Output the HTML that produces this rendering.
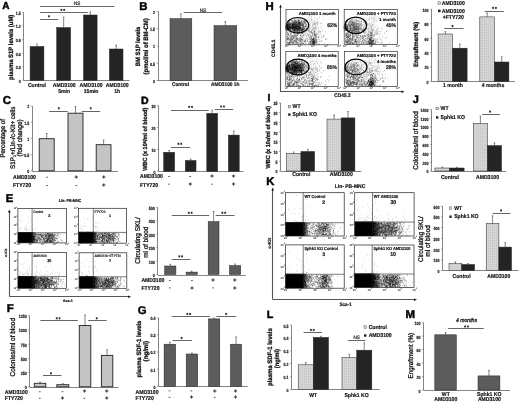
<!DOCTYPE html><html><head><meta charset="utf-8"><style>html,body{margin:0;padding:0;background:#fff}svg{display:block;will-change:transform}</style></head><body><svg width="520" height="402" viewBox="0 0 520 402" text-rendering="geometricPrecision" font-family='"Liberation Sans", sans-serif'>
<defs><filter id="bl" x="-50%" y="-50%" width="200%" height="200%"><feGaussianBlur stdDeviation="1.2"/></filter><filter id="bl2" x="-50%" y="-50%" width="200%" height="200%"><feGaussianBlur stdDeviation="0.6"/></filter><pattern id="dots" width="2" height="2" patternUnits="userSpaceOnUse"><rect width="2" height="2" fill="#d2d2d2"/><rect width="1" height="1" fill="#c6c6c6"/><rect x="1" y="1" width="1" height="1" fill="#d8d8d8"/></pattern></defs>
<rect width="520" height="402" fill="#fff"/>
<text x="2.37" y="8.95" font-size="10.07" font-weight="bold" fill="#000" stroke="#000" stroke-width="0.45">A</text>
<line x1="23.5" y1="12.5" x2="23.5" y2="80.3" stroke="#666" stroke-width="0.8"/>
<line x1="23.7" y1="80.5" x2="129.6" y2="80.5" stroke="#666" stroke-width="0.8"/>
<line x1="22.2" y1="12.5" x2="23.7" y2="12.5" stroke="#666" stroke-width="0.6"/>
<text x="20.7" y="13.45" font-size="4.61" text-anchor="end" font-weight="bold" fill="#111" dominant-baseline="central" stroke="#111" stroke-width="0.18" textLength="5" lengthAdjust="spacingAndGlyphs">1.5</text>
<line x1="22.2" y1="26" x2="23.7" y2="26" stroke="#666" stroke-width="0.6"/>
<text x="20.7" y="26.95" font-size="4.61" text-anchor="end" font-weight="bold" fill="#111" dominant-baseline="central" stroke="#111" stroke-width="0.18" textLength="5" lengthAdjust="spacingAndGlyphs">1.2</text>
<line x1="22.2" y1="39.6" x2="23.7" y2="39.6" stroke="#666" stroke-width="0.6"/>
<text x="20.7" y="40.55" font-size="4.61" text-anchor="end" font-weight="bold" fill="#111" dominant-baseline="central" stroke="#111" stroke-width="0.18" textLength="5" lengthAdjust="spacingAndGlyphs">0.9</text>
<line x1="22.2" y1="53.2" x2="23.7" y2="53.2" stroke="#666" stroke-width="0.6"/>
<text x="20.7" y="54.15" font-size="4.61" text-anchor="end" font-weight="bold" fill="#111" dominant-baseline="central" stroke="#111" stroke-width="0.18" textLength="5" lengthAdjust="spacingAndGlyphs">0.6</text>
<line x1="22.2" y1="66.8" x2="23.7" y2="66.8" stroke="#666" stroke-width="0.6"/>
<text x="20.7" y="67.75" font-size="4.61" text-anchor="end" font-weight="bold" fill="#111" dominant-baseline="central" stroke="#111" stroke-width="0.18" textLength="5" lengthAdjust="spacingAndGlyphs">0.3</text>
<line x1="22.2" y1="80.3" x2="23.7" y2="80.3" stroke="#666" stroke-width="0.6"/>
<text x="20.7" y="81.25" font-size="4.61" text-anchor="end" font-weight="bold" fill="#111" dominant-baseline="central" stroke="#111" stroke-width="0.18" textLength="2" lengthAdjust="spacingAndGlyphs">0</text>
<rect x="30.1" y="46.5" width="13.8" height="33.8" fill="#242424" stroke="#222" stroke-width="0.5"/>
<line x1="37" y1="44.1" x2="37" y2="46.5" stroke="#333" stroke-width="0.6"/>
<line x1="36.2" y1="44.1" x2="37.8" y2="44.1" stroke="#333" stroke-width="0.6"/>
<rect x="56.7" y="27.6" width="13.9" height="52.7" fill="#242424" stroke="#222" stroke-width="0.5"/>
<line x1="63.65" y1="17.1" x2="63.65" y2="27.6" stroke="#333" stroke-width="0.6"/>
<line x1="62.85" y1="17.1" x2="64.45" y2="17.1" stroke="#333" stroke-width="0.6"/>
<rect x="83.5" y="15" width="13.6" height="65.3" fill="#242424" stroke="#222" stroke-width="0.5"/>
<line x1="90.3" y1="11.9" x2="90.3" y2="15" stroke="#333" stroke-width="0.6"/>
<line x1="89.5" y1="11.9" x2="91.1" y2="11.9" stroke="#333" stroke-width="0.6"/>
<rect x="109.4" y="49" width="13.6" height="31.3" fill="#242424" stroke="#222" stroke-width="0.5"/>
<line x1="116.2" y1="45.2" x2="116.2" y2="49" stroke="#333" stroke-width="0.6"/>
<line x1="115.4" y1="45.2" x2="117" y2="45.2" stroke="#333" stroke-width="0.6"/>
<line x1="40" y1="6.5" x2="114.4" y2="6.5" stroke="#666" stroke-width="1"/>
<text x="77.2" y="3.95" font-size="5.06" text-anchor="middle" font-weight="normal" fill="#111" dominant-baseline="central" stroke="#111" stroke-width="0.18" textLength="6.39" lengthAdjust="spacingAndGlyphs">NS</text>
<line x1="40" y1="12.5" x2="87.7" y2="12.5" stroke="#666" stroke-width="1"/>
<path d="M61.4 8.8L61.4 11M62.35 9.35L60.45 10.45M62.35 10.45L60.45 9.35" stroke="#111" stroke-width="0.7"/>
<path d="M64.2 8.8L64.2 11M65.15 9.35L63.25 10.45M65.15 10.45L63.25 9.35" stroke="#111" stroke-width="0.7"/>
<line x1="40" y1="19.5" x2="58.3" y2="19.5" stroke="#666" stroke-width="1"/>
<path d="M49 15.2L49 17.4M49.95 15.75L48.05 16.85M49.95 16.85L48.05 15.75" stroke="#111" stroke-width="0.7"/>
<text x="37" y="85.65" font-size="5.61" text-anchor="middle" font-weight="bold" fill="#111" dominant-baseline="central" stroke="#111" stroke-width="0.18" textLength="18.13" lengthAdjust="spacingAndGlyphs">Control</text>
<text x="64.2" y="85.65" font-size="5.61" text-anchor="middle" font-weight="bold" fill="#111" dominant-baseline="central" stroke="#111" stroke-width="0.18" textLength="22.96" lengthAdjust="spacingAndGlyphs">AMD3100</text>
<text x="64.2" y="91.95" font-size="5.61" text-anchor="middle" font-weight="bold" fill="#111" dominant-baseline="central" stroke="#111" stroke-width="0.18" textLength="11.9" lengthAdjust="spacingAndGlyphs">5min</text>
<text x="91.1" y="85.65" font-size="5.61" text-anchor="middle" font-weight="bold" fill="#111" dominant-baseline="central" stroke="#111" stroke-width="0.18" textLength="22.96" lengthAdjust="spacingAndGlyphs">AMD3100</text>
<text x="91.1" y="91.95" font-size="5.61" text-anchor="middle" font-weight="bold" fill="#111" dominant-baseline="central" stroke="#111" stroke-width="0.18" textLength="14.74" lengthAdjust="spacingAndGlyphs">15min</text>
<text x="117.2" y="85.65" font-size="5.61" text-anchor="middle" font-weight="bold" fill="#111" dominant-baseline="central" stroke="#111" stroke-width="0.18" textLength="22.96" lengthAdjust="spacingAndGlyphs">AMD3100</text>
<text x="117.2" y="91.95" font-size="5.61" text-anchor="middle" font-weight="bold" fill="#111" dominant-baseline="central" stroke="#111" stroke-width="0.18" textLength="5.95" lengthAdjust="spacingAndGlyphs">1h</text>
<text x="11.5" y="47.3" font-size="6.38" text-anchor="middle" font-weight="bold" fill="#111" dominant-baseline="central" stroke="#111" stroke-width="0.3" transform="rotate(-90 11.5 47.3)" textLength="65.2" lengthAdjust="spacingAndGlyphs">plasma S1P levels (uM)</text>
<text x="139.34" y="9.85" font-size="11.38" font-weight="bold" fill="#000" stroke="#000" stroke-width="0.45">B</text>
<line x1="158.5" y1="11.4" x2="158.5" y2="80.3" stroke="#666" stroke-width="0.8"/>
<line x1="158" y1="80.5" x2="247.9" y2="80.5" stroke="#666" stroke-width="0.8"/>
<line x1="156.5" y1="11.4" x2="158" y2="11.4" stroke="#666" stroke-width="0.6"/>
<text x="155" y="12.35" font-size="4.61" text-anchor="end" font-weight="bold" fill="#111" dominant-baseline="central" stroke="#111" stroke-width="0.18" textLength="2" lengthAdjust="spacingAndGlyphs">2</text>
<line x1="156.5" y1="28.7" x2="158" y2="28.7" stroke="#666" stroke-width="0.6"/>
<text x="155" y="29.65" font-size="4.61" text-anchor="end" font-weight="bold" fill="#111" dominant-baseline="central" stroke="#111" stroke-width="0.18" textLength="5" lengthAdjust="spacingAndGlyphs">1.5</text>
<line x1="156.5" y1="46" x2="158" y2="46" stroke="#666" stroke-width="0.6"/>
<text x="155" y="46.95" font-size="4.61" text-anchor="end" font-weight="bold" fill="#111" dominant-baseline="central" stroke="#111" stroke-width="0.18" textLength="2" lengthAdjust="spacingAndGlyphs">1</text>
<line x1="156.5" y1="63.2" x2="158" y2="63.2" stroke="#666" stroke-width="0.6"/>
<text x="155" y="64.15" font-size="4.61" text-anchor="end" font-weight="bold" fill="#111" dominant-baseline="central" stroke="#111" stroke-width="0.18" textLength="5" lengthAdjust="spacingAndGlyphs">0.5</text>
<line x1="156.5" y1="80.5" x2="158" y2="80.5" stroke="#666" stroke-width="0.6"/>
<text x="155" y="81.45" font-size="4.61" text-anchor="end" font-weight="bold" fill="#111" dominant-baseline="central" stroke="#111" stroke-width="0.18" textLength="2" lengthAdjust="spacingAndGlyphs">0</text>
<rect x="170" y="18.7" width="21.8" height="61.8" fill="#5c5c5c" stroke="#222" stroke-width="0.5"/>
<line x1="180.9" y1="13.8" x2="180.9" y2="18.7" stroke="#333" stroke-width="0.6"/>
<line x1="180.1" y1="13.8" x2="181.7" y2="13.8" stroke="#333" stroke-width="0.6"/>
<rect x="214" y="25.6" width="22.7" height="54.9" fill="#5c5c5c" stroke="#222" stroke-width="0.5"/>
<line x1="225.35" y1="21.6" x2="225.35" y2="25.6" stroke="#333" stroke-width="0.6"/>
<line x1="224.55" y1="21.6" x2="226.15" y2="21.6" stroke="#333" stroke-width="0.6"/>
<line x1="183.8" y1="12.5" x2="222" y2="12.5" stroke="#666" stroke-width="1"/>
<text x="202.9" y="10.95" font-size="5.06" text-anchor="middle" font-weight="normal" fill="#111" dominant-baseline="central" stroke="#111" stroke-width="0.18" textLength="6.39" lengthAdjust="spacingAndGlyphs">NS</text>
<text x="180.5" y="85.45" font-size="5.28" text-anchor="middle" font-weight="bold" fill="#111" dominant-baseline="central" stroke="#111" stroke-width="0.18" textLength="17.06" lengthAdjust="spacingAndGlyphs">Control</text>
<text x="225.2" y="85.45" font-size="5.28" text-anchor="middle" font-weight="bold" fill="#111" dominant-baseline="central" stroke="#111" stroke-width="0.18" textLength="28.54" lengthAdjust="spacingAndGlyphs">AMD3100 1h</text>
<text x="138.7" y="46.45" font-size="6.31" text-anchor="middle" font-weight="bold" fill="#111" dominant-baseline="central" stroke="#111" stroke-width="0.3" transform="rotate(-90 138.7 46.45)" textLength="39.5" lengthAdjust="spacingAndGlyphs">BM S1P levels</text>
<text x="146.1" y="46.3" font-size="6.43" text-anchor="middle" font-weight="bold" fill="#111" dominant-baseline="central" stroke="#111" stroke-width="0.3" transform="rotate(-90 146.1 46.3)" textLength="56.2" lengthAdjust="spacingAndGlyphs">(pmol/ml of BM-CM)</text>
<text x="2.77" y="104.35" font-size="11.43" font-weight="bold" fill="#000" stroke="#000" stroke-width="0.45">C</text>
<line x1="32.5" y1="106" x2="32.5" y2="171" stroke="#666" stroke-width="0.8"/>
<line x1="32.2" y1="171.5" x2="118.1" y2="171.5" stroke="#666" stroke-width="0.8"/>
<line x1="30.7" y1="106" x2="32.2" y2="106" stroke="#666" stroke-width="0.6"/>
<text x="29.2" y="106.95" font-size="4.61" text-anchor="end" font-weight="bold" fill="#111" dominant-baseline="central" stroke="#111" stroke-width="0.18" textLength="2" lengthAdjust="spacingAndGlyphs">2</text>
<line x1="30.7" y1="122.2" x2="32.2" y2="122.2" stroke="#666" stroke-width="0.6"/>
<text x="29.2" y="123.15" font-size="4.61" text-anchor="end" font-weight="bold" fill="#111" dominant-baseline="central" stroke="#111" stroke-width="0.18" textLength="5" lengthAdjust="spacingAndGlyphs">1.5</text>
<line x1="30.7" y1="138.4" x2="32.2" y2="138.4" stroke="#666" stroke-width="0.6"/>
<text x="29.2" y="139.35" font-size="4.61" text-anchor="end" font-weight="bold" fill="#111" dominant-baseline="central" stroke="#111" stroke-width="0.18" textLength="2" lengthAdjust="spacingAndGlyphs">1</text>
<line x1="30.7" y1="154.6" x2="32.2" y2="154.6" stroke="#666" stroke-width="0.6"/>
<text x="29.2" y="155.55" font-size="4.61" text-anchor="end" font-weight="bold" fill="#111" dominant-baseline="central" stroke="#111" stroke-width="0.18" textLength="5" lengthAdjust="spacingAndGlyphs">0.5</text>
<line x1="30.7" y1="170.8" x2="32.2" y2="170.8" stroke="#666" stroke-width="0.6"/>
<text x="29.2" y="171.75" font-size="4.61" text-anchor="end" font-weight="bold" fill="#111" dominant-baseline="central" stroke="#111" stroke-width="0.18" textLength="2" lengthAdjust="spacingAndGlyphs">0</text>
<rect x="39.2" y="138.7" width="15" height="32.1" fill="#c4c4c4" stroke="#222" stroke-width="0.9"/>
<line x1="46.7" y1="133.5" x2="46.7" y2="138.7" stroke="#333" stroke-width="0.6"/>
<line x1="45.9" y1="133.5" x2="47.5" y2="133.5" stroke="#333" stroke-width="0.6"/>
<rect x="68" y="113.2" width="15" height="57.6" fill="#c4c4c4" stroke="#222" stroke-width="0.9"/>
<line x1="75.5" y1="106.5" x2="75.5" y2="113.2" stroke="#333" stroke-width="0.6"/>
<line x1="74.7" y1="106.5" x2="76.3" y2="106.5" stroke="#333" stroke-width="0.6"/>
<rect x="96.2" y="144.7" width="14.8" height="26.1" fill="#c4c4c4" stroke="#222" stroke-width="0.9"/>
<line x1="103.6" y1="140.2" x2="103.6" y2="144.7" stroke="#333" stroke-width="0.6"/>
<line x1="102.8" y1="140.2" x2="104.4" y2="140.2" stroke="#333" stroke-width="0.6"/>
<line x1="49.2" y1="111.5" x2="67.8" y2="111.5" stroke="#666" stroke-width="1"/>
<path d="M58.8 107.2L58.8 109.4M59.75 107.75L57.85 108.85M59.75 108.85L57.85 107.75" stroke="#111" stroke-width="0.7"/>
<line x1="81.7" y1="111.5" x2="100.2" y2="111.5" stroke="#666" stroke-width="1"/>
<path d="M90.7 107.2L90.7 109.4M91.65 107.75L89.75 108.85M91.65 108.85L89.75 107.75" stroke="#111" stroke-width="0.7"/>
<text x="4" y="138.3" font-size="6.7" text-anchor="middle" font-weight="normal" fill="#111" dominant-baseline="central" stroke="#111" stroke-width="0.3" transform="rotate(-90 4 138.3)" textLength="38.6" lengthAdjust="spacingAndGlyphs">Percentage of</text>
<text x="13.1" y="137.75" font-size="6.67" text-anchor="middle" font-weight="normal" fill="#111" dominant-baseline="central" stroke="#111" stroke-width="0.3" transform="rotate(-90 13.1 137.75)" textLength="62.5" lengthAdjust="spacingAndGlyphs">S1P<tspan font-size="3.8" dy="1.7">1</tspan><tspan dy="-1.7">+/Lin-/c-Kit+ cells</tspan></text>
<text x="20.3" y="137.85" font-size="6.87" text-anchor="middle" font-weight="normal" fill="#111" dominant-baseline="central" stroke="#111" stroke-width="0.3" transform="rotate(-90 20.3 137.85)" textLength="37.1" lengthAdjust="spacingAndGlyphs">(fold change)</text>
<text x="13" y="177.85" font-size="5.61" text-anchor="start" font-weight="bold" fill="#111" dominant-baseline="central" stroke="#111" stroke-width="0.18" textLength="22.96" lengthAdjust="spacingAndGlyphs">AMD3100</text>
<text x="13" y="186.05" font-size="5.61" text-anchor="start" font-weight="bold" fill="#111" dominant-baseline="central" stroke="#111" stroke-width="0.18" textLength="18.14" lengthAdjust="spacingAndGlyphs">FTY720</text>
<line x1="46.2" y1="177.2" x2="48" y2="177.2" stroke="#222" stroke-width="0.7"/>
<line x1="46.2" y1="185.5" x2="48" y2="185.5" stroke="#222" stroke-width="0.7"/>
<text x="76.3" y="177.85" font-size="6" text-anchor="middle" font-weight="bold" fill="#111" dominant-baseline="central" stroke="#111" stroke-width="0.18">+</text>
<line x1="75.4" y1="185.5" x2="77.2" y2="185.5" stroke="#222" stroke-width="0.7"/>
<text x="103.7" y="177.85" font-size="6" text-anchor="middle" font-weight="bold" fill="#111" dominant-baseline="central" stroke="#111" stroke-width="0.18">+</text>
<text x="103.7" y="186.15" font-size="6" text-anchor="middle" font-weight="bold" fill="#111" dominant-baseline="central" stroke="#111" stroke-width="0.18">+</text>
<text x="140.89" y="103.95" font-size="10.58" font-weight="bold" fill="#000" stroke="#000" stroke-width="0.45">D</text>
<line x1="158.5" y1="105.6" x2="158.5" y2="171.2" stroke="#666" stroke-width="0.8"/>
<line x1="158.5" y1="171.5" x2="243.5" y2="171.5" stroke="#666" stroke-width="0.8"/>
<line x1="157" y1="105.6" x2="158.5" y2="105.6" stroke="#666" stroke-width="0.6"/>
<text x="155.5" y="106.55" font-size="4.61" text-anchor="end" font-weight="bold" fill="#111" dominant-baseline="central" stroke="#111" stroke-width="0.18" textLength="4" lengthAdjust="spacingAndGlyphs">30</text>
<line x1="157" y1="127.5" x2="158.5" y2="127.5" stroke="#666" stroke-width="0.6"/>
<text x="155.5" y="128.45" font-size="4.61" text-anchor="end" font-weight="bold" fill="#111" dominant-baseline="central" stroke="#111" stroke-width="0.18" textLength="4" lengthAdjust="spacingAndGlyphs">20</text>
<line x1="157" y1="149.4" x2="158.5" y2="149.4" stroke="#666" stroke-width="0.6"/>
<text x="155.5" y="150.35" font-size="4.61" text-anchor="end" font-weight="bold" fill="#111" dominant-baseline="central" stroke="#111" stroke-width="0.18" textLength="4" lengthAdjust="spacingAndGlyphs">10</text>
<line x1="157" y1="171.3" x2="158.5" y2="171.3" stroke="#666" stroke-width="0.6"/>
<text x="155.5" y="172.25" font-size="4.61" text-anchor="end" font-weight="bold" fill="#111" dominant-baseline="central" stroke="#111" stroke-width="0.18" textLength="2" lengthAdjust="spacingAndGlyphs">0</text>
<rect x="163.7" y="152.3" width="10.9" height="19" fill="#242424" stroke="#222" stroke-width="0.5"/>
<line x1="169.15" y1="150.6" x2="169.15" y2="152.3" stroke="#333" stroke-width="0.6"/>
<line x1="168.35" y1="150.6" x2="169.95" y2="150.6" stroke="#333" stroke-width="0.6"/>
<rect x="185.3" y="160.5" width="10.7" height="10.8" fill="#242424" stroke="#222" stroke-width="0.5"/>
<line x1="190.65" y1="159.2" x2="190.65" y2="160.5" stroke="#333" stroke-width="0.6"/>
<line x1="189.85" y1="159.2" x2="191.45" y2="159.2" stroke="#333" stroke-width="0.6"/>
<rect x="206.8" y="113.4" width="10.8" height="57.9" fill="#242424" stroke="#222" stroke-width="0.5"/>
<line x1="212.2" y1="110.1" x2="212.2" y2="113.4" stroke="#333" stroke-width="0.6"/>
<line x1="211.4" y1="110.1" x2="213" y2="110.1" stroke="#333" stroke-width="0.6"/>
<rect x="228.4" y="135.1" width="10.8" height="36.2" fill="#242424" stroke="#222" stroke-width="0.5"/>
<line x1="233.8" y1="131" x2="233.8" y2="135.1" stroke="#333" stroke-width="0.6"/>
<line x1="233" y1="131" x2="234.6" y2="131" stroke="#333" stroke-width="0.6"/>
<line x1="171.1" y1="110.5" x2="208.7" y2="110.5" stroke="#666" stroke-width="1"/>
<path d="M189.2 105.8L189.2 108M190.15 106.35L188.25 107.45M190.15 107.45L188.25 106.35" stroke="#111" stroke-width="0.7"/>
<path d="M192 105.8L192 108M192.95 106.35L191.05 107.45M192.95 107.45L191.05 106.35" stroke="#111" stroke-width="0.7"/>
<line x1="214.7" y1="109.5" x2="233.2" y2="109.5" stroke="#666" stroke-width="1"/>
<path d="M221.1 105.4L221.1 107.6M222.05 105.95L220.15 107.05M222.05 107.05L220.15 105.95" stroke="#111" stroke-width="0.7"/>
<path d="M223.9 105.4L223.9 107.6M224.85 105.95L222.95 107.05M224.85 107.05L222.95 105.95" stroke="#111" stroke-width="0.7"/>
<line x1="171.1" y1="147.5" x2="190.2" y2="147.5" stroke="#666" stroke-width="1"/>
<path d="M178.4 142.7L178.4 144.9M179.35 143.25L177.45 144.35M179.35 144.35L177.45 143.25" stroke="#111" stroke-width="0.7"/>
<path d="M181.2 142.7L181.2 144.9M182.15 143.25L180.25 144.35M182.15 144.35L180.25 143.25" stroke="#111" stroke-width="0.7"/>
<text x="146.1" y="139.2" font-size="5.92" text-anchor="middle" font-weight="bold" fill="#111" dominant-baseline="central" stroke="#111" stroke-width="0.3" transform="rotate(-90 146.1 139.2)" textLength="63" lengthAdjust="spacingAndGlyphs">WBC (x 10<tspan font-size="4" dy="-1.8">6</tspan><tspan dy="1.8">/ml of blood)</tspan></text>
<text x="140" y="177.35" font-size="5.61" text-anchor="start" font-weight="bold" fill="#111" dominant-baseline="central" stroke="#111" stroke-width="0.18" textLength="22.96" lengthAdjust="spacingAndGlyphs">AMD3100</text>
<text x="140" y="185.55" font-size="5.61" text-anchor="start" font-weight="bold" fill="#111" dominant-baseline="central" stroke="#111" stroke-width="0.18" textLength="18.14" lengthAdjust="spacingAndGlyphs">FTY720</text>
<line x1="168.1" y1="176.5" x2="169.9" y2="176.5" stroke="#222" stroke-width="0.7"/>
<line x1="168.1" y1="184.2" x2="169.9" y2="184.2" stroke="#222" stroke-width="0.7"/>
<line x1="189.3" y1="176.5" x2="191.1" y2="176.5" stroke="#222" stroke-width="0.7"/>
<text x="190.2" y="184.85" font-size="6" text-anchor="middle" font-weight="bold" fill="#111" dominant-baseline="central" stroke="#111" stroke-width="0.18">+</text>
<text x="212" y="177.15" font-size="6" text-anchor="middle" font-weight="bold" fill="#111" dominant-baseline="central" stroke="#111" stroke-width="0.18">+</text>
<line x1="211.1" y1="184.2" x2="212.9" y2="184.2" stroke="#222" stroke-width="0.7"/>
<text x="233.5" y="177.15" font-size="6" text-anchor="middle" font-weight="bold" fill="#111" dominant-baseline="central" stroke="#111" stroke-width="0.18">+</text>
<text x="233.5" y="184.85" font-size="6" text-anchor="middle" font-weight="bold" fill="#111" dominant-baseline="central" stroke="#111" stroke-width="0.18">+</text>
<text x="6.74" y="311.95" font-size="11.45" font-weight="bold" fill="#000" stroke="#000" stroke-width="0.45">F</text>
<line x1="29.5" y1="315.7" x2="29.5" y2="387.2" stroke="#666" stroke-width="0.8"/>
<line x1="29.7" y1="387.5" x2="118.5" y2="387.5" stroke="#666" stroke-width="0.8"/>
<line x1="28.2" y1="315.7" x2="29.7" y2="315.7" stroke="#666" stroke-width="0.6"/>
<text x="26.7" y="316.65" font-size="4.61" text-anchor="end" font-weight="bold" fill="#111" dominant-baseline="central" stroke="#111" stroke-width="0.18" textLength="8.01" lengthAdjust="spacingAndGlyphs">1250</text>
<line x1="28.2" y1="330" x2="29.7" y2="330" stroke="#666" stroke-width="0.6"/>
<text x="26.7" y="330.95" font-size="4.61" text-anchor="end" font-weight="bold" fill="#111" dominant-baseline="central" stroke="#111" stroke-width="0.18" textLength="8.01" lengthAdjust="spacingAndGlyphs">1000</text>
<line x1="28.2" y1="344.2" x2="29.7" y2="344.2" stroke="#666" stroke-width="0.6"/>
<text x="26.7" y="345.15" font-size="4.61" text-anchor="end" font-weight="bold" fill="#111" dominant-baseline="central" stroke="#111" stroke-width="0.18" textLength="6.01" lengthAdjust="spacingAndGlyphs">750</text>
<line x1="28.2" y1="358.4" x2="29.7" y2="358.4" stroke="#666" stroke-width="0.6"/>
<text x="26.7" y="359.35" font-size="4.61" text-anchor="end" font-weight="bold" fill="#111" dominant-baseline="central" stroke="#111" stroke-width="0.18" textLength="6.01" lengthAdjust="spacingAndGlyphs">500</text>
<line x1="28.2" y1="372.6" x2="29.7" y2="372.6" stroke="#666" stroke-width="0.6"/>
<text x="26.7" y="373.55" font-size="4.61" text-anchor="end" font-weight="bold" fill="#111" dominant-baseline="central" stroke="#111" stroke-width="0.18" textLength="6.01" lengthAdjust="spacingAndGlyphs">250</text>
<line x1="28.2" y1="386.8" x2="29.7" y2="386.8" stroke="#666" stroke-width="0.6"/>
<text x="26.7" y="387.75" font-size="4.61" text-anchor="end" font-weight="bold" fill="#111" dominant-baseline="central" stroke="#111" stroke-width="0.18" textLength="2" lengthAdjust="spacingAndGlyphs">0</text>
<rect x="34.3" y="383.3" width="11.5" height="3.5" fill="#c4c4c4" stroke="#222" stroke-width="0.9"/>
<line x1="40.05" y1="382" x2="40.05" y2="383.3" stroke="#333" stroke-width="0.6"/>
<line x1="39.25" y1="382" x2="40.85" y2="382" stroke="#333" stroke-width="0.6"/>
<rect x="56.8" y="384.7" width="12" height="2.1" fill="#c4c4c4" stroke="#222" stroke-width="0.9"/>
<line x1="62.8" y1="383.6" x2="62.8" y2="384.7" stroke="#333" stroke-width="0.6"/>
<line x1="62" y1="383.6" x2="63.6" y2="383.6" stroke="#333" stroke-width="0.6"/>
<rect x="79.3" y="325.5" width="11.5" height="61.3" fill="#c4c4c4" stroke="#222" stroke-width="0.9"/>
<line x1="85.05" y1="315" x2="85.05" y2="325.5" stroke="#333" stroke-width="0.6"/>
<line x1="84.25" y1="315" x2="85.85" y2="315" stroke="#333" stroke-width="0.6"/>
<rect x="101.4" y="355.4" width="11.4" height="31.4" fill="#c4c4c4" stroke="#222" stroke-width="0.9"/>
<line x1="107.1" y1="349.8" x2="107.1" y2="355.4" stroke="#333" stroke-width="0.6"/>
<line x1="106.3" y1="349.8" x2="107.9" y2="349.8" stroke="#333" stroke-width="0.6"/>
<line x1="40.4" y1="320.5" x2="77.8" y2="320.5" stroke="#666" stroke-width="1"/>
<path d="M56.7 317.2L56.7 319.4M57.65 317.75L55.75 318.85M57.65 318.85L55.75 317.75" stroke="#111" stroke-width="0.7"/>
<path d="M59.5 317.2L59.5 319.4M60.45 317.75L58.55 318.85M60.45 318.85L58.55 317.75" stroke="#111" stroke-width="0.7"/>
<line x1="88.2" y1="320.5" x2="106.7" y2="320.5" stroke="#666" stroke-width="1"/>
<path d="M96.7 317.2L96.7 319.4M97.65 317.75L95.75 318.85M97.65 318.85L95.75 317.75" stroke="#111" stroke-width="0.7"/>
<line x1="43" y1="375.5" x2="61.5" y2="375.5" stroke="#666" stroke-width="1"/>
<path d="M50.9 372.2L50.9 374.4M51.85 372.75L49.95 373.85M51.85 373.85L49.95 372.75" stroke="#111" stroke-width="0.7"/>
<text x="13.2" y="347.2" font-size="6.96" text-anchor="middle" font-weight="normal" fill="#111" dominant-baseline="central" stroke="#111" stroke-width="0.3" transform="rotate(-90 13.2 347.2)" textLength="58.4" lengthAdjust="spacingAndGlyphs">Colonies/ml of blood</text>
<text x="4.8" y="393.35" font-size="5.61" text-anchor="start" font-weight="bold" fill="#111" dominant-baseline="central" stroke="#111" stroke-width="0.18" textLength="22.96" lengthAdjust="spacingAndGlyphs">AMD3100</text>
<text x="4.8" y="399.25" font-size="5.61" text-anchor="start" font-weight="bold" fill="#111" dominant-baseline="central" stroke="#111" stroke-width="0.18" textLength="18.14" lengthAdjust="spacingAndGlyphs">FTY720</text>
<line x1="38.9" y1="391.7" x2="40.7" y2="391.7" stroke="#222" stroke-width="0.7"/>
<line x1="38.9" y1="398.4" x2="40.7" y2="398.4" stroke="#222" stroke-width="0.7"/>
<line x1="61.5" y1="391.7" x2="63.3" y2="391.7" stroke="#222" stroke-width="0.7"/>
<text x="62.4" y="399.05" font-size="6" text-anchor="middle" font-weight="bold" fill="#111" dominant-baseline="central" stroke="#111" stroke-width="0.18">+</text>
<text x="84.4" y="392.35" font-size="6" text-anchor="middle" font-weight="bold" fill="#111" dominant-baseline="central" stroke="#111" stroke-width="0.18">+</text>
<line x1="83.5" y1="398.4" x2="85.3" y2="398.4" stroke="#222" stroke-width="0.7"/>
<text x="106.8" y="392.35" font-size="6" text-anchor="middle" font-weight="bold" fill="#111" dominant-baseline="central" stroke="#111" stroke-width="0.18">+</text>
<text x="106.8" y="399.05" font-size="6" text-anchor="middle" font-weight="bold" fill="#111" dominant-baseline="central" stroke="#111" stroke-width="0.18">+</text>
<text x="137.76" y="313.95" font-size="11.29" font-weight="bold" fill="#000" stroke="#000" stroke-width="0.45">G</text>
<line x1="158.5" y1="317.8" x2="158.5" y2="386.3" stroke="#666" stroke-width="0.8"/>
<line x1="158.5" y1="386.5" x2="247.7" y2="386.5" stroke="#666" stroke-width="0.8"/>
<line x1="157" y1="317.8" x2="158.5" y2="317.8" stroke="#666" stroke-width="0.6"/>
<text x="155.5" y="318.75" font-size="4.61" text-anchor="end" font-weight="bold" fill="#111" dominant-baseline="central" stroke="#111" stroke-width="0.18" textLength="5" lengthAdjust="spacingAndGlyphs">0.4</text>
<line x1="157" y1="334.9" x2="158.5" y2="334.9" stroke="#666" stroke-width="0.6"/>
<text x="155.5" y="335.85" font-size="4.61" text-anchor="end" font-weight="bold" fill="#111" dominant-baseline="central" stroke="#111" stroke-width="0.18" textLength="5" lengthAdjust="spacingAndGlyphs">0.3</text>
<line x1="157" y1="352" x2="158.5" y2="352" stroke="#666" stroke-width="0.6"/>
<text x="155.5" y="352.95" font-size="4.61" text-anchor="end" font-weight="bold" fill="#111" dominant-baseline="central" stroke="#111" stroke-width="0.18" textLength="5" lengthAdjust="spacingAndGlyphs">0.2</text>
<line x1="157" y1="369.2" x2="158.5" y2="369.2" stroke="#666" stroke-width="0.6"/>
<text x="155.5" y="370.15" font-size="4.61" text-anchor="end" font-weight="bold" fill="#111" dominant-baseline="central" stroke="#111" stroke-width="0.18" textLength="5" lengthAdjust="spacingAndGlyphs">0.1</text>
<line x1="157" y1="386.3" x2="158.5" y2="386.3" stroke="#666" stroke-width="0.6"/>
<text x="155.5" y="387.25" font-size="4.61" text-anchor="end" font-weight="bold" fill="#111" dominant-baseline="central" stroke="#111" stroke-width="0.18" textLength="2" lengthAdjust="spacingAndGlyphs">0</text>
<rect x="164.1" y="344.2" width="11.5" height="42.1" fill="#5c5c5c" stroke="#222" stroke-width="0.5"/>
<line x1="169.85" y1="342.3" x2="169.85" y2="344.2" stroke="#333" stroke-width="0.6"/>
<line x1="169.05" y1="342.3" x2="170.65" y2="342.3" stroke="#333" stroke-width="0.6"/>
<rect x="186.2" y="354" width="11.5" height="32.3" fill="#5c5c5c" stroke="#222" stroke-width="0.5"/>
<line x1="191.95" y1="353" x2="191.95" y2="354" stroke="#333" stroke-width="0.6"/>
<line x1="191.15" y1="353" x2="192.75" y2="353" stroke="#333" stroke-width="0.6"/>
<rect x="208.5" y="318.9" width="11.3" height="67.4" fill="#5c5c5c" stroke="#222" stroke-width="0.5"/>
<line x1="214.15" y1="318" x2="214.15" y2="318.9" stroke="#333" stroke-width="0.6"/>
<line x1="213.35" y1="318" x2="214.95" y2="318" stroke="#333" stroke-width="0.6"/>
<rect x="230.5" y="344.2" width="11.1" height="42.1" fill="#5c5c5c" stroke="#222" stroke-width="0.5"/>
<line x1="236.05" y1="336.9" x2="236.05" y2="344.2" stroke="#333" stroke-width="0.6"/>
<line x1="235.25" y1="336.9" x2="236.85" y2="336.9" stroke="#333" stroke-width="0.6"/>
<line x1="171.8" y1="316.5" x2="209.8" y2="316.5" stroke="#666" stroke-width="1"/>
<path d="M187.4 312.9L187.4 315.1M188.35 313.45L186.45 314.55M188.35 314.55L186.45 313.45" stroke="#111" stroke-width="0.7"/>
<path d="M190.2 312.9L190.2 315.1M191.15 313.45L189.25 314.55M191.15 314.55L189.25 313.45" stroke="#111" stroke-width="0.7"/>
<line x1="216.4" y1="316.5" x2="236" y2="316.5" stroke="#666" stroke-width="1"/>
<path d="M226.2 312.9L226.2 315.1M227.15 313.45L225.25 314.55M227.15 314.55L225.25 313.45" stroke="#111" stroke-width="0.7"/>
<line x1="172.7" y1="340.5" x2="191.9" y2="340.5" stroke="#666" stroke-width="1"/>
<path d="M181.6 336.9L181.6 339.1M182.55 337.45L180.65 338.55M182.55 338.55L180.65 337.45" stroke="#111" stroke-width="0.7"/>
<text x="139.9" y="349.05" font-size="6.33" text-anchor="middle" font-weight="bold" fill="#111" dominant-baseline="central" stroke="#111" stroke-width="0.3" transform="rotate(-90 139.9 349.05)" textLength="56.7" lengthAdjust="spacingAndGlyphs">plasma SDF-1 levels</text>
<text x="146.5" y="351.15" font-size="6.64" text-anchor="middle" font-weight="bold" fill="#111" dominant-baseline="central" stroke="#111" stroke-width="0.3" transform="rotate(-90 146.5 351.15)" textLength="20.5" lengthAdjust="spacingAndGlyphs">(ng/ml)</text>
<text x="135.6" y="392.85" font-size="5.61" text-anchor="start" font-weight="bold" fill="#111" dominant-baseline="central" stroke="#111" stroke-width="0.18" textLength="22.96" lengthAdjust="spacingAndGlyphs">AMD3100</text>
<text x="135.6" y="399.25" font-size="5.61" text-anchor="start" font-weight="bold" fill="#111" dominant-baseline="central" stroke="#111" stroke-width="0.18" textLength="18.14" lengthAdjust="spacingAndGlyphs">FTY720</text>
<line x1="168.6" y1="390.9" x2="170.4" y2="390.9" stroke="#222" stroke-width="0.7"/>
<line x1="168.6" y1="397.4" x2="170.4" y2="397.4" stroke="#222" stroke-width="0.7"/>
<line x1="190.5" y1="390.9" x2="192.3" y2="390.9" stroke="#222" stroke-width="0.7"/>
<text x="191.4" y="398.05" font-size="6" text-anchor="middle" font-weight="bold" fill="#111" dominant-baseline="central" stroke="#111" stroke-width="0.18">+</text>
<text x="214.7" y="391.55" font-size="6" text-anchor="middle" font-weight="bold" fill="#111" dominant-baseline="central" stroke="#111" stroke-width="0.18">+</text>
<line x1="213.8" y1="397.4" x2="215.6" y2="397.4" stroke="#222" stroke-width="0.7"/>
<text x="235.5" y="391.55" font-size="6" text-anchor="middle" font-weight="bold" fill="#111" dominant-baseline="central" stroke="#111" stroke-width="0.18">+</text>
<text x="235.5" y="398.05" font-size="6" text-anchor="middle" font-weight="bold" fill="#111" dominant-baseline="central" stroke="#111" stroke-width="0.18">+</text>
<line x1="157.5" y1="207.5" x2="157.5" y2="275" stroke="#666" stroke-width="0.8"/>
<line x1="157.8" y1="275.5" x2="245.8" y2="275.5" stroke="#666" stroke-width="0.8"/>
<line x1="156.3" y1="207.5" x2="157.8" y2="207.5" stroke="#666" stroke-width="0.6"/>
<text x="154.8" y="208.45" font-size="4.61" text-anchor="end" font-weight="bold" fill="#111" dominant-baseline="central" stroke="#111" stroke-width="0.18" textLength="6.01" lengthAdjust="spacingAndGlyphs">500</text>
<line x1="156.3" y1="220.9" x2="157.8" y2="220.9" stroke="#666" stroke-width="0.6"/>
<text x="154.8" y="221.85" font-size="4.61" text-anchor="end" font-weight="bold" fill="#111" dominant-baseline="central" stroke="#111" stroke-width="0.18" textLength="6.01" lengthAdjust="spacingAndGlyphs">400</text>
<line x1="156.3" y1="234.3" x2="157.8" y2="234.3" stroke="#666" stroke-width="0.6"/>
<text x="154.8" y="235.25" font-size="4.61" text-anchor="end" font-weight="bold" fill="#111" dominant-baseline="central" stroke="#111" stroke-width="0.18" textLength="6.01" lengthAdjust="spacingAndGlyphs">300</text>
<line x1="156.3" y1="247.7" x2="157.8" y2="247.7" stroke="#666" stroke-width="0.6"/>
<text x="154.8" y="248.65" font-size="4.61" text-anchor="end" font-weight="bold" fill="#111" dominant-baseline="central" stroke="#111" stroke-width="0.18" textLength="6.01" lengthAdjust="spacingAndGlyphs">200</text>
<line x1="156.3" y1="261.1" x2="157.8" y2="261.1" stroke="#666" stroke-width="0.6"/>
<text x="154.8" y="262.05" font-size="4.61" text-anchor="end" font-weight="bold" fill="#111" dominant-baseline="central" stroke="#111" stroke-width="0.18" textLength="6.01" lengthAdjust="spacingAndGlyphs">100</text>
<line x1="156.3" y1="274.5" x2="157.8" y2="274.5" stroke="#666" stroke-width="0.6"/>
<text x="154.8" y="275.45" font-size="4.61" text-anchor="end" font-weight="bold" fill="#111" dominant-baseline="central" stroke="#111" stroke-width="0.18" textLength="2" lengthAdjust="spacingAndGlyphs">0</text>
<rect x="164.7" y="266" width="11.2" height="8.5" fill="#5c5c5c" stroke="#222" stroke-width="0.5"/>
<line x1="170.3" y1="264.3" x2="170.3" y2="266" stroke="#333" stroke-width="0.6"/>
<line x1="169.5" y1="264.3" x2="171.1" y2="264.3" stroke="#333" stroke-width="0.6"/>
<rect x="186.1" y="272.1" width="11.2" height="2.4" fill="#5c5c5c" stroke="#222" stroke-width="0.5"/>
<line x1="191.7" y1="271.2" x2="191.7" y2="272.1" stroke="#333" stroke-width="0.6"/>
<line x1="190.9" y1="271.2" x2="192.5" y2="271.2" stroke="#333" stroke-width="0.6"/>
<rect x="208.2" y="221.6" width="10.8" height="52.9" fill="#5c5c5c" stroke="#222" stroke-width="0.5"/>
<line x1="213.6" y1="211.5" x2="213.6" y2="221.6" stroke="#333" stroke-width="0.6"/>
<line x1="212.8" y1="211.5" x2="214.4" y2="211.5" stroke="#333" stroke-width="0.6"/>
<rect x="229.5" y="265.6" width="11.2" height="8.9" fill="#5c5c5c" stroke="#222" stroke-width="0.5"/>
<line x1="235.1" y1="264" x2="235.1" y2="265.6" stroke="#333" stroke-width="0.6"/>
<line x1="234.3" y1="264" x2="235.9" y2="264" stroke="#333" stroke-width="0.6"/>
<line x1="171.8" y1="215.5" x2="209.1" y2="215.5" stroke="#666" stroke-width="1"/>
<path d="M188.8 211.7L188.8 213.9M189.75 212.25L187.85 213.35M189.75 213.35L187.85 212.25" stroke="#111" stroke-width="0.7"/>
<path d="M191.6 211.7L191.6 213.9M192.55 212.25L190.65 213.35M192.55 213.35L190.65 212.25" stroke="#111" stroke-width="0.7"/>
<line x1="215.7" y1="215.5" x2="234.6" y2="215.5" stroke="#666" stroke-width="1"/>
<path d="M222.4 211.7L222.4 213.9M223.35 212.25L221.45 213.35M223.35 213.35L221.45 212.25" stroke="#111" stroke-width="0.7"/>
<path d="M225.2 211.7L225.2 213.9M226.15 212.25L224.25 213.35M226.15 213.35L224.25 212.25" stroke="#111" stroke-width="0.7"/>
<line x1="171.8" y1="259.5" x2="190.5" y2="259.5" stroke="#666" stroke-width="1"/>
<path d="M179.3 255.3L179.3 257.5M180.25 255.85L178.35 256.95M180.25 256.95L178.35 255.85" stroke="#111" stroke-width="0.7"/>
<path d="M182.1 255.3L182.1 257.5M183.05 255.85L181.15 256.95M183.05 256.95L181.15 255.85" stroke="#111" stroke-width="0.7"/>
<text x="138.7" y="240.45" font-size="7" text-anchor="middle" font-weight="normal" fill="#111" dominant-baseline="central" stroke="#111" stroke-width="0.3" transform="rotate(-90 138.7 240.45)" textLength="46.5" lengthAdjust="spacingAndGlyphs">Circulating SKL/</text>
<text x="146.1" y="242.2" font-size="6.84" text-anchor="middle" font-weight="normal" fill="#111" dominant-baseline="central" stroke="#111" stroke-width="0.3" transform="rotate(-90 146.1 242.2)" textLength="31" lengthAdjust="spacingAndGlyphs">ml of blood</text>
<text x="141.4" y="281.35" font-size="5.61" text-anchor="start" font-weight="bold" fill="#111" dominant-baseline="central" stroke="#111" stroke-width="0.18" textLength="22.96" lengthAdjust="spacingAndGlyphs">AMD3100</text>
<text x="141.4" y="288.65" font-size="5.61" text-anchor="start" font-weight="bold" fill="#111" dominant-baseline="central" stroke="#111" stroke-width="0.18" textLength="18.14" lengthAdjust="spacingAndGlyphs">FTY720</text>
<line x1="168.9" y1="280.5" x2="170.7" y2="280.5" stroke="#222" stroke-width="0.7"/>
<line x1="168.9" y1="287.9" x2="170.7" y2="287.9" stroke="#222" stroke-width="0.7"/>
<line x1="191" y1="280.5" x2="192.8" y2="280.5" stroke="#222" stroke-width="0.7"/>
<text x="191.9" y="288.55" font-size="6" text-anchor="middle" font-weight="bold" fill="#111" dominant-baseline="central" stroke="#111" stroke-width="0.18">+</text>
<text x="213.1" y="281.15" font-size="6" text-anchor="middle" font-weight="bold" fill="#111" dominant-baseline="central" stroke="#111" stroke-width="0.18">+</text>
<line x1="212.2" y1="287.9" x2="214" y2="287.9" stroke="#222" stroke-width="0.7"/>
<text x="234.8" y="281.15" font-size="6" text-anchor="middle" font-weight="bold" fill="#111" dominant-baseline="central" stroke="#111" stroke-width="0.18">+</text>
<text x="234.8" y="288.55" font-size="6" text-anchor="middle" font-weight="bold" fill="#111" dominant-baseline="central" stroke="#111" stroke-width="0.18">+</text>
<line x1="431.5" y1="9.2" x2="431.5" y2="81.4" stroke="#666" stroke-width="0.8"/>
<line x1="431.6" y1="81.5" x2="515" y2="81.5" stroke="#666" stroke-width="0.8"/>
<line x1="430.1" y1="9.2" x2="431.6" y2="9.2" stroke="#666" stroke-width="0.6"/>
<text x="428.6" y="10.15" font-size="4.61" text-anchor="end" font-weight="bold" fill="#111" dominant-baseline="central" stroke="#111" stroke-width="0.18" textLength="6.01" lengthAdjust="spacingAndGlyphs">100</text>
<line x1="430.1" y1="23.7" x2="431.6" y2="23.7" stroke="#666" stroke-width="0.6"/>
<text x="428.6" y="24.65" font-size="4.61" text-anchor="end" font-weight="bold" fill="#111" dominant-baseline="central" stroke="#111" stroke-width="0.18" textLength="4" lengthAdjust="spacingAndGlyphs">80</text>
<line x1="430.1" y1="38.1" x2="431.6" y2="38.1" stroke="#666" stroke-width="0.6"/>
<text x="428.6" y="39.05" font-size="4.61" text-anchor="end" font-weight="bold" fill="#111" dominant-baseline="central" stroke="#111" stroke-width="0.18" textLength="4" lengthAdjust="spacingAndGlyphs">60</text>
<line x1="430.1" y1="52.6" x2="431.6" y2="52.6" stroke="#666" stroke-width="0.6"/>
<text x="428.6" y="53.55" font-size="4.61" text-anchor="end" font-weight="bold" fill="#111" dominant-baseline="central" stroke="#111" stroke-width="0.18" textLength="4" lengthAdjust="spacingAndGlyphs">40</text>
<line x1="430.1" y1="67" x2="431.6" y2="67" stroke="#666" stroke-width="0.6"/>
<text x="428.6" y="67.95" font-size="4.61" text-anchor="end" font-weight="bold" fill="#111" dominant-baseline="central" stroke="#111" stroke-width="0.18" textLength="4" lengthAdjust="spacingAndGlyphs">20</text>
<line x1="430.1" y1="81.5" x2="431.6" y2="81.5" stroke="#666" stroke-width="0.6"/>
<text x="428.6" y="82.45" font-size="4.61" text-anchor="end" font-weight="bold" fill="#111" dominant-baseline="central" stroke="#111" stroke-width="0.18" textLength="2" lengthAdjust="spacingAndGlyphs">0</text>
<rect x="438.1" y="34" width="14.5" height="47.5" fill="url(#dots)" stroke="#222" stroke-width="0.5"/>
<line x1="445.35" y1="31.6" x2="445.35" y2="34" stroke="#333" stroke-width="0.6"/>
<line x1="444.55" y1="31.6" x2="446.15" y2="31.6" stroke="#333" stroke-width="0.6"/>
<rect x="452.6" y="48.2" width="14.5" height="33.3" fill="#242424" stroke="#222" stroke-width="0.5"/>
<line x1="459.85" y1="44.2" x2="459.85" y2="48.2" stroke="#333" stroke-width="0.6"/>
<line x1="459.05" y1="44.2" x2="460.65" y2="44.2" stroke="#333" stroke-width="0.6"/>
<rect x="479.8" y="16.9" width="14.7" height="64.6" fill="url(#dots)" stroke="#222" stroke-width="0.5"/>
<line x1="487.15" y1="13.1" x2="487.15" y2="16.9" stroke="#333" stroke-width="0.6"/>
<line x1="486.35" y1="13.1" x2="487.95" y2="13.1" stroke="#333" stroke-width="0.6"/>
<rect x="494.5" y="62" width="14.4" height="19.5" fill="#242424" stroke="#222" stroke-width="0.5"/>
<line x1="501.7" y1="56.8" x2="501.7" y2="62" stroke="#333" stroke-width="0.6"/>
<line x1="500.9" y1="56.8" x2="502.5" y2="56.8" stroke="#333" stroke-width="0.6"/>
<line x1="444.3" y1="28.5" x2="463.5" y2="28.5" stroke="#666" stroke-width="1"/>
<path d="M452.5 25L452.5 27.2M453.45 25.55L451.55 26.65M453.45 26.65L451.55 25.55" stroke="#111" stroke-width="0.7"/>
<line x1="484.8" y1="11.5" x2="503.8" y2="11.5" stroke="#666" stroke-width="1"/>
<path d="M493.1 6.8L493.1 9M494.05 7.35L492.15 8.45M494.05 8.45L492.15 7.35" stroke="#111" stroke-width="0.7"/>
<path d="M495.9 6.8L495.9 9M496.85 7.35L494.95 8.45M496.85 8.45L494.95 7.35" stroke="#111" stroke-width="0.7"/>
<text x="453" y="86.15" font-size="5.61" text-anchor="middle" font-weight="bold" fill="#111" dominant-baseline="central" stroke="#111" stroke-width="0.18" textLength="19.83" lengthAdjust="spacingAndGlyphs">1 month</text>
<text x="493" y="86.15" font-size="5.61" text-anchor="middle" font-weight="bold" fill="#111" dominant-baseline="central" stroke="#111" stroke-width="0.18" textLength="22.67" lengthAdjust="spacingAndGlyphs">4 months</text>
<text x="416.3" y="44.3" font-size="6.32" text-anchor="middle" font-weight="bold" fill="#111" dominant-baseline="central" stroke="#111" stroke-width="0.3" transform="rotate(-90 416.3 44.3)" textLength="45.2" lengthAdjust="spacingAndGlyphs">Engraftment (%)</text>
<rect x="438" y="1.8" width="2.4" height="2.4" fill="#ddd" stroke="#555" stroke-width="0.5"/>
<text x="441.8" y="3.85" font-size="5.61" text-anchor="start" font-weight="bold" fill="#111" dominant-baseline="central" stroke="#111" stroke-width="0.18" textLength="22.96" lengthAdjust="spacingAndGlyphs">AMD3100</text>
<rect x="438" y="9.6" width="2.6" height="2.6" fill="#242424"/>
<text x="441.8" y="11.85" font-size="5.61" text-anchor="start" font-weight="bold" fill="#111" dominant-baseline="central" stroke="#111" stroke-width="0.18" textLength="22.96" lengthAdjust="spacingAndGlyphs">AMD3100</text>
<text x="442.7" y="17.65" font-size="5.61" text-anchor="start" font-weight="bold" fill="#111" dominant-baseline="central" stroke="#111" stroke-width="0.18" textLength="21.12" lengthAdjust="spacingAndGlyphs">+FTY720</text>
<text x="267.56" y="101.15" font-size="10.29" font-weight="bold" fill="#000" stroke="#000" stroke-width="0.45">I</text>
<line x1="280.5" y1="103" x2="280.5" y2="171" stroke="#666" stroke-width="0.8"/>
<line x1="280.5" y1="171.5" x2="361.3" y2="171.5" stroke="#666" stroke-width="0.8"/>
<line x1="279" y1="103" x2="280.5" y2="103" stroke="#666" stroke-width="0.6"/>
<text x="277.5" y="103.95" font-size="4.61" text-anchor="end" font-weight="bold" fill="#111" dominant-baseline="central" stroke="#111" stroke-width="0.18" textLength="4" lengthAdjust="spacingAndGlyphs">35</text>
<line x1="279" y1="112.7" x2="280.5" y2="112.7" stroke="#666" stroke-width="0.6"/>
<text x="277.5" y="113.65" font-size="4.61" text-anchor="end" font-weight="bold" fill="#111" dominant-baseline="central" stroke="#111" stroke-width="0.18" textLength="4" lengthAdjust="spacingAndGlyphs">30</text>
<line x1="279" y1="122.4" x2="280.5" y2="122.4" stroke="#666" stroke-width="0.6"/>
<text x="277.5" y="123.35" font-size="4.61" text-anchor="end" font-weight="bold" fill="#111" dominant-baseline="central" stroke="#111" stroke-width="0.18" textLength="4" lengthAdjust="spacingAndGlyphs">25</text>
<line x1="279" y1="132.1" x2="280.5" y2="132.1" stroke="#666" stroke-width="0.6"/>
<text x="277.5" y="133.05" font-size="4.61" text-anchor="end" font-weight="bold" fill="#111" dominant-baseline="central" stroke="#111" stroke-width="0.18" textLength="4" lengthAdjust="spacingAndGlyphs">20</text>
<line x1="279" y1="141.8" x2="280.5" y2="141.8" stroke="#666" stroke-width="0.6"/>
<text x="277.5" y="142.75" font-size="4.61" text-anchor="end" font-weight="bold" fill="#111" dominant-baseline="central" stroke="#111" stroke-width="0.18" textLength="4" lengthAdjust="spacingAndGlyphs">15</text>
<line x1="279" y1="151.5" x2="280.5" y2="151.5" stroke="#666" stroke-width="0.6"/>
<text x="277.5" y="152.45" font-size="4.61" text-anchor="end" font-weight="bold" fill="#111" dominant-baseline="central" stroke="#111" stroke-width="0.18" textLength="4" lengthAdjust="spacingAndGlyphs">10</text>
<line x1="279" y1="161.3" x2="280.5" y2="161.3" stroke="#666" stroke-width="0.6"/>
<text x="277.5" y="162.25" font-size="4.61" text-anchor="end" font-weight="bold" fill="#111" dominant-baseline="central" stroke="#111" stroke-width="0.18" textLength="2" lengthAdjust="spacingAndGlyphs">5</text>
<line x1="279" y1="171" x2="280.5" y2="171" stroke="#666" stroke-width="0.6"/>
<text x="277.5" y="171.95" font-size="4.61" text-anchor="end" font-weight="bold" fill="#111" dominant-baseline="central" stroke="#111" stroke-width="0.18" textLength="2" lengthAdjust="spacingAndGlyphs">0</text>
<rect x="286.3" y="153.3" width="14.7" height="17.7" fill="url(#dots)" stroke="#222" stroke-width="0.5"/>
<line x1="293.65" y1="152" x2="293.65" y2="153.3" stroke="#333" stroke-width="0.6"/>
<line x1="292.85" y1="152" x2="294.45" y2="152" stroke="#333" stroke-width="0.6"/>
<rect x="301" y="151.5" width="13.6" height="19.5" fill="#242424" stroke="#222" stroke-width="0.5"/>
<line x1="307.8" y1="149.3" x2="307.8" y2="151.5" stroke="#333" stroke-width="0.6"/>
<line x1="307" y1="149.3" x2="308.6" y2="149.3" stroke="#333" stroke-width="0.6"/>
<rect x="327" y="119.1" width="14.2" height="51.9" fill="url(#dots)" stroke="#222" stroke-width="0.5"/>
<line x1="334.1" y1="114.9" x2="334.1" y2="119.1" stroke="#333" stroke-width="0.6"/>
<line x1="333.3" y1="114.9" x2="334.9" y2="114.9" stroke="#333" stroke-width="0.6"/>
<rect x="341.2" y="117.9" width="13.7" height="53.1" fill="#242424" stroke="#222" stroke-width="0.5"/>
<line x1="348.05" y1="111.6" x2="348.05" y2="117.9" stroke="#333" stroke-width="0.6"/>
<line x1="347.25" y1="111.6" x2="348.85" y2="111.6" stroke="#333" stroke-width="0.6"/>
<text x="301.3" y="175.45" font-size="5.61" text-anchor="middle" font-weight="bold" fill="#111" dominant-baseline="central" stroke="#111" stroke-width="0.18" textLength="18.13" lengthAdjust="spacingAndGlyphs">Control</text>
<text x="341.3" y="175.45" font-size="5.61" text-anchor="middle" font-weight="bold" fill="#111" dominant-baseline="central" stroke="#111" stroke-width="0.18" textLength="22.96" lengthAdjust="spacingAndGlyphs">AMD3100</text>
<text x="269.5" y="137.2" font-size="5.86" text-anchor="middle" font-weight="bold" fill="#111" dominant-baseline="central" stroke="#111" stroke-width="0.3" transform="rotate(-90 269.5 137.2)" textLength="62.4" lengthAdjust="spacingAndGlyphs">WBC (x 10<tspan font-size="4" dy="-1.8">5</tspan><tspan dy="1.8">/ml of blood)</tspan></text>
<rect x="288.2" y="105.5" width="2.4" height="2.4" fill="#ddd" stroke="#555" stroke-width="0.5"/>
<text x="292.6" y="107.35" font-size="5.61" text-anchor="start" font-weight="bold" fill="#111" dominant-baseline="central" stroke="#111" stroke-width="0.18" textLength="7.93" lengthAdjust="spacingAndGlyphs">WT</text>
<rect x="288.2" y="113.4" width="2.4" height="2.4" fill="#242424"/>
<text x="292.6" y="115.25" font-size="5.61" text-anchor="start" font-weight="bold" fill="#111" dominant-baseline="central" stroke="#111" stroke-width="0.18" textLength="24.37" lengthAdjust="spacingAndGlyphs">Sphk1 KO</text>
<text x="412.8" y="102.95" font-size="11.01" font-weight="bold" fill="#000" stroke="#000" stroke-width="0.45">J</text>
<line x1="431.5" y1="109.4" x2="431.5" y2="171" stroke="#666" stroke-width="0.8"/>
<line x1="431.4" y1="171.5" x2="506.2" y2="171.5" stroke="#666" stroke-width="0.8"/>
<line x1="429.9" y1="109.4" x2="431.4" y2="109.4" stroke="#666" stroke-width="0.6"/>
<text x="428.4" y="110.35" font-size="4.61" text-anchor="end" font-weight="bold" fill="#111" dominant-baseline="central" stroke="#111" stroke-width="0.18" textLength="8.01" lengthAdjust="spacingAndGlyphs">1400</text>
<line x1="429.9" y1="118.2" x2="431.4" y2="118.2" stroke="#666" stroke-width="0.6"/>
<text x="428.4" y="119.15" font-size="4.61" text-anchor="end" font-weight="bold" fill="#111" dominant-baseline="central" stroke="#111" stroke-width="0.18" textLength="8.01" lengthAdjust="spacingAndGlyphs">1200</text>
<line x1="429.9" y1="127" x2="431.4" y2="127" stroke="#666" stroke-width="0.6"/>
<text x="428.4" y="127.95" font-size="4.61" text-anchor="end" font-weight="bold" fill="#111" dominant-baseline="central" stroke="#111" stroke-width="0.18" textLength="8.01" lengthAdjust="spacingAndGlyphs">1000</text>
<line x1="429.9" y1="135.8" x2="431.4" y2="135.8" stroke="#666" stroke-width="0.6"/>
<text x="428.4" y="136.75" font-size="4.61" text-anchor="end" font-weight="bold" fill="#111" dominant-baseline="central" stroke="#111" stroke-width="0.18" textLength="6.01" lengthAdjust="spacingAndGlyphs">800</text>
<line x1="429.9" y1="144.6" x2="431.4" y2="144.6" stroke="#666" stroke-width="0.6"/>
<text x="428.4" y="145.55" font-size="4.61" text-anchor="end" font-weight="bold" fill="#111" dominant-baseline="central" stroke="#111" stroke-width="0.18" textLength="6.01" lengthAdjust="spacingAndGlyphs">600</text>
<line x1="429.9" y1="153.4" x2="431.4" y2="153.4" stroke="#666" stroke-width="0.6"/>
<text x="428.4" y="154.35" font-size="4.61" text-anchor="end" font-weight="bold" fill="#111" dominant-baseline="central" stroke="#111" stroke-width="0.18" textLength="6.01" lengthAdjust="spacingAndGlyphs">400</text>
<line x1="429.9" y1="162.2" x2="431.4" y2="162.2" stroke="#666" stroke-width="0.6"/>
<text x="428.4" y="163.15" font-size="4.61" text-anchor="end" font-weight="bold" fill="#111" dominant-baseline="central" stroke="#111" stroke-width="0.18" textLength="6.01" lengthAdjust="spacingAndGlyphs">200</text>
<line x1="429.9" y1="171" x2="431.4" y2="171" stroke="#666" stroke-width="0.6"/>
<text x="428.4" y="171.95" font-size="4.61" text-anchor="end" font-weight="bold" fill="#111" dominant-baseline="central" stroke="#111" stroke-width="0.18" textLength="2" lengthAdjust="spacingAndGlyphs">0</text>
<rect x="434.9" y="168" width="14.8" height="3" fill="url(#dots)" stroke="#222" stroke-width="0.5"/>
<line x1="442.3" y1="167" x2="442.3" y2="168" stroke="#333" stroke-width="0.6"/>
<line x1="441.5" y1="167" x2="443.1" y2="167" stroke="#333" stroke-width="0.6"/>
<rect x="449.7" y="168" width="14.4" height="3" fill="#242424" stroke="#222" stroke-width="0.5"/>
<line x1="456.9" y1="167.4" x2="456.9" y2="168" stroke="#333" stroke-width="0.6"/>
<line x1="456.1" y1="167.4" x2="457.7" y2="167.4" stroke="#333" stroke-width="0.6"/>
<rect x="473.3" y="123.3" width="14.2" height="47.7" fill="url(#dots)" stroke="#222" stroke-width="0.5"/>
<line x1="480.4" y1="116.1" x2="480.4" y2="123.3" stroke="#333" stroke-width="0.6"/>
<line x1="479.6" y1="116.1" x2="481.2" y2="116.1" stroke="#333" stroke-width="0.6"/>
<rect x="487.5" y="145.6" width="14" height="25.4" fill="#242424" stroke="#222" stroke-width="0.5"/>
<line x1="494.5" y1="142.9" x2="494.5" y2="145.6" stroke="#333" stroke-width="0.6"/>
<line x1="493.7" y1="142.9" x2="495.3" y2="142.9" stroke="#333" stroke-width="0.6"/>
<line x1="482.1" y1="114.5" x2="500" y2="114.5" stroke="#666" stroke-width="1"/>
<path d="M490.1 110.5L490.1 112.7M491.05 111.05L489.15 112.15M491.05 112.15L489.15 111.05" stroke="#111" stroke-width="0.7"/>
<text x="450" y="178.15" font-size="5.61" text-anchor="middle" font-weight="bold" fill="#111" dominant-baseline="central" stroke="#111" stroke-width="0.18" textLength="18.13" lengthAdjust="spacingAndGlyphs">Control</text>
<text x="487.5" y="178.15" font-size="5.61" text-anchor="middle" font-weight="bold" fill="#111" dominant-baseline="central" stroke="#111" stroke-width="0.18" textLength="22.96" lengthAdjust="spacingAndGlyphs">AMD3100</text>
<text x="416.7" y="140.45" font-size="6.97" text-anchor="middle" font-weight="normal" fill="#111" dominant-baseline="central" stroke="#111" stroke-width="0.3" transform="rotate(-90 416.7 140.45)" textLength="58.5" lengthAdjust="spacingAndGlyphs">Colonies/ml of blood</text>
<rect x="436" y="107.4" width="2.4" height="2.4" fill="#ddd" stroke="#555" stroke-width="0.5"/>
<text x="440.6" y="109.25" font-size="5.61" text-anchor="start" font-weight="bold" fill="#111" dominant-baseline="central" stroke="#111" stroke-width="0.18" textLength="7.93" lengthAdjust="spacingAndGlyphs">WT</text>
<rect x="436" y="116.2" width="2.4" height="2.4" fill="#242424"/>
<text x="440.6" y="118.05" font-size="5.61" text-anchor="start" font-weight="bold" fill="#111" dominant-baseline="central" stroke="#111" stroke-width="0.18" textLength="24.37" lengthAdjust="spacingAndGlyphs">Sphk1 KO</text>
<line x1="442.5" y1="206.2" x2="442.5" y2="270.4" stroke="#666" stroke-width="0.8"/>
<line x1="442.5" y1="270.5" x2="518.5" y2="270.5" stroke="#666" stroke-width="0.8"/>
<line x1="441" y1="206.2" x2="442.5" y2="206.2" stroke="#666" stroke-width="0.6"/>
<text x="439.5" y="207.15" font-size="4.61" text-anchor="end" font-weight="bold" fill="#111" dominant-baseline="central" stroke="#111" stroke-width="0.18" textLength="6.01" lengthAdjust="spacingAndGlyphs">600</text>
<line x1="441" y1="216.9" x2="442.5" y2="216.9" stroke="#666" stroke-width="0.6"/>
<text x="439.5" y="217.85" font-size="4.61" text-anchor="end" font-weight="bold" fill="#111" dominant-baseline="central" stroke="#111" stroke-width="0.18" textLength="6.01" lengthAdjust="spacingAndGlyphs">500</text>
<line x1="441" y1="227.6" x2="442.5" y2="227.6" stroke="#666" stroke-width="0.6"/>
<text x="439.5" y="228.55" font-size="4.61" text-anchor="end" font-weight="bold" fill="#111" dominant-baseline="central" stroke="#111" stroke-width="0.18" textLength="6.01" lengthAdjust="spacingAndGlyphs">400</text>
<line x1="441" y1="238.3" x2="442.5" y2="238.3" stroke="#666" stroke-width="0.6"/>
<text x="439.5" y="239.25" font-size="4.61" text-anchor="end" font-weight="bold" fill="#111" dominant-baseline="central" stroke="#111" stroke-width="0.18" textLength="6.01" lengthAdjust="spacingAndGlyphs">300</text>
<line x1="441" y1="249.1" x2="442.5" y2="249.1" stroke="#666" stroke-width="0.6"/>
<text x="439.5" y="250.05" font-size="4.61" text-anchor="end" font-weight="bold" fill="#111" dominant-baseline="central" stroke="#111" stroke-width="0.18" textLength="6.01" lengthAdjust="spacingAndGlyphs">200</text>
<line x1="441" y1="259.8" x2="442.5" y2="259.8" stroke="#666" stroke-width="0.6"/>
<text x="439.5" y="260.75" font-size="4.61" text-anchor="end" font-weight="bold" fill="#111" dominant-baseline="central" stroke="#111" stroke-width="0.18" textLength="6.01" lengthAdjust="spacingAndGlyphs">100</text>
<line x1="441" y1="270.5" x2="442.5" y2="270.5" stroke="#666" stroke-width="0.6"/>
<text x="439.5" y="271.45" font-size="4.61" text-anchor="end" font-weight="bold" fill="#111" dominant-baseline="central" stroke="#111" stroke-width="0.18" textLength="2" lengthAdjust="spacingAndGlyphs">0</text>
<rect x="449" y="263.6" width="12.8" height="6.9" fill="url(#dots)" stroke="#222" stroke-width="0.5"/>
<line x1="455.4" y1="261.8" x2="455.4" y2="263.6" stroke="#333" stroke-width="0.6"/>
<line x1="454.6" y1="261.8" x2="456.2" y2="261.8" stroke="#333" stroke-width="0.6"/>
<rect x="461.8" y="264.5" width="12.8" height="6" fill="#242424" stroke="#222" stroke-width="0.5"/>
<line x1="468.2" y1="263.6" x2="468.2" y2="264.5" stroke="#333" stroke-width="0.6"/>
<line x1="467.4" y1="263.6" x2="469" y2="263.6" stroke="#333" stroke-width="0.6"/>
<rect x="486.2" y="223.3" width="12.7" height="47.2" fill="url(#dots)" stroke="#222" stroke-width="0.5"/>
<line x1="492.55" y1="215.8" x2="492.55" y2="223.3" stroke="#333" stroke-width="0.6"/>
<line x1="491.75" y1="215.8" x2="493.35" y2="215.8" stroke="#333" stroke-width="0.6"/>
<rect x="498.9" y="247.1" width="12.6" height="23.4" fill="#242424" stroke="#222" stroke-width="0.5"/>
<line x1="505.2" y1="242.7" x2="505.2" y2="247.1" stroke="#333" stroke-width="0.6"/>
<line x1="504.4" y1="242.7" x2="506" y2="242.7" stroke="#333" stroke-width="0.6"/>
<line x1="492.7" y1="213.5" x2="510.5" y2="213.5" stroke="#666" stroke-width="1"/>
<path d="M501.1 209.3L501.1 211.5M502.05 209.85L500.15 210.95M502.05 210.95L500.15 209.85" stroke="#111" stroke-width="0.7"/>
<text x="461.6" y="276.65" font-size="5.61" text-anchor="middle" font-weight="bold" fill="#111" dominant-baseline="central" stroke="#111" stroke-width="0.18" textLength="18.13" lengthAdjust="spacingAndGlyphs">Control</text>
<text x="498.8" y="276.85" font-size="5.61" text-anchor="middle" font-weight="bold" fill="#111" dominant-baseline="central" stroke="#111" stroke-width="0.18" textLength="22.96" lengthAdjust="spacingAndGlyphs">AMD3100</text>
<text x="421.8" y="239.05" font-size="6.88" text-anchor="middle" font-weight="normal" fill="#111" dominant-baseline="central" stroke="#111" stroke-width="0.3" transform="rotate(-90 421.8 239.05)" textLength="45.7" lengthAdjust="spacingAndGlyphs">Circulating SKL/</text>
<text x="429" y="240.95" font-size="6.96" text-anchor="middle" font-weight="normal" fill="#111" dominant-baseline="central" stroke="#111" stroke-width="0.3" transform="rotate(-90 429 240.95)" textLength="31.5" lengthAdjust="spacingAndGlyphs">ml of blood</text>
<rect x="449.3" y="206.9" width="2.4" height="2.4" fill="#ddd" stroke="#555" stroke-width="0.5"/>
<text x="454.2" y="208.75" font-size="5.61" text-anchor="start" font-weight="bold" fill="#111" dominant-baseline="central" stroke="#111" stroke-width="0.18" textLength="7.93" lengthAdjust="spacingAndGlyphs">WT</text>
<rect x="449.3" y="215.5" width="2.4" height="2.4" fill="#242424"/>
<text x="454.2" y="217.35" font-size="5.61" text-anchor="start" font-weight="bold" fill="#111" dominant-baseline="central" stroke="#111" stroke-width="0.18" textLength="24.37" lengthAdjust="spacingAndGlyphs">Sphk1 KO</text>
<text x="266.66" y="317.95" font-size="10.72" font-weight="bold" fill="#000" stroke="#000" stroke-width="0.45">L</text>
<line x1="291.5" y1="325.1" x2="291.5" y2="389.4" stroke="#666" stroke-width="0.8"/>
<line x1="291.6" y1="389.5" x2="379.6" y2="389.5" stroke="#666" stroke-width="0.8"/>
<line x1="290.1" y1="325.1" x2="291.6" y2="325.1" stroke="#666" stroke-width="0.6"/>
<text x="288.6" y="326.05" font-size="4.61" text-anchor="end" font-weight="bold" fill="#111" dominant-baseline="central" stroke="#111" stroke-width="0.18" textLength="5" lengthAdjust="spacingAndGlyphs">0.5</text>
<line x1="290.1" y1="338" x2="291.6" y2="338" stroke="#666" stroke-width="0.6"/>
<text x="288.6" y="338.95" font-size="4.61" text-anchor="end" font-weight="bold" fill="#111" dominant-baseline="central" stroke="#111" stroke-width="0.18" textLength="5" lengthAdjust="spacingAndGlyphs">0.4</text>
<line x1="290.1" y1="350.9" x2="291.6" y2="350.9" stroke="#666" stroke-width="0.6"/>
<text x="288.6" y="351.85" font-size="4.61" text-anchor="end" font-weight="bold" fill="#111" dominant-baseline="central" stroke="#111" stroke-width="0.18" textLength="5" lengthAdjust="spacingAndGlyphs">0.3</text>
<line x1="290.1" y1="363.7" x2="291.6" y2="363.7" stroke="#666" stroke-width="0.6"/>
<text x="288.6" y="364.65" font-size="4.61" text-anchor="end" font-weight="bold" fill="#111" dominant-baseline="central" stroke="#111" stroke-width="0.18" textLength="5" lengthAdjust="spacingAndGlyphs">0.2</text>
<line x1="290.1" y1="376.6" x2="291.6" y2="376.6" stroke="#666" stroke-width="0.6"/>
<text x="288.6" y="377.55" font-size="4.61" text-anchor="end" font-weight="bold" fill="#111" dominant-baseline="central" stroke="#111" stroke-width="0.18" textLength="5" lengthAdjust="spacingAndGlyphs">0.1</text>
<line x1="290.1" y1="389.5" x2="291.6" y2="389.5" stroke="#666" stroke-width="0.6"/>
<text x="288.6" y="390.45" font-size="4.61" text-anchor="end" font-weight="bold" fill="#111" dominant-baseline="central" stroke="#111" stroke-width="0.18" textLength="2" lengthAdjust="spacingAndGlyphs">0</text>
<rect x="298.2" y="364.8" width="15.1" height="24.7" fill="url(#dots)" stroke="#222" stroke-width="0.5"/>
<line x1="305.75" y1="362.4" x2="305.75" y2="364.8" stroke="#333" stroke-width="0.6"/>
<line x1="304.95" y1="362.4" x2="306.55" y2="362.4" stroke="#333" stroke-width="0.6"/>
<rect x="313.3" y="337.4" width="15.2" height="52.1" fill="#242424" stroke="#222" stroke-width="0.5"/>
<line x1="320.9" y1="336.3" x2="320.9" y2="337.4" stroke="#333" stroke-width="0.6"/>
<line x1="320.1" y1="336.3" x2="321.7" y2="336.3" stroke="#333" stroke-width="0.6"/>
<rect x="342" y="357.5" width="14.7" height="32" fill="url(#dots)" stroke="#222" stroke-width="0.5"/>
<line x1="349.35" y1="354.4" x2="349.35" y2="357.5" stroke="#333" stroke-width="0.6"/>
<line x1="348.55" y1="354.4" x2="350.15" y2="354.4" stroke="#333" stroke-width="0.6"/>
<rect x="356.7" y="350.2" width="15.1" height="39.3" fill="#242424" stroke="#222" stroke-width="0.5"/>
<line x1="364.25" y1="342.9" x2="364.25" y2="350.2" stroke="#333" stroke-width="0.6"/>
<line x1="363.45" y1="342.9" x2="365.05" y2="342.9" stroke="#333" stroke-width="0.6"/>
<line x1="303.6" y1="332.5" x2="321.9" y2="332.5" stroke="#666" stroke-width="1"/>
<path d="M310.9 328.9L310.9 331.1M311.85 329.45L309.95 330.55M311.85 330.55L309.95 329.45" stroke="#111" stroke-width="0.7"/>
<path d="M313.7 328.9L313.7 331.1M314.65 329.45L312.75 330.55M314.65 330.55L312.75 329.45" stroke="#111" stroke-width="0.7"/>
<line x1="348.1" y1="340.5" x2="365.4" y2="340.5" stroke="#666" stroke-width="1"/>
<text x="356.7" y="338.05" font-size="5.06" text-anchor="middle" font-weight="normal" fill="#111" dominant-baseline="central" stroke="#111" stroke-width="0.18" textLength="6.39" lengthAdjust="spacingAndGlyphs">NS</text>
<text x="313.2" y="395.65" font-size="5.61" text-anchor="middle" font-weight="bold" fill="#111" dominant-baseline="central" stroke="#111" stroke-width="0.18" textLength="7.93" lengthAdjust="spacingAndGlyphs">WT</text>
<text x="356.6" y="395.65" font-size="5.61" text-anchor="middle" font-weight="bold" fill="#111" dominant-baseline="central" stroke="#111" stroke-width="0.18" textLength="24.37" lengthAdjust="spacingAndGlyphs">Sphk1 KO</text>
<text x="270.5" y="357.1" font-size="6.45" text-anchor="middle" font-weight="bold" fill="#111" dominant-baseline="central" stroke="#111" stroke-width="0.3" transform="rotate(-90 270.5 357.1)" textLength="57.8" lengthAdjust="spacingAndGlyphs">plasma SDF-1 levels</text>
<text x="277.5" y="358.6" font-size="6.22" text-anchor="middle" font-weight="bold" fill="#111" dominant-baseline="central" stroke="#111" stroke-width="0.3" transform="rotate(-90 277.5 358.6)" textLength="19.2" lengthAdjust="spacingAndGlyphs">(ng/ml)</text>
<rect x="364" y="325.8" width="2.4" height="2.4" fill="#ddd" stroke="#555" stroke-width="0.5"/>
<text x="368.7" y="327.65" font-size="5.61" text-anchor="start" font-weight="bold" fill="#111" dominant-baseline="central" stroke="#111" stroke-width="0.18" textLength="18.13" lengthAdjust="spacingAndGlyphs">Control</text>
<rect x="364" y="334.3" width="2.4" height="2.4" fill="#242424"/>
<text x="368.7" y="336.15" font-size="5.61" text-anchor="start" font-weight="bold" fill="#111" dominant-baseline="central" stroke="#111" stroke-width="0.18" textLength="22.96" lengthAdjust="spacingAndGlyphs">AMD3100</text>
<text x="405.55" y="317.55" font-size="11.45" font-weight="bold" fill="#000" stroke="#000" stroke-width="0.45">M</text>
<line x1="423.5" y1="322.6" x2="423.5" y2="390" stroke="#666" stroke-width="0.8"/>
<line x1="423.4" y1="390.5" x2="510" y2="390.5" stroke="#666" stroke-width="0.8"/>
<line x1="421.9" y1="322.6" x2="423.4" y2="322.6" stroke="#666" stroke-width="0.6"/>
<text x="420.4" y="323.55" font-size="4.61" text-anchor="end" font-weight="bold" fill="#111" dominant-baseline="central" stroke="#111" stroke-width="0.18" textLength="6.01" lengthAdjust="spacingAndGlyphs">100</text>
<line x1="421.9" y1="336.1" x2="423.4" y2="336.1" stroke="#666" stroke-width="0.6"/>
<text x="420.4" y="337.05" font-size="4.61" text-anchor="end" font-weight="bold" fill="#111" dominant-baseline="central" stroke="#111" stroke-width="0.18" textLength="4" lengthAdjust="spacingAndGlyphs">80</text>
<line x1="421.9" y1="349.6" x2="423.4" y2="349.6" stroke="#666" stroke-width="0.6"/>
<text x="420.4" y="350.55" font-size="4.61" text-anchor="end" font-weight="bold" fill="#111" dominant-baseline="central" stroke="#111" stroke-width="0.18" textLength="4" lengthAdjust="spacingAndGlyphs">60</text>
<line x1="421.9" y1="363.1" x2="423.4" y2="363.1" stroke="#666" stroke-width="0.6"/>
<text x="420.4" y="364.05" font-size="4.61" text-anchor="end" font-weight="bold" fill="#111" dominant-baseline="central" stroke="#111" stroke-width="0.18" textLength="4" lengthAdjust="spacingAndGlyphs">40</text>
<line x1="421.9" y1="376.6" x2="423.4" y2="376.6" stroke="#666" stroke-width="0.6"/>
<text x="420.4" y="377.55" font-size="4.61" text-anchor="end" font-weight="bold" fill="#111" dominant-baseline="central" stroke="#111" stroke-width="0.18" textLength="4" lengthAdjust="spacingAndGlyphs">20</text>
<line x1="421.9" y1="390.1" x2="423.4" y2="390.1" stroke="#666" stroke-width="0.6"/>
<text x="420.4" y="391.05" font-size="4.61" text-anchor="end" font-weight="bold" fill="#111" dominant-baseline="central" stroke="#111" stroke-width="0.18" textLength="2" lengthAdjust="spacingAndGlyphs">0</text>
<rect x="434.8" y="334.8" width="21.5" height="55.3" fill="#5c5c5c" stroke="#222" stroke-width="0.5"/>
<line x1="445.55" y1="332.5" x2="445.55" y2="334.8" stroke="#333" stroke-width="0.6"/>
<line x1="444.75" y1="332.5" x2="446.35" y2="332.5" stroke="#333" stroke-width="0.6"/>
<rect x="478" y="375.9" width="21.9" height="14.2" fill="#5c5c5c" stroke="#222" stroke-width="0.5"/>
<line x1="488.95" y1="370.4" x2="488.95" y2="375.9" stroke="#333" stroke-width="0.6"/>
<line x1="488.15" y1="370.4" x2="489.75" y2="370.4" stroke="#333" stroke-width="0.6"/>
<line x1="448.2" y1="328.5" x2="483.8" y2="328.5" stroke="#666" stroke-width="1"/>
<path d="M465.1 325.4L465.1 327.6M466.05 325.95L464.15 327.05M466.05 327.05L464.15 325.95" stroke="#111" stroke-width="0.7"/>
<path d="M467.9 325.4L467.9 327.6M468.85 325.95L466.95 327.05M468.85 327.05L466.95 325.95" stroke="#111" stroke-width="0.7"/>
<text x="466.5" y="321.05" font-size="5.61" text-anchor="middle" font-weight="normal" fill="#111" dominant-baseline="central" stroke="#111" stroke-width="0.3" textLength="20.98" lengthAdjust="spacingAndGlyphs" font-style="italic">4 months</text>
<text x="445.8" y="394.55" font-size="5.61" text-anchor="middle" font-weight="bold" fill="#111" dominant-baseline="central" stroke="#111" stroke-width="0.18" textLength="7.93" lengthAdjust="spacingAndGlyphs">WT</text>
<text x="445.8" y="399.65" font-size="5.61" text-anchor="middle" font-weight="bold" fill="#111" dominant-baseline="central" stroke="#111" stroke-width="0.18" textLength="22.96" lengthAdjust="spacingAndGlyphs">AMD3100</text>
<text x="489.2" y="394.55" font-size="5.61" text-anchor="middle" font-weight="bold" fill="#111" dominant-baseline="central" stroke="#111" stroke-width="0.18" textLength="24.37" lengthAdjust="spacingAndGlyphs">Sphk1 KO</text>
<text x="489.4" y="399.65" font-size="5.61" text-anchor="middle" font-weight="bold" fill="#111" dominant-baseline="central" stroke="#111" stroke-width="0.18" textLength="22.96" lengthAdjust="spacingAndGlyphs">AMD3100</text>
<text x="411.2" y="355.7" font-size="6.74" text-anchor="middle" font-weight="normal" fill="#111" dominant-baseline="central" stroke="#111" stroke-width="0.3" transform="rotate(-90 411.2 355.7)" textLength="45.4" lengthAdjust="spacingAndGlyphs">Engraftment (%)</text>
<defs><filter id="sb" x="-5%" y="-5%" width="110%" height="110%"><feGaussianBlur stdDeviation="0.28"/></filter><filter id="sb2" x="-20%" y="-20%" width="140%" height="140%"><feGaussianBlur stdDeviation="0.7"/></filter></defs>
<text x="5.8" y="202.05" font-size="11.3" font-weight="bold" fill="#000" stroke="#000" stroke-width="0.45">E</text>
<text x="70" y="200.05" font-size="4.07" text-anchor="middle" font-weight="bold" fill="#111" dominant-baseline="central" stroke="#111" stroke-width="0.18" textLength="22.61" lengthAdjust="spacingAndGlyphs">Lin- PB-MNC</text>
<line x1="9.5" y1="211.5" x2="9.5" y2="296.5" stroke="#555" stroke-width="1.1"/>
<path d="M8 212.5L9.3 209.5L10.6 212.5z" fill="#111"/>
<line x1="9.3" y1="296.5" x2="129" y2="296.5" stroke="#555" stroke-width="1.1"/>
<path d="M128 295.5L131 296.8L128 298.1z" fill="#111"/>
<text x="6.3" y="252.9" font-size="3.3" text-anchor="middle" font-weight="bold" fill="#111" dominant-baseline="central" stroke="#111" stroke-width="0.18" transform="rotate(-90 6.3 252.9)" textLength="8.2" lengthAdjust="spacingAndGlyphs">c-Kit</text>
<text x="67.9" y="300.55" font-size="3.5" text-anchor="middle" font-weight="bold" fill="#111" dominant-baseline="central" stroke="#111" stroke-width="0.18" textLength="9.7" lengthAdjust="spacingAndGlyphs">Sca-1</text>
<text x="17.3" y="243.2" font-size="2.6" font-weight="bold" text-anchor="end" dominant-baseline="central" fill="#222">10<tspan font-size="1.82" dy="-0.8">0</tspan></text>
<text x="18.5" y="244.9" font-size="2.6" font-weight="bold" text-anchor="middle" dominant-baseline="central" fill="#222">10<tspan font-size="1.82" dy="-0.8">0</tspan></text>
<text x="17.3" y="234.58" font-size="2.6" font-weight="bold" text-anchor="end" dominant-baseline="central" fill="#222">10<tspan font-size="1.82" dy="-0.8">1</tspan></text>
<text x="30.62" y="244.9" font-size="2.6" font-weight="bold" text-anchor="middle" dominant-baseline="central" fill="#222">10<tspan font-size="1.82" dy="-0.8">1</tspan></text>
<text x="17.3" y="225.95" font-size="2.6" font-weight="bold" text-anchor="end" dominant-baseline="central" fill="#222">10<tspan font-size="1.82" dy="-0.8">2</tspan></text>
<text x="42.75" y="244.9" font-size="2.6" font-weight="bold" text-anchor="middle" dominant-baseline="central" fill="#222">10<tspan font-size="1.82" dy="-0.8">2</tspan></text>
<text x="17.3" y="217.33" font-size="2.6" font-weight="bold" text-anchor="end" dominant-baseline="central" fill="#222">10<tspan font-size="1.82" dy="-0.8">3</tspan></text>
<text x="54.88" y="244.9" font-size="2.6" font-weight="bold" text-anchor="middle" dominant-baseline="central" fill="#222">10<tspan font-size="1.82" dy="-0.8">3</tspan></text>
<text x="17.3" y="208.7" font-size="2.6" font-weight="bold" text-anchor="end" dominant-baseline="central" fill="#222">10<tspan font-size="1.82" dy="-0.8">4</tspan></text>
<text x="67" y="244.9" font-size="2.6" font-weight="bold" text-anchor="middle" dominant-baseline="central" fill="#222">10<tspan font-size="1.82" dy="-0.8">4</tspan></text>
<defs><linearGradient id="g530" x1="0" x2="1" y1="0" y2="0"><stop offset="0" stop-color="#000"/><stop offset="0.780" stop-color="#000"/><stop offset="0.857" stop-color="#000" stop-opacity="0.55"/><stop offset="1" stop-color="#000" stop-opacity="0"/></linearGradient></defs>
<rect x="17.9" y="232.1" width="18.2" height="10.8" fill="url(#g530)"/>
<ellipse cx="48" cy="237.8" rx="7.13" ry="2.86" fill="#999" opacity="0.3" filter="url(#sb2)"/>
<path d="M39.6 237.6h.60M45.3 238.7h.60M36.5 239.1h.60M52.1 234.2h.60M51.1 239.6h.60M57.0 242.1h.60M47.0 233.5h.60M47.3 233.9h.60M33.8 233.7h.60M41.0 238.1h.60M52.1 237.9h.60M45.5 242.4h.60M50.0 241.0h.60M47.7 236.0h.60M41.1 237.0h.60M52.0 236.9h.60M49.1 235.3h.60M48.9 237.6h.60M47.6 239.1h.60M50.0 235.8h.60M34.6 242.1h.60M51.5 234.3h.60M41.9 235.0h.60M51.3 237.4h.60M40.2 234.6h.60M52.5 235.3h.60M53.9 240.6h.60M45.4 235.3h.60M44.0 239.2h.60M60.1 235.3h.60M41.2 236.4h.60M32.6 234.2h.60M52.1 235.6h.60M45.6 242.0h.60M52.5 238.6h.60M50.1 241.6h.60M51.4 235.6h.60M40.4 241.9h.60M50.6 241.3h.60M47.2 233.7h.60M50.0 235.5h.60M48.6 238.8h.60M33.3 239.9h.60M33.7 238.4h.60M57.3 238.9h.60M47.5 235.2h.60M34.0 237.4h.60M33.3 236.7h.60M51.9 241.4h.60M52.1 239.3h.60M46.9 233.7h.60M47.0 239.7h.60M47.8 233.6h.60M41.8 236.3h.60M49.8 234.1h.60M48.2 240.0h.60M39.5 240.5h.60M45.0 241.5h.60M54.4 237.2h.60M52.8 239.0h.60M37.5 238.9h.60M38.4 242.3h.60M44.6 240.0h.60M40.3 238.6h.60M43.4 234.2h.60M54.9 237.7h.60M39.5 237.9h.60M50.1 241.7h.60M32.2 236.1h.60M49.8 241.6h.60M51.6 237.4h.60M45.9 235.2h.60M42.2 241.6h.60M54.8 236.9h.60M48.0 237.9h.60M51.2 241.0h.60M52.4 234.9h.60M47.9 235.9h.60M35.4 239.0h.60M45.6 242.2h.60M56.8 234.1h.60M44.8 233.8h.60M45.5 240.5h.60M33.0 237.5h.60M43.0 235.5h.60M32.4 239.1h.60M38.2 239.3h.60M47.4 242.0h.60M50.6 235.0h.60M36.0 239.8h.60M34.1 236.5h.60M53.8 238.1h.60M49.2 240.5h.60M44.5 234.2h.60M48.6 237.5h.60M46.7 241.6h.60M37.3 241.3h.60M53.7 239.3h.60M40.0 240.8h.60M47.3 239.9h.60M46.3 242.2h.60M41.3 236.3h.60M47.2 241.1h.60M32.6 237.4h.60M49.6 233.7h.60M43.9 234.0h.60M50.9 240.5h.60M33.1 238.0h.60M52.6 241.0h.60M53.9 241.9h.60M33.6 238.1h.60M40.2 239.1h.60M47.3 241.0h.60M47.3 241.0h.60M53.0 235.3h.60M54.3 238.6h.60M36.8 237.9h.60M47.9 233.6h.60M44.5 240.6h.60M48.5 237.8h.60M54.1 237.1h.60M51.2 241.7h.60M36.1 234.5h.60M42.5 241.5h.60M47.8 239.0h.60M51.7 234.6h.60M51.9 235.4h.60M49.4 236.3h.60M38.1 234.3h.60M52.8 235.7h.60M36.8 237.3h.60M35.4 238.2h.60M33.5 239.1h.60M52.7 238.2h.60M42.3 235.5h.60M43.3 240.7h.60M47.4 241.7h.60M52.6 234.6h.60M40.1 235.7h.60M43.1 237.2h.60M52.2 239.6h.60M33.5 239.5h.60M52.2 242.1h.60M36.5 240.2h.60M47.9 234.0h.60M32.3 238.4h.60M46.3 238.5h.60M33.4 235.2h.60M59.2 234.3h.60M50.8 237.6h.60M48.4 236.3h.60M44.3 238.8h.60M39.6 241.0h.60M35.8 240.1h.60M33.4 234.9h.60M48.5 233.5h.60M51.2 241.1h.60M42.4 237.0h.60M36.3 240.6h.60M47.1 240.1h.60M48.7 240.7h.60M46.1 241.3h.60M49.8 237.1h.60M41.5 234.0h.60M36.0 233.5h.60M38.4 239.0h.60M50.0 239.4h.60M38.8 238.5h.60M34.4 239.2h.60M61.2 240.3h.60M55.1 240.0h.60M35.3 233.9h.60M35.0 234.3h.60M46.7 238.4h.60M49.9 242.1h.60M55.4 240.7h.60M37.7 240.2h.60M48.5 234.8h.60M48.8 234.9h.60M47.8 241.9h.60M36.7 238.8h.60M34.2 239.3h.60M48.0 236.0h.60M48.8 235.6h.60M33.2 240.2h.60M46.2 240.1h.60M59.8 241.9h.60M46.7 237.3h.60M49.7 242.2h.60M36.7 241.8h.60M36.9 240.8h.60M51.4 234.4h.60M46.1 233.9h.60M49.8 234.5h.60M38.9 237.5h.60M37.5 237.2h.60M33.8 242.0h.60M46.0 235.5h.60M45.9 240.5h.60M46.8 239.6h.60M51.7 238.7h.60M49.1 235.6h.60M46.1 241.6h.60M50.5 235.8h.60M38.1 234.3h.60M49.4 234.1h.60M39.1 238.4h.60M45.4 235.3h.60M40.5 240.9h.60M32.9 240.7h.60M52.6 240.3h.60M35.5 235.7h.60M44.6 242.3h.60M37.0 240.1h.60M53.8 237.2h.60M32.7 241.3h.60M32.6 238.5h.60M47.5 240.4h.60M33.6 239.4h.60M34.3 239.9h.60M45.5 235.9h.60M34.8 239.9h.60M32.9 239.8h.60M58.2 241.6h.60M42.1 236.1h.60M35.2 241.8h.60M43.8 235.6h.60M34.9 236.7h.60M35.1 235.2h.60M50.6 240.9h.60M43.7 235.0h.60M51.7 233.6h.60M46.5 238.3h.60M55.3 240.6h.60M37.0 240.5h.60M32.6 240.0h.60M47.6 234.2h.60M53.6 239.2h.60M33.6 240.3h.60M54.8 240.3h.60M34.6 242.1h.60M43.5 239.9h.60M49.2 241.6h.60M42.9 239.4h.60M51.9 241.4h.60M41.1 239.2h.60M47.0 237.2h.60M33.1 240.1h.60M41.2 236.8h.60M33.5 237.2h.60M53.7 233.9h.60M32.9 239.2h.60M49.7 237.5h.60M50.4 241.6h.60M32.8 235.1h.60M33.8 239.9h.60M49.5 235.9h.60M40.8 236.2h.60M51.8 240.8h.60M48.4 241.6h.60M37.0 242.0h.60M58.3 235.4h.60M50.3 240.6h.60M36.7 238.0h.60M60.7 239.3h.60M32.2 237.7h.60M41.9 239.8h.60M50.4 236.3h.60M44.7 238.0h.60M51.2 242.3h.60M36.8 234.8h.60M57.3 241.0h.60M49.1 234.1h.60M39.9 234.3h.60M38.1 238.7h.60M51.2 236.1h.60M40.4 234.2h.60M54.0 235.3h.60M46.4 240.9h.60M34.4 234.1h.60M36.0 239.8h.60M39.3 234.4h.60M35.9 242.1h.60M48.6 239.3h.60M35.0 239.8h.60M37.2 237.5h.60M61.6 240.6h.60M38.0 236.0h.60M36.9 236.1h.60M35.2 239.4h.60M33.5 240.0h.60M50.0 238.5h.60M44.9 234.2h.60M32.7 239.5h.60M56.3 235.0h.60M43.3 238.7h.60M33.7 234.8h.60M35.3 234.1h.60M44.2 239.2h.60M51.4 240.8h.60M34.6 237.1h.60M35.3 239.7h.60M50.6 238.9h.60M34.6 236.5h.60M42.7 234.4h.60M36.5 240.5h.60M47.0 240.3h.60M47.3 238.3h.60M36.4 234.7h.60M54.4 239.8h.60M48.6 235.2h.60M46.9 234.1h.60M37.4 239.7h.60M48.4 236.7h.60M46.9 234.5h.60M55.4 238.3h.60M56.3 238.4h.60M46.9 242.3h.60M47.2 240.8h.60M46.1 235.6h.60M47.6 240.9h.60M37.0 234.1h.60M33.3 242.3h.60M46.9 239.4h.60M45.8 236.8h.60M49.3 235.2h.60M48.2 234.7h.60M37.3 235.0h.60M48.5 236.4h.60M54.8 233.7h.60M55.9 238.8h.60M57.9 237.1h.60M46.2 240.2h.60M42.0 242.4h.60M51.8 237.3h.60M45.4 241.5h.60M44.3 241.5h.60M32.4 239.9h.60M48.3 240.0h.60M49.0 238.7h.60M32.9 237.4h.60M45.2 237.0h.60M39.4 238.1h.60M34.4 237.0h.60M32.5 241.6h.60M44.5 237.2h.60M41.3 235.4h.60M40.2 234.3h.60M45.1 234.5h.60M49.1 235.6h.60M34.5 234.0h.60M49.0 240.7h.60M34.8 238.7h.60M32.3 241.5h.60M36.4 241.8h.60M46.0 236.1h.60M49.5 241.5h.60M43.3 236.6h.60M53.3 242.4h.60M38.3 235.1h.60M57.1 233.9h.60M40.1 236.2h.60M53.8 234.6h.60M43.9 241.8h.60M32.6 235.4h.60M39.8 235.2h.60M33.8 239.4h.60M44.4 241.4h.60M53.7 235.5h.60M48.2 239.4h.60M38.4 234.2h.60M43.9 238.2h.60M37.8 236.0h.60M42.1 234.2h.60M40.8 235.6h.60M37.0 235.1h.60M51.0 242.3h.60M35.9 240.2h.60M48.5 237.9h.60M37.1 239.2h.60M38.7 240.4h.60M40.4 239.6h.60M48.7 242.0h.60M41.4 234.9h.60M49.4 240.4h.60M53.8 240.5h.60M36.2 235.4h.60M47.8 238.8h.60M49.0 238.6h.60M50.1 233.6h.60M51.3 237.3h.60M34.0 240.6h.60M46.8 238.5h.60M49.8 234.7h.60M32.4 236.2h.60M45.8 238.1h.60M37.6 234.2h.60M50.6 234.8h.60M52.0 240.9h.60M53.3 236.7h.60M53.9 233.8h.60M50.7 240.3h.60M52.0 240.1h.60M33.8 241.4h.60M35.2 236.1h.60M32.6 233.7h.60M52.9 240.3h.60M49.4 238.4h.60M35.9 241.8h.60M34.6 242.2h.60M52.4 233.8h.60M38.6 233.9h.60M39.4 241.2h.60M52.8 236.9h.60M45.7 236.8h.60M49.9 235.1h.60M53.0 234.9h.60M33.6 237.6h.60M35.8 242.3h.60M51.0 236.8h.60M39.4 236.7h.60M32.2 235.0h.60M35.2 241.7h.60M46.7 235.8h.60M33.1 241.8h.60M41.1 239.9h.60M52.9 236.9h.60M45.3 236.3h.60M49.5 238.1h.60M35.2 235.5h.60M33.1 238.8h.60M34.4 237.2h.60M53.6 235.7h.60M54.3 239.4h.60M33.5 235.9h.60M45.3 241.2h.60M34.2 236.5h.60M32.4 233.6h.60M51.5 238.5h.60M52.7 239.4h.60M48.4 235.3h.60M43.4 241.2h.60M38.3 234.2h.60M35.2 233.9h.60M34.6 237.9h.60M33.2 237.0h.60M39.4 234.9h.60M49.1 236.5h.60M33.1 238.6h.60M51.0 238.4h.60M53.4 236.7h.60M35.3 233.9h.60M49.6 238.7h.60M47.4 233.6h.60M45.8 238.5h.60M38.9 235.1h.60M52.0 238.9h.60M45.2 241.9h.60M53.4 239.0h.60M45.1 235.9h.60M51.5 241.3h.60M46.9 233.7h.60M36.5 236.2h.60M55.4 234.7h.60M33.7 239.5h.60M32.1 238.3h.60M33.8 237.8h.60M43.0 238.4h.60M47.1 242.1h.60M34.7 241.4h.60M39.9 239.7h.60M57.1 234.8h.60M47.1 237.8h.60M46.5 240.1h.60M51.7 235.5h.60M34.5 235.0h.60M50.1 234.0h.60M39.6 234.4h.60M50.1 240.3h.60M53.7 241.2h.60M33.9 238.0h.60M56.6 236.9h.60M48.9 236.3h.60M40.9 241.0h.60M56.1 238.5h.60M39.7 239.0h.60M49.7 236.8h.60M46.8 235.5h.60M32.2 238.7h.60M51.3 239.6h.60M38.3 237.0h.60M48.6 242.3h.60M39.8 234.5h.60M34.2 240.0h.60M51.9 233.6h.60M51.7 237.7h.60M34.4 240.6h.60M48.1 239.0h.60M53.3 242.2h.60M39.4 238.3h.60M50.7 234.4h.60M51.2 235.7h.60M51.9 233.6h.60M51.7 234.7h.60M48.5 237.7h.60M34.0 233.9h.60M45.9 236.2h.60M33.3 237.8h.60M52.2 235.2h.60M44.4 240.7h.60M32.5 238.4h.60M49.5 239.0h.60M49.4 241.2h.60M41.1 239.9h.60M32.3 234.9h.60M32.6 236.6h.60M52.0 236.2h.60M52.1 242.0h.60M36.7 240.7h.60M49.2 240.0h.60M42.1 240.8h.60M51.0 242.0h.60M39.6 235.7h.60M48.8 233.6h.60M49.6 236.7h.60M53.4 240.7h.60M38.4 236.6h.60M46.6 236.3h.60M34.6 240.1h.60M40.5 238.3h.60M49.9 234.7h.60M35.6 233.5h.60M50.9 237.0h.60M36.9 242.0h.60M45.2 236.3h.60M59.3 237.3h.60M57.3 235.4h.60M39.7 235.0h.60M39.1 241.9h.60M33.4 236.6h.60M52.8 236.8h.60M54.1 235.3h.60M55.7 239.1h.60M43.3 238.5h.60M43.3 239.6h.60M46.6 236.9h.60M37.8 238.6h.60M45.0 233.7h.60M43.3 238.8h.60M51.0 234.8h.60M56.3 236.2h.60M48.7 242.3h.60M44.6 234.5h.60M45.7 241.0h.60M49.2 241.8h.60M50.6 242.3h.60M44.7 239.8h.60M42.3 237.5h.60M43.9 241.2h.60M34.1 239.2h.60M37.1 240.5h.60M49.4 241.1h.60M57.0 238.3h.60M49.7 236.7h.60M32.3 236.5h.60M46.6 240.9h.60M33.3 236.9h.60M41.9 234.0h.60M42.6 235.3h.60M54.1 235.2h.60M44.0 237.3h.60M34.7 236.2h.60M47.9 239.7h.60M32.9 239.6h.60M55.0 234.6h.60M49.6 238.9h.60M33.4 242.4h.60M48.6 236.2h.60M33.1 239.1h.60M42.7 237.1h.60M44.8 238.0h.60M45.0 235.5h.60M54.7 236.0h.60M47.0 239.5h.60M57.5 241.8h.60M40.5 238.8h.60M32.5 237.2h.60M35.7 242.0h.60M39.4 239.4h.60M35.4 234.6h.60M49.0 236.5h.60M53.7 241.1h.60M47.0 241.5h.60M34.9 236.8h.60M48.4 239.4h.60M46.2 241.9h.60M38.3 237.6h.60M36.0 236.2h.60M39.7 242.2h.60M41.7 237.0h.60M44.9 242.4h.60M35.9 237.0h.60M43.4 235.4h.60M50.1 234.7h.60M40.5 234.2h.60M38.6 239.0h.60M53.1 235.7h.60M48.1 234.5h.60M41.3 233.5h.60M57.9 233.6h.60M36.8 238.2h.60M41.7 236.1h.60M45.8 234.5h.60M50.3 238.0h.60M41.4 235.6h.60M32.4 235.4h.60M50.4 238.4h.60M50.2 241.1h.60M53.8 238.1h.60" stroke="#000" stroke-width="0.6" stroke-opacity="0.75" fill="none" filter="url(#sb)"/>
<path d="M26.3 226.5h.60M34.6 210.1h.60M26.4 232.9h.60M21.7 221.2h.60M32.3 224.4h.60M21.7 227.8h.60M19.4 232.2h.60M30.6 220.0h.60M19.7 229.3h.60M20.3 230.9h.60M20.9 215.7h.60M24.9 228.4h.60M30.8 218.0h.60M36.1 227.2h.60M28.0 216.8h.60M26.1 230.5h.60M32.4 230.9h.60M25.6 229.1h.60M27.6 229.9h.60M26.7 228.9h.60M19.8 220.5h.60M20.0 227.8h.60M28.9 229.5h.60M23.0 232.3h.60M25.7 230.4h.60M27.7 231.2h.60M32.5 228.4h.60M19.1 229.4h.60M36.5 233.0h.60M29.7 210.7h.60M25.6 226.7h.60M25.6 230.5h.60M30.0 226.9h.60M24.6 228.2h.60M28.3 223.3h.60M19.9 232.3h.60M23.5 230.8h.60M33.4 229.2h.60M34.6 229.4h.60" stroke="#444" stroke-width="0.6" stroke-opacity="0.5" fill="none" filter="url(#sb)"/>
<rect x="17.9" y="208.4" width="48.5" height="34.5" fill="none" stroke="#222" stroke-width="0.7"/>
<line x1="32.1" y1="208.4" x2="32.1" y2="242.9" stroke="#222" stroke-width="0.6"/>
<line x1="17.9" y1="232.7" x2="66.4" y2="232.7" stroke="#222" stroke-width="0.6"/>
<text x="33.3" y="212.05" font-size="3.41" text-anchor="start" font-weight="normal" fill="#111" dominant-baseline="central" stroke="#111" stroke-width="0.18" textLength="9.99" lengthAdjust="spacingAndGlyphs">Control</text>
<text x="49.25" y="216.25" font-size="3.7" text-anchor="middle" font-weight="bold" fill="#111" dominant-baseline="central" stroke="#111" stroke-width="0.18">2</text>
<text x="77.9" y="243.5" font-size="2.6" font-weight="bold" text-anchor="end" dominant-baseline="central" fill="#222">10<tspan font-size="1.82" dy="-0.8">0</tspan></text>
<text x="79.1" y="245.2" font-size="2.6" font-weight="bold" text-anchor="middle" dominant-baseline="central" fill="#222">10<tspan font-size="1.82" dy="-0.8">0</tspan></text>
<text x="77.9" y="234.78" font-size="2.6" font-weight="bold" text-anchor="end" dominant-baseline="central" fill="#222">10<tspan font-size="1.82" dy="-0.8">1</tspan></text>
<text x="91.12" y="245.2" font-size="2.6" font-weight="bold" text-anchor="middle" dominant-baseline="central" fill="#222">10<tspan font-size="1.82" dy="-0.8">1</tspan></text>
<text x="77.9" y="226.05" font-size="2.6" font-weight="bold" text-anchor="end" dominant-baseline="central" fill="#222">10<tspan font-size="1.82" dy="-0.8">2</tspan></text>
<text x="103.15" y="245.2" font-size="2.6" font-weight="bold" text-anchor="middle" dominant-baseline="central" fill="#222">10<tspan font-size="1.82" dy="-0.8">2</tspan></text>
<text x="77.9" y="217.33" font-size="2.6" font-weight="bold" text-anchor="end" dominant-baseline="central" fill="#222">10<tspan font-size="1.82" dy="-0.8">3</tspan></text>
<text x="115.17" y="245.2" font-size="2.6" font-weight="bold" text-anchor="middle" dominant-baseline="central" fill="#222">10<tspan font-size="1.82" dy="-0.8">3</tspan></text>
<text x="77.9" y="208.6" font-size="2.6" font-weight="bold" text-anchor="end" dominant-baseline="central" fill="#222">10<tspan font-size="1.82" dy="-0.8">4</tspan></text>
<text x="127.2" y="245.2" font-size="2.6" font-weight="bold" text-anchor="middle" dominant-baseline="central" fill="#222">10<tspan font-size="1.82" dy="-0.8">4</tspan></text>
<defs><linearGradient id="g550" x1="0" x2="1" y1="0" y2="0"><stop offset="0" stop-color="#000"/><stop offset="0.787" stop-color="#000"/><stop offset="0.862" stop-color="#000" stop-opacity="0.55"/><stop offset="1" stop-color="#000" stop-opacity="0"/></linearGradient></defs>
<rect x="78.5" y="231.8" width="18.8" height="11.4" fill="url(#g550)"/>
<ellipse cx="107" cy="237.8" rx="7.99" ry="3.02" fill="#999" opacity="0.3" filter="url(#sb2)"/>
<path d="M100.1 233.9h.60M106.1 241.1h.60M95.6 241.0h.60M106.9 240.4h.60M99.2 238.4h.60M106.7 239.2h.60M109.6 240.3h.60M116.2 237.1h.60M108.3 242.5h.60M115.8 237.3h.60M112.0 236.7h.60M96.7 234.2h.60M101.3 233.8h.60M104.1 239.5h.60M109.9 236.1h.60M109.6 238.5h.60M109.2 238.2h.60M113.0 234.3h.60M106.8 237.2h.60M100.0 242.0h.60M108.2 239.7h.60M102.3 234.1h.60M111.3 235.0h.60M94.4 236.5h.60M113.7 238.1h.60M98.4 241.2h.60M98.6 237.7h.60M104.4 235.3h.60M101.2 238.6h.60M93.7 241.0h.60M100.9 237.3h.60M114.8 238.5h.60M112.6 237.8h.60M101.7 234.1h.60M104.6 233.4h.60M105.0 238.6h.60M106.6 242.2h.60M110.5 240.8h.60M102.5 235.2h.60M97.9 239.0h.60M102.0 238.7h.60M114.8 236.6h.60M104.5 240.0h.60M105.0 240.1h.60M95.0 233.3h.60M107.9 235.5h.60M97.3 235.7h.60M95.2 238.0h.60M112.2 234.6h.60M112.2 238.3h.60M102.6 238.2h.60M115.5 235.6h.60M109.8 236.6h.60M103.8 235.3h.60M102.5 242.2h.60M113.9 238.5h.60M94.9 242.2h.60M110.2 239.4h.60M107.2 234.1h.60M118.9 236.1h.60M118.2 233.7h.60M109.1 238.6h.60M108.5 239.7h.60M109.3 233.8h.60M102.1 234.9h.60M104.4 235.0h.60M112.7 237.1h.60M113.1 238.5h.60M110.7 238.5h.60M95.4 236.3h.60M120.7 242.2h.60M102.9 241.3h.60M113.7 238.8h.60M108.7 239.0h.60M109.9 238.1h.60M107.1 233.4h.60M105.5 242.3h.60M93.5 241.1h.60M101.5 240.4h.60M107.2 233.1h.60M102.8 242.5h.60M104.2 236.4h.60M102.1 235.6h.60M110.5 238.2h.60M100.0 237.5h.60M106.1 234.8h.60M95.1 237.7h.60M106.2 239.4h.60M97.7 235.5h.60M111.2 234.9h.60M95.5 236.3h.60M103.9 238.3h.60M101.9 235.4h.60M96.5 242.6h.60M95.9 241.8h.60M100.2 236.8h.60M102.6 240.6h.60M102.7 236.7h.60M98.7 240.2h.60M108.3 237.9h.60M93.7 241.9h.60M94.7 241.5h.60M107.2 242.0h.60M109.3 234.5h.60M111.1 234.4h.60M106.9 241.6h.60M113.2 236.7h.60M95.2 242.1h.60M94.5 236.4h.60M95.5 234.9h.60M97.8 238.3h.60M106.3 240.4h.60M109.9 235.2h.60M95.5 240.4h.60M107.3 237.9h.60M95.7 238.6h.60M102.7 242.4h.60M100.3 237.6h.60M110.6 242.5h.60M101.9 236.9h.60M94.4 234.8h.60M102.2 235.1h.60M94.8 240.8h.60M104.8 234.9h.60M95.5 233.5h.60M99.1 236.6h.60M103.4 239.1h.60M95.9 241.6h.60M102.6 237.5h.60M108.0 235.3h.60M111.1 241.3h.60M111.1 242.6h.60M94.4 240.0h.60M98.6 234.6h.60M113.1 235.8h.60M100.3 236.4h.60M96.7 238.0h.60M93.3 237.9h.60M98.4 239.2h.60M108.2 234.0h.60M100.9 242.4h.60M96.8 233.9h.60M108.8 235.4h.60M109.1 241.8h.60M104.3 237.2h.60M113.5 237.7h.60M104.3 237.9h.60M94.6 235.2h.60M106.1 240.8h.60M114.6 240.8h.60M104.2 240.9h.60M112.1 236.0h.60M108.4 233.3h.60M116.2 236.4h.60M99.6 242.1h.60M101.0 233.7h.60M119.0 241.5h.60M94.5 239.8h.60M117.0 242.6h.60M113.7 233.7h.60M113.7 240.5h.60M112.5 242.2h.60M103.4 237.8h.60M95.9 233.3h.60M102.8 235.3h.60M109.2 238.1h.60M95.2 234.9h.60M100.4 239.7h.60M102.5 241.9h.60M111.5 239.0h.60M118.0 240.5h.60M95.3 238.1h.60M117.7 238.2h.60M110.2 240.2h.60M94.6 238.7h.60M95.7 233.8h.60M95.9 238.2h.60M104.7 237.0h.60M97.1 242.3h.60M96.7 239.7h.60M104.0 238.4h.60M118.0 235.5h.60M103.9 242.7h.60M111.2 233.6h.60M98.1 235.7h.60M115.9 240.1h.60M102.0 239.3h.60M102.9 234.1h.60M109.4 242.3h.60M109.8 235.7h.60M108.7 237.3h.60M96.6 238.6h.60M102.1 239.6h.60M112.1 233.5h.60M109.2 237.6h.60M93.8 236.9h.60M109.2 234.1h.60M111.5 238.7h.60M118.0 234.3h.60M94.8 241.4h.60M103.4 237.0h.60M106.4 235.6h.60M106.6 236.6h.60M96.9 236.1h.60M102.7 237.0h.60M102.2 237.5h.60M112.0 236.7h.60M104.2 242.5h.60M101.9 240.2h.60M101.0 242.2h.60M112.3 239.5h.60M99.7 235.3h.60M94.5 236.4h.60M104.6 233.3h.60M102.0 235.6h.60M108.9 242.6h.60M107.9 233.7h.60M113.0 241.0h.60M102.8 239.9h.60M112.2 240.3h.60M107.9 238.5h.60M115.8 242.6h.60M102.4 236.2h.60M111.8 238.5h.60M106.8 237.9h.60M99.2 241.7h.60M105.8 237.1h.60M98.9 237.5h.60M116.8 242.6h.60M112.5 240.4h.60M95.4 239.7h.60M106.7 241.1h.60M95.2 236.5h.60M112.8 239.4h.60M95.5 241.5h.60M108.7 235.5h.60M94.1 233.9h.60M107.7 237.8h.60M104.1 233.4h.60M110.2 239.9h.60M105.3 236.3h.60M109.1 236.1h.60M103.3 238.6h.60M113.6 242.6h.60M94.8 239.0h.60M113.3 236.4h.60M96.7 241.0h.60M106.6 236.5h.60M105.3 235.2h.60M110.5 236.6h.60M100.9 233.6h.60M105.4 233.7h.60M101.6 234.0h.60M95.9 242.6h.60M106.2 241.4h.60M93.9 233.3h.60M109.8 239.5h.60M111.6 236.2h.60M106.4 236.5h.60M95.0 235.9h.60M93.4 236.1h.60M114.2 235.7h.60M104.5 237.6h.60M104.0 240.3h.60M117.7 239.4h.60M102.8 236.8h.60M108.0 237.6h.60M99.4 241.7h.60M93.4 236.0h.60M102.8 239.1h.60M94.6 241.4h.60M106.2 239.7h.60M107.8 236.9h.60M102.5 241.6h.60M116.2 233.8h.60M114.5 238.3h.60M103.3 236.1h.60M123.3 233.2h.60M96.3 239.2h.60M98.3 242.1h.60M101.9 238.8h.60M106.4 234.8h.60M114.1 235.2h.60M98.0 236.3h.60M103.6 239.2h.60M94.8 239.4h.60M93.8 240.4h.60M112.3 238.5h.60M99.4 235.6h.60M106.6 233.6h.60M102.9 234.4h.60M93.5 234.7h.60M99.7 242.3h.60M95.1 241.0h.60M99.3 239.0h.60M114.2 236.8h.60M109.7 235.5h.60M110.3 242.4h.60M95.3 241.9h.60M113.4 233.7h.60M94.9 235.9h.60M103.7 239.5h.60M94.7 236.8h.60M106.3 237.8h.60M97.8 233.6h.60M117.7 236.7h.60M94.3 238.8h.60M108.1 234.8h.60M99.5 238.5h.60M94.6 240.1h.60M105.3 233.4h.60M97.1 241.2h.60M108.0 240.3h.60M107.7 241.0h.60M94.4 233.5h.60M105.9 236.8h.60M93.6 241.2h.60M106.4 241.9h.60M94.0 235.9h.60M94.0 235.0h.60M109.5 238.2h.60M94.3 238.6h.60M110.6 236.8h.60M114.7 235.0h.60M93.4 241.6h.60M109.7 236.9h.60M110.5 236.8h.60M107.0 236.7h.60M109.2 235.8h.60M101.6 240.6h.60M107.2 242.0h.60M96.3 241.3h.60M118.6 240.2h.60M117.1 236.6h.60M118.3 238.6h.60M105.3 242.7h.60M100.9 234.5h.60M98.3 234.4h.60M97.5 233.7h.60M107.2 238.9h.60M96.9 241.3h.60M112.3 235.6h.60M100.4 234.9h.60M110.0 236.4h.60M93.3 233.1h.60M95.2 242.6h.60M114.0 233.7h.60M108.6 240.0h.60M113.7 242.1h.60M95.6 236.9h.60M101.4 237.5h.60M113.0 242.4h.60M99.0 234.7h.60M96.5 234.9h.60M115.1 238.6h.60M109.7 234.0h.60M97.0 241.0h.60M107.7 238.4h.60M106.3 239.3h.60M94.9 233.4h.60M93.7 238.2h.60M98.8 241.0h.60M94.1 239.5h.60M109.8 241.6h.60M99.3 239.6h.60M103.1 235.9h.60M104.2 233.2h.60M103.8 235.6h.60M102.0 233.7h.60M98.9 239.6h.60M107.6 240.7h.60M96.9 238.0h.60M99.1 237.7h.60M97.2 236.5h.60M114.9 233.5h.60M93.8 239.6h.60M94.3 237.2h.60M108.5 235.9h.60M106.4 235.1h.60M106.3 237.7h.60M94.2 241.6h.60M102.6 233.7h.60M109.2 238.9h.60M109.7 236.3h.60M102.4 234.1h.60M99.6 237.6h.60M113.3 240.7h.60M93.6 238.9h.60M104.5 235.1h.60M118.6 233.8h.60M114.6 236.2h.60M105.8 241.8h.60M113.7 234.4h.60M109.5 242.2h.60M108.0 236.1h.60M101.5 240.4h.60M96.6 239.8h.60M114.3 237.6h.60M93.9 234.7h.60M100.8 236.6h.60M94.5 242.5h.60M108.2 234.3h.60M102.4 240.5h.60M104.0 241.5h.60M102.0 236.7h.60M96.0 239.3h.60M95.9 241.2h.60M112.0 239.6h.60M102.6 235.5h.60M93.9 240.8h.60M112.7 236.0h.60M94.0 234.5h.60M109.6 235.5h.60M106.7 235.3h.60M104.6 235.0h.60M96.6 235.8h.60M112.5 233.4h.60M109.4 234.9h.60M93.8 240.7h.60M103.8 233.2h.60M104.4 233.4h.60M95.9 242.4h.60M108.6 241.4h.60M105.5 234.3h.60M113.4 234.0h.60M96.5 234.6h.60M111.4 238.6h.60M116.1 239.3h.60M105.7 240.6h.60M111.4 237.1h.60M113.1 239.9h.60M100.0 241.0h.60M94.2 233.6h.60M112.4 236.1h.60M97.1 238.5h.60M102.3 236.3h.60M104.3 240.8h.60M98.1 234.0h.60M111.6 240.5h.60M109.7 239.5h.60M97.7 235.1h.60M107.7 234.1h.60M94.6 238.2h.60M115.5 233.1h.60M110.5 234.6h.60M103.8 242.5h.60M101.8 241.0h.60M108.7 234.7h.60M107.1 241.8h.60M110.4 234.3h.60M95.0 239.3h.60M108.9 237.5h.60M102.7 236.7h.60M104.9 236.2h.60M100.8 234.5h.60M96.2 236.5h.60M93.8 237.2h.60M108.6 236.1h.60M95.5 234.4h.60M106.9 241.2h.60M94.5 234.1h.60M102.0 235.3h.60M108.5 234.9h.60M102.1 240.2h.60M96.9 236.5h.60M106.0 240.7h.60M103.3 241.9h.60M119.4 234.7h.60M105.0 235.0h.60M111.1 237.3h.60M110.9 239.6h.60M107.0 241.4h.60M111.9 235.9h.60M110.4 238.8h.60M109.3 233.8h.60M101.2 236.4h.60M93.7 233.6h.60M98.0 236.9h.60M107.8 239.6h.60M97.4 236.7h.60M93.6 235.9h.60M94.0 233.4h.60M108.9 233.3h.60M104.5 238.1h.60M93.9 240.6h.60M112.2 237.8h.60M101.6 237.9h.60M113.4 240.1h.60M98.9 237.5h.60M102.6 241.0h.60M105.1 233.6h.60M103.0 241.8h.60M97.2 236.7h.60M103.5 234.7h.60M113.2 237.8h.60M114.6 236.0h.60M111.6 240.1h.60M108.2 240.6h.60M93.8 239.9h.60M118.8 238.2h.60M97.2 236.3h.60M106.3 242.1h.60M96.8 235.7h.60M112.3 234.2h.60M96.5 237.6h.60M98.7 242.1h.60M115.8 235.3h.60M97.0 239.3h.60M102.8 236.5h.60M107.6 234.0h.60M101.2 241.2h.60M94.9 235.4h.60M108.9 241.7h.60M93.9 242.4h.60M106.8 240.3h.60M102.5 238.0h.60M97.8 239.5h.60M99.4 234.5h.60M108.9 242.3h.60M111.5 242.0h.60M113.4 238.5h.60M101.2 241.1h.60M100.5 233.5h.60M101.2 237.8h.60M113.4 239.6h.60M107.7 239.8h.60M99.4 233.8h.60M106.5 237.5h.60M96.9 239.6h.60M99.1 234.1h.60M96.3 235.5h.60M94.8 237.1h.60M114.4 233.3h.60M104.1 238.9h.60M104.5 236.4h.60M99.8 233.6h.60M104.9 241.8h.60M100.9 242.3h.60M102.4 242.6h.60M114.9 239.2h.60M108.6 239.0h.60M93.3 241.1h.60M114.7 241.3h.60M107.4 242.6h.60M112.0 233.2h.60M95.9 242.6h.60M95.2 239.7h.60M95.5 236.9h.60M98.8 237.2h.60M105.0 236.4h.60M110.1 235.3h.60M95.5 241.7h.60M97.3 238.1h.60M97.9 233.7h.60M95.3 240.9h.60M113.8 239.8h.60M113.5 233.6h.60M101.6 241.2h.60M101.9 240.5h.60M98.3 239.1h.60M116.7 238.0h.60M117.0 236.8h.60M99.9 235.6h.60M95.5 238.9h.60M99.8 241.8h.60M117.8 241.6h.60M107.8 234.0h.60M117.3 233.8h.60M111.1 234.3h.60M107.8 240.7h.60M106.4 241.0h.60M108.0 237.4h.60M100.5 233.5h.60M114.7 234.2h.60M104.6 239.8h.60M102.1 238.7h.60M97.8 235.7h.60M106.5 236.5h.60M105.8 233.1h.60M110.4 240.3h.60M106.5 234.7h.60M99.0 239.1h.60M107.0 235.9h.60M94.8 234.5h.60M97.4 237.1h.60M111.4 236.1h.60M105.7 233.4h.60M107.5 241.5h.60M100.6 235.3h.60M112.0 235.4h.60M113.8 241.9h.60M101.0 238.3h.60M96.1 241.8h.60M95.4 233.5h.60M106.7 236.5h.60M96.7 239.0h.60M109.6 234.0h.60M113.1 240.9h.60M103.7 235.4h.60M102.7 233.1h.60M109.9 238.3h.60M115.3 235.2h.60M97.2 235.8h.60M105.5 234.0h.60M106.6 234.3h.60M108.8 241.3h.60M96.9 234.7h.60M117.2 242.1h.60M93.3 234.3h.60M103.1 238.9h.60M113.4 234.4h.60M98.7 239.3h.60M112.7 241.0h.60M95.5 234.5h.60M117.9 239.6h.60M109.8 237.8h.60M112.8 240.8h.60M95.8 233.6h.60M99.9 237.6h.60" stroke="#000" stroke-width="0.6" stroke-opacity="0.75" fill="none" filter="url(#sb)"/>
<path d="M98.0 230.3h.60M87.6 218.6h.60M97.7 222.8h.60M96.1 214.7h.60M84.6 226.0h.60M80.7 224.8h.60M97.4 227.8h.60M82.2 226.8h.60M80.7 228.4h.60M81.0 228.9h.60M94.9 223.3h.60M95.5 228.4h.60M87.8 232.3h.60M94.3 226.8h.60M87.2 231.6h.60M88.1 232.2h.60M81.8 232.1h.60M87.5 231.7h.60M95.1 226.1h.60M95.8 227.1h.60M82.5 230.4h.60M95.3 226.6h.60M91.6 225.7h.60M80.4 231.1h.60M87.6 219.7h.60M97.2 226.5h.60M84.4 232.4h.60M90.0 229.0h.60M97.0 231.1h.60M83.4 232.6h.60M80.0 221.2h.60M95.9 231.5h.60M79.8 226.7h.60M84.1 226.0h.60M96.6 223.1h.60M84.8 226.2h.60M84.9 222.8h.60M84.4 218.5h.60M92.3 217.2h.60M86.0 211.2h.60" stroke="#444" stroke-width="0.6" stroke-opacity="0.5" fill="none" filter="url(#sb)"/>
<rect x="78.5" y="208.3" width="48.1" height="34.9" fill="none" stroke="#222" stroke-width="0.7"/>
<line x1="93.3" y1="208.3" x2="93.3" y2="243.2" stroke="#222" stroke-width="0.6"/>
<line x1="78.5" y1="232.4" x2="126.6" y2="232.4" stroke="#222" stroke-width="0.6"/>
<text x="94.5" y="211.95" font-size="3.41" text-anchor="start" font-weight="normal" fill="#111" dominant-baseline="central" stroke="#111" stroke-width="0.18" textLength="11.03" lengthAdjust="spacingAndGlyphs">FTY720</text>
<text x="109.95" y="216.15" font-size="3.7" text-anchor="middle" font-weight="bold" fill="#111" dominant-baseline="central" stroke="#111" stroke-width="0.18">1</text>
<text x="17.3" y="288.6" font-size="2.6" font-weight="bold" text-anchor="end" dominant-baseline="central" fill="#222">10<tspan font-size="1.82" dy="-0.8">0</tspan></text>
<text x="18.5" y="290.3" font-size="2.6" font-weight="bold" text-anchor="middle" dominant-baseline="central" fill="#222">10<tspan font-size="1.82" dy="-0.8">0</tspan></text>
<text x="17.3" y="279.68" font-size="2.6" font-weight="bold" text-anchor="end" dominant-baseline="central" fill="#222">10<tspan font-size="1.82" dy="-0.8">1</tspan></text>
<text x="30.62" y="290.3" font-size="2.6" font-weight="bold" text-anchor="middle" dominant-baseline="central" fill="#222">10<tspan font-size="1.82" dy="-0.8">1</tspan></text>
<text x="17.3" y="270.75" font-size="2.6" font-weight="bold" text-anchor="end" dominant-baseline="central" fill="#222">10<tspan font-size="1.82" dy="-0.8">2</tspan></text>
<text x="42.75" y="290.3" font-size="2.6" font-weight="bold" text-anchor="middle" dominant-baseline="central" fill="#222">10<tspan font-size="1.82" dy="-0.8">2</tspan></text>
<text x="17.3" y="261.82" font-size="2.6" font-weight="bold" text-anchor="end" dominant-baseline="central" fill="#222">10<tspan font-size="1.82" dy="-0.8">3</tspan></text>
<text x="54.88" y="290.3" font-size="2.6" font-weight="bold" text-anchor="middle" dominant-baseline="central" fill="#222">10<tspan font-size="1.82" dy="-0.8">3</tspan></text>
<text x="17.3" y="252.9" font-size="2.6" font-weight="bold" text-anchor="end" dominant-baseline="central" fill="#222">10<tspan font-size="1.82" dy="-0.8">4</tspan></text>
<text x="67" y="290.3" font-size="2.6" font-weight="bold" text-anchor="middle" dominant-baseline="central" fill="#222">10<tspan font-size="1.82" dy="-0.8">4</tspan></text>
<defs><linearGradient id="g570" x1="0" x2="1" y1="0" y2="0"><stop offset="0" stop-color="#000"/><stop offset="0.703" stop-color="#000"/><stop offset="0.807" stop-color="#000" stop-opacity="0.55"/><stop offset="1" stop-color="#000" stop-opacity="0"/></linearGradient></defs>
<rect x="17.9" y="276" width="20.2" height="12.3" fill="url(#g570)"/>
<ellipse cx="45" cy="282.45" rx="10.98" ry="3.28" fill="#999" opacity="0.45" filter="url(#sb2)"/>
<path d="M45.5 280.6h.60M32.3 283.7h.60M32.8 285.5h.60M40.8 280.2h.60M48.7 286.0h.60M55.9 287.6h.60M54.8 283.4h.60M35.0 283.3h.60M38.4 286.4h.60M42.2 279.7h.60M34.9 281.9h.60M38.1 283.7h.60M43.6 284.4h.60M41.2 278.6h.60M45.5 287.2h.60M37.4 282.7h.60M44.4 279.2h.60M50.2 280.2h.60M33.4 278.1h.60M48.5 279.1h.60M38.2 282.3h.60M40.3 280.4h.60M44.2 285.0h.60M41.6 287.5h.60M34.8 280.3h.60M35.6 285.0h.60M42.5 279.2h.60M54.0 287.8h.60M45.1 281.3h.60M32.2 283.5h.60M37.0 281.9h.60M38.0 283.6h.60M36.3 283.2h.60M39.0 284.7h.60M53.7 282.4h.60M36.5 281.1h.60M45.6 279.2h.60M43.0 279.1h.60M49.0 286.3h.60M55.5 286.8h.60M38.4 282.1h.60M34.8 281.9h.60M45.9 278.5h.60M37.4 285.6h.60M47.6 280.7h.60M41.6 283.0h.60M42.8 277.8h.60M40.4 279.0h.60M35.7 281.7h.60M46.4 280.1h.60M33.9 285.7h.60M55.4 283.0h.60M33.9 284.8h.60M39.2 280.0h.60M48.0 280.1h.60M39.6 283.4h.60M48.6 283.1h.60M56.8 278.3h.60M42.5 277.5h.60M42.6 280.2h.60M33.3 282.5h.60M50.1 277.4h.60M34.4 282.5h.60M46.5 284.1h.60M33.3 284.4h.60M35.0 282.3h.60M48.0 282.4h.60M36.3 285.8h.60M37.6 278.3h.60M33.4 282.6h.60M37.9 279.7h.60M36.2 287.8h.60M40.1 282.7h.60M32.6 284.1h.60M32.3 278.2h.60M47.8 285.4h.60M33.1 284.4h.60M51.1 283.8h.60M36.9 284.7h.60M47.2 285.5h.60M32.9 282.6h.60M37.2 280.3h.60M40.9 281.8h.60M53.1 285.4h.60M43.4 281.5h.60M38.7 287.0h.60M42.6 281.0h.60M41.2 277.4h.60M53.6 282.7h.60M40.2 280.0h.60M33.9 283.6h.60M39.2 281.8h.60M42.9 282.5h.60M34.3 287.3h.60M45.0 285.1h.60M38.2 278.5h.60M32.9 277.6h.60M52.4 277.4h.60M44.5 284.3h.60M41.1 278.0h.60M41.4 285.4h.60M36.5 285.7h.60M41.7 278.0h.60M36.7 283.6h.60M45.3 284.0h.60M41.7 286.1h.60M40.4 286.5h.60M51.5 284.5h.60M35.6 279.9h.60M38.8 279.9h.60M37.1 281.8h.60M34.3 284.6h.60M43.1 280.6h.60M35.8 281.8h.60M46.4 285.8h.60M34.3 287.5h.60M35.8 284.1h.60M43.0 281.7h.60M39.5 277.4h.60M36.1 287.3h.60M46.5 287.5h.60M45.2 280.2h.60M45.2 278.0h.60M49.4 284.4h.60M48.2 282.6h.60M35.0 282.5h.60M42.3 280.3h.60M49.3 277.9h.60M50.1 283.5h.60M53.8 283.3h.60M48.4 283.1h.60M51.2 287.3h.60M61.8 282.2h.60M41.0 283.9h.60M50.8 283.1h.60M36.0 282.2h.60M37.5 278.9h.60M32.9 277.6h.60M45.5 286.8h.60M39.1 284.2h.60M46.2 281.0h.60M46.6 284.5h.60M40.2 278.9h.60M35.0 280.8h.60M33.2 281.5h.60M41.9 281.0h.60M62.9 281.8h.60M53.8 286.1h.60M38.6 287.1h.60M37.6 278.0h.60M34.6 283.8h.60M40.8 278.1h.60M36.2 286.1h.60M52.1 279.8h.60M54.1 281.6h.60M40.8 280.6h.60M47.7 281.0h.60M36.8 284.3h.60M51.4 284.9h.60M48.9 284.6h.60M47.8 279.2h.60M33.3 280.3h.60M32.3 282.8h.60M47.2 279.0h.60M40.1 278.1h.60M36.3 280.4h.60M37.7 281.2h.60M42.7 281.4h.60M45.7 278.4h.60M36.9 278.9h.60M49.0 287.2h.60M35.3 283.6h.60M42.9 279.1h.60M36.3 277.7h.60M32.8 285.3h.60M49.6 280.3h.60M40.4 281.4h.60M32.5 277.7h.60M45.3 286.5h.60M54.0 284.5h.60M35.6 283.7h.60M38.6 280.9h.60M42.9 279.5h.60M38.5 277.9h.60M39.9 279.0h.60M49.7 287.7h.60M44.8 287.5h.60M35.2 285.2h.60M36.0 280.2h.60M34.3 285.0h.60M35.5 278.1h.60M45.5 287.1h.60M37.8 281.6h.60M33.5 285.6h.60M46.5 277.7h.60M50.8 279.2h.60M37.3 279.2h.60M42.0 280.1h.60M33.2 277.7h.60M47.0 284.3h.60M50.8 281.7h.60M54.9 282.2h.60M41.6 285.1h.60M32.5 285.0h.60M43.2 285.1h.60M42.0 283.8h.60M44.0 278.1h.60M40.3 278.5h.60M35.4 286.3h.60M46.4 286.1h.60M48.8 284.7h.60M40.7 277.4h.60M34.5 287.3h.60M33.2 285.0h.60M45.7 286.3h.60M48.7 286.8h.60M55.7 284.1h.60M51.7 285.3h.60M53.6 282.0h.60M44.9 285.6h.60M51.1 286.7h.60M44.0 280.9h.60M37.8 283.8h.60M35.7 285.3h.60M38.9 281.9h.60M34.1 281.1h.60M42.1 283.1h.60M32.5 285.6h.60M52.2 278.0h.60M35.9 280.4h.60M35.7 279.4h.60M35.8 277.8h.60M37.9 283.6h.60M54.0 282.8h.60M33.7 278.9h.60M49.8 281.2h.60M43.5 283.7h.60M40.6 279.4h.60M41.1 285.0h.60M43.1 285.6h.60M34.0 283.9h.60M33.3 278.3h.60M34.3 285.8h.60M56.1 280.9h.60M32.4 278.5h.60M45.7 287.6h.60M41.3 282.1h.60M46.8 278.1h.60M45.1 286.9h.60M39.1 278.1h.60M32.7 285.6h.60M44.8 286.9h.60M56.0 282.6h.60M52.5 284.0h.60M47.8 278.2h.60M34.2 287.3h.60M40.9 278.6h.60M47.9 279.6h.60M49.3 283.4h.60M34.8 278.8h.60M39.6 285.9h.60M35.5 281.0h.60M52.7 283.8h.60M35.9 277.5h.60M49.4 282.6h.60M47.6 279.5h.60M42.0 277.8h.60M55.9 282.0h.60M34.2 283.9h.60M47.1 279.6h.60M32.6 282.1h.60M47.7 283.0h.60M50.0 278.8h.60M37.8 279.8h.60M39.4 286.4h.60M48.9 280.6h.60M42.3 283.8h.60M41.3 279.8h.60M32.5 283.4h.60M45.0 287.4h.60M53.0 283.9h.60M35.1 281.1h.60M32.5 279.9h.60M35.8 282.4h.60M48.0 286.6h.60M44.4 285.7h.60M40.7 285.5h.60M40.4 281.0h.60M35.5 278.5h.60M45.9 285.8h.60M54.0 286.8h.60M42.0 284.6h.60M35.5 283.5h.60M37.9 287.2h.60M33.4 282.6h.60M39.8 284.0h.60M33.5 283.8h.60M39.1 282.2h.60M39.3 287.5h.60M38.0 283.7h.60M43.4 282.6h.60M59.9 281.9h.60M45.1 284.3h.60M48.6 279.5h.60M42.6 287.0h.60M36.2 286.6h.60M46.0 283.5h.60M48.7 287.4h.60M38.0 285.2h.60M34.4 286.8h.60M44.6 287.6h.60M38.2 285.1h.60M45.1 278.4h.60M34.0 283.3h.60M33.1 278.2h.60M40.5 285.9h.60M36.6 287.6h.60M36.8 285.8h.60M44.8 285.4h.60M41.6 287.2h.60M32.6 284.0h.60M52.7 278.9h.60M35.9 285.6h.60M44.8 279.4h.60M44.1 284.9h.60M32.7 280.6h.60M34.6 279.1h.60M38.5 287.3h.60M49.1 283.8h.60M43.7 283.6h.60M44.3 286.9h.60M50.8 278.2h.60M51.6 279.7h.60M45.5 286.6h.60M34.0 282.8h.60M41.2 284.8h.60M38.1 278.7h.60M46.7 278.3h.60M35.8 283.0h.60M51.6 281.0h.60M40.4 281.2h.60M33.4 281.7h.60M43.3 281.9h.60M37.1 280.0h.60M40.1 278.2h.60M47.6 280.0h.60M34.6 279.4h.60M50.9 280.1h.60M43.2 284.5h.60M47.3 278.7h.60M34.4 282.6h.60M52.9 277.5h.60M34.6 281.8h.60M34.8 278.6h.60M34.3 279.5h.60M33.3 286.2h.60M35.7 279.6h.60M64.3 284.8h.60M34.4 287.4h.60M60.9 279.7h.60M37.0 282.4h.60M58.6 279.8h.60M45.9 283.7h.60M33.5 287.4h.60M45.4 277.5h.60M35.9 280.4h.60M38.3 282.8h.60M44.1 286.1h.60M43.9 279.1h.60M34.5 277.8h.60M32.1 287.5h.60M43.6 280.1h.60M46.3 280.4h.60M35.5 283.4h.60M35.0 283.1h.60M40.7 278.1h.60M57.6 283.0h.60M42.5 286.6h.60M45.3 287.4h.60M41.7 284.9h.60M41.5 285.9h.60M49.9 287.2h.60M37.3 284.7h.60M32.2 286.7h.60M44.6 281.9h.60M40.0 278.3h.60M44.0 287.3h.60M38.6 286.6h.60M35.3 280.4h.60M46.5 286.9h.60M44.8 278.3h.60M36.2 278.4h.60M34.8 281.2h.60M32.6 282.9h.60M50.4 284.0h.60M33.2 277.8h.60M39.9 282.6h.60M46.7 277.9h.60M41.9 280.6h.60M35.6 280.4h.60M40.8 278.3h.60M44.6 285.0h.60M38.1 278.4h.60M37.2 283.7h.60M39.9 277.7h.60M49.6 279.5h.60M41.9 279.7h.60M32.6 283.9h.60M47.2 286.5h.60M36.9 280.1h.60M54.6 287.2h.60M41.7 278.3h.60M33.7 283.9h.60M41.4 283.9h.60M50.7 278.3h.60M47.2 282.2h.60M46.0 279.2h.60M42.0 280.4h.60M37.9 277.6h.60M57.9 281.2h.60M40.1 284.6h.60M41.1 280.2h.60M33.7 284.6h.60M32.9 282.6h.60M41.2 285.5h.60M45.8 282.7h.60M36.6 277.6h.60M32.9 280.9h.60M41.3 279.6h.60M32.9 287.3h.60M49.2 279.4h.60M44.1 277.5h.60M38.6 287.4h.60M49.4 285.0h.60M41.0 286.7h.60M46.9 284.7h.60M37.4 287.1h.60M34.0 277.6h.60M44.7 284.7h.60M56.6 279.7h.60M41.4 286.4h.60M49.2 281.8h.60M52.0 280.5h.60M38.7 285.7h.60M46.5 286.9h.60M34.2 281.5h.60M44.4 286.5h.60M49.5 284.4h.60M38.4 286.0h.60M32.3 284.7h.60M51.0 285.2h.60M33.1 284.2h.60M58.4 279.0h.60M48.8 287.2h.60M39.6 283.1h.60M58.7 282.0h.60M33.7 286.2h.60M47.0 277.7h.60M56.9 287.3h.60M37.6 281.6h.60M43.4 282.5h.60M47.3 277.7h.60M33.7 285.9h.60M32.2 281.3h.60M43.7 286.3h.60M40.5 281.1h.60M44.6 282.2h.60M35.9 283.1h.60M43.8 281.5h.60M50.8 279.3h.60M34.1 287.3h.60M45.2 287.4h.60M36.8 281.2h.60M45.8 284.0h.60M43.1 283.3h.60M39.1 285.4h.60M35.0 280.0h.60M42.9 282.4h.60M52.8 285.5h.60M42.4 281.2h.60M35.3 282.0h.60M45.9 287.6h.60M48.2 284.4h.60M49.7 281.6h.60M37.3 283.5h.60M36.3 279.9h.60M51.5 282.2h.60M57.0 283.8h.60M43.5 278.5h.60M48.2 283.4h.60M44.4 283.0h.60M52.3 277.5h.60M42.0 284.1h.60M54.1 287.2h.60M35.0 285.2h.60M44.2 279.7h.60M36.9 286.9h.60M61.4 285.9h.60M40.3 279.0h.60M43.2 283.1h.60M45.6 285.7h.60M40.0 286.8h.60M42.1 279.2h.60M43.1 285.1h.60M39.4 282.6h.60M40.2 287.0h.60M39.3 284.8h.60M46.8 278.3h.60M44.2 279.1h.60M33.9 280.2h.60M55.7 286.4h.60M39.0 281.4h.60M38.6 279.5h.60M36.8 287.0h.60M60.0 279.7h.60M38.0 280.9h.60M37.9 282.9h.60M52.1 282.7h.60M47.9 284.7h.60M35.2 282.2h.60M48.2 282.1h.60M47.8 279.8h.60M44.1 282.2h.60M53.7 278.9h.60M38.3 281.1h.60M33.0 286.9h.60M37.4 279.9h.60M54.3 278.0h.60M52.5 280.7h.60M33.8 277.6h.60M58.7 281.2h.60M34.0 281.1h.60M50.9 281.3h.60M36.1 282.2h.60M36.6 283.4h.60M45.5 279.5h.60M38.5 278.5h.60M35.4 281.6h.60M44.3 280.5h.60M43.2 281.8h.60M36.9 285.0h.60M43.7 287.2h.60M35.9 284.3h.60M49.9 282.5h.60M52.2 284.6h.60M48.8 282.5h.60M46.4 284.7h.60M38.9 278.5h.60M54.1 279.8h.60M34.0 277.7h.60M43.4 281.3h.60M53.7 281.9h.60M43.0 279.4h.60M34.5 281.8h.60M41.4 285.3h.60M45.6 282.7h.60M38.3 277.7h.60M51.7 283.5h.60M60.9 280.6h.60M32.8 279.8h.60M45.6 286.6h.60M33.7 283.3h.60M39.6 285.6h.60M46.4 283.9h.60M41.8 283.2h.60M43.9 277.5h.60M34.4 280.0h.60M43.8 284.7h.60M43.0 278.0h.60M37.8 286.6h.60M39.0 283.2h.60M45.7 283.6h.60M32.1 285.4h.60M49.0 280.5h.60M55.9 284.0h.60M36.6 281.8h.60M42.9 282.4h.60M60.5 280.0h.60M37.7 281.9h.60M43.5 283.2h.60M41.0 280.1h.60M34.0 278.1h.60M32.3 284.3h.60M46.6 280.6h.60M37.0 280.4h.60M51.7 280.5h.60M48.3 286.6h.60M46.6 280.1h.60M40.8 280.2h.60M52.3 284.1h.60M45.7 283.3h.60M54.9 282.3h.60M52.3 281.6h.60M42.8 283.4h.60M47.6 282.7h.60M36.8 280.0h.60M32.2 284.9h.60M44.4 285.2h.60M34.5 287.0h.60M45.1 285.7h.60M33.6 285.0h.60M36.8 279.3h.60M44.9 281.5h.60M46.7 286.6h.60M45.7 277.3h.60M45.1 285.3h.60M55.9 278.5h.60M40.2 278.6h.60M48.7 281.6h.60M38.6 281.0h.60M37.5 286.0h.60M37.0 282.0h.60M47.2 280.9h.60M55.7 277.9h.60M56.3 278.7h.60M44.7 282.2h.60M46.8 286.2h.60M49.9 285.1h.60M38.9 280.5h.60M51.0 281.8h.60M44.3 278.2h.60M33.6 277.5h.60M35.0 286.6h.60M58.0 278.3h.60M52.5 281.1h.60M37.9 281.0h.60M33.0 284.4h.60M51.2 285.4h.60M36.6 280.2h.60M47.3 279.9h.60M46.9 282.0h.60M45.8 282.9h.60M40.0 284.2h.60M43.8 284.9h.60M34.8 277.8h.60M47.9 286.4h.60M40.4 284.6h.60M47.0 278.6h.60M38.2 285.2h.60M35.9 286.1h.60M44.4 281.0h.60M39.5 283.3h.60M33.1 281.7h.60M56.9 284.6h.60M45.6 286.9h.60M33.1 286.2h.60M36.7 281.5h.60M42.5 278.0h.60M42.5 283.1h.60M43.9 281.1h.60M44.8 280.3h.60M33.3 287.2h.60M40.9 281.2h.60M49.4 286.8h.60M52.4 278.5h.60M37.9 279.1h.60M44.8 284.2h.60M45.6 279.2h.60M47.5 281.9h.60M34.1 280.5h.60M48.2 279.0h.60M35.0 280.7h.60M40.7 277.4h.60M34.4 280.4h.60M56.4 281.8h.60M41.8 280.0h.60M38.3 285.4h.60M35.0 280.8h.60M45.5 285.1h.60M42.2 287.3h.60M50.7 280.6h.60M37.9 286.2h.60M42.8 279.2h.60M39.1 278.5h.60M44.9 287.7h.60M43.4 280.7h.60M32.7 281.2h.60M35.4 278.0h.60M50.8 283.1h.60M35.8 281.1h.60M44.8 279.2h.60M54.8 287.4h.60M42.1 282.9h.60M43.6 278.1h.60M39.9 285.9h.60M58.4 277.8h.60M49.2 279.2h.60M33.7 283.8h.60M52.1 277.9h.60M32.6 278.6h.60M34.3 278.9h.60M40.6 281.1h.60M46.9 282.6h.60M36.2 287.0h.60M41.8 280.5h.60M37.9 284.0h.60M45.9 286.6h.60M58.1 284.5h.60M43.0 279.3h.60M43.5 281.9h.60M40.5 278.7h.60M47.8 279.3h.60M44.7 281.3h.60M58.1 284.5h.60M48.7 279.0h.60M41.4 278.9h.60M32.8 283.4h.60M34.9 287.6h.60M36.4 277.6h.60M32.8 283.8h.60M33.3 278.8h.60M55.9 284.1h.60M34.4 280.2h.60M42.7 278.9h.60M44.4 280.2h.60M47.4 278.0h.60M48.8 282.9h.60M34.8 283.9h.60M43.1 277.4h.60M42.0 287.7h.60M44.0 278.7h.60M56.2 286.1h.60M47.8 277.5h.60M43.0 286.2h.60M48.4 285.8h.60M45.5 277.4h.60M33.5 279.5h.60M63.1 279.5h.60M51.1 281.0h.60M38.5 285.3h.60M43.0 282.0h.60M42.0 283.9h.60M53.6 285.1h.60M34.9 283.9h.60M45.4 284.1h.60M44.4 286.3h.60M57.7 283.2h.60M46.0 279.2h.60M48.1 284.0h.60M45.5 281.7h.60M33.9 282.4h.60M50.1 278.4h.60M36.0 282.8h.60M38.8 283.2h.60M55.2 278.2h.60M43.2 280.1h.60M32.6 284.6h.60M45.2 287.7h.60M50.9 284.6h.60M49.7 284.8h.60M51.6 277.6h.60M41.5 278.5h.60M34.7 287.5h.60M35.4 282.9h.60M37.2 278.0h.60M34.5 287.8h.60M34.3 280.8h.60M33.2 280.6h.60M50.8 281.0h.60M32.3 285.6h.60M34.0 286.2h.60M43.5 286.1h.60M45.2 277.5h.60M43.2 282.3h.60M58.0 279.5h.60M39.4 287.7h.60M47.4 279.6h.60M46.2 287.4h.60M38.9 284.4h.60M46.5 280.6h.60M41.8 283.0h.60M55.0 278.9h.60M49.4 285.4h.60M34.5 286.0h.60M32.2 287.8h.60M32.4 283.5h.60M41.6 277.5h.60M34.9 281.0h.60M45.1 287.8h.60M47.6 279.4h.60M49.9 282.6h.60M41.6 279.6h.60M52.6 285.3h.60M49.1 285.8h.60M47.6 279.8h.60M46.7 278.7h.60M32.5 284.6h.60M39.5 279.0h.60M32.2 280.2h.60M37.6 287.3h.60M41.5 277.8h.60M39.5 278.2h.60M49.7 284.7h.60M42.9 287.6h.60M36.5 280.1h.60M56.4 281.1h.60M43.2 285.2h.60M38.7 287.7h.60M37.1 284.2h.60M40.8 279.2h.60M50.3 280.8h.60M57.1 279.0h.60M49.2 285.9h.60M32.7 279.5h.60M55.9 285.8h.60M32.2 283.2h.60M33.5 286.1h.60M53.5 282.1h.60M41.7 278.9h.60M33.4 280.2h.60M45.7 278.5h.60M47.0 281.9h.60M51.4 278.7h.60M58.0 277.8h.60M36.2 282.1h.60M47.0 283.3h.60M51.2 280.2h.60M48.3 281.7h.60M32.9 277.9h.60M38.5 287.4h.60M49.0 282.5h.60M42.2 280.1h.60M32.4 279.8h.60M54.9 282.3h.60M40.6 281.0h.60M46.3 280.5h.60M52.7 278.5h.60M47.1 282.9h.60M56.1 282.0h.60M43.7 278.6h.60M32.5 285.8h.60M35.6 287.0h.60M43.3 284.6h.60M34.4 282.3h.60M50.3 287.0h.60M36.9 281.8h.60M50.2 281.2h.60M38.8 284.3h.60M40.5 282.8h.60M53.8 284.6h.60M46.3 285.9h.60M48.2 287.5h.60M48.0 279.3h.60M36.8 286.7h.60M48.8 286.0h.60M32.3 287.8h.60M41.9 285.5h.60M45.6 286.4h.60M47.1 281.5h.60M62.2 283.7h.60M47.2 284.5h.60M33.3 282.7h.60M37.7 279.6h.60M33.8 280.5h.60M44.2 287.2h.60M33.7 285.1h.60M46.5 281.7h.60M32.7 283.1h.60M33.7 285.8h.60M51.8 283.2h.60M45.3 287.5h.60M40.4 277.6h.60M33.9 278.7h.60M33.7 285.8h.60M35.2 283.5h.60M35.9 279.4h.60M42.5 287.6h.60M34.5 283.4h.60M43.6 282.5h.60M52.5 277.8h.60M38.6 277.5h.60M38.6 280.8h.60M40.6 287.6h.60M41.7 279.9h.60M38.3 281.3h.60M35.5 281.7h.60M35.5 278.1h.60M40.4 283.1h.60M45.3 281.4h.60M50.3 284.6h.60M39.6 287.6h.60M51.4 277.3h.60M47.5 286.6h.60M41.6 285.0h.60M38.7 285.7h.60M36.0 283.9h.60M37.2 286.9h.60M40.3 284.8h.60M55.6 283.6h.60M44.0 281.9h.60M39.6 283.0h.60M36.6 284.7h.60M56.5 285.9h.60M46.0 278.6h.60M36.5 278.1h.60M46.2 285.2h.60M44.9 281.1h.60M45.7 283.4h.60M33.1 280.3h.60M49.6 287.6h.60M33.8 287.5h.60M53.5 284.2h.60M56.8 286.7h.60M53.3 284.1h.60M36.1 280.5h.60M32.7 286.6h.60M33.3 284.6h.60M37.8 282.0h.60M51.2 284.6h.60M46.3 284.1h.60M46.6 280.6h.60M42.4 287.2h.60" stroke="#000" stroke-width="0.6" stroke-opacity="0.75" fill="none" filter="url(#sb)"/>
<path d="M29.3 269.1h.60M36.7 271.6h.60M26.9 274.5h.60M36.8 276.0h.60M22.4 263.3h.60M19.4 275.3h.60M28.5 275.0h.60M25.9 276.7h.60M31.1 276.3h.60M24.2 276.1h.60M31.6 275.1h.60M29.0 276.7h.60M29.2 273.9h.60M35.4 275.4h.60M24.3 262.4h.60M20.0 272.1h.60M27.7 274.4h.60M22.0 272.0h.60M19.4 276.8h.60M24.1 273.5h.60M23.6 268.0h.60M26.5 270.2h.60M29.6 268.0h.60M35.9 271.0h.60M31.5 271.1h.60M20.3 264.1h.60M28.5 276.6h.60M32.4 271.9h.60M36.1 273.0h.60M27.5 260.8h.60M35.8 266.4h.60M27.0 272.9h.60M32.3 260.7h.60M27.2 268.2h.60M29.1 271.2h.60M22.8 274.5h.60M19.4 275.1h.60M22.6 264.8h.60M31.1 274.3h.60" stroke="#444" stroke-width="0.6" stroke-opacity="0.5" fill="none" filter="url(#sb)"/>
<path d="M23.3 274.1h.56M49.9 274.3h.56M48.6 274.6h.56M20.1 272.9h.56M55.0 276.4h.56M34.8 266.6h.56M59.4 272.6h.56M53.9 276.5h.56M55.2 272.6h.56M27.2 270.8h.56M52.7 270.7h.56M56.2 276.6h.56M25.9 272.8h.56M26.1 275.8h.56M51.6 272.4h.56M35.5 275.5h.56M47.8 263.3h.56M45.0 275.8h.56M28.9 276.4h.56M44.3 273.7h.56M28.1 273.5h.56M44.0 274.8h.56M40.7 275.6h.56M19.5 275.0h.56M46.4 271.4h.56M59.3 274.3h.56M25.6 272.0h.56M36.1 268.6h.56M58.1 276.6h.56M21.1 276.8h.56M46.9 275.2h.56M44.8 275.9h.56M43.5 276.6h.56M27.5 273.6h.56M28.4 276.6h.56M45.8 266.7h.56M57.7 271.5h.56M48.5 276.9h.56M25.4 274.7h.56M41.0 272.3h.56M20.2 274.4h.56M21.9 273.4h.56M22.6 275.2h.56M50.9 266.4h.56M52.0 273.1h.56M31.3 274.3h.56M41.4 275.2h.56M43.6 275.4h.56M34.6 273.3h.56M45.7 267.6h.56M57.4 272.8h.56M23.5 275.1h.56M39.5 273.0h.56M56.7 276.3h.56M19.3 271.8h.56M59.4 275.8h.56M43.8 275.7h.56M34.8 274.3h.56M47.6 271.1h.56M34.0 275.2h.56M37.6 266.2h.56M40.4 270.6h.56M59.1 276.8h.56M50.9 276.6h.56M39.5 274.4h.56M22.2 274.7h.56M47.6 275.8h.56M41.3 275.6h.56M25.2 276.1h.56M58.0 274.3h.56" stroke="#444" stroke-width="0.56" stroke-opacity="0.5" fill="none" filter="url(#sb)"/>
<rect x="17.9" y="252.6" width="48.5" height="35.7" fill="none" stroke="#222" stroke-width="0.7"/>
<line x1="32.1" y1="252.6" x2="32.1" y2="288.3" stroke="#222" stroke-width="0.6"/>
<line x1="17.9" y1="276.6" x2="66.4" y2="276.6" stroke="#222" stroke-width="0.6"/>
<text x="33.3" y="256.25" font-size="3.41" text-anchor="start" font-weight="normal" fill="#111" dominant-baseline="central" stroke="#111" stroke-width="0.18" textLength="13.78" lengthAdjust="spacingAndGlyphs">AMD3100</text>
<text x="49.25" y="260.65" font-size="4.07" text-anchor="middle" font-weight="bold" fill="#111" dominant-baseline="central" stroke="#111" stroke-width="0.18" textLength="4.12" lengthAdjust="spacingAndGlyphs">30</text>
<text x="78.5" y="288.6" font-size="2.6" font-weight="bold" text-anchor="end" dominant-baseline="central" fill="#222">10<tspan font-size="1.82" dy="-0.8">0</tspan></text>
<text x="79.7" y="290.3" font-size="2.6" font-weight="bold" text-anchor="middle" dominant-baseline="central" fill="#222">10<tspan font-size="1.82" dy="-0.8">0</tspan></text>
<text x="78.5" y="279.73" font-size="2.6" font-weight="bold" text-anchor="end" dominant-baseline="central" fill="#222">10<tspan font-size="1.82" dy="-0.8">1</tspan></text>
<text x="91.62" y="290.3" font-size="2.6" font-weight="bold" text-anchor="middle" dominant-baseline="central" fill="#222">10<tspan font-size="1.82" dy="-0.8">1</tspan></text>
<text x="78.5" y="270.85" font-size="2.6" font-weight="bold" text-anchor="end" dominant-baseline="central" fill="#222">10<tspan font-size="1.82" dy="-0.8">2</tspan></text>
<text x="103.55" y="290.3" font-size="2.6" font-weight="bold" text-anchor="middle" dominant-baseline="central" fill="#222">10<tspan font-size="1.82" dy="-0.8">2</tspan></text>
<text x="78.5" y="261.98" font-size="2.6" font-weight="bold" text-anchor="end" dominant-baseline="central" fill="#222">10<tspan font-size="1.82" dy="-0.8">3</tspan></text>
<text x="115.47" y="290.3" font-size="2.6" font-weight="bold" text-anchor="middle" dominant-baseline="central" fill="#222">10<tspan font-size="1.82" dy="-0.8">3</tspan></text>
<text x="78.5" y="253.1" font-size="2.6" font-weight="bold" text-anchor="end" dominant-baseline="central" fill="#222">10<tspan font-size="1.82" dy="-0.8">4</tspan></text>
<text x="127.4" y="290.3" font-size="2.6" font-weight="bold" text-anchor="middle" dominant-baseline="central" fill="#222">10<tspan font-size="1.82" dy="-0.8">4</tspan></text>
<defs><linearGradient id="g591" x1="0" x2="1" y1="0" y2="0"><stop offset="0" stop-color="#000"/><stop offset="0.738" stop-color="#000"/><stop offset="0.830" stop-color="#000" stop-opacity="0.55"/><stop offset="1" stop-color="#000" stop-opacity="0"/></linearGradient></defs>
<rect x="79.1" y="276.2" width="19.1" height="12.1" fill="url(#g591)"/>
<ellipse cx="107" cy="282.55" rx="9.14" ry="3.22" fill="#999" opacity="0.39" filter="url(#sb2)"/>
<path d="M104.5 285.8h.60M108.2 283.1h.60M93.6 287.0h.60M96.0 286.3h.60M107.9 277.7h.60M96.8 284.0h.60M102.2 286.7h.60M115.0 278.0h.60M124.2 281.1h.60M94.6 287.7h.60M94.3 285.1h.60M98.8 279.6h.60M100.8 279.6h.60M93.2 280.8h.60M93.9 278.5h.60M93.7 287.1h.60M96.0 278.2h.60M93.7 281.3h.60M113.6 283.5h.60M107.3 285.3h.60M104.3 279.1h.60M104.8 280.4h.60M108.0 280.1h.60M93.9 285.6h.60M97.5 284.3h.60M94.5 281.7h.60M115.2 285.0h.60M104.6 287.3h.60M105.3 285.8h.60M98.4 284.8h.60M108.3 285.6h.60M97.6 279.0h.60M106.4 277.8h.60M97.9 284.3h.60M103.5 284.6h.60M105.4 283.1h.60M93.2 282.7h.60M106.0 282.3h.60M106.9 283.2h.60M106.9 284.2h.60M107.4 284.4h.60M112.4 282.3h.60M101.8 280.8h.60M120.0 281.0h.60M98.9 280.7h.60M120.4 278.1h.60M117.2 286.3h.60M115.1 285.2h.60M98.3 278.1h.60M108.9 282.1h.60M99.9 284.7h.60M98.9 286.6h.60M107.6 280.3h.60M93.7 285.3h.60M105.1 282.0h.60M103.5 280.9h.60M93.2 280.6h.60M104.2 282.6h.60M108.4 286.6h.60M101.0 286.7h.60M108.2 285.1h.60M94.6 282.8h.60M112.1 284.0h.60M95.9 280.4h.60M107.3 281.5h.60M117.5 278.4h.60M113.7 280.0h.60M93.5 281.1h.60M104.7 285.2h.60M101.8 287.5h.60M111.9 277.9h.60M110.5 283.5h.60M100.0 283.5h.60M98.1 285.4h.60M96.0 284.0h.60M119.9 280.2h.60M97.7 282.2h.60M96.0 287.1h.60M106.0 286.7h.60M107.3 286.9h.60M115.6 287.3h.60M95.9 279.1h.60M108.5 283.3h.60M98.0 282.8h.60M101.0 282.1h.60M114.3 284.2h.60M114.9 278.0h.60M112.4 279.7h.60M94.7 279.8h.60M94.0 280.1h.60M116.9 281.7h.60M102.2 281.4h.60M93.2 279.3h.60M114.6 282.6h.60M98.6 278.4h.60M105.2 284.0h.60M105.2 280.5h.60M102.5 286.3h.60M117.5 279.7h.60M97.6 283.3h.60M98.3 280.1h.60M100.0 286.7h.60M95.9 282.3h.60M97.5 287.2h.60M104.0 286.7h.60M110.0 281.1h.60M98.0 286.2h.60M95.0 286.0h.60M98.2 285.4h.60M105.9 281.0h.60M115.4 285.7h.60M108.4 280.3h.60M105.1 284.1h.60M106.1 278.3h.60M97.9 280.8h.60M107.7 278.2h.60M102.2 284.5h.60M113.0 282.1h.60M108.7 281.8h.60M109.9 283.3h.60M107.5 287.5h.60M107.8 283.2h.60M95.8 287.4h.60M94.6 284.4h.60M111.1 286.9h.60M101.8 281.8h.60M111.3 281.3h.60M106.2 282.3h.60M106.8 284.2h.60M105.0 281.7h.60M95.0 283.8h.60M94.6 280.6h.60M107.7 279.0h.60M93.6 287.8h.60M100.9 286.1h.60M95.2 279.0h.60M100.2 283.2h.60M94.0 280.3h.60M115.9 286.1h.60M93.2 286.0h.60M99.9 282.7h.60M98.5 277.7h.60M123.8 286.2h.60M95.2 286.2h.60M94.1 285.8h.60M111.7 278.9h.60M94.0 280.9h.60M107.7 285.3h.60M96.3 283.2h.60M93.6 279.5h.60M93.4 287.5h.60M102.0 283.2h.60M109.1 281.7h.60M112.4 283.5h.60M106.8 280.6h.60M99.5 278.5h.60M99.7 279.6h.60M108.0 281.6h.60M108.9 284.7h.60M103.1 285.5h.60M95.7 283.5h.60M97.1 283.3h.60M110.5 278.8h.60M111.1 279.6h.60M109.7 285.4h.60M93.7 279.9h.60M114.0 281.1h.60M110.7 282.6h.60M95.3 278.6h.60M112.0 285.2h.60M118.3 283.9h.60M96.0 280.4h.60M97.1 283.0h.60M109.2 286.8h.60M101.0 286.5h.60M94.4 285.5h.60M97.4 277.5h.60M108.7 282.0h.60M94.5 287.0h.60M106.1 281.0h.60M96.1 287.4h.60M95.9 283.1h.60M112.6 280.9h.60M105.1 286.9h.60M100.6 287.1h.60M101.7 285.5h.60M108.2 278.9h.60M109.4 287.6h.60M112.1 284.2h.60M103.9 284.8h.60M106.1 279.7h.60M98.5 285.7h.60M111.1 277.7h.60M114.5 284.2h.60M98.8 280.7h.60M110.6 287.6h.60M97.0 283.0h.60M108.9 286.7h.60M109.2 286.0h.60M99.1 279.5h.60M102.7 287.1h.60M102.3 284.8h.60M111.2 285.2h.60M94.3 282.4h.60M95.0 279.1h.60M93.9 281.7h.60M94.1 279.3h.60M93.6 280.6h.60M101.3 278.8h.60M112.2 278.9h.60M116.8 278.4h.60M94.3 286.6h.60M101.9 285.4h.60M106.5 281.9h.60M95.8 284.2h.60M106.3 286.2h.60M102.1 280.3h.60M94.8 286.9h.60M96.3 281.9h.60M114.8 278.9h.60M95.5 278.3h.60M113.2 278.1h.60M102.8 283.6h.60M95.9 282.1h.60M106.3 283.5h.60M111.1 287.6h.60M104.9 283.3h.60M105.1 285.3h.60M95.6 286.7h.60M93.7 284.4h.60M94.0 286.3h.60M94.5 282.9h.60M95.7 282.1h.60M105.6 283.6h.60M104.0 287.0h.60M118.2 285.5h.60M109.6 285.0h.60M111.5 285.7h.60M97.8 279.4h.60M99.1 278.9h.60M99.0 283.8h.60M120.7 277.8h.60M94.0 286.9h.60M111.7 284.6h.60M113.3 282.5h.60M108.5 279.1h.60M110.0 279.0h.60M107.8 284.2h.60M108.9 285.2h.60M108.1 284.5h.60M109.3 281.9h.60M99.2 281.5h.60M103.6 281.3h.60M98.6 285.0h.60M94.0 283.8h.60M97.8 287.2h.60M104.8 283.7h.60M101.6 279.6h.60M95.9 280.2h.60M94.4 278.6h.60M105.3 282.0h.60M105.9 286.9h.60M99.7 287.0h.60M94.1 277.7h.60M110.9 286.6h.60M93.2 278.6h.60M95.0 280.8h.60M104.2 284.0h.60M112.6 278.2h.60M100.8 285.6h.60M107.7 279.9h.60M109.3 286.7h.60M103.4 285.2h.60M104.8 282.4h.60M103.7 286.8h.60M96.5 287.0h.60M107.2 281.5h.60M96.0 285.2h.60M97.8 281.3h.60M99.1 287.1h.60M98.4 286.3h.60M116.1 280.0h.60M109.1 285.6h.60M110.0 279.1h.60M113.1 284.8h.60M99.1 282.2h.60M111.8 285.5h.60M105.2 283.3h.60M94.8 278.1h.60M109.7 279.5h.60M95.2 285.3h.60M95.0 281.7h.60M103.9 284.8h.60M94.1 278.0h.60M106.0 280.4h.60M105.2 278.0h.60M111.9 280.8h.60M100.7 287.0h.60M102.4 287.1h.60M102.6 284.3h.60M112.7 281.9h.60M112.6 282.5h.60M94.5 285.2h.60M108.5 282.1h.60M94.3 281.1h.60M111.7 278.6h.60M104.3 278.5h.60M117.0 280.8h.60M93.8 284.0h.60M99.9 283.0h.60M99.5 284.8h.60M108.0 286.5h.60M114.8 287.0h.60M94.0 281.9h.60M106.8 285.2h.60M105.5 282.2h.60M112.1 285.6h.60M103.7 285.6h.60M110.2 283.5h.60M95.3 277.5h.60M94.7 281.3h.60M111.0 277.8h.60M97.7 281.3h.60M109.4 286.9h.60M109.5 284.1h.60M109.1 282.1h.60M111.0 282.3h.60M120.2 280.0h.60M103.1 287.3h.60M96.8 286.1h.60M114.7 278.7h.60M95.7 277.5h.60M106.8 286.1h.60M106.3 287.2h.60M96.6 281.2h.60M113.0 284.6h.60M115.6 287.0h.60M106.4 279.6h.60M106.5 285.8h.60M99.5 284.1h.60M120.4 279.0h.60M112.7 281.2h.60M96.4 282.8h.60M97.7 278.3h.60M111.8 277.9h.60M118.0 287.2h.60M108.2 282.2h.60M108.1 281.2h.60M105.7 279.3h.60M106.1 283.6h.60M94.0 283.0h.60M98.3 280.8h.60M110.5 283.7h.60M95.7 285.3h.60M102.1 286.4h.60M108.1 282.4h.60M95.3 280.2h.60M102.0 285.6h.60M108.5 284.1h.60M93.3 282.9h.60M102.0 282.6h.60M104.7 279.1h.60M95.4 278.6h.60M111.7 285.5h.60M94.8 282.6h.60M99.0 280.4h.60M110.9 285.4h.60M94.7 283.3h.60M115.7 282.3h.60M100.9 285.6h.60M112.1 278.7h.60M111.9 285.5h.60M113.5 277.7h.60M110.0 285.3h.60M100.8 278.0h.60M109.0 279.7h.60M116.9 282.2h.60M96.3 279.1h.60M104.1 282.9h.60M103.8 280.2h.60M100.9 282.7h.60M115.7 281.3h.60M94.7 280.4h.60M97.5 281.8h.60M108.5 286.1h.60M98.8 282.8h.60M97.1 281.2h.60M94.6 285.9h.60M95.3 286.2h.60M100.5 281.5h.60M110.8 286.4h.60M94.1 283.2h.60M110.8 280.9h.60M93.5 282.5h.60M100.5 278.8h.60M97.4 287.0h.60M107.1 282.0h.60M99.3 281.7h.60M108.1 278.6h.60M111.2 286.9h.60M107.6 278.4h.60M103.6 281.1h.60M94.5 284.7h.60M111.8 277.7h.60M111.8 281.7h.60M97.4 279.9h.60M100.9 286.5h.60M107.2 286.1h.60M95.4 279.7h.60M107.1 279.7h.60M96.3 280.8h.60M120.2 282.6h.60M101.5 286.1h.60M109.9 287.1h.60M98.0 286.5h.60M105.4 280.6h.60M116.7 281.4h.60M112.0 277.6h.60M104.1 283.3h.60M108.2 281.8h.60M109.4 283.0h.60M110.2 280.4h.60M101.0 281.8h.60M117.1 281.9h.60M105.8 279.2h.60M97.2 279.1h.60M96.6 281.0h.60M93.7 280.3h.60M95.1 279.7h.60M101.0 278.8h.60M107.3 285.9h.60M107.0 280.0h.60M93.7 286.5h.60M98.9 283.5h.60M102.1 282.3h.60M110.0 278.5h.60M97.3 281.8h.60M96.3 279.7h.60M117.4 277.7h.60M111.8 281.9h.60M110.8 278.9h.60M109.7 284.9h.60M101.6 285.8h.60M95.6 283.2h.60M119.0 285.5h.60M106.7 284.8h.60M109.1 279.8h.60M113.4 280.7h.60M104.7 280.5h.60M119.9 283.4h.60M95.6 279.2h.60M108.7 286.4h.60M110.9 282.3h.60M108.7 284.6h.60M103.0 282.8h.60M93.3 283.6h.60M104.4 285.4h.60M112.2 283.4h.60M98.5 284.4h.60M97.0 278.2h.60M104.3 284.8h.60M109.6 279.7h.60M98.5 287.3h.60M103.0 283.7h.60M113.7 277.9h.60M108.5 287.7h.60M99.8 278.9h.60M102.5 281.5h.60M93.3 278.3h.60M110.3 285.0h.60M114.4 282.0h.60M109.9 281.5h.60M104.7 284.6h.60M112.2 281.2h.60M108.8 283.9h.60M98.3 280.6h.60M104.0 281.5h.60M102.6 279.4h.60M97.0 285.4h.60M100.6 277.8h.60M94.0 278.1h.60M104.4 278.1h.60M110.0 285.7h.60M111.1 284.0h.60M110.6 286.7h.60M96.1 280.0h.60M94.2 285.1h.60M118.8 280.8h.60M113.4 281.3h.60M123.2 280.1h.60M114.0 280.8h.60M97.9 278.8h.60M108.4 283.0h.60M109.8 284.1h.60M119.8 285.8h.60M111.9 277.6h.60M94.6 286.6h.60M96.3 279.7h.60M112.6 285.3h.60M94.8 282.8h.60M101.1 285.9h.60M93.5 281.3h.60M104.6 287.3h.60M112.4 282.9h.60M103.4 283.8h.60M113.4 280.5h.60M96.8 278.0h.60M97.5 286.3h.60M118.0 287.6h.60M107.2 280.9h.60M100.4 285.1h.60M103.6 284.1h.60M118.9 286.6h.60M104.3 280.2h.60M108.1 286.1h.60M111.1 283.1h.60M96.1 287.4h.60M110.1 279.2h.60M102.3 283.4h.60M112.7 279.4h.60M106.3 286.0h.60M98.4 287.2h.60M117.2 287.1h.60M100.7 286.3h.60M102.0 283.7h.60M108.6 286.8h.60M95.1 279.4h.60M97.3 277.5h.60M105.6 287.5h.60M105.2 283.0h.60M107.7 280.7h.60M110.6 281.9h.60M102.2 279.3h.60M94.8 278.2h.60M104.0 285.2h.60M93.9 282.8h.60M99.2 286.3h.60M95.6 286.0h.60M106.2 287.0h.60M120.1 284.9h.60M94.3 285.7h.60M103.2 278.5h.60M113.3 287.1h.60M101.4 279.3h.60M106.7 280.0h.60M113.4 285.4h.60M97.5 278.8h.60M106.5 279.0h.60M93.3 287.6h.60M105.9 285.6h.60M111.5 283.3h.60M95.9 282.3h.60M108.5 283.0h.60M93.4 278.6h.60M109.7 281.9h.60M100.6 278.0h.60M97.3 280.0h.60M104.7 287.3h.60M113.3 279.9h.60M118.8 280.7h.60M108.9 280.6h.60M96.5 285.4h.60M103.0 287.2h.60M107.4 286.6h.60M115.4 280.1h.60M112.4 286.7h.60M107.5 283.4h.60M106.3 287.0h.60M94.5 285.3h.60M93.5 278.2h.60M112.7 278.7h.60M99.7 278.0h.60M104.3 283.7h.60M102.7 287.0h.60M117.5 278.5h.60M93.6 282.1h.60M97.8 286.4h.60M108.5 282.5h.60M101.0 286.6h.60M105.2 280.9h.60M99.0 283.0h.60M106.1 285.8h.60M110.2 282.8h.60M99.6 286.3h.60M96.2 283.9h.60M101.1 283.7h.60M106.5 280.1h.60M108.4 279.1h.60M96.4 279.0h.60M96.8 286.9h.60M112.6 285.8h.60M100.7 284.9h.60M93.3 280.7h.60M99.8 278.3h.60M100.9 277.9h.60M111.4 281.3h.60M96.4 281.0h.60M114.4 284.5h.60M104.2 278.6h.60M117.5 286.7h.60M96.5 283.9h.60M109.6 278.1h.60M95.7 283.7h.60M114.3 282.3h.60M94.5 282.1h.60M100.0 280.5h.60M111.4 280.0h.60M94.5 285.0h.60M112.7 284.1h.60M97.8 278.7h.60M102.9 281.9h.60M113.5 279.5h.60M112.1 278.3h.60M93.7 279.6h.60M115.4 283.7h.60M111.3 281.0h.60M103.4 287.7h.60M100.1 285.7h.60M93.5 282.8h.60M115.4 283.8h.60M102.8 284.8h.60M94.8 282.2h.60M117.0 286.5h.60M101.4 285.2h.60M100.6 282.8h.60M106.8 286.3h.60M97.5 287.3h.60M99.0 280.4h.60M106.0 278.9h.60M96.8 285.7h.60M105.6 283.2h.60M96.9 287.2h.60M96.7 280.2h.60M108.4 279.4h.60M109.7 281.8h.60M109.9 287.0h.60M97.3 279.6h.60M95.0 285.3h.60M117.9 279.6h.60M99.4 278.8h.60M95.7 284.3h.60M116.1 283.6h.60M98.2 287.6h.60M93.9 277.9h.60M120.9 284.7h.60M96.1 279.7h.60M102.1 277.8h.60M103.7 279.7h.60M110.4 281.1h.60M98.6 277.6h.60M94.2 284.5h.60M106.4 278.6h.60M106.8 284.2h.60M101.0 281.9h.60M111.1 280.5h.60M109.3 282.0h.60M112.9 282.7h.60M102.6 279.2h.60M95.8 279.4h.60M95.8 284.1h.60M123.1 286.2h.60M96.9 285.1h.60M106.6 287.5h.60M95.6 287.5h.60M101.3 285.8h.60M97.1 280.9h.60M115.5 277.8h.60M112.1 282.4h.60M118.6 284.7h.60M98.6 281.9h.60M107.1 287.6h.60M112.3 283.0h.60M113.8 280.8h.60M100.4 283.7h.60M104.7 278.4h.60M97.8 285.0h.60M95.7 287.4h.60M105.5 279.7h.60M107.0 285.7h.60M109.6 287.1h.60M93.5 281.5h.60M108.9 279.9h.60M116.3 277.6h.60M109.6 287.5h.60M93.7 287.5h.60M113.4 283.3h.60M100.0 285.9h.60M95.9 282.7h.60M93.9 284.1h.60M110.0 285.9h.60M95.7 287.7h.60M106.1 278.8h.60M106.7 281.3h.60M112.4 282.8h.60M94.0 280.1h.60M97.9 287.2h.60M94.5 283.0h.60M93.2 282.7h.60M99.6 282.7h.60M96.7 278.4h.60M105.0 286.8h.60M115.5 285.0h.60M101.0 280.8h.60M107.8 282.3h.60M105.2 284.1h.60M111.3 282.5h.60M93.7 284.0h.60M104.5 282.2h.60M106.4 280.0h.60M120.4 278.2h.60M103.9 283.7h.60M120.9 283.1h.60M106.8 284.3h.60M95.3 279.5h.60M95.0 277.8h.60M113.4 281.8h.60M115.5 284.3h.60M106.1 287.4h.60M105.3 281.9h.60M107.7 280.1h.60M96.8 277.7h.60M117.4 277.5h.60M107.0 285.5h.60M94.7 281.8h.60M94.8 281.1h.60M116.4 279.7h.60M110.8 277.6h.60M109.8 287.5h.60M107.1 280.7h.60M111.6 278.1h.60M94.9 278.2h.60M94.4 278.1h.60M104.2 281.9h.60M105.4 279.3h.60M93.5 286.1h.60M98.4 282.8h.60M108.1 286.8h.60M99.4 279.7h.60M106.2 282.8h.60M95.6 287.3h.60M94.0 287.7h.60M98.4 281.2h.60M95.6 287.1h.60M106.1 280.0h.60M100.3 286.9h.60M93.5 285.0h.60M105.4 282.5h.60M106.8 280.7h.60M97.8 286.5h.60M115.2 282.3h.60M111.8 281.3h.60M93.8 285.7h.60M109.2 284.2h.60M107.7 287.0h.60M94.5 281.1h.60M96.1 284.6h.60M114.4 286.0h.60M103.4 278.3h.60M94.8 278.6h.60M99.9 285.2h.60M98.0 284.1h.60M103.1 282.9h.60M110.3 278.9h.60M98.3 280.4h.60M107.9 284.9h.60M104.5 281.0h.60M97.1 278.3h.60M95.4 281.7h.60M108.0 281.0h.60M97.2 284.0h.60M107.2 286.8h.60M105.9 278.6h.60M117.4 287.1h.60M99.3 285.5h.60M102.4 283.7h.60M105.0 287.2h.60M93.9 286.9h.60M102.8 286.6h.60M103.3 284.6h.60M97.5 281.6h.60M105.6 285.5h.60M102.6 283.2h.60M113.7 284.5h.60M106.5 283.9h.60M93.9 279.6h.60M95.3 278.9h.60M93.5 278.6h.60M93.8 280.7h.60M94.2 283.5h.60M100.2 279.9h.60M106.8 280.1h.60M93.2 283.8h.60M93.9 279.8h.60M96.0 281.0h.60M102.3 281.4h.60M113.9 284.7h.60M103.3 283.5h.60M110.1 278.3h.60M111.3 278.8h.60M101.5 280.9h.60M105.2 283.0h.60M95.4 286.7h.60" stroke="#000" stroke-width="0.6" stroke-opacity="0.75" fill="none" filter="url(#sb)"/>
<path d="M96.4 271.0h.60M92.0 269.3h.60M88.2 266.7h.60M94.6 261.6h.60M80.8 272.6h.60M82.8 274.5h.60M81.4 262.7h.60M88.3 271.3h.60M95.1 266.7h.60M95.8 276.8h.60M81.9 272.5h.60M86.5 276.0h.60M84.5 276.1h.60M93.6 271.5h.60M84.6 267.1h.60M87.0 275.5h.60M81.4 266.4h.60M95.1 268.3h.60M80.2 276.1h.60M89.2 271.9h.60M86.5 275.4h.60M89.0 273.2h.60M93.5 267.7h.60M94.6 266.2h.60M85.7 275.1h.60M89.2 267.6h.60M85.0 260.3h.60M82.3 275.2h.60M87.1 275.7h.60M82.5 274.4h.60M80.3 270.6h.60M90.0 276.0h.60M93.5 273.3h.60M90.0 261.8h.60M89.2 276.3h.60M86.1 275.9h.60" stroke="#444" stroke-width="0.6" stroke-opacity="0.5" fill="none" filter="url(#sb)"/>
<rect x="79.1" y="252.8" width="47.7" height="35.5" fill="none" stroke="#222" stroke-width="0.7"/>
<line x1="93.2" y1="252.8" x2="93.2" y2="288.3" stroke="#222" stroke-width="0.6"/>
<line x1="79.1" y1="276.8" x2="126.8" y2="276.8" stroke="#222" stroke-width="0.6"/>
<text x="94.4" y="256.45" font-size="3.41" text-anchor="start" font-weight="normal" fill="#111" dominant-baseline="central" stroke="#111" stroke-width="0.18" textLength="26.62" lengthAdjust="spacingAndGlyphs">AMD3100+FTY720</text>
<text x="110" y="260.85" font-size="3.7" text-anchor="middle" font-weight="bold" fill="#111" dominant-baseline="central" stroke="#111" stroke-width="0.18">7</text>
<text x="266.14" y="185.15" font-size="11.3" font-weight="bold" fill="#000" stroke="#000" stroke-width="0.45">K</text>
<text x="350" y="187.15" font-size="5.5" text-anchor="middle" font-weight="bold" fill="#111" dominant-baseline="central" stroke="#111" stroke-width="0.18" textLength="30.55" lengthAdjust="spacingAndGlyphs">Lin- PB-MNC</text>
<line x1="272.5" y1="189.5" x2="272.5" y2="299.5" stroke="#555" stroke-width="1.1"/>
<path d="M271.4 190.5L272.7 187.5L274 190.5z" fill="#111"/>
<line x1="272.7" y1="299.5" x2="415" y2="299.5" stroke="#555" stroke-width="1.1"/>
<path d="M414 298.4L417 299.7L414 301z" fill="#111"/>
<text x="269.9" y="243.3" font-size="4.4" text-anchor="middle" font-weight="bold" fill="#111" dominant-baseline="central" stroke="#111" stroke-width="0.18" transform="rotate(-90 269.9 243.3)" textLength="11" lengthAdjust="spacingAndGlyphs">c-Kit</text>
<text x="345.6" y="304.75" font-size="5.06" text-anchor="middle" font-weight="bold" fill="#111" dominant-baseline="central" stroke="#111" stroke-width="0.18" textLength="12.27" lengthAdjust="spacingAndGlyphs">Sca-1</text>
<text x="284.8" y="236.3" font-size="3" font-weight="bold" text-anchor="end" dominant-baseline="central" fill="#222">10<tspan font-size="2.1" dy="-0.8">0</tspan></text>
<text x="286" y="238" font-size="3" font-weight="bold" text-anchor="middle" dominant-baseline="central" fill="#222">10<tspan font-size="2.1" dy="-0.8">0</tspan></text>
<text x="284.8" y="225.48" font-size="3" font-weight="bold" text-anchor="end" dominant-baseline="central" fill="#222">10<tspan font-size="2.1" dy="-0.8">1</tspan></text>
<text x="300.7" y="238" font-size="3" font-weight="bold" text-anchor="middle" dominant-baseline="central" fill="#222">10<tspan font-size="2.1" dy="-0.8">1</tspan></text>
<text x="284.8" y="214.65" font-size="3" font-weight="bold" text-anchor="end" dominant-baseline="central" fill="#222">10<tspan font-size="2.1" dy="-0.8">2</tspan></text>
<text x="315.4" y="238" font-size="3" font-weight="bold" text-anchor="middle" dominant-baseline="central" fill="#222">10<tspan font-size="2.1" dy="-0.8">2</tspan></text>
<text x="284.8" y="203.82" font-size="3" font-weight="bold" text-anchor="end" dominant-baseline="central" fill="#222">10<tspan font-size="2.1" dy="-0.8">3</tspan></text>
<text x="330.1" y="238" font-size="3" font-weight="bold" text-anchor="middle" dominant-baseline="central" fill="#222">10<tspan font-size="2.1" dy="-0.8">3</tspan></text>
<text x="284.8" y="193" font-size="3" font-weight="bold" text-anchor="end" dominant-baseline="central" fill="#222">10<tspan font-size="2.1" dy="-0.8">4</tspan></text>
<text x="344.8" y="238" font-size="3" font-weight="bold" text-anchor="middle" dominant-baseline="central" fill="#222">10<tspan font-size="2.1" dy="-0.8">4</tspan></text>
<defs><linearGradient id="g619" x1="0" x2="1" y1="0" y2="0"><stop offset="0" stop-color="#000"/><stop offset="0.781" stop-color="#000"/><stop offset="0.857" stop-color="#000" stop-opacity="0.55"/><stop offset="1" stop-color="#000" stop-opacity="0"/></linearGradient></defs>
<rect x="285.4" y="222.1" width="22.8" height="13.9" fill="url(#g619)"/>
<ellipse cx="323" cy="229.35" rx="7.22" ry="3.72" fill="#999" opacity="0.3" filter="url(#sb2)"/>
<path d="M324.4 226.3h.60M307.6 227.5h.60M327.2 227.2h.60M308.5 234.2h.60M324.4 230.5h.60M310.7 225.2h.60M316.1 230.3h.60M303.9 232.5h.60M306.0 230.0h.60M316.5 230.7h.60M316.6 231.4h.60M320.8 226.7h.60M323.2 227.2h.60M318.2 226.5h.60M330.3 229.7h.60M306.9 225.0h.60M322.6 235.2h.60M322.8 234.6h.60M319.2 232.0h.60M304.3 230.8h.60M321.5 231.2h.60M312.2 226.9h.60M307.7 223.8h.60M331.3 223.8h.60M333.4 230.6h.60M323.2 223.9h.60M307.9 225.4h.60M326.0 224.1h.60M317.6 235.3h.60M303.3 233.9h.60M319.5 223.9h.60M315.0 230.3h.60M334.4 228.4h.60M308.8 224.5h.60M306.0 225.5h.60M317.6 230.7h.60M305.6 225.6h.60M320.8 227.1h.60M315.9 225.0h.60M320.8 235.3h.60M318.8 227.4h.60M330.0 228.9h.60M320.9 228.0h.60M317.0 234.0h.60M319.1 225.6h.60M324.9 226.6h.60M322.8 226.9h.60M311.1 230.7h.60M326.5 225.5h.60M306.9 232.7h.60M326.5 225.8h.60M325.9 224.9h.60M315.6 232.1h.60M328.6 234.1h.60M305.8 231.6h.60M307.6 228.6h.60M305.6 226.6h.60M320.9 227.4h.60M329.0 234.0h.60M326.6 224.4h.60M319.7 225.8h.60M313.3 224.5h.60M322.7 228.9h.60M312.1 233.6h.60M309.2 228.2h.60M324.6 235.1h.60M309.9 223.6h.60M328.5 227.8h.60M325.6 226.4h.60M308.7 233.3h.60M321.1 227.3h.60M318.5 233.1h.60M321.1 229.4h.60M325.7 231.0h.60M325.0 230.1h.60M328.1 232.1h.60M304.8 231.6h.60M330.5 235.0h.60M333.3 233.0h.60M315.0 233.6h.60M304.1 234.3h.60M303.6 227.7h.60M305.9 225.7h.60M322.8 233.6h.60M308.0 234.8h.60M329.8 225.7h.60M318.0 234.5h.60M325.0 223.6h.60M306.2 227.9h.60M321.3 229.0h.60M328.9 224.7h.60M325.4 234.3h.60M306.4 235.2h.60M319.0 229.1h.60M327.6 224.5h.60M324.9 227.2h.60M309.9 233.5h.60M323.4 224.4h.60M327.2 224.7h.60M311.3 228.2h.60M331.5 224.1h.60M303.8 228.8h.60M304.5 228.9h.60M325.1 227.6h.60M311.9 227.9h.60M319.6 224.8h.60M309.0 223.5h.60M326.6 224.6h.60M306.3 227.7h.60M304.3 224.1h.60M304.3 225.8h.60M304.4 225.2h.60M319.9 230.2h.60M312.2 229.8h.60M317.8 230.3h.60M308.3 224.0h.60M319.3 228.1h.60M328.8 234.0h.60M325.0 229.0h.60M326.2 233.3h.60M310.0 229.2h.60M304.8 235.3h.60M323.7 228.4h.60M322.6 233.3h.60M319.9 227.5h.60M322.0 234.2h.60M326.5 226.1h.60M328.2 224.7h.60M330.5 234.3h.60M321.1 228.9h.60M324.8 223.5h.60M308.9 232.3h.60M303.7 223.4h.60M304.9 234.8h.60M305.5 225.6h.60M305.3 226.0h.60M323.5 228.5h.60M322.8 224.1h.60M324.6 229.8h.60M327.7 225.6h.60M326.0 234.2h.60M323.0 232.4h.60M307.7 226.0h.60M325.2 233.8h.60M314.7 232.0h.60M318.4 230.1h.60M306.8 232.1h.60M330.0 231.9h.60M319.3 232.8h.60M326.6 224.6h.60M328.0 227.8h.60M311.5 228.6h.60M304.9 233.6h.60M322.4 225.0h.60M305.5 224.1h.60M304.1 223.6h.60M306.0 230.1h.60M322.3 229.6h.60M316.7 226.3h.60M305.1 228.0h.60M328.6 235.3h.60M320.9 232.3h.60M326.1 235.1h.60M332.6 224.5h.60M305.9 226.2h.60M305.0 229.2h.60M308.7 235.3h.60M304.0 225.3h.60M327.4 233.3h.60M328.2 235.5h.60M303.5 225.6h.60M325.7 234.2h.60M309.9 232.8h.60M320.2 230.2h.60M304.5 228.4h.60M333.2 232.2h.60M308.1 235.3h.60M323.6 231.2h.60M317.9 229.4h.60M325.3 228.0h.60M321.5 234.9h.60M304.2 223.5h.60M305.1 229.3h.60M320.5 230.3h.60M327.7 228.5h.60M323.1 234.4h.60M322.1 223.6h.60M309.0 223.9h.60M330.9 227.6h.60M318.0 225.5h.60M333.5 228.0h.60M315.9 226.2h.60M325.4 225.1h.60M324.7 226.6h.60M306.6 223.7h.60M316.5 233.6h.60M328.3 230.7h.60M317.1 229.9h.60M304.6 232.6h.60M332.1 223.7h.60M314.2 233.6h.60M306.8 230.6h.60M319.0 234.8h.60M327.2 226.9h.60M323.2 228.7h.60M327.9 224.0h.60M325.5 228.7h.60M319.0 233.0h.60M328.7 227.1h.60M325.5 234.2h.60M326.3 228.2h.60M320.6 232.5h.60M311.0 227.8h.60M317.1 224.9h.60M304.2 223.8h.60M307.1 230.7h.60M326.2 223.8h.60M324.9 226.9h.60M319.1 229.0h.60M314.8 229.3h.60M331.6 234.6h.60M306.3 227.6h.60M303.5 227.8h.60M332.8 233.9h.60M303.6 230.5h.60M323.0 223.8h.60M318.6 233.0h.60M329.8 233.0h.60M312.3 233.7h.60M303.5 233.5h.60M329.7 227.0h.60M324.6 229.3h.60M325.3 230.7h.60M304.1 231.8h.60M319.8 234.5h.60M321.3 229.1h.60M306.1 223.5h.60M324.3 235.0h.60M330.2 227.2h.60M322.6 229.2h.60M322.8 234.6h.60M330.5 224.5h.60M325.1 228.3h.60M322.7 233.4h.60M305.9 224.2h.60M313.1 223.8h.60M340.1 227.8h.60M317.6 232.0h.60M305.4 233.1h.60M322.8 231.9h.60M329.3 233.4h.60M323.1 231.0h.60M329.9 229.7h.60M303.6 234.2h.60M322.7 228.1h.60M304.5 228.1h.60M322.6 226.0h.60M303.7 230.5h.60M322.0 234.3h.60M325.5 230.5h.60M333.8 225.5h.60M304.2 223.7h.60M314.9 231.1h.60M323.2 223.6h.60M322.8 230.7h.60M324.3 224.1h.60M324.0 226.5h.60M307.9 229.1h.60M312.0 233.5h.60M306.8 226.2h.60M324.0 227.9h.60M321.9 232.7h.60M306.9 232.8h.60M304.4 228.5h.60M309.1 223.6h.60M315.7 230.5h.60M319.7 224.8h.60M305.5 232.5h.60M303.5 227.4h.60M304.1 228.3h.60M325.6 227.5h.60M318.7 233.4h.60M304.3 226.1h.60M305.7 226.1h.60M310.0 227.8h.60M324.5 225.6h.60M304.8 233.4h.60M305.8 224.9h.60M323.0 228.2h.60M330.7 229.8h.60M324.1 225.7h.60M332.8 231.7h.60M305.9 228.3h.60M313.5 224.8h.60M304.8 232.0h.60M325.4 230.7h.60M318.7 228.4h.60M322.8 234.1h.60M307.5 232.1h.60M328.5 223.7h.60M316.1 228.7h.60M305.3 232.5h.60M313.7 226.8h.60M328.0 232.7h.60M304.3 234.0h.60M316.9 226.9h.60M306.8 233.6h.60M317.1 233.1h.60M304.8 229.7h.60M312.8 227.6h.60M319.2 226.2h.60M318.9 223.5h.60M326.9 230.4h.60M314.3 226.6h.60M320.8 224.4h.60M322.6 229.3h.60M337.8 231.1h.60M327.7 224.7h.60M305.5 232.8h.60M323.1 234.1h.60M306.9 230.9h.60M326.2 224.8h.60M328.2 225.9h.60M318.8 227.9h.60M323.5 228.6h.60M306.9 224.4h.60M305.4 235.0h.60M324.0 227.2h.60M323.1 230.9h.60M316.8 225.4h.60M329.6 229.6h.60M333.3 230.6h.60M318.4 227.0h.60M331.4 227.2h.60M327.4 231.0h.60M325.5 223.6h.60M303.4 225.6h.60M324.2 231.6h.60M329.3 233.8h.60M326.2 234.5h.60M326.5 223.5h.60M303.2 227.7h.60M312.4 228.2h.60M307.0 231.6h.60M321.5 223.7h.60M312.6 225.5h.60M314.7 233.6h.60M303.8 226.2h.60M324.0 227.4h.60M308.2 227.6h.60M306.9 230.0h.60M321.5 223.4h.60M321.4 233.1h.60M304.9 228.9h.60M313.5 223.8h.60M325.6 224.6h.60M305.0 224.6h.60M306.7 235.5h.60M323.9 228.2h.60M313.3 229.2h.60M327.3 228.6h.60M304.3 225.3h.60M308.1 223.8h.60M305.1 231.7h.60M322.5 230.3h.60M324.7 228.4h.60M325.7 227.8h.60M321.1 224.2h.60M325.7 233.2h.60M327.3 228.4h.60M326.8 230.2h.60M329.5 233.8h.60M324.2 234.9h.60M305.6 230.2h.60M323.3 231.8h.60M326.8 228.9h.60M332.4 233.8h.60M324.5 231.4h.60M305.7 228.2h.60M326.8 234.8h.60M323.3 225.1h.60M323.7 228.3h.60M320.0 225.7h.60M303.8 229.2h.60M325.1 226.2h.60M326.4 226.6h.60M307.2 228.6h.60M309.2 234.4h.60M322.8 224.9h.60M318.8 226.5h.60M306.1 230.5h.60M322.8 228.8h.60M303.7 225.1h.60M309.2 231.1h.60M315.9 235.3h.60M317.1 229.7h.60M304.3 229.3h.60M319.1 232.1h.60M306.6 231.1h.60M328.5 224.9h.60M318.9 230.0h.60M333.9 233.1h.60M322.5 226.6h.60M337.6 233.4h.60M327.2 225.1h.60M317.8 226.0h.60M323.3 223.8h.60M307.3 234.9h.60M319.4 231.5h.60M318.2 234.4h.60M322.5 228.9h.60M316.7 232.8h.60M305.0 234.7h.60M313.5 229.8h.60M305.3 225.1h.60M320.5 230.0h.60M309.1 224.8h.60M326.1 231.3h.60M304.3 231.0h.60M321.4 231.9h.60M318.0 224.9h.60M304.3 232.6h.60M319.0 225.6h.60M317.8 231.6h.60M324.3 232.8h.60M309.8 229.7h.60M316.5 232.8h.60M320.3 229.2h.60M321.2 226.0h.60M307.4 235.5h.60M323.2 228.4h.60M315.3 231.0h.60M320.2 228.3h.60M306.4 226.8h.60M306.0 227.6h.60M328.0 230.2h.60M311.1 232.4h.60M312.0 227.0h.60M315.5 224.7h.60M325.0 229.4h.60M325.0 230.0h.60M330.5 234.0h.60M320.5 233.3h.60M306.0 227.5h.60M323.1 225.1h.60M320.6 231.1h.60M317.1 223.9h.60M323.1 234.4h.60M307.3 225.4h.60M320.4 233.1h.60M319.0 228.9h.60M317.1 227.2h.60M306.8 234.6h.60M313.5 231.7h.60M321.3 233.7h.60M335.2 234.0h.60M325.7 227.5h.60M310.0 234.7h.60M304.3 226.9h.60M330.5 231.5h.60M315.3 230.2h.60M315.0 225.0h.60M325.6 229.1h.60M326.2 224.1h.60M322.0 223.6h.60M326.8 231.4h.60M327.6 232.5h.60M317.9 231.1h.60M323.3 233.9h.60M323.4 229.9h.60M328.8 229.7h.60M322.6 227.9h.60M316.6 225.8h.60M303.5 232.4h.60M322.2 231.7h.60M318.3 223.4h.60M305.4 228.1h.60M320.4 227.2h.60M329.2 231.3h.60M303.9 228.6h.60M327.1 225.2h.60M329.5 234.9h.60M308.5 228.7h.60M304.1 231.0h.60M309.8 226.5h.60M304.6 232.3h.60M324.6 234.4h.60M304.1 235.2h.60M318.1 231.2h.60M328.4 231.7h.60M307.4 223.6h.60M324.1 229.0h.60M321.8 227.6h.60M329.4 223.7h.60M325.3 234.1h.60M327.1 235.4h.60M323.7 228.7h.60M329.2 226.6h.60M317.9 229.8h.60M318.6 227.8h.60M323.6 230.9h.60M331.7 228.5h.60M323.6 226.8h.60M304.9 229.0h.60M303.6 223.6h.60M325.1 230.7h.60M304.9 227.3h.60M332.2 226.1h.60M329.5 231.7h.60M320.0 229.8h.60M318.5 224.5h.60M321.0 228.8h.60M318.7 231.8h.60M325.9 225.7h.60M324.4 234.6h.60M327.0 226.1h.60M329.2 230.6h.60M321.7 230.2h.60M322.1 227.2h.60M310.6 231.7h.60M320.0 233.7h.60M320.6 225.1h.60M304.8 234.9h.60M318.0 226.4h.60M306.0 223.9h.60M321.8 228.3h.60M321.5 234.4h.60M321.9 230.8h.60M323.3 233.7h.60M303.9 225.9h.60M319.8 231.4h.60M309.3 231.7h.60M313.7 234.7h.60M306.9 234.0h.60M307.3 232.3h.60M313.8 230.8h.60M322.4 234.8h.60M321.0 223.8h.60M318.8 224.9h.60M309.0 231.7h.60M329.6 234.6h.60M324.5 225.7h.60M306.7 233.0h.60M328.2 225.6h.60M332.5 229.9h.60M325.1 229.5h.60M326.2 233.2h.60M323.7 223.9h.60M304.1 224.7h.60M303.7 226.9h.60M307.5 231.5h.60M325.6 228.9h.60M323.0 226.5h.60M308.7 230.5h.60M327.6 231.2h.60M332.7 225.2h.60M322.7 227.2h.60M315.5 231.5h.60M311.1 227.1h.60M320.1 230.5h.60M314.8 225.4h.60M315.1 230.5h.60M320.4 225.6h.60M313.6 231.7h.60M309.0 231.3h.60M313.8 234.2h.60M304.5 223.8h.60M334.2 226.2h.60M319.0 229.3h.60M329.0 227.0h.60M304.8 229.2h.60M316.9 235.1h.60M323.2 230.3h.60M304.4 228.3h.60M322.6 230.4h.60M308.2 231.6h.60M335.6 234.7h.60M329.8 233.6h.60M318.4 223.5h.60M321.3 224.9h.60M333.4 230.0h.60M326.9 229.3h.60M323.6 232.1h.60M316.5 225.4h.60M327.8 227.6h.60M316.1 233.8h.60M321.5 234.7h.60M304.0 232.7h.60M319.4 229.7h.60M330.3 232.1h.60M312.5 224.2h.60M305.8 231.1h.60M311.4 225.2h.60M320.2 227.3h.60M334.8 224.6h.60M319.6 227.5h.60M314.1 228.2h.60M307.0 227.3h.60M306.5 229.8h.60M303.5 234.8h.60M320.7 227.2h.60M306.5 233.4h.60M326.2 226.3h.60M326.9 228.5h.60M311.5 232.9h.60M316.4 234.7h.60M329.2 232.3h.60M323.3 230.7h.60M325.2 226.8h.60M330.4 234.3h.60M322.6 231.3h.60M312.8 226.0h.60M314.5 226.9h.60M327.9 234.5h.60M319.3 233.7h.60M317.5 233.0h.60M325.6 235.0h.60M313.8 232.8h.60M304.6 234.3h.60" stroke="#000" stroke-width="0.6" stroke-opacity="0.75" fill="none" filter="url(#sb)"/>
<path d="M300.8 220.1h.60M302.9 217.1h.60M301.5 217.6h.60M306.0 207.3h.60M288.7 209.9h.60M298.3 222.5h.60M293.8 208.1h.60M296.0 221.4h.60M297.2 222.0h.60M288.8 220.4h.60M286.5 217.8h.60M304.0 210.7h.60M302.0 207.4h.60M308.2 219.6h.60M298.8 213.8h.60M291.0 213.3h.60M295.3 221.1h.60M295.3 214.1h.60M302.1 220.1h.60M289.9 199.1h.60M286.6 218.8h.60M306.3 216.8h.60M301.6 216.6h.60M299.4 221.7h.60M303.5 220.3h.60M288.2 209.1h.60M287.4 221.8h.60M300.0 208.6h.60M300.5 221.1h.60M304.7 220.7h.60M296.3 195.7h.60M295.1 220.7h.60M292.7 220.8h.60M305.8 219.8h.60M287.2 222.7h.60M302.8 215.2h.60M297.4 221.0h.60M302.2 203.5h.60" stroke="#444" stroke-width="0.6" stroke-opacity="0.5" fill="none" filter="url(#sb)"/>
<rect x="285.4" y="192.7" width="58.8" height="43.3" fill="none" stroke="#222" stroke-width="0.7"/>
<line x1="303.2" y1="192.7" x2="303.2" y2="236" stroke="#222" stroke-width="0.6"/>
<line x1="285.4" y1="222.7" x2="344.2" y2="222.7" stroke="#222" stroke-width="0.6"/>
<text x="304.4" y="196.35" font-size="4.29" text-anchor="start" font-weight="bold" fill="#111" dominant-baseline="central" stroke="#111" stroke-width="0.18" textLength="21.01" lengthAdjust="spacingAndGlyphs">WT Control</text>
<text x="323.7" y="202.85" font-size="5.2" text-anchor="middle" font-weight="bold" fill="#111" dominant-baseline="central" stroke="#111" stroke-width="0.18">2</text>
<text x="354.1" y="236.3" font-size="3" font-weight="bold" text-anchor="end" dominant-baseline="central" fill="#222">10<tspan font-size="2.1" dy="-0.8">0</tspan></text>
<text x="355.3" y="238" font-size="3" font-weight="bold" text-anchor="middle" dominant-baseline="central" fill="#222">10<tspan font-size="2.1" dy="-0.8">0</tspan></text>
<text x="354.1" y="225.48" font-size="3" font-weight="bold" text-anchor="end" dominant-baseline="central" fill="#222">10<tspan font-size="2.1" dy="-0.8">1</tspan></text>
<text x="370.15" y="238" font-size="3" font-weight="bold" text-anchor="middle" dominant-baseline="central" fill="#222">10<tspan font-size="2.1" dy="-0.8">1</tspan></text>
<text x="354.1" y="214.65" font-size="3" font-weight="bold" text-anchor="end" dominant-baseline="central" fill="#222">10<tspan font-size="2.1" dy="-0.8">2</tspan></text>
<text x="385" y="238" font-size="3" font-weight="bold" text-anchor="middle" dominant-baseline="central" fill="#222">10<tspan font-size="2.1" dy="-0.8">2</tspan></text>
<text x="354.1" y="203.82" font-size="3" font-weight="bold" text-anchor="end" dominant-baseline="central" fill="#222">10<tspan font-size="2.1" dy="-0.8">3</tspan></text>
<text x="399.85" y="238" font-size="3" font-weight="bold" text-anchor="middle" dominant-baseline="central" fill="#222">10<tspan font-size="2.1" dy="-0.8">3</tspan></text>
<text x="354.1" y="193" font-size="3" font-weight="bold" text-anchor="end" dominant-baseline="central" fill="#222">10<tspan font-size="2.1" dy="-0.8">4</tspan></text>
<text x="414.7" y="238" font-size="3" font-weight="bold" text-anchor="middle" dominant-baseline="central" fill="#222">10<tspan font-size="2.1" dy="-0.8">4</tspan></text>
<defs><linearGradient id="g639" x1="0" x2="1" y1="0" y2="0"><stop offset="0" stop-color="#000"/><stop offset="0.664" stop-color="#000"/><stop offset="0.782" stop-color="#000" stop-opacity="0.55"/><stop offset="1" stop-color="#000" stop-opacity="0"/></linearGradient></defs>
<rect x="354.7" y="221.5" width="26.8" height="14.5" fill="url(#g639)"/>
<ellipse cx="388" cy="229.05" rx="11.98" ry="3.89" fill="#999" opacity="0.51" filter="url(#sb2)"/>
<path d="M381.0 226.0h.60M382.8 226.2h.60M384.7 225.9h.60M374.3 226.3h.60M379.3 226.1h.60M379.0 234.5h.60M375.6 227.4h.60M395.3 230.4h.60M382.0 224.2h.60M382.0 228.1h.60M390.8 229.1h.60M386.2 232.2h.60M398.0 232.6h.60M380.7 232.6h.60M383.5 233.9h.60M372.9 226.2h.60M394.4 234.0h.60M385.2 227.9h.60M379.5 233.3h.60M395.7 230.4h.60M381.1 231.6h.60M381.2 228.1h.60M377.9 229.3h.60M381.4 228.0h.60M388.8 234.7h.60M386.0 234.3h.60M380.9 232.2h.60M373.5 234.5h.60M398.5 228.8h.60M385.0 234.8h.60M373.7 234.0h.60M381.6 226.9h.60M391.1 228.4h.60M385.8 223.4h.60M381.9 227.5h.60M388.2 234.9h.60M390.3 224.2h.60M394.6 232.4h.60M393.1 224.6h.60M378.9 234.2h.60M386.6 231.2h.60M394.1 230.3h.60M377.9 227.1h.60M378.2 228.7h.60M384.1 228.0h.60M376.3 232.9h.60M389.9 222.9h.60M388.5 233.1h.60M387.6 235.0h.60M387.5 230.8h.60M387.6 233.6h.60M387.0 232.0h.60M387.7 228.8h.60M372.7 224.8h.60M379.3 232.4h.60M383.9 224.1h.60M384.3 234.8h.60M392.9 233.1h.60M386.9 223.4h.60M379.7 233.1h.60M385.6 225.7h.60M372.8 226.0h.60M391.3 227.1h.60M391.5 223.1h.60M387.6 224.2h.60M392.0 227.3h.60M382.8 225.6h.60M375.0 235.1h.60M385.1 231.7h.60M389.7 234.1h.60M386.4 226.6h.60M380.2 232.6h.60M389.3 223.3h.60M379.4 232.6h.60M390.6 233.8h.60M379.2 223.2h.60M392.7 227.2h.60M399.6 226.5h.60M376.2 235.3h.60M394.6 222.9h.60M384.6 229.0h.60M391.1 234.9h.60M395.7 234.1h.60M390.9 225.8h.60M405.6 232.6h.60M373.0 234.2h.60M375.7 232.1h.60M380.7 227.0h.60M376.3 235.0h.60M377.1 228.6h.60M382.5 228.5h.60M374.7 235.1h.60M385.2 223.4h.60M374.6 235.0h.60M377.4 229.3h.60M398.8 230.1h.60M396.9 226.3h.60M373.4 223.3h.60M392.3 228.7h.60M386.2 232.4h.60M376.0 228.4h.60M396.2 232.7h.60M379.4 227.9h.60M375.7 223.9h.60M401.0 232.9h.60M376.3 233.9h.60M390.8 230.3h.60M387.7 225.4h.60M385.2 228.1h.60M401.4 231.8h.60M395.4 225.0h.60M379.9 227.6h.60M383.9 223.0h.60M385.9 228.7h.60M379.1 223.2h.60M376.9 226.8h.60M373.1 228.8h.60M382.1 234.5h.60M395.6 224.7h.60M380.0 223.5h.60M397.6 223.0h.60M373.8 232.2h.60M373.4 234.3h.60M394.6 228.5h.60M400.6 233.9h.60M382.2 222.9h.60M386.2 235.2h.60M385.9 234.1h.60M384.6 235.5h.60M392.3 222.9h.60M396.2 223.5h.60M397.8 225.5h.60M375.9 224.5h.60M394.2 225.6h.60M392.9 228.2h.60M390.7 234.9h.60M378.2 232.0h.60M374.5 223.4h.60M399.8 223.1h.60M402.0 228.3h.60M377.7 229.3h.60M375.8 233.2h.60M375.0 226.1h.60M376.8 230.7h.60M396.1 230.5h.60M382.6 234.0h.60M375.3 228.4h.60M383.4 225.4h.60M404.8 231.6h.60M391.6 232.7h.60M381.7 226.0h.60M389.3 228.2h.60M385.9 234.1h.60M378.2 224.2h.60M376.4 234.0h.60M409.6 226.0h.60M374.7 228.0h.60M376.3 227.1h.60M384.0 227.7h.60M378.9 225.0h.60M377.4 231.0h.60M384.2 229.5h.60M390.3 231.7h.60M393.4 227.8h.60M394.0 222.9h.60M381.1 229.1h.60M394.8 223.3h.60M381.6 230.8h.60M379.3 232.9h.60M373.0 226.3h.60M385.9 234.1h.60M393.1 231.9h.60M383.1 232.9h.60M376.1 225.6h.60M387.8 230.3h.60M384.8 232.2h.60M396.8 230.0h.60M376.0 230.6h.60M375.0 232.9h.60M375.0 227.1h.60M387.6 230.4h.60M390.6 232.3h.60M392.2 229.0h.60M390.6 233.9h.60M391.6 231.1h.60M372.8 232.1h.60M401.4 232.5h.60M373.6 224.9h.60M394.6 227.4h.60M392.2 228.6h.60M375.2 231.3h.60M374.5 227.6h.60M391.5 227.5h.60M407.2 230.0h.60M375.8 222.8h.60M401.3 231.2h.60M382.3 226.6h.60M393.7 231.3h.60M377.0 230.0h.60M395.4 231.8h.60M377.1 228.5h.60M378.0 226.6h.60M379.7 228.0h.60M388.4 234.6h.60M389.3 226.1h.60M374.5 225.8h.60M409.2 231.9h.60M385.0 228.5h.60M396.1 231.2h.60M399.6 227.8h.60M376.8 232.0h.60M381.3 223.9h.60M396.6 230.9h.60M374.1 223.9h.60M378.8 224.0h.60M389.7 223.0h.60M379.6 229.2h.60M383.4 230.9h.60M382.1 224.5h.60M395.9 233.9h.60M374.9 224.0h.60M396.5 227.6h.60M372.6 225.2h.60M395.4 224.2h.60M375.8 229.3h.60M397.6 235.3h.60M380.1 233.1h.60M394.5 231.4h.60M383.2 225.8h.60M381.0 224.8h.60M387.2 225.3h.60M392.9 224.8h.60M376.3 225.6h.60M387.6 231.3h.60M374.8 228.3h.60M378.6 228.4h.60M374.8 234.2h.60M387.3 234.3h.60M376.8 234.4h.60M393.3 231.1h.60M382.8 234.1h.60M399.7 230.2h.60M385.4 235.1h.60M378.1 225.9h.60M373.4 227.5h.60M385.6 231.2h.60M387.6 233.9h.60M389.5 233.2h.60M385.4 234.8h.60M395.4 232.6h.60M395.0 223.3h.60M389.4 225.9h.60M376.9 225.4h.60M383.0 233.2h.60M384.6 230.1h.60M381.5 230.3h.60M392.0 233.7h.60M396.5 230.1h.60M379.4 227.9h.60M392.8 234.8h.60M382.7 232.0h.60M383.5 233.1h.60M375.6 223.5h.60M401.5 228.9h.60M382.7 230.3h.60M376.3 233.3h.60M391.4 231.4h.60M393.5 225.7h.60M373.5 233.8h.60M393.3 223.7h.60M381.8 230.8h.60M377.8 232.6h.60M379.8 234.9h.60M379.8 229.5h.60M384.7 224.6h.60M382.6 234.8h.60M398.4 229.9h.60M378.1 227.1h.60M377.5 228.7h.60M373.3 230.5h.60M378.1 227.1h.60M375.8 234.5h.60M373.5 223.0h.60M379.6 228.0h.60M391.7 234.7h.60M395.5 227.5h.60M402.5 228.2h.60M385.0 235.2h.60M375.6 234.2h.60M373.1 226.8h.60M391.5 224.1h.60M380.6 223.8h.60M398.3 225.8h.60M381.0 223.0h.60M378.4 235.3h.60M400.3 233.8h.60M378.4 224.7h.60M373.2 223.7h.60M381.9 231.8h.60M390.3 223.2h.60M392.9 226.5h.60M389.3 226.1h.60M382.3 233.7h.60M387.9 231.3h.60M381.5 223.0h.60M374.5 226.6h.60M377.3 231.7h.60M400.1 223.1h.60M390.7 230.9h.60M378.5 223.1h.60M385.7 230.2h.60M373.8 224.4h.60M376.1 227.2h.60M377.1 226.7h.60M387.8 224.7h.60M376.4 228.7h.60M378.6 232.1h.60M390.0 230.2h.60M394.8 224.1h.60M389.1 233.3h.60M389.9 234.7h.60M381.5 233.5h.60M374.3 231.8h.60M382.0 229.8h.60M380.0 227.2h.60M390.6 225.2h.60M395.0 235.0h.60M373.8 227.8h.60M377.1 231.0h.60M378.7 227.5h.60M384.0 228.2h.60M392.4 231.2h.60M383.0 225.0h.60M396.3 232.7h.60M389.2 227.9h.60M387.3 228.2h.60M392.9 233.4h.60M399.0 227.3h.60M395.7 230.9h.60M386.4 224.3h.60M374.3 222.8h.60M389.8 228.4h.60M400.9 227.8h.60M375.1 227.5h.60M373.3 226.9h.60M384.7 224.8h.60M388.0 225.6h.60M378.9 226.2h.60M379.2 225.7h.60M383.7 233.0h.60M388.4 228.6h.60M375.0 229.1h.60M377.9 227.8h.60M396.4 227.6h.60M378.9 230.7h.60M385.8 226.8h.60M382.0 229.8h.60M384.6 232.4h.60M373.9 225.2h.60M375.5 225.5h.60M378.8 228.6h.60M384.9 235.0h.60M383.8 231.9h.60M374.4 230.4h.60M377.9 232.3h.60M372.5 228.1h.60M381.0 223.6h.60M382.3 234.9h.60M393.6 223.7h.60M375.2 231.5h.60M386.6 230.0h.60M376.0 224.9h.60M399.7 226.0h.60M393.4 224.4h.60M380.7 224.8h.60M385.5 233.7h.60M394.6 227.6h.60M378.0 225.7h.60M401.6 227.5h.60M377.8 229.7h.60M374.0 230.3h.60M386.7 222.9h.60M385.8 231.6h.60M384.0 232.3h.60M373.7 234.3h.60M393.8 224.9h.60M385.6 231.9h.60M376.3 227.5h.60M391.0 230.7h.60M388.2 225.9h.60M374.0 232.6h.60M394.0 231.4h.60M380.7 233.0h.60M389.2 225.3h.60M389.7 225.7h.60M376.3 223.2h.60M398.7 233.0h.60M380.9 223.5h.60M394.9 227.3h.60M380.7 233.8h.60M396.8 227.4h.60M374.3 231.6h.60M381.1 232.1h.60M390.5 230.7h.60M388.8 223.2h.60M384.6 226.1h.60M375.1 233.6h.60M378.2 230.6h.60M372.7 233.4h.60M377.0 227.4h.60M392.0 230.8h.60M375.0 223.8h.60M376.5 229.1h.60M379.3 234.6h.60M375.4 229.4h.60M372.5 228.4h.60M396.5 224.0h.60M384.2 233.0h.60M387.4 227.1h.60M385.9 230.3h.60M377.7 232.6h.60M378.4 234.9h.60M392.5 228.1h.60M372.9 225.9h.60M388.6 223.9h.60M384.9 228.8h.60M398.9 227.1h.60M384.9 232.8h.60M385.3 227.8h.60M387.4 223.8h.60M382.8 232.0h.60M391.9 223.1h.60M400.1 232.4h.60M394.7 229.8h.60M374.6 230.7h.60M374.3 234.6h.60M402.5 231.2h.60M392.0 230.0h.60M373.9 234.9h.60M385.0 235.0h.60M373.0 231.1h.60M384.6 228.1h.60M374.4 222.8h.60M392.5 225.5h.60M378.9 235.4h.60M388.8 223.1h.60M389.0 226.0h.60M379.9 223.4h.60M383.2 231.0h.60M394.7 234.8h.60M400.2 232.8h.60M383.2 224.8h.60M389.4 231.0h.60M386.4 234.7h.60M381.3 227.1h.60M376.9 229.3h.60M395.2 232.6h.60M374.1 229.0h.60M372.8 235.5h.60M405.7 229.5h.60M373.0 226.0h.60M376.4 229.6h.60M381.3 233.1h.60M373.3 234.7h.60M389.1 230.7h.60M374.6 234.1h.60M382.3 224.4h.60M378.1 234.1h.60M399.3 235.2h.60M374.0 226.2h.60M402.1 229.4h.60M383.5 234.2h.60M395.1 233.8h.60M399.6 222.9h.60M399.2 223.0h.60M384.3 226.8h.60M377.7 233.4h.60M375.0 222.8h.60M383.5 226.9h.60M387.8 222.8h.60M392.7 232.6h.60M389.9 232.1h.60M393.9 228.1h.60M388.7 235.4h.60M377.8 223.7h.60M394.0 234.9h.60M381.3 228.6h.60M392.6 226.0h.60M372.6 224.9h.60M386.9 225.8h.60M390.5 222.8h.60M377.3 227.0h.60M372.6 232.1h.60M373.2 231.0h.60M399.5 226.1h.60M391.3 232.9h.60M388.4 234.3h.60M385.5 226.2h.60M378.6 225.4h.60M377.3 234.8h.60M377.5 229.3h.60M391.4 224.8h.60M372.8 225.1h.60M383.6 230.4h.60M388.5 229.7h.60M393.8 233.9h.60M390.0 224.0h.60M395.1 230.4h.60M372.6 227.8h.60M375.8 233.1h.60M376.8 225.2h.60M375.1 231.7h.60M383.0 232.1h.60M384.2 231.1h.60M379.7 232.0h.60M374.5 233.7h.60M379.3 230.0h.60M379.8 231.9h.60M385.9 232.9h.60M380.7 231.6h.60M388.3 228.0h.60M397.3 224.9h.60M400.4 225.3h.60M391.8 234.5h.60M384.8 229.6h.60M382.7 226.3h.60M379.7 226.1h.60M387.9 227.8h.60M381.5 228.0h.60M376.0 232.7h.60M396.5 227.3h.60M374.4 234.9h.60M395.5 235.4h.60M372.6 229.3h.60M394.0 231.5h.60M375.6 226.1h.60M376.5 229.6h.60M377.9 228.9h.60M390.8 227.7h.60M390.1 234.8h.60M387.7 226.2h.60M382.3 232.2h.60M375.8 231.3h.60M375.6 231.9h.60M387.9 230.2h.60M392.8 227.7h.60M375.1 230.9h.60M391.2 227.9h.60M372.8 226.9h.60M375.5 230.7h.60M399.1 233.7h.60M373.1 224.4h.60M392.0 224.5h.60M385.2 228.2h.60M401.2 226.4h.60M384.0 234.1h.60M381.0 223.5h.60M384.7 224.1h.60M373.2 233.3h.60M379.8 232.6h.60M374.7 234.7h.60M374.6 229.3h.60M388.7 224.5h.60M380.9 225.0h.60M374.6 224.3h.60M378.1 223.3h.60M377.6 223.5h.60M377.0 234.5h.60M398.2 235.4h.60M399.7 223.3h.60M387.7 223.6h.60M384.5 231.4h.60M393.8 223.7h.60M386.3 225.3h.60M385.2 227.9h.60M378.6 230.5h.60M393.6 224.1h.60M381.5 223.3h.60M388.5 224.4h.60M392.0 232.0h.60M399.5 231.7h.60M377.1 231.5h.60M378.0 224.7h.60M379.9 235.4h.60M389.8 233.2h.60M382.2 225.1h.60M387.0 225.1h.60M387.7 231.2h.60M388.3 232.9h.60M389.4 234.1h.60M374.4 234.1h.60M372.8 233.5h.60M383.3 229.7h.60M383.7 230.2h.60M387.9 225.7h.60M373.4 229.5h.60M374.0 235.3h.60M382.8 228.8h.60M403.9 225.6h.60M373.0 233.4h.60M393.0 225.8h.60M374.9 226.9h.60M388.7 230.0h.60M394.6 228.1h.60M379.3 228.8h.60M380.0 233.9h.60M375.3 224.0h.60M384.5 223.6h.60M383.8 224.6h.60M382.6 227.4h.60M390.0 231.5h.60M392.3 229.6h.60M394.7 234.0h.60M387.1 223.2h.60M384.9 233.9h.60M385.7 229.1h.60M393.8 226.4h.60M387.5 226.2h.60M373.5 234.8h.60M382.4 229.9h.60M384.7 225.4h.60M389.3 227.9h.60M394.1 231.4h.60M375.1 230.2h.60M378.8 235.3h.60M397.2 226.6h.60M393.7 229.1h.60M372.5 226.1h.60M374.1 234.3h.60M408.3 225.6h.60M375.9 223.9h.60M390.8 234.1h.60M381.6 231.9h.60M376.5 231.7h.60M374.2 230.6h.60M389.9 226.6h.60M375.2 230.4h.60M385.5 226.8h.60M373.5 228.5h.60M391.2 231.9h.60M389.0 227.7h.60M380.5 229.5h.60M379.4 224.4h.60M388.3 225.5h.60M374.3 234.3h.60M387.4 229.7h.60M384.8 231.5h.60M390.5 223.3h.60M384.1 225.5h.60M373.3 229.6h.60M392.6 234.9h.60M375.0 223.3h.60M372.6 229.1h.60M385.5 234.2h.60M384.7 233.2h.60M380.2 224.3h.60M384.8 231.4h.60M378.6 231.5h.60M381.5 232.1h.60M374.3 230.7h.60M390.5 223.3h.60M401.7 227.0h.60M389.0 227.4h.60M382.9 226.1h.60M376.8 229.0h.60M378.5 228.0h.60M382.4 227.4h.60M386.7 228.8h.60M379.0 226.7h.60M396.1 223.6h.60M378.1 223.8h.60M376.1 229.4h.60M389.5 230.6h.60M396.7 223.5h.60M376.4 225.8h.60M385.7 230.7h.60M376.7 227.5h.60M379.9 226.4h.60M373.9 231.9h.60M388.9 229.2h.60M379.5 228.1h.60M399.0 234.6h.60M374.6 228.0h.60M376.7 228.2h.60M403.0 223.1h.60M387.0 223.2h.60M389.2 233.1h.60M381.7 235.3h.60M373.8 233.4h.60M383.1 232.3h.60M395.1 230.8h.60M385.4 227.7h.60M380.2 231.4h.60M394.2 223.4h.60M375.4 228.3h.60M374.9 232.6h.60M379.6 233.6h.60M375.5 223.4h.60M382.0 232.2h.60M400.7 224.2h.60M399.2 228.8h.60M374.2 227.3h.60M392.3 229.3h.60M400.4 232.8h.60M373.2 223.4h.60M386.6 223.6h.60M372.7 233.1h.60M374.9 231.5h.60M398.1 234.6h.60M394.1 228.6h.60M386.4 230.3h.60M396.0 231.5h.60M383.6 226.6h.60M403.6 223.3h.60M393.7 229.1h.60M386.9 235.4h.60M374.4 227.0h.60M387.2 225.1h.60M399.7 224.7h.60M377.0 226.6h.60M386.4 226.4h.60M391.8 230.8h.60M384.6 232.1h.60M374.4 234.1h.60M377.6 224.9h.60M375.3 230.4h.60M375.0 226.3h.60M383.8 224.2h.60M384.9 230.9h.60M379.8 227.9h.60M374.1 224.2h.60M377.2 233.6h.60M394.1 224.2h.60M407.7 235.3h.60M380.8 224.6h.60M393.4 232.6h.60M377.9 223.2h.60M393.8 234.3h.60M392.1 228.0h.60M394.7 232.7h.60M372.7 231.0h.60M375.7 231.6h.60M395.8 228.0h.60M374.3 223.5h.60M377.3 224.6h.60M397.5 227.1h.60M378.2 223.6h.60M382.0 226.4h.60M373.4 231.6h.60M379.9 231.6h.60M381.9 230.4h.60M402.6 233.9h.60M380.6 231.8h.60M382.1 232.6h.60M378.9 228.2h.60M375.4 233.3h.60M391.9 229.4h.60M385.1 229.5h.60M390.3 231.7h.60M376.4 224.9h.60M388.1 233.8h.60M377.3 226.8h.60M385.4 225.9h.60M386.4 226.3h.60M378.0 228.7h.60M402.9 230.2h.60M388.1 229.4h.60M387.9 232.4h.60M381.3 232.6h.60M389.6 232.8h.60M391.1 233.5h.60M391.0 233.7h.60M385.4 225.4h.60M378.6 227.1h.60M389.3 232.3h.60M387.1 223.4h.60M405.7 235.2h.60M391.8 235.4h.60M376.0 232.4h.60M396.7 226.1h.60M373.5 231.4h.60M376.3 228.8h.60M383.6 231.0h.60M375.9 223.8h.60M373.1 224.7h.60M390.9 234.1h.60M375.1 229.5h.60M381.7 224.3h.60M394.7 225.3h.60M391.5 228.9h.60M385.7 225.7h.60M388.9 231.5h.60M375.7 223.5h.60M377.0 234.6h.60M391.6 234.3h.60M388.1 226.0h.60M377.3 226.0h.60M373.8 232.8h.60M395.9 230.6h.60M372.8 223.7h.60M389.0 223.6h.60M391.8 232.2h.60M373.0 235.5h.60M393.5 223.1h.60M380.2 227.3h.60M393.3 230.8h.60M374.7 232.0h.60M387.7 223.8h.60M389.3 231.2h.60M387.5 233.6h.60M397.2 225.2h.60M395.1 231.4h.60M390.9 230.1h.60M388.0 223.1h.60M388.2 228.6h.60M376.5 229.4h.60M389.2 230.4h.60M375.6 233.9h.60M386.9 232.2h.60M387.1 229.5h.60M373.3 222.9h.60M376.9 223.9h.60M381.6 230.4h.60M384.4 225.4h.60M394.5 231.7h.60M376.2 235.1h.60M373.0 226.7h.60M378.8 231.0h.60M396.4 233.7h.60M392.8 224.4h.60M373.6 222.9h.60M373.6 227.5h.60M382.0 235.5h.60M381.4 228.8h.60M384.9 229.2h.60M392.6 226.4h.60M381.3 223.7h.60M375.4 225.3h.60M379.9 227.7h.60M397.5 231.0h.60M374.4 233.2h.60M390.2 226.4h.60M377.6 230.6h.60M394.8 231.3h.60M375.4 233.8h.60M396.6 223.8h.60M388.9 232.8h.60M399.4 233.3h.60M394.8 228.1h.60M379.5 231.0h.60M372.6 233.4h.60M389.1 234.0h.60M376.7 230.7h.60M380.7 233.7h.60M387.5 235.0h.60M384.7 235.1h.60M391.1 233.1h.60M393.9 224.8h.60M390.3 227.6h.60M389.5 227.0h.60M390.5 234.5h.60M373.9 232.0h.60M377.5 230.7h.60M402.1 224.6h.60M385.0 224.5h.60M377.5 224.2h.60M383.7 232.8h.60M390.6 230.7h.60M395.0 233.1h.60M400.8 229.6h.60M372.8 227.3h.60M380.0 234.7h.60M377.2 233.6h.60M402.7 230.1h.60M373.5 229.9h.60M387.9 228.6h.60M381.0 231.2h.60M373.8 223.6h.60M395.7 232.0h.60M385.7 224.4h.60M383.8 225.3h.60M380.8 225.3h.60M385.4 235.3h.60M377.0 225.8h.60M374.4 226.6h.60M377.2 233.5h.60M387.2 229.6h.60M378.7 225.0h.60M378.3 224.9h.60M378.5 230.3h.60M391.1 229.0h.60M373.5 225.0h.60M390.0 226.8h.60M384.8 233.6h.60M377.8 232.4h.60M377.5 235.1h.60M386.9 232.5h.60M372.5 230.9h.60M384.0 234.2h.60M388.6 225.6h.60M381.5 227.8h.60M376.0 231.3h.60M380.5 227.5h.60M375.8 229.8h.60M374.0 233.8h.60M376.5 223.9h.60M390.2 229.5h.60M390.9 230.3h.60M374.5 233.9h.60M400.5 231.9h.60M399.8 229.5h.60M388.0 232.0h.60M375.1 225.0h.60M407.6 228.4h.60M393.7 226.5h.60M382.8 227.1h.60M379.7 222.9h.60M373.0 226.5h.60M389.3 230.4h.60M389.9 224.3h.60M374.3 229.8h.60M391.0 228.6h.60M379.2 226.2h.60M385.4 230.1h.60M399.1 232.8h.60M388.5 227.8h.60M383.3 232.4h.60M397.6 222.9h.60M385.8 230.9h.60M390.2 228.8h.60M377.1 233.5h.60M376.1 235.0h.60M373.2 224.2h.60M380.9 231.1h.60M374.9 223.0h.60M382.9 227.3h.60M377.3 223.9h.60M373.8 225.9h.60M374.9 230.5h.60M394.6 223.0h.60M378.2 232.5h.60M375.3 223.8h.60M377.8 227.9h.60M374.7 235.1h.60M394.9 235.0h.60M390.1 224.7h.60M385.6 224.3h.60M385.3 234.0h.60M381.6 226.3h.60M393.1 225.8h.60M391.6 224.1h.60M392.8 231.5h.60M393.5 228.0h.60M375.4 224.8h.60M396.0 227.7h.60M390.8 231.7h.60M374.8 232.3h.60M391.3 232.3h.60M403.1 226.3h.60M388.9 226.5h.60M386.2 234.8h.60M375.2 235.1h.60M401.8 231.6h.60M396.6 228.3h.60M374.9 225.8h.60M373.0 226.1h.60M377.7 224.8h.60M375.2 224.7h.60M388.5 227.3h.60M376.7 225.3h.60M375.9 227.1h.60M383.1 227.8h.60M392.0 227.3h.60M379.0 226.9h.60M398.9 232.1h.60M379.2 234.5h.60M399.6 231.2h.60M392.7 232.7h.60M392.9 229.7h.60M393.4 223.8h.60M386.8 227.2h.60M373.5 225.4h.60M386.4 225.6h.60M388.2 226.2h.60M377.0 230.0h.60M384.4 231.4h.60M380.8 229.0h.60M382.6 226.9h.60M391.5 230.1h.60M406.0 234.8h.60M389.1 228.4h.60M390.3 224.4h.60M382.9 225.2h.60M387.8 226.5h.60M397.8 228.5h.60M380.5 228.7h.60M392.3 224.9h.60M374.0 233.4h.60M373.2 226.6h.60M381.4 232.0h.60M396.8 229.6h.60M384.1 223.2h.60M380.9 223.4h.60M408.0 228.1h.60M378.6 223.3h.60M378.2 231.2h.60M376.4 225.0h.60M377.0 232.2h.60M382.3 233.3h.60M390.5 224.5h.60M397.8 231.8h.60M374.7 230.9h.60M374.1 232.9h.60M377.1 233.6h.60M391.9 228.9h.60M380.6 228.1h.60M387.3 224.5h.60M393.3 233.5h.60M390.8 235.4h.60M392.6 232.7h.60M382.8 222.9h.60M376.9 233.9h.60M397.6 230.4h.60M388.7 225.2h.60M376.0 230.3h.60M373.5 229.3h.60M403.1 235.0h.60M373.4 228.1h.60M376.8 227.8h.60M377.7 234.8h.60M385.9 228.9h.60M393.1 223.2h.60M374.8 227.8h.60M380.1 231.4h.60M373.4 229.9h.60M391.0 226.8h.60M383.5 223.7h.60M379.7 229.6h.60M382.7 224.2h.60" stroke="#000" stroke-width="0.6" stroke-opacity="0.75" fill="none" filter="url(#sb)"/>
<path d="M375.1 202.4h.60M367.7 218.4h.60M364.1 221.1h.60M368.0 215.8h.60M370.8 218.3h.60M357.4 209.5h.60M366.5 214.3h.60M372.5 218.5h.60M376.1 210.0h.60M374.1 216.9h.60M363.9 220.8h.60M373.5 205.0h.60M368.6 207.1h.60M357.5 198.7h.60M372.2 221.6h.60M371.4 213.7h.60M373.3 220.9h.60M358.9 217.3h.60M368.6 218.2h.60M376.2 217.6h.60M363.9 219.0h.60M362.9 207.2h.60M372.9 221.9h.60M358.7 218.6h.60M365.0 220.8h.60M366.6 217.0h.60M374.2 216.7h.60M356.7 222.0h.60M374.4 199.4h.60M370.0 212.2h.60M361.8 214.7h.60M356.4 200.1h.60M369.1 197.6h.60M375.0 217.8h.60M359.7 210.6h.60M358.9 221.5h.60M367.0 204.6h.60" stroke="#444" stroke-width="0.6" stroke-opacity="0.5" fill="none" filter="url(#sb)"/>
<path d="M396.6 217.8h.56M403.4 216.9h.56M362.5 221.1h.56M371.2 220.2h.56M377.7 221.3h.56M388.3 222.3h.56M383.1 218.1h.56M362.3 222.1h.56M392.3 219.6h.56M377.8 216.6h.56M397.4 221.9h.56M389.5 220.9h.56M391.6 221.9h.56M387.6 215.3h.56M397.1 222.1h.56M371.5 222.3h.56M392.6 217.8h.56M385.4 222.3h.56M363.3 218.1h.56M385.4 221.0h.56M365.4 221.4h.56M387.0 213.2h.56M375.0 222.2h.56M394.5 222.1h.56M371.0 214.9h.56M402.8 222.2h.56M388.9 221.3h.56M378.9 218.9h.56M364.1 221.4h.56M358.6 219.6h.56M371.1 222.2h.56M356.8 219.9h.56M376.7 220.2h.56M378.6 222.2h.56M384.5 220.8h.56M369.8 221.5h.56M360.8 218.4h.56M397.2 220.9h.56M382.6 221.5h.56M374.1 219.4h.56M401.1 222.1h.56M407.9 221.5h.56M393.4 219.6h.56M371.8 218.2h.56M404.2 219.8h.56M395.9 216.5h.56M401.1 222.1h.56M357.7 222.0h.56M363.5 222.2h.56M383.9 221.0h.56M361.0 222.0h.56M369.2 211.9h.56M388.6 219.2h.56M403.4 213.5h.56M367.5 217.1h.56M387.7 219.0h.56M365.2 219.8h.56M388.4 219.2h.56M364.1 222.2h.56M379.8 215.4h.56M371.9 212.7h.56M367.4 220.1h.56M391.9 221.6h.56M368.0 221.4h.56M404.7 218.8h.56M365.7 217.6h.56M360.7 218.6h.56M392.3 222.1h.56M370.7 209.2h.56M405.9 221.8h.56" stroke="#444" stroke-width="0.56" stroke-opacity="0.5" fill="none" filter="url(#sb)"/>
<rect x="354.7" y="192.7" width="59.4" height="43.3" fill="none" stroke="#222" stroke-width="0.7"/>
<line x1="372.5" y1="192.7" x2="372.5" y2="236" stroke="#222" stroke-width="0.6"/>
<line x1="354.7" y1="222.1" x2="414.1" y2="222.1" stroke="#222" stroke-width="0.6"/>
<text x="373.7" y="196.35" font-size="4.29" text-anchor="start" font-weight="bold" fill="#111" dominant-baseline="central" stroke="#111" stroke-width="0.18" textLength="24.56" lengthAdjust="spacingAndGlyphs">WT AMD3100</text>
<text x="393.3" y="202.85" font-size="5.72" text-anchor="middle" font-weight="bold" fill="#111" dominant-baseline="central" stroke="#111" stroke-width="0.18" textLength="5.78" lengthAdjust="spacingAndGlyphs">30</text>
<text x="284.8" y="288.5" font-size="3" font-weight="bold" text-anchor="end" dominant-baseline="central" fill="#222">10<tspan font-size="2.1" dy="-0.8">0</tspan></text>
<text x="286" y="290.2" font-size="3" font-weight="bold" text-anchor="middle" dominant-baseline="central" fill="#222">10<tspan font-size="2.1" dy="-0.8">0</tspan></text>
<text x="284.8" y="277.68" font-size="3" font-weight="bold" text-anchor="end" dominant-baseline="central" fill="#222">10<tspan font-size="2.1" dy="-0.8">1</tspan></text>
<text x="300.7" y="290.2" font-size="3" font-weight="bold" text-anchor="middle" dominant-baseline="central" fill="#222">10<tspan font-size="2.1" dy="-0.8">1</tspan></text>
<text x="284.8" y="266.85" font-size="3" font-weight="bold" text-anchor="end" dominant-baseline="central" fill="#222">10<tspan font-size="2.1" dy="-0.8">2</tspan></text>
<text x="315.4" y="290.2" font-size="3" font-weight="bold" text-anchor="middle" dominant-baseline="central" fill="#222">10<tspan font-size="2.1" dy="-0.8">2</tspan></text>
<text x="284.8" y="256.02" font-size="3" font-weight="bold" text-anchor="end" dominant-baseline="central" fill="#222">10<tspan font-size="2.1" dy="-0.8">3</tspan></text>
<text x="330.1" y="290.2" font-size="3" font-weight="bold" text-anchor="middle" dominant-baseline="central" fill="#222">10<tspan font-size="2.1" dy="-0.8">3</tspan></text>
<text x="284.8" y="245.2" font-size="3" font-weight="bold" text-anchor="end" dominant-baseline="central" fill="#222">10<tspan font-size="2.1" dy="-0.8">4</tspan></text>
<text x="344.8" y="290.2" font-size="3" font-weight="bold" text-anchor="middle" dominant-baseline="central" fill="#222">10<tspan font-size="2.1" dy="-0.8">4</tspan></text>
<defs><linearGradient id="g660" x1="0" x2="1" y1="0" y2="0"><stop offset="0" stop-color="#000"/><stop offset="0.781" stop-color="#000"/><stop offset="0.857" stop-color="#000" stop-opacity="0.55"/><stop offset="1" stop-color="#000" stop-opacity="0"/></linearGradient></defs>
<rect x="285.4" y="273.7" width="22.8" height="14.5" fill="url(#g660)"/>
<ellipse cx="323.5" cy="281.25" rx="5.9" ry="3.89" fill="#999" opacity="0.33" filter="url(#sb2)"/>
<path d="M326.4 279.3h.60M326.0 278.8h.60M322.7 277.7h.60M315.0 286.0h.60M326.1 285.6h.60M324.8 280.8h.60M327.2 281.9h.60M323.3 283.6h.60M326.1 275.0h.60M309.5 278.3h.60M326.4 281.8h.60M324.0 282.5h.60M322.0 284.8h.60M331.5 286.8h.60M321.3 285.8h.60M325.6 280.6h.60M304.3 276.8h.60M324.3 275.6h.60M327.9 286.9h.60M330.9 277.0h.60M304.8 287.7h.60M309.2 280.8h.60M322.1 283.3h.60M320.9 286.0h.60M312.5 280.1h.60M328.6 279.1h.60M329.5 275.3h.60M310.0 278.7h.60M323.9 280.8h.60M327.2 284.3h.60M326.0 286.2h.60M330.8 279.9h.60M332.6 286.2h.60M322.0 276.7h.60M331.0 282.5h.60M312.1 286.5h.60M317.8 277.5h.60M323.8 283.9h.60M320.5 283.8h.60M325.0 280.3h.60M316.0 275.0h.60M304.1 281.1h.60M330.7 281.0h.60M319.4 277.6h.60M309.0 277.9h.60M325.8 277.0h.60M310.0 279.9h.60M311.5 278.7h.60M325.5 275.7h.60M306.1 280.8h.60M322.7 281.6h.60M327.4 276.4h.60M306.6 285.9h.60M316.9 282.0h.60M309.7 283.9h.60M322.1 286.8h.60M325.9 282.0h.60M310.9 275.2h.60M307.2 285.8h.60M328.8 280.9h.60M304.6 282.0h.60M307.3 286.1h.60M321.5 287.6h.60M317.7 287.3h.60M304.0 280.0h.60M322.5 283.7h.60M322.9 278.7h.60M304.2 285.8h.60M310.7 287.3h.60M317.5 283.1h.60M308.1 279.6h.60M303.2 284.6h.60M323.8 280.9h.60M325.9 277.8h.60M308.2 284.4h.60M321.7 276.7h.60M326.6 276.5h.60M323.9 278.0h.60M328.3 277.9h.60M328.1 280.6h.60M331.3 285.3h.60M327.4 283.4h.60M308.9 284.4h.60M321.9 275.3h.60M318.7 280.6h.60M307.4 287.2h.60M305.0 283.4h.60M322.5 276.7h.60M305.8 285.0h.60M306.4 279.3h.60M323.1 286.0h.60M330.8 280.9h.60M307.6 278.9h.60M304.2 281.1h.60M304.7 282.5h.60M328.1 279.2h.60M323.9 275.7h.60M324.6 283.9h.60M315.8 275.9h.60M330.0 278.8h.60M324.8 281.1h.60M322.5 287.5h.60M304.5 276.1h.60M304.8 283.2h.60M313.6 281.7h.60M321.5 278.6h.60M322.3 285.3h.60M325.7 275.0h.60M327.9 284.1h.60M312.7 275.3h.60M324.3 286.8h.60M319.4 285.7h.60M323.0 278.5h.60M308.9 287.2h.60M307.9 280.3h.60M315.6 282.4h.60M312.0 276.9h.60M324.3 279.7h.60M321.6 281.3h.60M325.1 278.6h.60M317.0 279.1h.60M318.0 278.0h.60M329.1 287.7h.60M325.3 278.5h.60M320.4 285.6h.60M305.6 276.0h.60M326.0 278.0h.60M327.2 275.2h.60M317.4 284.1h.60M312.0 281.6h.60M324.1 284.0h.60M308.7 276.0h.60M331.0 275.3h.60M304.6 281.3h.60M322.8 275.7h.60M320.7 282.2h.60M323.6 278.2h.60M327.6 279.4h.60M323.4 277.5h.60M307.9 276.6h.60M322.4 285.6h.60M312.7 283.3h.60M317.3 276.2h.60M309.5 276.8h.60M313.5 284.3h.60M308.6 275.1h.60M320.3 286.0h.60M309.3 277.1h.60M322.6 286.2h.60M309.9 282.8h.60M308.5 279.5h.60M307.5 278.5h.60M322.4 280.9h.60M322.3 283.6h.60M306.2 276.2h.60M319.1 279.3h.60M330.0 279.4h.60M306.3 286.9h.60M315.5 276.6h.60M309.3 284.8h.60M306.9 278.0h.60M325.6 284.1h.60M304.5 276.8h.60M323.1 275.4h.60M303.5 287.6h.60M310.9 279.3h.60M329.5 277.9h.60M312.6 283.8h.60M329.4 281.9h.60M305.4 277.3h.60M305.1 279.6h.60M322.3 278.2h.60M313.6 282.3h.60M323.3 283.6h.60M322.7 275.0h.60M325.6 279.5h.60M324.1 279.0h.60M310.1 281.9h.60M326.7 280.7h.60M307.7 281.3h.60M323.2 280.1h.60M322.0 279.5h.60M319.1 283.6h.60M304.8 282.1h.60M329.5 279.8h.60M308.0 276.8h.60M320.2 275.8h.60M307.3 276.0h.60M322.9 287.0h.60M314.9 276.6h.60M320.1 275.1h.60M327.5 275.4h.60M308.4 286.8h.60M323.3 285.9h.60M312.9 279.2h.60M311.3 280.0h.60M321.8 280.1h.60M307.6 287.5h.60M326.4 285.2h.60M306.0 279.4h.60M304.9 286.6h.60M322.7 284.3h.60M325.7 277.4h.60M312.2 285.1h.60M310.3 276.7h.60M314.8 277.9h.60M304.5 282.4h.60M329.5 277.2h.60M329.0 282.4h.60M331.7 286.2h.60M326.7 275.7h.60M314.5 283.8h.60M306.4 283.9h.60M324.8 287.3h.60M328.2 278.1h.60M308.8 279.9h.60M323.3 276.3h.60M322.6 276.7h.60M303.3 286.6h.60M305.1 275.3h.60M304.3 279.2h.60M305.6 276.1h.60M328.6 286.5h.60M321.6 279.1h.60M307.9 286.9h.60M327.9 280.9h.60M309.6 280.1h.60M313.7 282.1h.60M328.5 279.6h.60M321.7 281.3h.60M303.3 284.0h.60M311.7 278.8h.60M324.8 280.1h.60M322.1 282.6h.60M323.9 280.6h.60M308.9 287.6h.60M326.4 276.5h.60M323.9 277.4h.60M310.7 284.5h.60M306.2 276.0h.60M309.9 277.3h.60M320.0 286.9h.60M309.0 275.0h.60M306.7 276.3h.60M329.1 279.4h.60M325.7 287.6h.60M326.7 277.2h.60M305.6 285.8h.60M324.3 283.5h.60M323.5 279.5h.60M308.2 282.4h.60M306.9 286.4h.60M324.6 277.3h.60M326.5 281.7h.60M305.4 275.8h.60M318.4 280.9h.60M323.0 279.0h.60M318.8 286.6h.60M311.4 284.3h.60M314.8 280.2h.60M309.3 285.9h.60M326.8 285.1h.60M322.7 286.6h.60M313.0 277.7h.60M303.4 283.9h.60M309.0 281.0h.60M309.2 278.6h.60M323.7 277.6h.60M329.6 277.9h.60M320.2 277.4h.60M325.3 281.0h.60M325.6 280.6h.60M303.3 284.5h.60M322.6 279.0h.60M304.2 275.4h.60M331.3 275.3h.60M313.8 284.0h.60M306.5 287.4h.60M319.2 286.6h.60M325.6 281.7h.60M318.8 282.0h.60M332.6 282.7h.60M337.3 276.9h.60M326.7 286.2h.60M328.2 282.2h.60M306.9 277.8h.60M323.8 277.7h.60M323.7 286.7h.60M312.1 285.4h.60M323.2 283.0h.60M324.7 280.5h.60M323.0 286.6h.60M328.1 285.2h.60M307.3 280.6h.60M321.9 286.4h.60M304.4 277.7h.60M307.1 278.4h.60M325.4 283.9h.60M316.0 286.5h.60M315.7 281.7h.60M320.5 287.3h.60M317.9 275.2h.60M325.3 282.9h.60M304.3 280.8h.60M312.6 275.7h.60M325.6 286.1h.60M321.9 286.6h.60M323.8 280.9h.60M304.6 285.2h.60M325.3 279.3h.60M314.9 277.1h.60M324.8 285.2h.60M310.6 277.0h.60M328.7 276.1h.60M320.3 283.1h.60M324.9 275.4h.60M306.0 281.5h.60M305.1 282.0h.60M317.0 282.6h.60M323.5 282.2h.60M325.9 285.0h.60M308.4 286.2h.60M304.3 277.4h.60M325.7 277.5h.60M305.0 282.7h.60M317.3 276.3h.60M324.6 283.3h.60M322.3 276.2h.60M329.9 278.1h.60M303.6 275.4h.60M327.4 284.3h.60M308.1 279.3h.60M310.7 280.2h.60M330.5 279.8h.60M320.4 278.2h.60M324.7 286.8h.60M320.6 276.7h.60M330.7 284.1h.60M325.3 280.5h.60M317.9 285.3h.60M330.3 287.0h.60M307.8 276.2h.60M316.5 282.6h.60M324.6 285.8h.60M329.1 279.0h.60M320.8 284.0h.60M324.3 276.0h.60M323.6 276.2h.60M324.9 287.1h.60M305.5 280.2h.60M325.9 276.1h.60M305.0 282.4h.60M324.7 276.5h.60M324.4 275.4h.60M306.2 277.6h.60M318.0 278.4h.60M324.6 286.3h.60M311.0 284.1h.60M326.1 285.7h.60M322.9 287.3h.60M305.1 282.4h.60M326.2 283.9h.60M328.6 278.8h.60M310.9 277.9h.60M304.0 280.0h.60M326.5 276.4h.60M321.5 276.1h.60M324.9 276.9h.60M318.1 278.6h.60M321.8 284.9h.60M306.1 278.5h.60M317.1 277.1h.60M327.1 279.2h.60M304.7 284.3h.60M328.4 277.1h.60M308.8 276.1h.60M325.0 279.9h.60M323.5 278.7h.60M307.0 281.9h.60M323.3 283.1h.60M324.8 281.5h.60M304.1 280.2h.60M318.2 284.6h.60M311.8 279.0h.60M320.8 283.0h.60M321.2 280.2h.60M329.3 280.9h.60M310.3 276.4h.60M323.7 277.7h.60M328.8 276.9h.60M304.8 284.7h.60M326.2 279.9h.60M304.5 282.1h.60M305.6 286.0h.60M328.9 286.9h.60M311.3 285.2h.60M319.9 285.5h.60M324.9 277.8h.60M320.4 279.2h.60M324.1 282.4h.60M303.9 285.3h.60M326.9 287.6h.60M316.3 276.3h.60M322.3 281.0h.60M305.0 285.2h.60M304.8 280.3h.60M322.1 284.0h.60M324.0 282.7h.60M311.6 277.5h.60M326.4 280.4h.60M320.3 287.1h.60M331.7 281.8h.60M329.8 280.2h.60M307.3 283.2h.60M326.5 286.5h.60M320.7 277.9h.60M325.7 278.1h.60M326.4 280.5h.60M325.3 280.5h.60M331.6 275.5h.60M307.8 280.0h.60M315.0 282.0h.60M306.2 286.1h.60M304.3 280.7h.60M311.0 280.5h.60M310.3 281.3h.60M303.5 285.9h.60M326.5 279.7h.60M308.1 278.7h.60M328.8 275.8h.60M316.4 277.0h.60M327.9 286.5h.60M325.4 281.6h.60M326.8 285.9h.60M321.9 278.7h.60M323.1 282.0h.60M327.9 285.9h.60M323.3 284.5h.60M319.1 282.8h.60M308.0 280.9h.60M322.8 285.7h.60M327.2 282.9h.60M328.1 275.9h.60M327.9 285.4h.60M323.2 278.1h.60M314.5 285.2h.60M305.9 277.7h.60M320.9 276.2h.60M306.8 285.7h.60M305.1 287.4h.60M327.3 282.8h.60M326.2 282.5h.60M325.3 280.3h.60M310.2 285.5h.60M303.9 284.3h.60M316.2 279.9h.60M306.1 286.4h.60M319.9 285.3h.60M305.9 278.4h.60M309.5 277.7h.60M326.4 279.7h.60M310.1 278.0h.60M330.7 283.0h.60M324.7 281.0h.60M308.7 279.2h.60M312.1 284.9h.60M318.2 286.7h.60M326.4 280.0h.60M317.2 276.3h.60M321.3 287.4h.60M325.8 286.6h.60M306.1 277.3h.60M310.2 287.4h.60M312.9 283.7h.60M305.2 284.1h.60M310.2 276.7h.60M334.1 279.9h.60M323.9 286.9h.60M318.5 280.0h.60M330.2 283.1h.60M323.8 277.9h.60M319.2 278.3h.60M324.9 276.2h.60M323.0 275.7h.60M328.5 286.7h.60M322.2 283.1h.60M319.4 284.0h.60M326.8 282.6h.60M304.4 278.8h.60M320.0 285.9h.60M324.8 275.6h.60M327.8 286.8h.60M317.7 281.5h.60M306.1 286.9h.60M327.6 283.1h.60M324.4 280.4h.60M315.9 282.4h.60M303.9 276.3h.60M309.8 276.2h.60M307.7 278.1h.60M326.6 285.9h.60M303.4 279.2h.60M309.0 276.4h.60M330.9 282.9h.60M325.1 282.8h.60M322.8 278.3h.60M304.8 283.4h.60M322.9 278.0h.60M307.3 281.5h.60M326.1 275.6h.60M322.7 287.3h.60M313.1 285.3h.60M305.6 282.1h.60M309.2 286.3h.60M329.3 277.9h.60M308.5 277.2h.60M324.6 280.1h.60M326.2 277.5h.60M306.0 286.4h.60M311.2 281.3h.60M312.8 283.1h.60M324.1 285.9h.60M324.9 279.5h.60M304.1 281.0h.60M314.9 278.7h.60M304.7 284.3h.60M331.6 283.0h.60M314.7 281.3h.60M318.3 282.6h.60M303.9 278.5h.60M322.0 284.2h.60M324.5 280.8h.60M304.9 278.3h.60M307.6 281.3h.60M308.9 281.1h.60M329.7 284.1h.60M316.8 278.0h.60M324.4 277.1h.60M325.8 282.3h.60M324.1 282.4h.60M321.5 282.8h.60M320.9 276.6h.60M326.8 277.0h.60M303.2 282.6h.60M319.0 280.0h.60M321.6 282.5h.60M330.0 280.3h.60M323.9 281.4h.60M325.0 285.5h.60M321.8 276.3h.60M310.8 282.2h.60M325.7 277.5h.60M307.5 276.7h.60M305.0 281.4h.60M321.2 284.2h.60M317.9 286.2h.60M320.1 283.3h.60M325.5 285.1h.60M325.7 285.0h.60M316.5 280.9h.60M322.2 282.1h.60M332.7 276.2h.60M321.7 287.4h.60M320.6 277.8h.60M325.3 282.9h.60M325.2 280.3h.60M313.0 278.4h.60M307.2 278.3h.60M309.9 278.0h.60M303.5 284.7h.60M328.4 282.9h.60M305.8 275.6h.60M323.1 277.7h.60M308.5 283.5h.60M309.0 275.9h.60M316.1 277.9h.60M322.0 276.6h.60M326.0 278.8h.60M317.7 286.7h.60M322.9 276.5h.60M307.3 277.9h.60M324.7 287.3h.60M319.7 277.5h.60M330.5 279.8h.60M314.9 284.7h.60M327.6 277.9h.60M319.9 287.3h.60M328.5 287.2h.60M314.2 279.9h.60M321.4 281.6h.60M323.4 277.4h.60M303.3 279.5h.60M319.5 286.7h.60M305.4 281.5h.60M324.2 277.4h.60M306.1 277.5h.60M308.4 280.2h.60M323.8 278.8h.60M307.0 280.2h.60M325.1 281.6h.60M329.5 277.0h.60M325.2 278.7h.60M324.7 276.8h.60M316.8 279.4h.60M312.6 285.7h.60M329.2 286.7h.60M327.8 281.7h.60M325.0 284.0h.60M321.0 284.6h.60M307.5 279.9h.60M310.2 282.5h.60M305.6 285.2h.60M303.9 283.6h.60M308.3 285.6h.60M311.4 276.8h.60M315.3 282.5h.60M325.4 277.4h.60M326.7 276.7h.60M323.9 287.1h.60M323.1 287.3h.60M327.5 278.9h.60M326.5 282.4h.60M321.5 279.5h.60M305.1 284.1h.60M305.6 276.1h.60M320.9 286.9h.60M322.2 287.3h.60M305.3 275.2h.60M311.0 275.5h.60M317.5 283.8h.60M313.3 277.3h.60M305.4 278.5h.60M322.9 276.4h.60M305.4 285.6h.60M304.0 276.1h.60M330.0 276.9h.60M326.9 285.2h.60M326.8 275.6h.60M326.0 282.9h.60M308.0 282.5h.60M305.7 285.7h.60M305.6 279.4h.60M321.2 278.6h.60M319.5 284.1h.60M309.0 287.7h.60M306.0 284.5h.60M324.1 276.1h.60M307.5 285.3h.60M322.4 283.7h.60M322.6 285.4h.60M318.5 280.9h.60M326.4 284.7h.60M326.1 276.0h.60M328.5 283.8h.60M319.1 282.9h.60M311.3 280.9h.60M322.4 278.2h.60M307.5 275.8h.60M324.2 287.5h.60M323.6 277.6h.60M305.1 283.5h.60M305.5 285.2h.60M323.4 286.1h.60M317.6 283.7h.60M304.8 281.4h.60M324.5 281.1h.60M303.9 281.8h.60M327.0 275.8h.60M327.9 276.8h.60M308.3 276.5h.60M306.9 281.6h.60M322.8 284.8h.60M326.0 286.3h.60M329.2 279.5h.60M325.2 282.0h.60M323.4 276.9h.60M323.7 282.8h.60M305.2 275.4h.60M329.2 286.8h.60M321.9 278.6h.60M330.1 280.6h.60" stroke="#000" stroke-width="0.6" stroke-opacity="0.75" fill="none" filter="url(#sb)"/>
<path d="M306.7 272.4h.60M306.0 254.3h.60M303.5 265.5h.60M300.5 274.1h.60M307.4 272.3h.60M298.7 259.3h.60M306.3 257.7h.60M301.6 274.4h.60M296.0 264.6h.60M291.5 272.3h.60M296.6 258.0h.60M300.8 264.0h.60M301.4 266.6h.60M296.3 270.9h.60M303.9 271.3h.60M306.0 272.4h.60M301.2 260.6h.60M299.8 261.1h.60M297.3 271.1h.60M306.2 273.1h.60M307.3 262.9h.60M290.4 265.7h.60M287.0 273.7h.60M302.7 273.1h.60M287.7 267.5h.60M308.0 269.6h.60M303.0 273.3h.60M289.8 274.6h.60M287.4 273.9h.60M289.1 252.3h.60M290.7 274.4h.60M286.6 269.1h.60M303.6 267.1h.60M302.1 272.2h.60M301.3 269.8h.60M297.0 250.6h.60M306.2 253.8h.60M289.5 273.4h.60" stroke="#444" stroke-width="0.6" stroke-opacity="0.5" fill="none" filter="url(#sb)"/>
<rect x="285.4" y="244.9" width="58.8" height="43.3" fill="none" stroke="#222" stroke-width="0.7"/>
<line x1="303.2" y1="244.9" x2="303.2" y2="288.2" stroke="#222" stroke-width="0.6"/>
<line x1="285.4" y1="274.3" x2="344.2" y2="274.3" stroke="#222" stroke-width="0.6"/>
<text x="304.4" y="248.55" font-size="4.29" text-anchor="start" font-weight="bold" fill="#111" dominant-baseline="central" stroke="#111" stroke-width="0.18" textLength="33.58" lengthAdjust="spacingAndGlyphs">Sphk1 KO Control</text>
<text x="323.7" y="255.05" font-size="5.2" text-anchor="middle" font-weight="bold" fill="#111" dominant-baseline="central" stroke="#111" stroke-width="0.18">3</text>
<text x="353.7" y="287.9" font-size="3" font-weight="bold" text-anchor="end" dominant-baseline="central" fill="#222">10<tspan font-size="2.1" dy="-0.8">0</tspan></text>
<text x="354.9" y="289.6" font-size="3" font-weight="bold" text-anchor="middle" dominant-baseline="central" fill="#222">10<tspan font-size="2.1" dy="-0.8">0</tspan></text>
<text x="353.7" y="277.25" font-size="3" font-weight="bold" text-anchor="end" dominant-baseline="central" fill="#222">10<tspan font-size="2.1" dy="-0.8">1</tspan></text>
<text x="369.83" y="289.6" font-size="3" font-weight="bold" text-anchor="middle" dominant-baseline="central" fill="#222">10<tspan font-size="2.1" dy="-0.8">1</tspan></text>
<text x="353.7" y="266.6" font-size="3" font-weight="bold" text-anchor="end" dominant-baseline="central" fill="#222">10<tspan font-size="2.1" dy="-0.8">2</tspan></text>
<text x="384.75" y="289.6" font-size="3" font-weight="bold" text-anchor="middle" dominant-baseline="central" fill="#222">10<tspan font-size="2.1" dy="-0.8">2</tspan></text>
<text x="353.7" y="255.95" font-size="3" font-weight="bold" text-anchor="end" dominant-baseline="central" fill="#222">10<tspan font-size="2.1" dy="-0.8">3</tspan></text>
<text x="399.68" y="289.6" font-size="3" font-weight="bold" text-anchor="middle" dominant-baseline="central" fill="#222">10<tspan font-size="2.1" dy="-0.8">3</tspan></text>
<text x="353.7" y="245.3" font-size="3" font-weight="bold" text-anchor="end" dominant-baseline="central" fill="#222">10<tspan font-size="2.1" dy="-0.8">4</tspan></text>
<text x="414.6" y="289.6" font-size="3" font-weight="bold" text-anchor="middle" dominant-baseline="central" fill="#222">10<tspan font-size="2.1" dy="-0.8">4</tspan></text>
<defs><linearGradient id="g680" x1="0" x2="1" y1="0" y2="0"><stop offset="0" stop-color="#000"/><stop offset="0.665" stop-color="#000"/><stop offset="0.783" stop-color="#000" stop-opacity="0.55"/><stop offset="1" stop-color="#000" stop-opacity="0"/></linearGradient></defs>
<rect x="354.3" y="273.4" width="26.9" height="14.2" fill="url(#g680)"/>
<ellipse cx="391" cy="280.8" rx="9.36" ry="3.81" fill="#999" opacity="0.48" filter="url(#sb2)"/>
<path d="M394.2 285.8h.60M378.3 284.9h.60M391.4 279.7h.60M383.7 281.8h.60M372.3 280.3h.60M398.8 275.2h.60M381.7 286.4h.60M373.3 278.3h.60M391.0 286.1h.60M376.9 276.9h.60M373.2 281.6h.60M396.2 274.9h.60M379.5 286.0h.60M373.3 279.7h.60M385.5 286.3h.60M383.2 276.2h.60M384.3 279.5h.60M396.9 274.7h.60M373.2 281.5h.60M390.6 280.7h.60M384.4 285.6h.60M379.3 275.0h.60M378.5 279.4h.60M378.6 285.6h.60M392.3 275.4h.60M372.7 276.4h.60M392.7 284.5h.60M372.3 284.6h.60M386.7 286.0h.60M372.5 285.3h.60M379.6 284.2h.60M392.0 281.1h.60M384.6 285.2h.60M395.7 284.8h.60M386.5 278.0h.60M397.6 284.7h.60M393.9 284.1h.60M390.3 280.2h.60M399.5 277.4h.60M383.4 280.4h.60M377.2 277.7h.60M384.3 284.6h.60M376.2 276.9h.60M377.3 281.8h.60M374.8 278.9h.60M399.5 285.0h.60M399.8 280.1h.60M374.0 278.2h.60M391.3 284.4h.60M381.6 279.4h.60M381.2 283.9h.60M378.5 283.4h.60M383.6 279.8h.60M372.9 287.1h.60M404.6 285.6h.60M377.8 285.9h.60M385.9 283.6h.60M372.6 283.8h.60M378.5 281.5h.60M383.4 281.0h.60M382.0 284.1h.60M388.9 284.3h.60M372.4 285.1h.60M374.4 285.4h.60M392.7 279.9h.60M380.5 282.7h.60M380.0 283.2h.60M375.8 277.6h.60M374.7 277.5h.60M392.3 284.1h.60M373.8 276.8h.60M386.8 286.7h.60M387.4 282.9h.60M382.7 276.3h.60M376.5 284.5h.60M387.1 279.9h.60M391.2 281.4h.60M387.2 286.9h.60M394.6 286.3h.60M393.3 276.1h.60M373.0 281.9h.60M385.6 282.6h.60M378.7 282.2h.60M382.8 275.7h.60M377.8 286.5h.60M382.5 277.4h.60M375.9 275.8h.60M390.4 281.1h.60M376.2 282.9h.60M390.7 281.3h.60M376.7 286.1h.60M385.4 285.4h.60M393.2 284.5h.60M383.0 276.7h.60M384.0 282.3h.60M392.9 281.8h.60M387.5 277.5h.60M384.2 283.1h.60M403.3 279.0h.60M393.1 282.1h.60M374.1 281.8h.60M382.9 277.3h.60M385.9 276.9h.60M386.3 285.1h.60M389.3 286.5h.60M396.9 286.4h.60M391.7 282.5h.60M389.2 284.1h.60M378.5 275.8h.60M381.8 282.1h.60M383.8 284.8h.60M382.6 282.6h.60M376.5 283.5h.60M389.0 279.7h.60M390.0 285.1h.60M381.2 281.7h.60M382.6 283.5h.60M395.0 285.4h.60M380.2 285.1h.60M389.0 278.1h.60M378.5 277.4h.60M389.1 277.0h.60M386.5 277.2h.60M385.1 285.6h.60M395.2 283.5h.60M377.4 286.2h.60M375.1 277.3h.60M392.6 285.8h.60M391.6 279.7h.60M372.5 286.8h.60M394.4 276.6h.60M373.6 282.6h.60M389.2 280.6h.60M392.7 276.6h.60M385.5 280.8h.60M387.6 274.9h.60M393.8 280.8h.60M378.8 277.9h.60M397.7 278.5h.60M398.7 275.4h.60M394.2 283.8h.60M390.5 281.6h.60M391.9 286.6h.60M389.3 279.2h.60M375.0 275.4h.60M376.0 277.2h.60M393.0 284.4h.60M387.2 275.7h.60M384.5 284.4h.60M389.6 274.9h.60M389.9 286.2h.60M374.3 285.0h.60M378.1 278.6h.60M385.3 274.9h.60M377.1 283.8h.60M396.8 277.1h.60M394.8 277.6h.60M393.2 277.3h.60M392.6 279.3h.60M396.9 277.4h.60M393.7 280.3h.60M397.0 284.9h.60M389.1 284.2h.60M385.5 276.3h.60M388.0 284.2h.60M396.2 277.0h.60M394.5 278.5h.60M394.3 285.8h.60M395.6 276.0h.60M393.0 278.4h.60M377.4 275.4h.60M399.9 278.3h.60M386.6 282.2h.60M390.0 274.7h.60M404.1 277.9h.60M376.3 279.2h.60M380.8 283.9h.60M392.4 285.2h.60M376.5 285.0h.60M373.8 277.9h.60M378.1 281.7h.60M387.9 275.8h.60M391.9 275.3h.60M387.1 280.3h.60M375.3 274.9h.60M394.7 284.7h.60M389.0 281.7h.60M385.8 279.4h.60M387.1 278.7h.60M373.2 279.4h.60M379.7 277.0h.60M395.5 287.0h.60M386.8 280.9h.60M384.1 282.1h.60M392.8 280.8h.60M377.5 284.6h.60M393.4 282.3h.60M388.6 283.9h.60M373.7 280.8h.60M390.0 283.9h.60M386.5 283.0h.60M375.2 278.7h.60M398.3 282.7h.60M391.2 283.6h.60M373.1 281.9h.60M397.0 286.6h.60M373.7 275.1h.60M376.6 287.0h.60M385.6 285.1h.60M397.4 283.9h.60M391.1 278.8h.60M390.8 279.5h.60M386.6 279.7h.60M389.2 279.4h.60M375.6 281.5h.60M382.0 286.4h.60M378.6 275.0h.60M375.0 274.9h.60M375.4 279.6h.60M393.0 283.2h.60M377.1 279.7h.60M375.0 279.3h.60M402.2 280.3h.60M390.5 275.0h.60M374.6 278.6h.60M398.0 285.3h.60M384.8 280.6h.60M391.5 281.7h.60M379.0 285.2h.60M390.6 275.8h.60M381.7 283.9h.60M374.9 284.5h.60M397.3 282.8h.60M389.1 279.9h.60M395.0 277.5h.60M374.6 282.0h.60M400.1 280.6h.60M379.1 285.6h.60M389.9 286.3h.60M373.5 284.2h.60M389.8 284.3h.60M392.1 283.3h.60M383.4 276.7h.60M372.2 276.4h.60M392.4 280.3h.60M372.5 276.3h.60M377.6 284.3h.60M406.9 274.8h.60M373.5 283.0h.60M388.2 277.0h.60M390.6 279.5h.60M386.2 282.1h.60M391.6 276.4h.60M372.6 281.6h.60M388.4 279.9h.60M388.9 282.4h.60M385.8 278.0h.60M399.6 284.1h.60M390.9 274.8h.60M376.1 284.2h.60M398.3 276.1h.60M400.0 282.4h.60M373.6 277.8h.60M401.7 282.2h.60M396.4 280.1h.60M398.0 276.3h.60M403.5 282.4h.60M372.4 281.8h.60M375.8 285.9h.60M396.5 282.4h.60M391.9 282.6h.60M391.7 280.5h.60M394.9 279.2h.60M373.5 279.2h.60M376.8 279.3h.60M381.8 285.1h.60M394.9 279.8h.60M378.4 283.4h.60M374.4 282.3h.60M374.9 284.6h.60M384.8 287.0h.60M380.1 280.4h.60M375.9 284.7h.60M389.2 282.1h.60M399.8 278.1h.60M391.5 280.4h.60M393.7 284.5h.60M377.6 282.2h.60M373.8 277.5h.60M392.2 276.3h.60M385.1 284.9h.60M398.1 281.5h.60M379.3 280.3h.60M391.7 286.9h.60M393.4 280.3h.60M392.5 281.8h.60M398.8 282.2h.60M389.4 275.4h.60M377.3 285.5h.60M375.3 281.6h.60M386.2 277.4h.60M391.0 281.6h.60M377.3 283.1h.60M399.1 284.1h.60M386.1 282.7h.60M394.7 275.3h.60M380.0 276.5h.60M395.6 277.1h.60M397.3 275.8h.60M398.8 280.7h.60M383.5 283.7h.60M389.9 277.5h.60M390.2 285.0h.60M398.9 286.2h.60M392.7 279.8h.60M379.1 274.8h.60M388.7 277.4h.60M391.7 284.2h.60M372.4 286.1h.60M398.4 284.6h.60M382.6 285.3h.60M384.6 278.2h.60M374.4 278.3h.60M400.5 281.0h.60M372.8 276.9h.60M389.3 282.4h.60M373.1 283.1h.60M387.6 281.0h.60M374.8 282.7h.60M375.6 286.9h.60M396.8 283.5h.60M393.1 282.1h.60M398.2 282.1h.60M389.4 280.2h.60M379.1 283.1h.60M390.4 283.2h.60M397.4 278.1h.60M378.5 275.8h.60M373.4 286.6h.60M383.5 279.6h.60M392.0 284.8h.60M374.1 281.0h.60M379.2 286.3h.60M385.0 278.9h.60M395.3 278.0h.60M397.5 278.1h.60M378.2 283.5h.60M390.6 278.8h.60M396.9 285.0h.60M396.5 281.2h.60M390.4 279.7h.60M395.6 276.3h.60M393.5 275.7h.60M372.8 285.0h.60M398.8 278.2h.60M388.2 284.3h.60M375.3 276.2h.60M392.9 278.3h.60M376.9 287.1h.60M387.2 276.1h.60M377.4 278.4h.60M374.0 279.6h.60M384.6 281.1h.60M389.1 275.9h.60M372.3 275.0h.60M375.0 286.9h.60M384.2 278.0h.60M409.8 285.7h.60M380.7 280.1h.60M393.1 277.3h.60M405.1 280.2h.60M395.5 276.7h.60M385.3 281.5h.60M395.6 284.4h.60M390.9 280.4h.60M382.8 274.8h.60M395.6 277.0h.60M389.1 282.6h.60M375.6 286.0h.60M375.6 285.1h.60M377.7 282.7h.60M376.3 281.9h.60M385.5 280.2h.60M386.5 283.0h.60M392.5 286.8h.60M379.8 281.0h.60M386.3 279.9h.60M373.3 282.7h.60M375.3 281.9h.60M390.5 287.0h.60M385.6 276.1h.60M394.8 286.2h.60M395.2 281.6h.60M381.3 283.1h.60M392.8 285.6h.60M373.3 282.9h.60M374.2 278.5h.60M395.9 280.7h.60M393.5 284.2h.60M394.7 286.1h.60M373.9 285.3h.60M372.4 276.7h.60M376.4 284.2h.60M380.0 286.2h.60M373.5 278.0h.60M388.8 279.0h.60M386.2 286.4h.60M385.3 278.0h.60M375.0 281.8h.60M374.6 280.1h.60M389.0 277.4h.60M391.0 277.2h.60M381.8 277.4h.60M399.4 277.5h.60M382.0 280.0h.60M388.7 280.3h.60M379.7 279.7h.60M372.3 277.3h.60M375.2 283.9h.60M382.4 275.4h.60M372.4 278.4h.60M388.9 280.5h.60M389.6 285.3h.60M378.5 275.9h.60M372.6 276.1h.60M378.5 282.3h.60M396.5 275.8h.60M383.8 285.5h.60M392.1 276.5h.60M373.4 282.7h.60M386.1 281.2h.60M388.3 280.1h.60M376.3 284.6h.60M394.0 285.8h.60M391.4 277.3h.60M386.6 278.7h.60M389.9 286.3h.60M383.2 281.3h.60M375.8 285.7h.60M378.0 274.9h.60M378.3 276.8h.60M395.1 287.1h.60M395.9 279.7h.60M393.3 274.9h.60M387.9 275.1h.60M378.6 284.0h.60M390.9 287.0h.60M387.1 285.0h.60M373.1 276.8h.60M393.2 284.6h.60M374.3 280.7h.60M374.2 276.4h.60M379.1 276.8h.60M377.6 286.9h.60M405.8 285.5h.60M398.9 278.2h.60M397.0 282.7h.60M374.5 283.2h.60M383.9 276.3h.60M397.6 283.6h.60M395.2 283.0h.60M388.0 279.5h.60M399.3 277.5h.60M372.6 280.8h.60M386.3 285.2h.60M378.6 275.3h.60M378.0 279.3h.60M375.1 278.5h.60M377.3 287.0h.60M388.0 285.6h.60M385.5 285.2h.60M395.4 274.9h.60M389.5 275.7h.60M393.4 280.0h.60M374.2 276.7h.60M373.7 274.9h.60M402.4 280.8h.60M390.4 285.4h.60M381.7 277.1h.60M373.3 278.8h.60M395.1 287.0h.60M381.0 277.2h.60M373.7 283.0h.60M378.3 277.6h.60M392.4 278.8h.60M397.0 278.6h.60M403.1 284.0h.60M401.3 280.9h.60M402.3 285.4h.60M380.4 284.0h.60M385.1 275.9h.60M398.7 277.1h.60M375.1 282.1h.60M376.1 284.2h.60M391.5 275.9h.60M391.9 282.4h.60M390.3 284.8h.60M386.6 282.3h.60M392.7 286.6h.60M388.9 279.0h.60M394.7 282.1h.60M376.6 281.5h.60M373.0 278.0h.60M390.0 283.2h.60M401.0 279.9h.60M373.2 283.5h.60M377.8 279.0h.60M387.2 282.9h.60M393.3 286.7h.60M383.4 285.9h.60M397.8 284.4h.60M372.9 276.0h.60M404.3 286.1h.60M394.8 280.4h.60M391.0 274.9h.60M372.7 284.0h.60M397.4 282.4h.60M389.5 277.0h.60M391.4 280.3h.60M375.8 276.3h.60M379.6 286.5h.60M374.5 285.4h.60M376.4 281.3h.60M395.7 276.6h.60M398.8 286.7h.60M392.2 281.5h.60M398.6 283.3h.60M387.5 282.4h.60M372.7 284.4h.60M389.3 281.1h.60M386.7 285.4h.60M372.4 275.3h.60M395.6 283.9h.60M385.4 277.5h.60M374.6 281.0h.60M381.1 283.4h.60M394.8 284.4h.60M384.3 278.6h.60M388.1 282.2h.60M385.1 275.2h.60M383.2 280.2h.60M385.7 286.2h.60M379.0 278.9h.60M388.7 286.6h.60M395.1 284.2h.60M377.3 286.9h.60M374.4 275.7h.60M385.9 280.4h.60M392.7 284.5h.60M380.9 282.1h.60M391.9 282.8h.60M374.3 278.8h.60M374.7 279.0h.60M377.0 277.7h.60M376.1 279.7h.60M378.2 286.0h.60M379.4 283.3h.60M385.0 280.7h.60M394.6 275.2h.60M383.3 281.6h.60M396.6 284.9h.60M397.5 279.0h.60M404.0 279.5h.60M389.2 278.6h.60M378.0 278.4h.60M381.0 283.9h.60M373.5 282.0h.60M374.4 279.2h.60M389.4 277.9h.60M385.5 282.0h.60M390.5 286.8h.60M374.5 284.8h.60M373.2 281.4h.60M372.4 283.4h.60M383.1 276.7h.60M380.3 278.0h.60M394.7 276.6h.60M405.6 281.0h.60M402.4 282.1h.60M389.4 283.4h.60M381.0 285.2h.60M389.7 284.6h.60M375.1 278.5h.60M377.6 279.6h.60M395.3 279.9h.60M390.0 276.8h.60M375.0 275.8h.60M395.5 286.5h.60M372.7 285.7h.60M390.0 282.0h.60M404.7 283.8h.60M372.6 276.1h.60M386.2 277.7h.60M390.3 281.2h.60M400.5 287.0h.60M397.4 277.7h.60M392.5 285.6h.60M386.4 275.9h.60M392.0 284.5h.60M399.6 277.9h.60M385.5 277.9h.60M392.1 280.0h.60M379.2 278.8h.60M383.6 283.3h.60M395.1 281.1h.60M377.6 286.7h.60M385.8 277.5h.60M388.0 283.9h.60M394.7 277.0h.60M377.7 276.9h.60M395.0 280.9h.60M390.2 283.6h.60M397.7 286.3h.60M378.1 277.9h.60M386.7 285.4h.60M400.1 283.8h.60M395.1 285.0h.60M390.9 277.7h.60M374.5 276.2h.60M396.6 282.4h.60M390.2 275.7h.60M400.5 281.0h.60M375.3 277.5h.60M396.8 280.9h.60M386.9 286.8h.60M402.8 279.8h.60M383.0 280.0h.60M372.7 275.2h.60M381.0 284.9h.60M374.1 278.0h.60M395.1 283.0h.60M379.3 277.4h.60M380.7 280.0h.60M382.0 278.1h.60M386.1 280.2h.60M399.7 282.5h.60M372.3 282.0h.60M376.7 276.9h.60M391.2 285.8h.60M376.9 275.3h.60M389.7 278.8h.60M386.3 278.3h.60M398.2 279.8h.60M374.3 278.0h.60M376.3 283.7h.60M374.8 278.4h.60M388.2 274.9h.60M388.8 275.2h.60M406.3 281.1h.60M406.0 286.1h.60M374.8 285.9h.60M381.0 281.0h.60M388.2 283.1h.60M390.4 277.4h.60M392.3 286.7h.60M387.0 282.1h.60M393.1 279.9h.60M374.8 283.0h.60M382.0 278.5h.60M389.5 286.3h.60M393.4 279.5h.60M389.6 285.7h.60M396.2 283.1h.60M393.2 284.4h.60M383.5 283.9h.60M372.9 286.6h.60M374.1 285.7h.60M397.1 275.5h.60M394.9 275.9h.60M380.4 282.0h.60M376.0 279.5h.60M398.7 282.4h.60M392.4 282.4h.60M389.4 284.3h.60M380.1 282.1h.60M396.6 276.0h.60M395.0 276.8h.60M399.8 278.9h.60M381.2 279.3h.60M390.3 285.4h.60M389.6 279.9h.60M372.7 279.6h.60M389.5 280.1h.60M386.9 284.0h.60M394.6 282.4h.60M387.6 280.5h.60M398.8 284.6h.60M374.0 285.1h.60M389.1 284.7h.60M393.0 275.5h.60M391.2 286.8h.60M375.9 282.7h.60M380.7 277.3h.60M394.1 285.4h.60M389.9 283.9h.60M384.9 281.8h.60M402.7 278.4h.60M396.3 277.7h.60M374.1 282.3h.60M377.0 279.9h.60M374.0 282.5h.60M404.1 284.9h.60M373.7 279.7h.60M387.5 278.9h.60M375.4 276.5h.60M377.2 286.6h.60M396.4 286.9h.60M398.4 283.3h.60M384.2 285.0h.60M372.2 285.5h.60M392.5 285.9h.60M390.8 281.0h.60M386.1 286.8h.60M395.1 286.4h.60M386.1 276.5h.60M398.0 275.2h.60M393.8 276.4h.60M396.0 284.4h.60M384.4 275.6h.60M390.4 283.3h.60M387.3 276.9h.60M377.4 279.4h.60M406.9 286.9h.60M374.6 279.3h.60M390.9 278.0h.60M375.1 285.3h.60M384.3 280.1h.60M383.8 276.9h.60M379.2 281.5h.60M373.8 283.0h.60M389.9 279.8h.60M377.2 277.0h.60M379.9 279.3h.60M372.5 285.6h.60M412.5 282.4h.60M387.3 285.3h.60M391.0 281.8h.60M373.3 282.9h.60M375.1 278.3h.60M398.9 286.5h.60M394.7 285.2h.60M386.5 278.2h.60M390.4 281.5h.60M377.5 284.4h.60M384.0 284.4h.60M398.7 287.0h.60M372.9 282.4h.60M401.1 282.4h.60M377.3 276.9h.60M374.3 283.9h.60M390.1 286.7h.60M383.1 283.0h.60M393.9 277.3h.60M401.2 280.6h.60M385.2 277.9h.60M401.2 278.2h.60M386.7 279.0h.60M393.3 275.8h.60M377.6 274.7h.60M375.4 284.1h.60M381.5 283.8h.60M395.6 281.9h.60M398.2 286.5h.60M394.0 280.9h.60M373.5 282.6h.60M378.2 276.9h.60M393.5 277.4h.60M394.9 277.3h.60M389.0 285.8h.60M395.4 283.3h.60M381.0 286.2h.60M373.7 286.7h.60M403.9 277.0h.60M384.7 287.0h.60M377.2 286.8h.60M378.6 284.1h.60M374.4 283.8h.60M384.1 276.1h.60M395.9 282.6h.60M380.7 280.7h.60M372.5 276.9h.60M386.6 279.5h.60M382.5 284.4h.60M396.6 281.3h.60M393.1 277.0h.60M396.8 280.2h.60M385.8 279.4h.60M376.7 278.2h.60M372.3 285.7h.60M399.6 285.1h.60M372.9 275.3h.60M386.1 277.1h.60M392.4 275.2h.60M386.7 277.6h.60M388.0 277.2h.60M373.7 282.6h.60M393.3 284.5h.60M387.2 275.2h.60M376.1 286.7h.60M385.5 281.5h.60M394.3 279.3h.60M375.8 285.9h.60M392.5 276.7h.60M394.8 282.2h.60M391.5 282.8h.60M387.4 275.7h.60M373.2 276.8h.60M406.1 283.1h.60M391.6 286.8h.60M375.1 281.8h.60M382.7 284.5h.60M374.8 282.5h.60M374.5 276.7h.60M385.6 286.7h.60M395.6 283.2h.60M388.0 282.9h.60M373.2 283.9h.60M392.3 277.6h.60M391.5 276.8h.60M385.9 286.7h.60M375.5 277.4h.60M372.4 277.8h.60M392.1 281.5h.60M373.6 286.7h.60M374.3 284.6h.60M380.0 279.5h.60M374.6 284.1h.60M390.3 283.4h.60M378.4 286.8h.60M380.7 286.1h.60M392.6 284.4h.60M377.6 276.6h.60M373.4 281.1h.60M387.7 286.0h.60M398.5 281.9h.60M389.4 284.4h.60M397.4 279.0h.60M377.7 275.0h.60M374.5 277.7h.60M385.8 276.9h.60M394.5 280.4h.60M390.1 278.8h.60M381.3 281.2h.60M394.3 280.7h.60M392.5 284.8h.60M379.1 283.6h.60M374.0 285.4h.60M387.0 282.5h.60M400.0 285.5h.60M386.9 276.4h.60M377.0 285.2h.60M396.0 278.8h.60M377.8 278.0h.60M376.7 286.5h.60M394.0 278.9h.60M374.6 279.4h.60M404.0 280.6h.60M397.9 280.2h.60M393.7 278.6h.60M377.5 280.6h.60M385.8 282.2h.60M372.3 277.2h.60M398.2 281.5h.60M392.3 277.3h.60M387.9 283.6h.60M397.4 275.4h.60M388.5 277.7h.60M387.5 279.4h.60M379.1 283.6h.60M374.3 276.5h.60M399.4 274.8h.60M374.8 286.5h.60M372.7 280.3h.60M383.9 280.2h.60M392.7 281.0h.60M373.8 282.1h.60M372.6 281.3h.60M390.3 286.4h.60M384.9 282.3h.60M386.8 278.7h.60M394.5 281.9h.60M390.8 276.6h.60M378.2 281.2h.60M376.0 280.9h.60M386.4 276.6h.60M387.3 277.1h.60M381.4 286.1h.60M388.6 280.7h.60M395.3 282.3h.60M378.6 276.4h.60M396.8 276.3h.60M402.3 276.4h.60M396.4 279.6h.60M385.5 283.1h.60M372.2 282.5h.60M404.1 286.4h.60M389.6 283.5h.60M397.4 285.3h.60M392.9 276.8h.60M396.0 279.1h.60M400.3 275.2h.60M389.7 282.0h.60M372.3 277.6h.60M377.4 282.7h.60M383.1 274.8h.60M383.8 283.1h.60M382.1 285.7h.60M396.3 284.4h.60M382.5 280.5h.60M399.4 278.2h.60M394.8 283.9h.60M374.8 284.0h.60M379.6 278.8h.60M387.4 279.0h.60M382.9 284.5h.60M375.3 278.9h.60M386.7 286.7h.60M383.7 277.2h.60M388.5 285.6h.60M377.8 276.8h.60M376.6 282.8h.60M386.5 276.2h.60M375.4 277.6h.60M379.8 283.7h.60M392.4 281.2h.60M384.3 279.4h.60M372.7 276.2h.60M393.1 286.7h.60M385.2 278.6h.60M373.4 277.4h.60M387.4 284.9h.60M392.1 285.5h.60M386.3 286.5h.60M375.6 277.9h.60M390.3 282.0h.60M390.2 284.6h.60M393.6 274.9h.60M392.4 278.2h.60M392.6 281.1h.60M385.2 286.6h.60M373.8 283.6h.60M392.1 283.6h.60M379.6 275.8h.60M377.1 285.5h.60M372.9 283.8h.60M376.5 284.9h.60M377.6 275.7h.60M373.9 278.3h.60M373.7 284.5h.60M407.1 275.8h.60M393.5 285.2h.60M394.9 276.1h.60M392.5 281.3h.60M376.7 278.7h.60M394.1 278.3h.60M396.3 283.8h.60M375.7 282.8h.60M383.8 277.9h.60M394.4 279.2h.60M373.1 280.7h.60M392.6 277.5h.60M375.1 276.0h.60M390.8 280.2h.60M374.6 283.7h.60M389.2 284.8h.60M381.9 283.9h.60M392.7 277.9h.60M388.4 282.3h.60M372.9 284.7h.60M382.9 275.5h.60M385.7 275.9h.60M389.7 286.3h.60M379.5 281.2h.60M394.2 284.1h.60M377.5 286.2h.60M400.0 280.9h.60M394.2 285.0h.60M381.6 284.7h.60M394.0 278.5h.60M376.7 277.6h.60M390.7 278.2h.60M395.2 282.4h.60M387.4 276.9h.60M396.6 284.5h.60M384.4 276.7h.60M381.5 275.6h.60M391.2 277.1h.60M375.9 282.0h.60M376.1 286.1h.60M374.4 278.1h.60" stroke="#000" stroke-width="0.6" stroke-opacity="0.75" fill="none" filter="url(#sb)"/>
<path d="M362.3 268.8h.60M355.7 268.1h.60M364.6 264.1h.60M370.8 269.3h.60M377.2 266.0h.60M371.1 274.2h.60M373.4 272.3h.60M376.1 273.4h.60M366.5 270.8h.60M374.1 264.7h.60M373.4 273.5h.60M374.0 271.5h.60M367.9 274.0h.60M364.4 273.8h.60M369.8 266.9h.60M367.4 255.1h.60M365.3 271.5h.60M371.3 271.9h.60M376.4 274.0h.60M360.5 266.7h.60M365.3 269.3h.60M370.9 273.4h.60M368.9 273.5h.60M366.9 273.4h.60M373.6 269.6h.60M362.4 265.5h.60M373.8 266.3h.60M364.5 260.9h.60M374.5 262.5h.60M362.7 265.8h.60M370.7 274.2h.60M373.9 263.9h.60M377.2 271.6h.60M370.0 254.7h.60M376.0 274.2h.60M363.5 273.7h.60" stroke="#444" stroke-width="0.6" stroke-opacity="0.5" fill="none" filter="url(#sb)"/>
<rect x="354.3" y="245" width="59.7" height="42.6" fill="none" stroke="#222" stroke-width="0.7"/>
<line x1="372.2" y1="245" x2="372.2" y2="287.6" stroke="#222" stroke-width="0.6"/>
<line x1="354.3" y1="274" x2="414" y2="274" stroke="#222" stroke-width="0.6"/>
<text x="373.4" y="248.65" font-size="4.29" text-anchor="start" font-weight="bold" fill="#111" dominant-baseline="central" stroke="#111" stroke-width="0.18" textLength="37.13" lengthAdjust="spacingAndGlyphs">Sphk1 KO AMD3100</text>
<text x="393.1" y="254.85" font-size="5.72" text-anchor="middle" font-weight="bold" fill="#111" dominant-baseline="central" stroke="#111" stroke-width="0.18" textLength="5.78" lengthAdjust="spacingAndGlyphs">10</text>
<text x="265.5" y="9.85" font-size="11.38" font-weight="bold" fill="#000" stroke="#000" stroke-width="0.45">H</text>
<line x1="280.5" y1="6.6" x2="280.5" y2="92" stroke="#555" stroke-width="1.1"/>
<path d="M279.2 7.6L280.5 4.6L281.8 7.6z" fill="#111"/>
<line x1="280.5" y1="91.5" x2="402.5" y2="91.5" stroke="#555" stroke-width="1.1"/>
<path d="M401.5 90.5L404.5 91.8L401.5 93.1z" fill="#111"/>
<text x="274.3" y="48.3" font-size="5" text-anchor="middle" font-weight="bold" fill="#111" dominant-baseline="central" stroke="#111" stroke-width="0.18" transform="rotate(-90 274.3 48.3)" textLength="17.2" lengthAdjust="spacingAndGlyphs">CD45.1</text>
<text x="342.5" y="96.45" font-size="5.28" text-anchor="middle" font-weight="bold" fill="#111" dominant-baseline="central" stroke="#111" stroke-width="0.18" textLength="16.27" lengthAdjust="spacingAndGlyphs">CD45.2</text>
<text x="286.6" y="46.8" font-size="2.4" font-weight="bold" text-anchor="middle" dominant-baseline="central" fill="#222">10<tspan font-size="1.68" dy="-0.8">0</tspan></text>
<text x="299.73" y="46.8" font-size="2.4" font-weight="bold" text-anchor="middle" dominant-baseline="central" fill="#222">10<tspan font-size="1.68" dy="-0.8">1</tspan></text>
<text x="312.85" y="46.8" font-size="2.4" font-weight="bold" text-anchor="middle" dominant-baseline="central" fill="#222">10<tspan font-size="1.68" dy="-0.8">2</tspan></text>
<text x="325.98" y="46.8" font-size="2.4" font-weight="bold" text-anchor="middle" dominant-baseline="central" fill="#222">10<tspan font-size="1.68" dy="-0.8">3</tspan></text>
<text x="339.1" y="46.8" font-size="2.4" font-weight="bold" text-anchor="middle" dominant-baseline="central" fill="#222">10<tspan font-size="1.68" dy="-0.8">4</tspan></text>
<path d="M311.2 19.9h.60M312.7 22.1h.60M311.8 20.1h.60M318.0 27.9h.60M308.2 20.9h.60M314.5 24.3h.60M318.0 29.9h.60M313.4 35.0h.60M316.7 23.0h.60M314.7 25.2h.60M309.2 19.1h.60M318.3 21.7h.60M314.3 32.0h.60M310.6 17.8h.60M313.5 30.4h.60M315.9 29.7h.60M319.8 23.5h.60M317.3 18.8h.60M309.8 25.2h.60M306.8 14.0h.60M313.7 22.3h.60M319.1 16.9h.60M312.4 32.8h.60M316.5 29.9h.60M313.0 27.4h.60M310.0 19.1h.60M306.4 25.4h.60M308.9 25.0h.60M315.8 20.7h.60M314.2 17.6h.60M314.6 30.4h.60M308.0 27.8h.60M308.8 28.3h.60M308.7 28.0h.60M315.3 23.5h.60M311.3 20.4h.60M317.4 25.5h.60M304.8 32.3h.60M309.9 27.4h.60M305.3 30.6h.60M317.2 23.7h.60M315.7 28.0h.60M309.8 27.8h.60M317.4 22.3h.60M316.6 24.4h.60M311.1 19.3h.60M313.8 31.5h.60M311.5 16.2h.60M309.4 25.0h.60M319.1 30.1h.60M313.8 23.7h.60M316.7 23.1h.60M314.3 19.3h.60M309.5 27.3h.60M315.7 23.9h.60M309.7 14.7h.60M317.9 27.1h.60M319.9 25.8h.60M310.9 16.7h.60M309.6 24.3h.60M309.6 21.9h.60M312.6 24.9h.60M308.4 19.6h.60M311.4 27.1h.60M313.7 26.7h.60M311.4 27.4h.60M308.4 17.6h.60M309.0 23.3h.60M310.2 25.5h.60M309.6 15.7h.60M315.2 17.5h.60M312.5 33.7h.60M315.8 22.4h.60M315.1 35.1h.60M312.5 23.3h.60M311.9 30.3h.60M308.3 30.2h.60M314.0 30.6h.60M317.2 18.5h.60M311.3 19.2h.60M314.2 24.8h.60M319.3 17.7h.60M314.5 23.7h.60M309.6 13.8h.60M316.1 33.0h.60M315.0 26.9h.60M321.6 36.8h.60M314.4 25.3h.60M315.0 31.3h.60M313.8 29.5h.60M317.7 28.2h.60M309.2 21.2h.60M317.0 31.6h.60M312.3 20.3h.60M319.6 14.9h.60M315.0 32.1h.60M319.3 31.6h.60M309.6 31.3h.60M315.4 28.9h.60M309.0 34.3h.60M313.9 23.7h.60M313.6 22.3h.60M314.9 22.9h.60M316.3 32.7h.60M315.6 29.3h.60M310.8 31.3h.60M311.3 22.5h.60M315.6 35.2h.60M320.4 22.8h.60M317.7 24.0h.60M312.1 28.0h.60M315.2 34.6h.60M313.5 23.6h.60M322.8 15.9h.60M317.3 19.1h.60M316.0 25.7h.60M315.6 26.9h.60M312.5 25.9h.60M314.3 28.0h.60M311.4 21.0h.60M315.5 21.9h.60M314.3 21.9h.60M317.8 31.5h.60M312.2 34.4h.60M312.2 24.1h.60M323.6 18.7h.60M310.1 32.5h.60M314.0 30.5h.60M317.9 22.9h.60M311.9 35.0h.60M317.1 24.7h.60M312.5 28.2h.60M316.8 22.3h.60M321.7 23.3h.60M313.7 20.2h.60M313.2 24.2h.60M315.3 39.8h.60M312.1 25.6h.60M310.4 23.6h.60M309.2 16.7h.60M315.1 23.9h.60M321.3 23.3h.60M319.8 27.0h.60M314.5 32.4h.60M320.4 31.7h.60M316.8 21.7h.60M314.7 35.5h.60M306.8 19.0h.60M312.1 25.7h.60M311.8 30.4h.60M312.3 26.8h.60M305.7 29.0h.60M320.4 32.7h.60M309.4 28.0h.60M304.8 20.7h.60M323.0 35.6h.60M313.5 28.1h.60M314.3 28.5h.60" stroke="#333" stroke-width="0.6" stroke-opacity="0.45" fill="none" filter="url(#sb)"/>
<path d="M319.4 39.4h.64M301.1 42.2h.64M309.3 39.7h.64M299.8 39.5h.64M298.2 31.9h.64M315.8 43.0h.64M317.5 39.5h.64M288.8 43.8h.64M288.9 35.1h.64M306.0 40.1h.64M325.9 39.3h.64M302.4 37.4h.64M325.5 38.4h.64M286.9 38.6h.64M290.7 32.8h.64M303.2 29.7h.64M295.7 38.2h.64M289.2 35.6h.64M295.2 41.6h.64M292.5 38.0h.64M301.4 28.5h.64M305.7 44.2h.64M314.9 33.9h.64M299.5 41.0h.64M301.9 39.5h.64M304.8 41.1h.64M297.5 35.0h.64M289.9 44.3h.64M314.1 34.0h.64M286.8 32.3h.64M293.4 33.7h.64M316.4 28.0h.64M290.6 34.5h.64M306.7 31.5h.64M291.5 42.3h.64M314.2 33.3h.64M299.8 35.0h.64M298.0 40.0h.64M301.3 33.1h.64M300.8 31.3h.64M297.3 32.6h.64M304.3 41.9h.64M293.9 37.5h.64M286.9 39.1h.64M289.0 42.3h.64M319.6 32.2h.64M287.4 39.9h.64M307.0 40.3h.64M296.8 31.9h.64M322.6 44.3h.64M320.6 41.0h.64M294.2 30.9h.64M288.4 43.7h.64M311.3 37.4h.64M297.3 28.4h.64M290.0 39.9h.64M291.2 31.6h.64M288.8 28.7h.64M303.7 33.2h.64M300.1 41.1h.64M302.3 42.8h.64M307.2 33.5h.64M288.9 37.9h.64M296.2 36.4h.64M288.2 38.1h.64M290.1 43.0h.64M289.1 32.2h.64M309.7 33.1h.64M287.9 35.4h.64M298.8 39.8h.64M318.5 37.6h.64M299.7 40.2h.64M290.0 41.6h.64M323.4 36.0h.64M295.0 39.6h.64M289.9 35.4h.64M308.1 44.0h.64M286.8 38.4h.64M302.9 30.4h.64M301.9 32.8h.64M297.6 29.9h.64M303.6 41.8h.64M295.8 43.8h.64M291.1 36.7h.64M299.1 38.2h.64M287.9 39.4h.64M302.3 43.3h.64M317.5 34.0h.64M311.6 41.0h.64M293.1 36.2h.64M292.8 37.0h.64M328.8 44.0h.64M308.6 30.0h.64M293.9 35.8h.64M288.7 44.3h.64M296.3 30.4h.64M304.6 40.5h.64M289.8 41.9h.64M323.8 36.0h.64M297.6 29.4h.64M308.1 34.6h.64M308.6 30.3h.64M288.1 31.3h.64M288.9 39.2h.64M300.6 39.6h.64M308.4 35.8h.64M305.2 40.9h.64M307.4 38.4h.64M295.8 40.5h.64M290.5 37.7h.64M301.9 35.3h.64M304.7 40.9h.64M305.5 28.7h.64M302.9 29.6h.64M297.5 42.9h.64M307.7 38.1h.64M314.5 31.5h.64M310.0 38.4h.64M301.6 43.2h.64M300.7 39.7h.64M309.8 44.2h.64M295.4 34.3h.64M296.3 42.4h.64M301.9 43.3h.64M302.7 39.5h.64M300.3 35.3h.64M292.0 43.2h.64M292.5 42.9h.64M315.7 37.4h.64M305.2 43.5h.64M297.4 35.2h.64M289.5 31.6h.64M296.7 38.8h.64M291.4 42.0h.64M303.4 35.5h.64M316.0 39.0h.64M292.4 29.2h.64M297.0 39.3h.64M314.6 34.1h.64M292.1 39.3h.64M305.1 34.3h.64M292.1 36.1h.64M287.6 44.2h.64M294.2 30.6h.64M303.5 41.4h.64M309.8 31.5h.64M300.4 34.3h.64M314.7 38.5h.64M301.1 43.6h.64M306.6 38.7h.64M322.2 31.1h.64M296.8 30.0h.64M320.6 34.6h.64M309.0 34.8h.64M289.6 42.4h.64M287.3 33.5h.64M315.6 39.4h.64M303.1 34.2h.64M296.4 35.8h.64M287.6 42.7h.64M294.0 44.1h.64M294.0 40.3h.64M304.7 41.5h.64M291.1 40.1h.64M300.6 35.3h.64M294.1 39.3h.64M315.9 34.6h.64M292.3 41.9h.64M291.1 39.4h.64M297.4 39.8h.64M295.4 32.2h.64M287.7 43.7h.64M309.8 31.2h.64M303.3 43.9h.64M312.5 33.1h.64M290.9 39.7h.64M286.7 36.4h.64M305.7 29.6h.64M300.2 41.3h.64M299.7 40.3h.64M295.4 39.1h.64M313.7 40.3h.64M294.8 37.3h.64M290.0 40.5h.64M289.3 42.3h.64M292.8 37.0h.64M293.2 39.2h.64M287.4 34.8h.64M287.1 42.4h.64M293.6 37.7h.64M304.8 40.9h.64M304.9 35.1h.64M301.4 40.8h.64M290.0 33.2h.64M288.9 29.3h.64M289.4 30.9h.64M303.5 30.0h.64M300.4 28.3h.64M287.8 38.6h.64M287.1 39.6h.64M293.9 35.1h.64M312.6 41.9h.64M296.8 42.6h.64M295.8 36.4h.64M316.6 36.3h.64M309.8 40.4h.64M315.7 40.4h.64M292.3 43.3h.64M299.7 42.0h.64M291.4 37.7h.64M301.6 36.3h.64M297.9 30.1h.64M301.4 41.9h.64M288.4 34.6h.64M300.2 40.2h.64M301.2 29.8h.64M290.5 34.0h.64M299.0 38.3h.64M312.1 43.6h.64M288.4 43.6h.64M308.3 39.4h.64M309.4 30.8h.64M318.6 31.3h.64M291.5 38.7h.64M297.6 34.3h.64M297.0 35.1h.64M295.8 44.4h.64M312.4 29.3h.64M299.7 41.9h.64M298.2 42.9h.64M321.0 37.5h.64M318.0 32.5h.64M292.8 38.4h.64M299.8 32.4h.64M299.2 28.3h.64M302.2 40.6h.64M288.0 44.3h.64M301.3 38.0h.64M288.7 40.5h.64M294.9 29.9h.64M306.7 38.1h.64M295.1 41.1h.64M300.2 39.9h.64M310.8 39.6h.64M310.6 37.9h.64M305.7 28.1h.64M297.9 44.3h.64M293.7 42.7h.64M291.1 44.0h.64M308.9 36.4h.64M293.2 43.0h.64M299.6 29.4h.64M291.2 32.1h.64M321.5 40.3h.64M294.9 35.2h.64M298.4 30.4h.64M297.9 40.0h.64M289.9 36.8h.64M299.7 39.0h.64M295.5 41.1h.64M294.3 42.0h.64M292.0 40.0h.64M295.0 41.2h.64M305.0 39.1h.64M294.5 28.0h.64M297.8 32.3h.64M294.3 35.1h.64M314.0 36.4h.64M293.0 38.1h.64M287.1 29.9h.64M303.7 32.6h.64M300.6 38.7h.64M298.9 43.1h.64M311.9 35.4h.64M311.1 31.8h.64M296.8 38.1h.64M291.4 33.9h.64M304.5 35.2h.64M300.9 38.2h.64M290.5 34.0h.64M304.1 41.6h.64M289.9 39.6h.64M312.5 42.2h.64M289.2 29.6h.64M288.1 42.4h.64M287.4 38.9h.64M296.1 38.8h.64M291.9 35.8h.64M310.0 38.0h.64M300.5 38.4h.64M292.8 38.4h.64M309.1 37.6h.64M304.5 39.1h.64M319.6 41.7h.64M300.1 37.1h.64M287.0 37.1h.64M291.8 41.8h.64M311.1 41.0h.64M308.7 43.6h.64M292.2 31.0h.64M292.2 40.7h.64M287.9 34.1h.64M303.8 43.9h.64M301.2 33.8h.64M296.5 38.2h.64M293.6 37.6h.64M291.4 42.7h.64M286.9 36.6h.64M293.3 35.6h.64M309.4 41.5h.64M307.8 30.4h.64M290.7 40.6h.64M300.4 43.6h.64M296.2 42.2h.64M299.9 37.4h.64M306.6 36.1h.64M296.1 32.1h.64M302.5 32.8h.64M288.4 33.7h.64M287.5 36.8h.64M301.6 39.5h.64M298.4 42.5h.64M302.0 30.2h.64M287.8 39.1h.64M287.0 39.7h.64M297.6 32.3h.64M289.7 36.2h.64M287.3 34.6h.64M291.9 44.1h.64M297.3 44.4h.64M297.6 38.4h.64M303.2 31.0h.64M301.0 39.6h.64M292.0 36.1h.64M289.6 41.0h.64M301.9 33.8h.64M313.6 42.6h.64M297.3 31.0h.64M288.7 43.2h.64M295.2 42.3h.64M296.4 43.3h.64M290.2 38.9h.64M293.2 40.7h.64M302.5 40.5h.64M308.0 43.3h.64M294.3 33.0h.64M314.0 39.1h.64M316.5 43.0h.64M297.9 34.0h.64M290.5 38.0h.64M325.1 39.3h.64M301.9 39.6h.64M325.0 31.7h.64M290.7 28.1h.64M290.3 44.4h.64M310.1 35.0h.64M302.6 40.8h.64M293.6 41.5h.64M303.0 32.3h.64M296.5 39.4h.64M311.3 36.1h.64M300.9 44.2h.64M311.9 39.7h.64M292.2 39.0h.64M300.3 40.2h.64M297.5 29.4h.64M297.2 40.9h.64M304.5 33.0h.64M293.5 30.6h.64M309.3 29.4h.64M290.5 28.4h.64M300.4 37.9h.64M294.8 35.8h.64M310.5 36.0h.64M318.3 37.9h.64M314.4 33.8h.64M301.1 28.9h.64M287.3 32.6h.64M307.1 34.1h.64M310.9 29.4h.64M296.5 42.5h.64M305.0 42.6h.64M299.5 43.7h.64M288.4 34.4h.64M327.7 39.9h.64M288.0 34.4h.64M289.0 44.2h.64M316.8 40.8h.64M294.0 41.2h.64M291.4 35.9h.64M299.7 41.5h.64M289.6 43.3h.64M297.1 38.5h.64M295.1 43.7h.64M309.4 44.3h.64M303.5 32.2h.64M296.3 35.4h.64M303.6 36.7h.64M295.0 36.9h.64M296.4 41.7h.64M301.6 31.4h.64M319.1 44.1h.64M292.4 39.3h.64M309.6 30.8h.64M317.8 37.3h.64M292.9 36.3h.64M310.4 41.9h.64M293.4 42.5h.64M314.5 39.8h.64M298.8 41.1h.64M297.0 42.1h.64M291.7 35.1h.64M288.5 40.0h.64M287.4 41.8h.64M303.1 35.9h.64M287.0 36.7h.64M316.5 35.9h.64M291.4 36.9h.64M294.0 28.7h.64M301.2 31.0h.64M311.6 31.2h.64M287.0 44.0h.64M311.4 36.3h.64M297.6 39.5h.64M290.3 33.4h.64M314.8 28.1h.64M308.9 32.9h.64M295.9 33.8h.64M300.9 39.8h.64M292.4 36.7h.64M289.0 43.7h.64M306.5 35.3h.64M298.5 44.2h.64M298.5 38.9h.64M291.4 37.7h.64M300.4 44.2h.64M294.5 34.0h.64M290.6 29.2h.64M294.3 40.7h.64M308.2 34.9h.64M289.6 39.6h.64M296.5 38.1h.64M319.5 35.6h.64M296.3 39.5h.64M293.6 35.0h.64M293.5 40.9h.64M307.6 30.7h.64M312.4 41.1h.64M297.3 44.0h.64M288.2 37.1h.64M316.4 42.7h.64M302.8 38.3h.64M296.9 43.6h.64M294.0 32.5h.64M321.4 41.8h.64M289.9 28.8h.64M305.4 39.9h.64M303.2 43.8h.64M303.3 43.0h.64M295.1 36.4h.64M289.6 42.6h.64M300.6 44.2h.64M300.1 28.5h.64M292.7 31.0h.64M287.4 42.7h.64M309.8 41.8h.64M290.5 38.3h.64M300.6 43.3h.64M306.2 33.0h.64M297.1 37.6h.64M286.7 28.9h.64M290.7 38.1h.64M287.5 34.0h.64M298.8 31.8h.64M289.5 39.3h.64M289.2 42.9h.64M289.2 41.6h.64M291.6 35.8h.64M295.3 44.4h.64M296.0 38.5h.64M296.0 40.6h.64M290.3 38.3h.64M301.9 31.6h.64M308.2 36.1h.64M293.1 42.9h.64M314.7 42.1h.64M289.0 43.9h.64M311.2 38.6h.64M289.7 41.4h.64M291.8 42.6h.64M292.2 39.2h.64M293.6 42.9h.64M294.1 32.4h.64M286.7 39.5h.64M289.7 42.8h.64M307.0 41.6h.64M302.3 37.1h.64M294.3 37.3h.64M318.8 44.3h.64M300.3 35.8h.64M288.2 39.1h.64M317.3 33.8h.64M294.3 36.5h.64M318.3 37.0h.64M312.6 35.8h.64M287.8 32.6h.64M319.3 41.5h.64M291.2 41.8h.64M291.5 32.3h.64M302.6 34.9h.64M296.0 41.6h.64M301.0 33.4h.64M290.8 40.6h.64M301.6 36.5h.64M299.1 31.8h.64M295.7 40.5h.64M301.4 41.6h.64M314.1 37.7h.64M296.8 37.5h.64M288.0 38.0h.64M297.2 29.3h.64M305.7 36.6h.64M324.1 43.3h.64M298.5 35.1h.64M299.4 33.4h.64M321.5 28.9h.64M301.9 43.0h.64M297.9 28.8h.64M306.3 28.1h.64M296.2 29.9h.64M286.6 31.7h.64M297.1 35.5h.64M297.3 29.2h.64M322.9 37.1h.64M307.2 41.4h.64M294.3 44.1h.64M308.1 31.8h.64M294.4 41.3h.64M308.9 43.9h.64M287.4 38.3h.64M294.4 40.5h.64M293.0 43.8h.64M312.4 34.3h.64M297.8 40.3h.64M290.8 39.7h.64M293.1 38.4h.64M297.7 33.3h.64M291.9 40.2h.64M314.6 35.3h.64M311.4 32.9h.64M295.3 38.9h.64M297.6 43.4h.64M301.8 29.5h.64M290.6 30.8h.64M294.8 35.3h.64M316.1 40.2h.64M288.6 38.5h.64M292.5 42.8h.64M290.1 42.0h.64M290.5 33.8h.64M295.7 35.2h.64M306.4 41.8h.64M301.9 33.3h.64M289.8 36.7h.64" stroke="#000" stroke-width="0.64" stroke-opacity="0.6" fill="none" filter="url(#sb)"/>
<path d="M314.4 42.5h.64M311.8 38.5h.64M313.3 37.5h.64M315.1 35.8h.64M314.5 42.6h.64M314.9 40.1h.64M310.6 43.3h.64M311.8 38.4h.64M313.3 24.5h.64M314.2 34.8h.64M315.2 41.8h.64M310.3 36.6h.64M314.4 39.2h.64M313.4 41.5h.64M311.7 43.5h.64M315.5 37.7h.64M310.3 41.3h.64M316.4 37.7h.64M313.1 39.6h.64M314.1 44.1h.64M312.4 41.8h.64M315.1 37.9h.64M313.0 40.2h.64M315.0 44.0h.64M315.3 27.3h.64M308.7 41.8h.64M313.5 43.5h.64M309.8 42.1h.64M309.4 37.8h.64M311.4 32.6h.64M316.1 34.4h.64M320.5 31.5h.64M313.5 40.6h.64M310.6 41.4h.64M315.7 43.2h.64M311.9 39.8h.64M314.1 29.0h.64M312.6 43.7h.64M316.4 34.4h.64M313.7 38.6h.64M313.4 36.8h.64M312.2 42.2h.64M312.6 42.9h.64M315.8 41.4h.64M313.7 40.0h.64M313.8 41.7h.64M312.8 44.2h.64M313.3 42.7h.64M312.9 39.2h.64M315.1 34.8h.64M313.0 43.8h.64M313.0 28.1h.64M311.6 39.0h.64M311.0 31.9h.64M315.2 24.2h.64M312.2 39.5h.64M313.5 41.4h.64M314.1 34.2h.64M311.6 32.5h.64M312.7 35.5h.64M318.0 44.1h.64M314.2 35.4h.64M312.6 38.5h.64M318.2 36.3h.64M313.8 44.0h.64M312.7 41.0h.64M315.2 39.9h.64M311.4 36.7h.64M315.0 43.6h.64M309.7 39.7h.64M312.3 44.1h.64M313.1 33.7h.64M313.1 38.4h.64M310.1 32.7h.64M312.2 33.1h.64M314.9 28.0h.64M314.9 40.8h.64M313.3 38.4h.64M313.6 43.4h.64M308.8 25.6h.64M315.2 36.0h.64M313.3 44.2h.64M313.5 43.9h.64M310.3 43.6h.64M315.9 36.5h.64M315.2 38.0h.64M313.3 39.2h.64M313.1 39.5h.64M314.3 32.9h.64M313.3 42.5h.64M313.5 43.9h.64M311.6 30.0h.64M313.8 38.7h.64M313.3 32.0h.64M315.7 36.2h.64M316.2 44.4h.64M313.7 32.3h.64M315.0 35.3h.64M316.1 42.5h.64M310.5 41.3h.64M313.4 30.3h.64M313.5 37.4h.64M314.7 36.9h.64M311.7 37.8h.64M313.4 39.6h.64M313.6 44.2h.64M312.6 42.4h.64M313.0 42.0h.64M314.8 40.4h.64M314.5 31.6h.64" stroke="#000" stroke-width="0.64" stroke-opacity="0.6" fill="none" filter="url(#sb)"/>
<path d="M312.6 43.5h.64M314.1 43.2h.64M311.7 44.3h.64M311.3 43.8h.64M311.0 40.4h.64M313.9 42.5h.64M314.1 44.3h.64M314.3 44.3h.64M313.3 44.0h.64M310.3 42.2h.64M312.2 41.9h.64M313.2 44.3h.64M312.0 39.5h.64M313.5 43.7h.64M310.0 43.2h.64M314.2 42.2h.64M312.8 42.9h.64M312.7 40.5h.64M315.0 42.7h.64M316.1 41.7h.64M313.0 40.0h.64M312.9 41.5h.64M316.6 41.2h.64M311.3 40.9h.64M313.6 41.6h.64M313.9 40.4h.64M311.7 44.3h.64M312.8 44.3h.64M314.3 42.7h.64M312.8 44.3h.64M313.7 41.3h.64M313.7 44.1h.64M312.7 42.0h.64M311.7 41.4h.64M312.2 42.9h.64M308.8 42.7h.64M316.8 42.0h.64M311.5 42.8h.64M315.9 39.5h.64M312.1 41.0h.64M314.1 43.2h.64M310.5 44.3h.64M315.5 42.6h.64M312.9 39.7h.64M314.2 40.7h.64M313.3 41.8h.64M311.0 38.9h.64M313.4 42.3h.64M312.6 40.1h.64M312.7 39.7h.64M311.0 42.8h.64M313.6 41.5h.64M309.9 39.2h.64M310.9 38.6h.64M312.9 41.7h.64M313.7 41.3h.64M314.7 41.2h.64M313.6 41.3h.64M313.5 43.0h.64M314.0 41.2h.64" stroke="#000" stroke-width="0.64" stroke-opacity="0.75" fill="none" filter="url(#sb)"/>
<path d="M293.7 26.7h.64M303.2 24.2h.64M297.2 19.9h.64M294.7 31.2h.64M292.4 25.5h.64M300.3 22.5h.64M300.6 29.8h.64M291.7 24.8h.64M302.4 23.1h.64M299.6 26.2h.64M296.2 23.9h.64M303.1 26.6h.64M295.1 30.0h.64M300.6 24.5h.64M293.4 25.2h.64M299.4 22.9h.64M296.1 31.4h.64M293.2 28.9h.64M294.6 29.1h.64M296.2 24.2h.64M294.3 28.3h.64M300.7 28.4h.64M294.4 20.7h.64M291.9 25.8h.64M303.5 28.1h.64M298.2 28.9h.64M296.1 29.2h.64M300.3 22.9h.64M298.4 22.9h.64M306.0 24.3h.64M293.4 30.3h.64M293.0 26.1h.64M293.4 22.9h.64M299.9 27.4h.64M291.3 26.4h.64M294.5 29.4h.64M304.2 20.5h.64M299.5 32.6h.64M294.0 22.2h.64M297.6 24.4h.64M290.2 26.5h.64M290.4 29.0h.64M292.6 29.8h.64M295.1 24.2h.64M299.5 30.4h.64M296.1 21.8h.64M287.0 25.7h.64M293.0 27.3h.64M287.8 24.1h.64M299.0 23.9h.64M302.4 30.5h.64M299.4 22.0h.64M303.5 28.8h.64M289.1 28.0h.64M303.9 28.5h.64M294.6 22.4h.64M303.8 29.5h.64M300.4 27.1h.64M294.9 24.8h.64M293.3 28.4h.64M294.1 31.4h.64M297.7 27.0h.64M288.8 26.5h.64M292.6 32.1h.64M289.3 23.1h.64M298.3 21.9h.64M294.6 21.7h.64M293.7 27.8h.64M298.2 29.7h.64M299.4 25.1h.64M288.2 28.0h.64M292.0 27.1h.64M291.2 28.2h.64M299.6 28.6h.64M296.9 27.8h.64M290.8 27.6h.64M294.3 24.9h.64M289.5 27.7h.64M288.4 24.2h.64M302.5 25.9h.64M295.0 30.5h.64M299.7 27.0h.64M295.7 30.4h.64M298.7 26.5h.64M296.1 28.8h.64M299.2 28.5h.64M289.9 29.2h.64M303.6 22.0h.64M302.8 27.9h.64M289.4 25.3h.64M292.2 22.3h.64M294.7 26.1h.64M287.9 23.8h.64M303.7 29.3h.64M290.9 27.1h.64M300.0 30.3h.64M295.7 28.3h.64M298.1 21.1h.64M297.8 24.5h.64M295.2 26.7h.64M294.5 28.8h.64M292.3 27.6h.64M290.9 23.9h.64M302.8 20.8h.64M296.9 30.5h.64M296.6 23.1h.64M300.4 27.9h.64M296.4 28.3h.64M303.9 20.1h.64M302.4 23.7h.64M294.7 29.0h.64M292.6 24.3h.64M295.0 26.9h.64M292.2 26.3h.64M292.1 25.6h.64M288.9 24.0h.64M300.7 27.7h.64M295.3 30.2h.64M294.8 24.9h.64M295.3 26.3h.64M293.5 23.6h.64M293.5 30.7h.64M295.9 28.2h.64M300.8 23.8h.64M289.8 26.9h.64M291.4 23.2h.64M300.5 26.4h.64M293.7 24.6h.64M292.3 27.7h.64M303.8 26.8h.64M292.2 24.7h.64M291.5 28.2h.64M299.3 20.8h.64M294.6 20.6h.64M296.8 25.9h.64M302.4 20.5h.64M298.2 32.4h.64M294.9 23.1h.64M297.1 27.0h.64M298.2 20.8h.64M300.2 23.4h.64M300.4 30.4h.64M291.7 25.7h.64M302.4 23.9h.64M290.5 24.4h.64M302.6 31.4h.64M297.3 27.7h.64M292.0 28.9h.64M293.2 21.5h.64M300.7 19.9h.64M288.6 28.4h.64M303.4 27.0h.64M295.9 26.2h.64M299.2 24.9h.64M290.8 29.0h.64M301.5 23.6h.64M298.1 24.0h.64M301.9 30.2h.64M300.9 30.8h.64M301.3 27.8h.64M299.8 25.4h.64M291.0 25.0h.64M289.7 26.9h.64M306.1 25.0h.64M291.9 28.0h.64M301.7 28.7h.64M292.6 25.4h.64M300.4 27.7h.64M298.8 26.6h.64M299.5 24.8h.64M297.2 28.9h.64M300.6 27.1h.64M299.8 19.3h.64M296.0 21.8h.64M303.9 26.9h.64M287.2 26.3h.64M288.9 22.2h.64M294.2 30.6h.64M293.6 26.4h.64M297.2 32.3h.64M293.3 29.7h.64M302.2 29.5h.64M290.6 26.8h.64M302.0 27.7h.64M287.4 24.6h.64M302.0 22.2h.64M287.1 26.1h.64M293.6 26.4h.64M290.8 28.5h.64M299.2 25.8h.64M288.4 28.0h.64M297.7 25.7h.64M290.5 22.3h.64M299.7 28.6h.64M301.0 31.3h.64M299.4 26.9h.64M295.5 28.7h.64M292.4 23.0h.64M295.4 26.4h.64M297.9 26.0h.64M296.7 25.6h.64M291.1 19.9h.64M296.2 24.2h.64M295.3 24.1h.64M299.2 29.4h.64M289.4 24.7h.64M298.2 22.1h.64M298.0 29.6h.64M287.3 24.2h.64M293.4 28.0h.64M298.9 22.3h.64M294.7 22.9h.64M297.8 26.4h.64M293.3 31.3h.64M299.3 24.3h.64M301.7 25.4h.64M288.5 27.2h.64M289.1 28.1h.64M293.3 25.5h.64M292.3 27.6h.64M299.6 29.1h.64M299.6 24.0h.64M303.7 22.0h.64M308.0 26.5h.64M288.1 28.5h.64M298.7 27.5h.64M289.9 24.4h.64M299.2 27.5h.64M297.2 26.5h.64M294.1 28.7h.64M296.7 22.2h.64M296.6 26.4h.64M290.8 29.5h.64M299.6 26.8h.64M296.6 29.4h.64M294.4 29.8h.64M292.6 28.2h.64M302.2 28.7h.64M289.4 27.3h.64M293.3 28.1h.64M298.9 24.0h.64M306.7 25.9h.64M290.1 24.2h.64M301.6 29.1h.64M288.3 23.0h.64M298.6 18.7h.64M289.5 25.0h.64M301.3 24.8h.64M295.2 27.4h.64M301.4 21.1h.64M296.0 25.3h.64M301.1 31.6h.64M292.6 24.7h.64M296.6 25.0h.64M298.4 22.8h.64M290.0 30.7h.64M296.4 22.9h.64M299.8 30.9h.64M294.7 28.2h.64M293.9 28.8h.64M289.6 26.0h.64M295.5 29.3h.64M295.1 20.5h.64M298.2 28.3h.64M290.6 28.2h.64M298.5 28.4h.64M293.9 19.5h.64M303.4 22.0h.64M299.1 27.2h.64M289.5 27.3h.64M298.2 28.1h.64M304.6 28.8h.64M292.0 27.9h.64M305.9 24.6h.64M297.9 21.6h.64M292.7 28.9h.64M296.4 28.4h.64M292.4 24.9h.64M291.3 26.2h.64M294.4 25.9h.64M290.7 26.9h.64M300.3 30.5h.64M298.4 20.2h.64M299.9 25.2h.64M290.1 25.2h.64M295.9 21.4h.64M298.8 23.0h.64M289.8 29.4h.64M299.1 23.2h.64M290.2 23.5h.64M295.5 24.9h.64M295.8 31.2h.64M302.8 27.4h.64M294.8 26.9h.64M290.7 25.5h.64M300.7 21.3h.64M295.4 26.0h.64M289.3 26.2h.64M298.4 23.0h.64M297.3 24.0h.64M302.6 28.2h.64M288.2 23.3h.64M297.8 26.4h.64M288.2 23.2h.64M303.6 27.2h.64M297.5 25.6h.64M292.2 30.3h.64M292.4 21.8h.64M293.6 26.5h.64M296.4 28.2h.64M295.8 21.9h.64M296.9 28.3h.64M289.2 27.5h.64M298.8 19.1h.64M299.8 27.5h.64M293.5 28.5h.64M295.1 28.0h.64M300.3 28.3h.64M296.0 27.8h.64M292.0 27.7h.64M299.4 22.8h.64M300.0 25.3h.64M294.3 26.4h.64M300.0 30.7h.64M304.5 23.9h.64M298.2 25.3h.64M287.0 25.9h.64M294.5 25.3h.64M295.8 26.8h.64M293.6 26.8h.64M295.4 28.0h.64M292.1 29.3h.64M291.6 28.9h.64M289.1 28.2h.64M296.6 28.1h.64M293.5 27.7h.64M291.1 27.2h.64M298.3 20.4h.64M297.6 28.9h.64M295.7 26.2h.64M304.7 31.1h.64M292.7 30.0h.64M299.2 31.9h.64M299.3 21.4h.64M293.4 30.0h.64M294.9 23.8h.64M296.6 22.2h.64M296.3 32.1h.64M298.7 22.9h.64M293.3 25.9h.64M298.5 23.5h.64M298.6 26.6h.64M293.9 28.6h.64M296.8 28.3h.64M295.1 27.9h.64M293.1 24.7h.64M296.7 19.2h.64M297.4 26.2h.64M300.5 27.9h.64M295.3 27.2h.64M293.8 24.5h.64M292.6 27.6h.64M300.2 23.2h.64M297.6 31.8h.64M294.2 19.9h.64M290.6 23.2h.64M292.7 29.2h.64M297.5 32.7h.64M289.3 21.6h.64M301.9 26.8h.64M300.5 29.7h.64M293.8 23.0h.64M299.0 31.0h.64M294.3 23.0h.64M299.6 28.8h.64M294.0 24.3h.64M289.9 26.9h.64M296.9 27.3h.64M296.8 21.5h.64M293.8 31.3h.64M303.4 24.4h.64M295.5 27.5h.64M287.5 25.5h.64M287.3 24.0h.64M295.8 26.9h.64M293.5 23.1h.64M298.4 23.7h.64M294.3 24.8h.64M292.6 27.1h.64M296.7 28.7h.64M292.8 27.8h.64M300.2 27.4h.64M297.8 30.0h.64M294.6 29.6h.64M299.8 29.4h.64M295.1 20.8h.64M300.3 25.1h.64M299.9 27.2h.64M295.7 32.4h.64M295.6 27.0h.64M298.1 32.8h.64M289.6 24.5h.64M288.8 25.6h.64M290.7 20.5h.64M298.5 27.4h.64M298.8 30.9h.64M298.9 29.3h.64M289.5 30.2h.64M295.8 27.5h.64M290.7 28.2h.64M294.7 23.3h.64M296.4 24.6h.64M289.8 24.5h.64M294.9 23.1h.64M297.5 25.8h.64M293.3 27.4h.64M301.7 26.0h.64M292.5 20.7h.64M296.7 25.9h.64M301.7 25.5h.64M299.0 23.3h.64M301.6 30.3h.64M292.5 26.5h.64M297.4 23.2h.64M297.1 26.6h.64M306.7 23.7h.64M287.4 23.7h.64M294.2 25.6h.64M303.3 25.9h.64M294.7 23.8h.64M305.2 20.8h.64M292.7 31.1h.64M301.7 24.2h.64M293.2 27.0h.64M299.3 27.2h.64M300.7 24.2h.64M298.7 26.1h.64M301.1 25.6h.64M287.9 27.4h.64M292.2 27.8h.64M298.9 27.7h.64M289.3 28.0h.64M295.0 21.9h.64M296.6 28.1h.64M298.8 27.5h.64M289.0 26.2h.64M291.0 24.3h.64M293.3 27.0h.64M292.1 24.3h.64M292.2 25.4h.64M296.4 25.9h.64M295.6 29.4h.64M296.7 29.7h.64M296.9 31.0h.64M302.0 29.0h.64M293.1 24.5h.64M295.4 23.8h.64M301.1 29.6h.64M302.2 31.9h.64M298.8 29.4h.64M294.9 31.6h.64M299.4 26.8h.64M291.6 26.2h.64M305.4 22.7h.64M293.7 18.9h.64M301.2 21.8h.64M294.6 25.7h.64M291.7 31.4h.64M290.1 27.2h.64M298.8 32.4h.64M298.3 19.7h.64M294.6 18.9h.64M293.1 23.0h.64M292.9 28.0h.64M291.0 22.9h.64M293.6 32.2h.64M302.3 23.6h.64M304.6 26.9h.64M299.6 24.5h.64M302.2 26.8h.64M295.1 26.6h.64M288.4 23.9h.64M287.5 26.6h.64M305.1 23.6h.64M288.7 24.9h.64M298.3 25.3h.64M298.9 24.0h.64M293.3 26.9h.64M287.7 25.8h.64M291.4 21.7h.64M296.9 29.7h.64M290.8 26.8h.64M301.2 21.7h.64M300.7 25.2h.64M298.1 31.0h.64M298.9 22.5h.64M293.3 27.4h.64M290.2 26.7h.64M305.2 30.3h.64M292.1 23.9h.64M298.7 27.2h.64M294.7 27.6h.64M305.1 25.4h.64M291.7 26.1h.64M299.9 27.6h.64M301.9 25.5h.64M292.2 27.5h.64M290.5 30.9h.64M292.3 24.5h.64M299.9 25.1h.64M295.7 26.3h.64M304.1 22.7h.64M295.8 18.6h.64M296.1 22.9h.64M294.5 25.4h.64M290.7 20.8h.64M289.4 27.4h.64M297.7 30.1h.64M295.7 27.1h.64M294.7 27.9h.64M298.2 25.5h.64M300.9 28.7h.64M305.7 30.4h.64M296.7 24.5h.64M292.3 25.4h.64M305.3 22.1h.64M298.7 31.8h.64M297.7 24.8h.64M291.8 21.2h.64M300.7 20.8h.64M293.8 30.0h.64M291.8 25.2h.64M291.2 26.2h.64M302.0 28.3h.64M299.5 25.0h.64M296.9 28.5h.64M304.0 28.0h.64M293.4 27.3h.64M297.5 26.5h.64M289.4 28.0h.64M296.0 25.4h.64M294.0 27.8h.64M292.6 24.9h.64M292.9 23.5h.64M293.2 20.9h.64M298.1 24.3h.64M289.0 28.1h.64M293.2 22.1h.64M292.6 23.7h.64M290.6 27.1h.64M293.3 32.3h.64M292.0 28.2h.64M289.6 27.7h.64M303.3 21.4h.64M295.5 24.4h.64M289.4 27.4h.64M304.0 22.1h.64M293.5 22.7h.64M303.4 23.7h.64M296.0 24.3h.64M301.7 29.8h.64M294.3 22.8h.64M301.4 30.6h.64M300.4 23.1h.64M300.7 23.9h.64M298.3 27.7h.64M293.8 27.4h.64M299.5 31.6h.64M302.0 26.7h.64M294.2 22.1h.64M301.1 23.1h.64M294.7 26.6h.64M305.6 23.0h.64M291.9 23.1h.64M290.4 24.5h.64M290.6 25.4h.64M296.4 28.4h.64M291.1 28.1h.64M296.2 26.7h.64M295.7 23.3h.64M293.3 29.7h.64M301.7 30.1h.64M293.8 26.9h.64M289.9 26.8h.64M294.7 29.0h.64M290.7 20.3h.64M300.9 22.4h.64M305.4 26.6h.64M288.3 24.1h.64M298.9 30.3h.64M289.1 24.2h.64M296.1 30.6h.64M290.9 26.0h.64M300.5 30.7h.64M294.2 28.0h.64M295.7 29.9h.64M293.0 24.7h.64M297.4 30.2h.64M296.9 29.9h.64M298.4 22.5h.64M297.3 23.2h.64M300.7 21.9h.64M288.8 29.7h.64M298.6 23.7h.64M300.2 29.2h.64M297.2 30.9h.64M293.2 26.7h.64M298.9 27.4h.64M290.2 28.3h.64M304.0 22.1h.64M294.7 29.8h.64M295.9 25.9h.64M292.9 25.0h.64M293.1 26.8h.64M297.1 25.8h.64M294.7 26.3h.64M290.6 27.9h.64M288.6 27.8h.64M293.8 26.8h.64M298.4 27.5h.64M292.1 23.0h.64M302.7 22.0h.64M294.6 27.8h.64M292.8 24.7h.64M289.8 29.2h.64M296.1 31.0h.64M289.2 25.7h.64M288.7 22.4h.64M296.9 30.3h.64M289.4 23.4h.64M296.3 28.0h.64M299.2 26.1h.64M303.1 29.8h.64M291.9 25.3h.64M303.4 25.3h.64M296.6 26.5h.64M301.9 29.0h.64M296.2 27.4h.64M293.9 32.6h.64M304.4 21.5h.64M303.9 21.3h.64M296.4 22.9h.64M297.3 29.2h.64M291.0 28.1h.64M292.3 27.4h.64M297.0 24.9h.64M295.4 20.4h.64M293.1 25.0h.64M294.7 23.9h.64M302.4 25.2h.64M298.3 29.0h.64M296.4 20.7h.64M297.7 28.7h.64M287.8 25.7h.64M297.5 24.1h.64M301.8 25.1h.64M289.8 25.3h.64M294.5 31.1h.64M300.3 22.7h.64M291.2 29.0h.64M294.8 32.0h.64M302.9 28.5h.64M298.4 26.4h.64M303.6 23.9h.64M305.1 26.6h.64M300.9 29.3h.64M305.6 26.5h.64M293.9 27.9h.64M298.0 24.9h.64M295.3 26.6h.64M302.3 31.6h.64M292.4 25.9h.64M295.3 23.8h.64M298.8 27.8h.64M299.6 24.1h.64M294.3 21.7h.64M289.9 26.8h.64M294.0 26.8h.64M287.0 25.3h.64M296.2 25.0h.64M297.6 29.7h.64M297.6 22.5h.64M292.6 26.7h.64M299.3 21.0h.64M296.9 28.5h.64M304.6 30.3h.64M298.5 28.2h.64M295.8 27.2h.64M293.7 28.8h.64M292.1 26.4h.64M302.6 27.0h.64M294.3 32.7h.64M294.2 24.9h.64M299.2 28.7h.64M292.6 24.4h.64M289.1 23.8h.64M294.1 27.8h.64M295.6 26.0h.64M301.3 21.1h.64M297.0 25.1h.64M291.3 31.3h.64M294.8 26.7h.64M292.3 28.8h.64M288.7 22.5h.64M291.5 27.3h.64M299.2 23.5h.64M295.5 28.5h.64M293.2 26.0h.64M288.7 27.1h.64M292.6 26.0h.64M290.9 27.3h.64M297.0 23.7h.64M293.8 30.0h.64M290.3 29.5h.64M294.9 29.6h.64M296.1 22.5h.64M291.8 24.9h.64M304.4 23.8h.64M299.7 28.5h.64M298.9 22.1h.64M295.1 26.1h.64M292.6 29.6h.64M304.5 28.9h.64M296.8 21.8h.64M293.9 22.8h.64M305.6 26.7h.64M297.6 28.1h.64M305.5 22.2h.64M295.1 24.3h.64M294.9 21.5h.64M299.6 23.1h.64M305.5 26.2h.64M294.4 25.2h.64M294.1 30.1h.64M303.5 28.8h.64M302.9 29.7h.64M305.1 24.2h.64M298.7 28.7h.64M299.6 27.6h.64M297.1 20.3h.64M295.6 25.2h.64M299.1 24.2h.64M292.8 24.7h.64M299.3 31.8h.64M304.9 20.8h.64M294.5 29.8h.64M303.1 25.3h.64M295.1 22.3h.64M298.8 28.0h.64M294.4 23.7h.64M292.3 20.8h.64M296.2 26.4h.64M298.0 28.9h.64M298.1 30.2h.64M292.1 28.3h.64M290.5 24.1h.64M306.3 28.4h.64M292.2 24.3h.64M288.7 22.8h.64M307.9 26.3h.64M293.8 27.1h.64M289.9 23.4h.64M293.3 28.4h.64M291.1 23.3h.64M289.7 24.2h.64M292.4 24.2h.64M297.2 26.4h.64M298.2 21.1h.64M302.1 24.5h.64M301.7 30.1h.64M293.6 25.0h.64M300.4 25.1h.64M298.7 23.4h.64M289.5 25.4h.64M294.6 31.5h.64M298.2 26.6h.64M297.2 32.2h.64M299.1 22.5h.64M300.8 18.6h.64M304.4 26.1h.64M288.4 28.5h.64M302.1 25.9h.64M292.0 23.6h.64M295.2 28.0h.64M294.4 22.1h.64M294.5 24.0h.64M293.0 24.1h.64M297.6 26.8h.64M300.6 25.3h.64M297.1 26.7h.64M294.6 30.4h.64M302.5 24.5h.64M302.2 30.6h.64M295.7 25.3h.64M289.1 27.6h.64M295.2 25.7h.64M289.5 24.4h.64M295.0 31.3h.64M304.8 30.5h.64M303.5 25.2h.64" stroke="#000" stroke-width="0.64" stroke-opacity="0.7" fill="none" filter="url(#sb)"/>
<ellipse cx="287.5" cy="27.3" rx="2.2" ry="3.51" fill="#000" opacity="0.7" filter="url(#sb2)"/>
<ellipse cx="297.6" cy="25.3" rx="11.1" ry="7.8" fill="none" stroke="#000" stroke-width="1.2"/>
<rect x="286" y="9.4" width="52.5" height="35.4" fill="none" stroke="#333" stroke-width="0.7"/>
<text x="335.5" y="13.85" font-size="4.25" text-anchor="end" font-weight="bold" fill="#111" dominant-baseline="central" stroke="#111" stroke-width="0.18">AMD3100 1 month</text>
<text x="337.2" y="26.25" font-size="5.5" text-anchor="end" font-weight="bold" fill="#111" dominant-baseline="central" stroke="#111" stroke-width="0.18" textLength="10.01" lengthAdjust="spacingAndGlyphs">62%</text>
<text x="344.8" y="46.6" font-size="2.4" font-weight="bold" text-anchor="middle" dominant-baseline="central" fill="#222">10<tspan font-size="1.68" dy="-0.8">0</tspan></text>
<text x="358.08" y="46.6" font-size="2.4" font-weight="bold" text-anchor="middle" dominant-baseline="central" fill="#222">10<tspan font-size="1.68" dy="-0.8">1</tspan></text>
<text x="371.35" y="46.6" font-size="2.4" font-weight="bold" text-anchor="middle" dominant-baseline="central" fill="#222">10<tspan font-size="1.68" dy="-0.8">2</tspan></text>
<text x="384.62" y="46.6" font-size="2.4" font-weight="bold" text-anchor="middle" dominant-baseline="central" fill="#222">10<tspan font-size="1.68" dy="-0.8">3</tspan></text>
<text x="397.9" y="46.6" font-size="2.4" font-weight="bold" text-anchor="middle" dominant-baseline="central" fill="#222">10<tspan font-size="1.68" dy="-0.8">4</tspan></text>
<path d="M376.1 21.0h.60M365.5 25.4h.60M374.4 35.9h.60M370.2 32.5h.60M380.1 20.1h.60M366.4 21.9h.60M377.7 28.6h.60M367.4 31.2h.60M372.7 26.3h.60M377.1 32.4h.60M372.9 19.0h.60M363.7 36.5h.60M370.7 33.6h.60M368.6 28.8h.60M371.3 26.8h.60M374.9 20.4h.60M366.0 27.3h.60M369.4 23.0h.60M368.0 34.5h.60M370.5 27.2h.60M378.0 36.3h.60M369.4 18.4h.60M373.3 38.5h.60M376.7 16.6h.60M371.7 16.9h.60M381.7 29.2h.60M373.5 35.0h.60M367.9 26.6h.60M373.6 22.3h.60M364.6 25.4h.60M366.5 23.7h.60M370.8 25.6h.60M362.6 28.1h.60M367.2 25.4h.60M377.3 34.8h.60M370.6 27.1h.60M369.6 30.8h.60M372.2 17.5h.60M363.5 25.7h.60M373.4 21.0h.60M366.3 28.6h.60M369.7 18.8h.60M365.9 21.2h.60M371.0 28.0h.60M366.5 23.6h.60M369.7 26.8h.60M379.4 18.5h.60M374.4 17.6h.60M368.2 14.5h.60M373.8 18.7h.60M380.9 31.0h.60M374.9 27.5h.60M371.6 28.6h.60M377.2 30.3h.60M378.6 31.4h.60M371.5 26.2h.60M379.3 37.6h.60M364.7 28.6h.60M366.2 25.1h.60M367.3 24.3h.60M371.4 32.2h.60M368.2 26.9h.60M372.2 19.1h.60M369.2 31.1h.60M371.0 17.9h.60M376.2 33.8h.60M374.6 19.4h.60M372.7 29.6h.60M371.3 19.7h.60M369.8 25.4h.60M377.0 28.4h.60M374.4 26.9h.60M373.3 26.3h.60M362.7 32.8h.60M374.7 17.1h.60M369.5 23.7h.60M370.4 32.3h.60M372.8 24.0h.60M374.5 19.6h.60M366.2 32.2h.60M375.6 29.6h.60M375.3 26.5h.60M369.5 31.2h.60M378.2 16.9h.60M369.4 35.8h.60M369.9 34.5h.60M369.0 25.4h.60M370.8 26.5h.60M368.1 19.7h.60M367.2 23.1h.60M376.5 29.5h.60M375.5 34.1h.60M368.7 19.9h.60M374.5 15.8h.60M378.1 19.8h.60M370.1 28.7h.60M366.6 19.3h.60M369.3 23.8h.60M377.2 33.3h.60M375.9 18.4h.60M369.2 19.6h.60M372.3 24.6h.60M368.9 18.4h.60M373.1 18.7h.60M376.7 31.4h.60M371.3 29.0h.60M373.4 30.8h.60M371.9 31.2h.60M367.7 23.8h.60M363.8 22.2h.60M362.7 24.6h.60M364.7 24.8h.60M372.7 30.1h.60M364.7 29.4h.60M363.3 27.7h.60M373.1 24.1h.60M371.8 25.8h.60M367.9 24.6h.60M371.2 28.8h.60M378.4 29.3h.60M370.9 23.2h.60M364.3 23.6h.60M370.0 27.6h.60M373.2 17.2h.60M368.0 30.7h.60M364.5 27.7h.60M376.0 20.3h.60M368.2 24.2h.60M369.0 35.8h.60M369.0 16.7h.60M364.4 21.4h.60M363.7 25.3h.60M371.0 21.9h.60M373.7 22.0h.60M365.3 28.7h.60M377.8 27.4h.60M374.2 21.6h.60M373.7 14.2h.60M376.3 31.6h.60M372.6 29.9h.60M372.3 32.0h.60M375.1 31.5h.60M373.8 21.3h.60M365.2 35.5h.60M370.9 21.7h.60M373.0 25.3h.60M363.8 18.2h.60M364.1 30.1h.60M371.5 16.2h.60M365.1 22.1h.60M374.7 24.2h.60M370.9 23.7h.60M365.8 14.0h.60M376.6 26.2h.60M367.4 24.4h.60" stroke="#333" stroke-width="0.6" stroke-opacity="0.45" fill="none" filter="url(#sb)"/>
<path d="M372.9 43.4h.64M348.1 43.9h.64M363.1 40.2h.64M354.7 41.7h.64M354.4 42.7h.64M345.6 43.2h.64M346.4 39.8h.64M355.7 41.4h.64M367.8 40.8h.64M354.9 28.5h.64M347.5 28.6h.64M348.5 30.8h.64M347.9 40.8h.64M348.9 36.7h.64M346.6 34.5h.64M368.3 37.2h.64M368.0 42.0h.64M351.0 32.0h.64M362.7 43.0h.64M380.7 43.8h.64M346.4 36.6h.64M351.6 39.8h.64M358.3 35.8h.64M357.6 39.1h.64M346.4 28.5h.64M348.2 37.4h.64M355.3 40.7h.64M352.8 43.9h.64M372.8 35.7h.64M377.5 31.8h.64M350.1 38.0h.64M359.1 42.8h.64M352.1 38.8h.64M348.1 35.6h.64M349.6 43.8h.64M351.9 34.2h.64M371.7 40.5h.64M356.6 33.3h.64M355.7 37.1h.64M351.8 28.8h.64M352.4 37.4h.64M347.0 36.4h.64M372.8 30.2h.64M355.8 29.4h.64M380.5 34.0h.64M347.1 41.7h.64M376.6 41.2h.64M351.5 38.6h.64M351.5 32.5h.64M363.3 35.5h.64M369.5 43.8h.64M346.0 37.4h.64M353.5 31.1h.64M363.4 28.6h.64M352.5 38.9h.64M369.5 31.9h.64M357.5 41.0h.64M349.6 38.2h.64M353.5 36.3h.64M350.6 42.8h.64M365.0 38.4h.64M354.9 40.3h.64M352.0 43.8h.64M348.7 42.3h.64M375.4 32.3h.64M348.6 41.8h.64M348.7 40.0h.64M367.2 43.8h.64M363.4 38.8h.64M367.8 28.8h.64M345.6 42.7h.64M367.6 37.9h.64M347.9 43.2h.64M347.9 35.9h.64M363.1 29.7h.64M373.4 41.0h.64M352.2 35.2h.64M362.0 38.7h.64M345.7 29.8h.64M367.3 35.6h.64M346.3 34.8h.64M346.1 33.7h.64M361.5 43.5h.64M346.8 42.5h.64M364.8 40.8h.64M362.8 32.2h.64M350.3 34.5h.64M367.5 38.8h.64M348.8 37.3h.64M355.9 36.5h.64M353.3 43.4h.64M371.7 30.5h.64M366.4 43.0h.64M358.1 43.7h.64M348.7 32.2h.64M346.2 40.9h.64M350.3 37.8h.64M350.2 41.4h.64M362.1 30.7h.64M346.2 33.2h.64M360.6 39.5h.64M359.8 41.5h.64M354.9 39.5h.64M347.3 42.8h.64M355.3 31.7h.64M362.2 38.2h.64M370.4 36.6h.64M352.6 34.2h.64M369.1 43.5h.64M358.8 32.8h.64M356.6 42.8h.64M348.5 32.2h.64M347.6 43.9h.64M357.0 35.5h.64M365.4 36.1h.64M353.7 36.4h.64M351.1 31.2h.64M352.1 32.5h.64M361.4 38.1h.64M346.0 35.3h.64M368.2 34.3h.64M371.4 35.6h.64M348.3 35.1h.64M348.2 41.1h.64M352.9 35.0h.64M355.4 41.7h.64M346.0 37.3h.64M348.3 37.8h.64M353.7 36.8h.64M360.8 40.5h.64M347.1 39.4h.64M356.5 36.2h.64M355.8 34.3h.64M346.2 34.2h.64M369.8 35.3h.64M361.4 30.7h.64M350.6 32.3h.64M365.1 38.5h.64M357.0 37.9h.64M367.9 41.7h.64M345.0 29.3h.64M376.7 33.4h.64M348.6 29.3h.64M349.7 43.5h.64M368.3 34.3h.64M361.2 43.3h.64M347.5 37.0h.64M354.8 32.8h.64M363.2 32.2h.64M348.8 41.1h.64M362.3 36.3h.64M353.4 36.7h.64M353.8 37.1h.64M344.9 42.1h.64M346.9 40.3h.64M353.8 42.7h.64M360.3 37.8h.64M359.5 37.5h.64M355.5 40.2h.64M368.4 43.1h.64M355.2 32.1h.64M346.8 29.1h.64M350.4 35.3h.64M364.2 30.9h.64M350.6 38.3h.64M354.6 43.9h.64M345.9 42.2h.64M349.7 32.4h.64M386.3 37.6h.64M351.8 35.3h.64M353.0 34.3h.64M354.6 40.0h.64M346.0 42.9h.64M364.2 42.2h.64M352.3 42.7h.64M350.5 43.9h.64M373.1 36.4h.64M362.3 38.3h.64M348.0 33.8h.64M365.5 36.7h.64M364.3 32.2h.64M346.8 44.2h.64M354.7 43.9h.64M386.3 31.2h.64M349.6 38.6h.64M371.6 37.2h.64M348.5 40.7h.64M367.9 35.4h.64M347.7 36.8h.64M359.7 36.2h.64M351.8 43.0h.64M356.0 35.4h.64M377.1 41.8h.64M357.4 37.9h.64M352.2 43.2h.64M355.5 29.7h.64M371.9 34.1h.64M358.7 42.1h.64M349.4 43.4h.64M349.5 35.6h.64M364.3 35.0h.64M345.1 35.4h.64M349.3 43.8h.64M365.3 31.7h.64M352.2 44.0h.64M352.6 36.4h.64M360.7 42.7h.64M367.6 39.8h.64M361.0 42.1h.64M348.0 34.9h.64M358.8 39.1h.64M352.7 38.2h.64M356.3 31.2h.64M347.4 37.0h.64M350.1 36.3h.64M361.6 36.2h.64M371.6 33.2h.64M347.7 38.5h.64M362.1 30.2h.64M348.2 35.0h.64M365.9 41.4h.64M349.7 29.0h.64M350.0 30.8h.64M345.8 33.4h.64M345.8 41.3h.64M361.9 40.6h.64M352.2 37.2h.64M353.9 37.9h.64M354.5 35.7h.64M362.6 37.7h.64M357.2 36.5h.64M360.3 36.1h.64M382.3 42.2h.64M357.0 41.3h.64M365.2 41.5h.64M354.6 28.6h.64M354.2 41.8h.64M370.8 42.1h.64M345.3 34.9h.64M349.4 38.5h.64M371.6 40.0h.64M346.3 35.5h.64M367.2 37.7h.64M350.3 30.0h.64M345.7 41.0h.64M367.4 34.2h.64M349.8 41.5h.64M364.6 41.2h.64M358.5 39.7h.64M358.8 40.8h.64M372.9 28.8h.64M378.8 34.6h.64M356.7 42.0h.64M368.2 37.1h.64M347.4 32.9h.64M357.0 37.5h.64M366.8 39.1h.64M367.8 34.9h.64M349.6 30.1h.64M355.1 41.2h.64M345.3 39.2h.64M364.7 35.6h.64M349.0 39.4h.64M361.6 38.3h.64M364.4 43.9h.64M364.1 33.5h.64M356.4 30.3h.64M357.7 31.5h.64M347.8 32.8h.64M362.5 35.6h.64M351.6 32.9h.64M347.4 37.4h.64M356.2 43.3h.64M350.1 40.8h.64M347.4 41.2h.64M355.9 43.2h.64M357.0 37.8h.64M355.6 35.9h.64M357.1 33.9h.64M347.6 37.3h.64M347.1 39.3h.64M373.3 40.7h.64M347.6 30.4h.64M355.4 39.1h.64M357.9 35.5h.64M358.3 37.4h.64M345.7 40.8h.64M362.3 36.4h.64M350.9 38.5h.64M371.8 35.5h.64M348.2 44.1h.64M357.6 43.0h.64M348.4 37.3h.64M349.6 40.6h.64M355.7 43.0h.64M348.6 41.3h.64M371.3 39.2h.64M345.1 41.2h.64M371.5 43.5h.64M349.5 35.8h.64M346.8 41.8h.64M361.7 36.3h.64M363.4 37.6h.64M353.7 30.7h.64M352.1 30.3h.64M369.6 43.5h.64M362.8 30.3h.64M373.6 43.0h.64M354.5 41.2h.64M349.5 33.9h.64M357.3 44.1h.64M357.0 30.0h.64M354.4 42.6h.64M362.7 43.4h.64M352.6 39.4h.64M346.1 41.4h.64M356.2 39.5h.64M359.9 43.7h.64M347.8 37.2h.64M352.2 36.8h.64M349.4 38.1h.64M351.5 31.1h.64M362.0 29.0h.64M362.5 42.6h.64M368.4 42.6h.64M354.8 35.2h.64M354.3 39.6h.64M358.8 28.4h.64M345.4 36.6h.64M365.8 35.9h.64M350.4 35.4h.64M363.5 36.2h.64M357.5 33.8h.64M380.3 31.7h.64M347.7 29.3h.64M345.9 37.8h.64M356.5 37.9h.64M369.8 32.5h.64M368.1 34.8h.64M355.2 41.2h.64M355.9 37.4h.64M352.2 31.9h.64M355.9 43.6h.64M355.6 34.9h.64M358.6 35.1h.64M352.7 41.1h.64M363.0 31.5h.64M347.7 36.4h.64M364.7 36.5h.64M358.9 35.3h.64M346.6 41.1h.64M371.1 35.9h.64M360.6 36.1h.64M368.8 43.9h.64M354.2 31.9h.64M373.3 38.9h.64M346.6 37.7h.64M372.7 41.8h.64M351.9 42.8h.64M352.8 43.7h.64M349.4 36.2h.64M367.3 42.8h.64M357.9 40.7h.64M350.1 33.5h.64M373.3 44.0h.64M347.4 38.0h.64M350.7 43.0h.64M378.8 42.5h.64M345.9 34.4h.64M350.0 28.5h.64M350.8 43.0h.64M352.5 38.1h.64M355.8 33.2h.64M352.3 44.0h.64M382.2 36.8h.64M371.2 34.8h.64M381.6 28.3h.64M363.6 37.0h.64M351.8 39.3h.64M350.5 42.7h.64M356.1 38.9h.64M349.1 34.5h.64M354.5 35.4h.64M360.1 33.8h.64M348.7 43.8h.64M355.7 41.5h.64M355.8 31.5h.64M346.7 33.6h.64M354.6 32.2h.64M370.3 42.8h.64M370.5 39.4h.64M363.7 37.6h.64M363.5 43.2h.64M364.7 40.6h.64M355.6 32.1h.64M377.5 39.3h.64M350.6 41.3h.64M367.0 29.3h.64M351.8 39.9h.64M352.8 37.5h.64M352.8 32.3h.64M371.0 34.6h.64M353.9 31.6h.64M366.1 28.4h.64M365.5 33.0h.64M350.4 42.9h.64M355.6 28.3h.64M349.3 39.4h.64M358.5 28.8h.64M346.8 34.0h.64M363.8 40.4h.64M346.7 35.9h.64M368.4 32.6h.64M354.9 41.3h.64M374.4 35.8h.64M358.1 38.6h.64M362.7 41.3h.64M353.6 40.0h.64M344.9 33.9h.64M365.9 39.1h.64M352.5 37.9h.64M348.7 28.4h.64M355.7 41.4h.64M356.1 34.6h.64M346.0 30.6h.64M360.9 30.1h.64M355.6 43.1h.64M351.7 44.0h.64M346.8 35.2h.64M376.2 30.1h.64M370.9 38.1h.64M375.6 38.5h.64M348.8 41.5h.64M379.6 38.9h.64M349.6 39.0h.64M356.0 32.4h.64M359.5 41.2h.64M344.9 36.4h.64M375.1 40.9h.64M356.4 41.9h.64M346.1 37.2h.64M351.9 43.0h.64M349.8 36.1h.64M374.6 39.8h.64M377.7 33.5h.64M348.1 40.7h.64M345.8 35.6h.64M377.8 42.2h.64M381.1 42.4h.64M346.9 35.8h.64M347.6 35.4h.64M362.9 37.4h.64M353.0 31.2h.64M362.9 30.6h.64M352.8 34.7h.64M365.1 43.5h.64M349.9 32.6h.64M354.3 33.2h.64M347.5 43.1h.64M355.9 40.9h.64M354.5 38.5h.64M348.3 39.5h.64M351.8 39.6h.64M358.4 31.6h.64M376.5 33.1h.64M377.3 38.9h.64M350.0 35.1h.64M384.8 38.2h.64M349.7 39.9h.64M350.4 32.5h.64M363.1 39.5h.64M363.0 42.9h.64M352.5 34.6h.64M349.3 41.1h.64M369.8 33.9h.64M347.4 42.4h.64M356.0 29.3h.64M389.2 43.1h.64M358.3 42.2h.64M348.5 33.4h.64M345.9 44.2h.64M350.4 34.3h.64M345.7 42.6h.64M361.9 30.6h.64M363.7 39.8h.64M354.6 29.4h.64M360.0 35.8h.64M348.9 36.3h.64M363.5 32.4h.64M355.6 40.3h.64M347.6 42.2h.64M380.7 39.2h.64M350.5 39.1h.64M362.2 40.2h.64M359.6 38.2h.64M345.5 39.0h.64M369.9 40.6h.64M352.0 38.7h.64M371.5 29.3h.64M363.0 42.5h.64M356.0 41.9h.64M364.2 35.8h.64M363.7 39.3h.64M366.3 42.0h.64M353.6 40.1h.64M352.4 40.4h.64M349.0 42.5h.64M347.1 42.9h.64M373.0 34.9h.64M345.5 38.7h.64M358.6 34.0h.64M348.0 42.6h.64M351.0 41.2h.64M350.6 42.6h.64M356.8 42.0h.64M351.0 40.5h.64M360.9 41.9h.64M347.0 33.6h.64M370.8 43.0h.64M348.1 39.9h.64M349.8 43.8h.64M367.3 36.1h.64M352.1 35.0h.64M358.5 32.6h.64M375.8 43.0h.64M365.1 32.3h.64M357.4 29.7h.64M367.7 36.0h.64M347.4 30.9h.64M347.1 31.7h.64M344.9 32.1h.64M360.6 28.3h.64M360.6 36.2h.64M358.1 32.2h.64M345.9 41.0h.64M347.8 32.6h.64M352.3 40.5h.64M354.1 29.8h.64M350.5 29.2h.64M351.3 41.9h.64M351.3 40.1h.64M347.0 38.3h.64M362.2 41.4h.64M348.6 31.6h.64M353.5 42.9h.64M350.1 39.5h.64M345.1 41.2h.64M355.2 39.5h.64M376.7 40.0h.64M384.3 33.0h.64M366.3 43.4h.64M347.2 40.3h.64M360.3 39.6h.64M359.8 38.6h.64M348.4 36.3h.64M345.4 33.8h.64M351.9 36.1h.64M346.6 39.3h.64M363.1 42.5h.64M349.3 30.5h.64M356.9 43.8h.64M357.9 34.0h.64M359.0 43.1h.64M352.6 32.0h.64M350.7 39.1h.64M359.3 33.3h.64M347.4 42.1h.64M364.8 40.8h.64M374.4 33.0h.64M381.0 40.2h.64M355.9 41.3h.64M353.4 41.5h.64M352.0 35.0h.64M352.3 29.3h.64M346.7 43.2h.64M358.7 41.0h.64" stroke="#000" stroke-width="0.64" stroke-opacity="0.6" fill="none" filter="url(#sb)"/>
<path d="M366.6 34.5h.64M367.0 41.1h.64M374.2 38.8h.64M371.5 33.6h.64M375.2 42.1h.64M369.5 39.3h.64M371.4 33.5h.64M371.1 38.3h.64M371.3 35.7h.64M373.9 42.8h.64M373.7 44.0h.64M370.1 40.7h.64M376.2 34.2h.64M373.4 41.6h.64M374.4 34.4h.64M370.1 38.8h.64M369.4 35.9h.64M370.6 42.7h.64M371.0 37.6h.64M369.7 44.0h.64M369.6 37.9h.64M373.6 42.4h.64M370.1 39.1h.64M372.2 31.7h.64M371.9 42.7h.64M371.9 35.9h.64M371.6 34.8h.64M369.9 35.5h.64M370.4 40.8h.64M368.4 43.3h.64M373.4 42.8h.64M370.7 37.6h.64M370.6 37.9h.64M370.9 29.9h.64M369.4 39.8h.64M369.1 39.7h.64M370.3 31.9h.64M370.9 35.1h.64M374.6 39.9h.64M371.7 43.9h.64M374.8 42.1h.64M372.2 33.1h.64M370.0 33.7h.64M371.0 32.5h.64M372.2 24.7h.64M370.0 40.1h.64M369.2 41.8h.64M368.5 36.4h.64M372.3 41.4h.64M370.1 35.0h.64M367.6 43.0h.64M371.4 43.4h.64M374.2 30.9h.64M372.9 41.5h.64M374.3 43.8h.64M370.6 38.3h.64M370.1 36.1h.64M368.4 31.7h.64M371.3 32.0h.64M374.7 34.0h.64M368.8 38.8h.64M369.5 33.5h.64M366.1 42.6h.64M370.9 39.6h.64M372.3 32.8h.64M371.8 39.6h.64M369.2 44.1h.64M375.5 41.2h.64M371.6 37.7h.64M369.8 39.6h.64M369.1 36.3h.64M370.0 39.6h.64M372.1 42.2h.64M370.2 39.6h.64M372.3 41.5h.64M371.3 42.0h.64M372.3 40.5h.64M371.7 29.7h.64M371.3 25.3h.64M371.2 41.5h.64M368.5 41.5h.64M373.0 40.1h.64M370.1 38.7h.64M366.9 37.8h.64M372.1 40.4h.64M371.1 33.6h.64M368.3 42.2h.64M369.0 40.1h.64M369.7 41.0h.64M365.0 43.1h.64M367.8 42.0h.64M373.2 44.1h.64M368.9 37.8h.64M373.7 40.2h.64M368.0 38.5h.64M369.8 41.5h.64M367.5 33.3h.64M369.7 24.9h.64M372.9 41.1h.64M368.3 29.8h.64M371.6 41.8h.64M369.8 43.6h.64M371.8 36.6h.64M370.5 32.6h.64M371.2 44.0h.64M369.3 28.4h.64M370.8 37.5h.64M370.6 43.3h.64M374.2 34.8h.64M367.0 41.5h.64" stroke="#000" stroke-width="0.64" stroke-opacity="0.6" fill="none" filter="url(#sb)"/>
<path d="M372.7 44.1h.64M369.2 42.5h.64M372.1 43.3h.64M370.6 40.4h.64M371.6 40.7h.64M368.8 39.1h.64M374.8 42.6h.64M368.9 40.4h.64M371.3 42.5h.64M369.4 39.2h.64M370.1 43.1h.64M371.1 43.3h.64M371.3 41.8h.64M375.0 43.4h.64M374.5 44.1h.64M371.1 40.8h.64M370.1 41.1h.64M371.7 42.4h.64M370.7 37.4h.64M372.4 40.9h.64M370.8 38.3h.64M373.4 44.1h.64M369.7 39.6h.64M373.4 40.5h.64M372.7 38.3h.64M372.5 44.1h.64M370.2 44.1h.64M371.4 44.1h.64M371.9 40.3h.64M371.2 43.1h.64M371.6 43.1h.64M369.1 39.1h.64M370.8 40.2h.64M371.5 42.2h.64M369.1 43.2h.64M372.5 44.1h.64M369.5 44.1h.64M368.8 40.4h.64M369.0 42.9h.64M370.3 43.2h.64M372.2 37.4h.64M367.6 44.1h.64M372.6 44.1h.64M371.4 43.2h.64M371.4 44.1h.64M371.9 41.7h.64M369.8 42.2h.64M369.2 44.1h.64M370.7 41.7h.64M368.5 43.3h.64M372.5 41.2h.64M369.1 38.2h.64M369.4 41.9h.64M368.4 41.1h.64M373.5 40.4h.64M370.3 43.5h.64M369.3 41.0h.64M369.7 42.7h.64M365.7 39.9h.64M370.5 41.5h.64" stroke="#000" stroke-width="0.64" stroke-opacity="0.75" fill="none" filter="url(#sb)"/>
<path d="M349.3 30.4h.64M346.8 27.9h.64M358.0 26.1h.64M350.8 27.1h.64M358.5 29.4h.64M349.8 26.2h.64M349.9 28.3h.64M350.2 28.7h.64M356.5 28.7h.64M351.6 28.2h.64M361.1 28.3h.64M363.9 25.2h.64M361.2 26.9h.64M357.4 25.0h.64M349.1 27.0h.64M349.3 26.5h.64M353.4 22.0h.64M353.6 25.3h.64M350.4 21.7h.64M365.1 23.1h.64M350.9 24.9h.64M359.2 25.4h.64M353.4 26.9h.64M347.2 21.5h.64M358.7 30.9h.64M349.4 25.0h.64M350.5 27.1h.64M349.0 29.6h.64M356.7 20.3h.64M347.3 28.0h.64M354.1 32.8h.64M354.7 23.5h.64M347.7 24.6h.64M358.1 20.6h.64M355.9 25.2h.64M349.4 30.8h.64M348.8 24.2h.64M360.0 27.0h.64M350.3 26.5h.64M351.8 23.5h.64M359.5 25.1h.64M355.9 27.6h.64M348.1 30.1h.64M352.9 29.4h.64M351.8 28.2h.64M353.7 33.2h.64M357.6 27.1h.64M351.4 23.6h.64M352.4 22.5h.64M347.0 26.3h.64M357.6 29.8h.64M347.7 25.1h.64M353.4 24.3h.64M352.5 24.2h.64M350.2 27.0h.64M353.5 28.5h.64M356.7 23.3h.64M353.6 30.2h.64M349.5 30.3h.64M357.5 23.9h.64M349.4 25.0h.64M349.9 23.8h.64M358.2 29.0h.64M350.6 25.4h.64M353.9 28.2h.64M363.2 21.6h.64M364.6 21.5h.64M356.7 28.4h.64M349.2 23.9h.64M354.9 29.8h.64M360.6 25.7h.64M352.4 23.7h.64M351.6 18.7h.64M361.8 24.8h.64M355.0 22.0h.64M356.0 28.5h.64M359.5 20.1h.64M354.7 23.8h.64M355.0 29.5h.64M352.4 31.2h.64M351.8 18.8h.64M356.9 30.8h.64M350.5 26.0h.64M349.8 26.1h.64M353.6 26.2h.64M354.4 30.6h.64M358.1 23.2h.64M351.8 30.7h.64M352.7 21.9h.64M357.0 21.7h.64M352.0 27.8h.64M346.7 26.7h.64M354.4 20.8h.64M352.8 22.3h.64M348.9 26.4h.64M357.6 31.1h.64M361.9 25.5h.64M362.4 29.8h.64M350.8 30.5h.64M357.2 32.8h.64M353.8 29.7h.64M364.6 28.9h.64M349.9 24.3h.64M355.4 32.0h.64M349.9 22.4h.64M350.0 30.9h.64M356.2 22.2h.64M353.6 29.1h.64M353.0 27.0h.64M354.2 20.1h.64M361.1 25.8h.64M360.2 24.7h.64M358.1 27.4h.64M347.7 22.6h.64M355.2 29.4h.64M352.6 25.2h.64M357.7 22.9h.64M345.7 25.6h.64M356.7 21.5h.64M350.4 27.0h.64M349.8 27.1h.64M358.2 32.3h.64M352.0 31.1h.64M353.4 30.7h.64M349.4 22.4h.64M351.8 25.0h.64M349.3 23.0h.64M352.0 23.9h.64M353.2 25.7h.64M353.3 27.7h.64M357.0 32.0h.64M353.6 27.5h.64M354.1 29.4h.64M355.2 28.4h.64M347.8 28.5h.64M351.8 28.8h.64M346.8 27.2h.64M356.0 28.1h.64M356.7 27.4h.64M349.4 27.2h.64M347.3 27.6h.64M353.2 20.6h.64M351.1 20.7h.64M357.7 23.9h.64M359.7 28.4h.64M352.9 22.7h.64M358.0 30.2h.64M360.4 27.0h.64M356.5 26.9h.64M356.0 20.3h.64M349.8 28.6h.64M360.5 30.5h.64M352.1 30.3h.64M362.3 29.8h.64M354.9 23.0h.64M353.5 25.6h.64M351.1 22.3h.64M350.9 27.8h.64M355.7 26.7h.64M354.8 26.3h.64M356.3 21.2h.64M357.7 21.6h.64M352.9 23.7h.64M350.5 26.1h.64M354.0 24.2h.64M357.3 26.2h.64M353.2 29.0h.64M363.8 27.7h.64M354.6 25.8h.64M353.6 23.8h.64M354.7 24.7h.64M351.7 20.9h.64M354.4 24.7h.64M351.5 27.2h.64M356.1 32.0h.64M359.6 23.1h.64M351.6 29.3h.64M353.5 27.6h.64M360.0 27.9h.64M354.8 26.1h.64M350.6 29.0h.64M350.4 24.4h.64M352.3 26.9h.64M354.6 27.8h.64M354.5 30.6h.64M359.1 32.3h.64M353.0 32.6h.64M356.2 24.9h.64M352.0 31.3h.64M346.1 27.5h.64M356.8 27.2h.64M351.8 25.1h.64M354.1 26.2h.64M351.0 24.2h.64M348.7 21.1h.64M350.2 29.1h.64M347.1 26.2h.64M356.6 23.8h.64M359.2 31.4h.64M358.6 23.2h.64M348.5 30.4h.64M354.9 23.8h.64M353.8 21.2h.64M355.2 23.7h.64M355.6 31.1h.64M352.1 24.9h.64M349.5 31.0h.64M352.1 22.3h.64M347.6 29.1h.64M351.7 21.8h.64M361.0 29.5h.64M356.1 18.9h.64M356.4 31.5h.64M351.1 22.5h.64M353.6 27.5h.64M351.4 24.8h.64M352.8 25.4h.64M360.7 23.7h.64M353.3 22.5h.64M355.8 24.0h.64M350.8 21.1h.64M349.3 23.4h.64M354.2 22.3h.64M350.5 22.6h.64M349.3 29.6h.64M351.6 24.3h.64M352.9 24.3h.64M346.8 26.4h.64M351.4 18.7h.64M355.9 27.2h.64M350.7 21.7h.64M352.5 23.3h.64M358.3 32.0h.64M358.7 21.0h.64M353.3 19.3h.64M354.1 29.1h.64M354.1 28.6h.64M357.1 27.6h.64M352.8 28.7h.64M347.5 26.8h.64M352.9 24.1h.64M350.2 20.5h.64M354.0 27.7h.64M358.6 26.8h.64M354.7 29.7h.64M358.7 18.4h.64M355.4 24.4h.64M347.2 24.4h.64M349.5 28.0h.64M356.0 20.2h.64M347.8 25.2h.64M351.2 24.8h.64M355.4 25.6h.64M359.5 30.0h.64M358.0 28.1h.64M361.6 25.2h.64M360.4 28.5h.64M349.1 25.9h.64M351.7 31.9h.64M347.0 27.6h.64M350.9 28.2h.64M354.9 26.4h.64M358.0 26.5h.64M349.4 30.7h.64M357.8 32.6h.64M349.6 30.5h.64M354.7 19.6h.64M356.8 20.7h.64M354.3 27.5h.64M356.4 23.9h.64M354.4 26.8h.64M359.5 24.0h.64M359.5 21.0h.64M358.3 25.3h.64M348.4 24.1h.64M352.8 22.9h.64M356.9 20.1h.64M349.0 28.1h.64M353.8 18.2h.64M356.9 29.3h.64M347.2 27.5h.64M363.2 22.6h.64M353.0 28.1h.64M351.6 25.1h.64M354.9 22.0h.64M353.5 31.1h.64M348.0 22.2h.64M347.6 28.8h.64M353.0 30.5h.64M345.7 24.1h.64M354.9 28.7h.64M359.1 27.5h.64M351.6 30.4h.64M357.9 31.3h.64M357.7 29.0h.64M350.4 23.9h.64M346.8 29.3h.64M360.6 29.5h.64M353.0 24.6h.64M347.3 21.4h.64M354.2 32.3h.64M353.2 31.4h.64M356.7 29.1h.64M353.5 23.6h.64M354.6 29.3h.64M352.5 26.5h.64M351.0 24.4h.64M354.4 30.1h.64M349.6 30.9h.64M353.9 25.6h.64M358.7 29.8h.64M347.0 27.9h.64M356.3 27.5h.64M350.9 23.4h.64M358.3 29.7h.64M351.5 19.4h.64M356.7 27.6h.64M353.0 24.0h.64M356.1 27.0h.64M356.7 29.5h.64M354.5 30.9h.64M360.8 23.9h.64M353.3 27.3h.64M353.4 27.4h.64M350.0 29.2h.64M348.4 25.6h.64M348.6 24.8h.64M349.7 22.7h.64M353.7 22.1h.64M353.5 29.8h.64M360.3 29.1h.64M351.8 25.3h.64M352.6 25.9h.64M345.7 25.3h.64M355.7 26.6h.64M358.6 28.2h.64M355.4 19.8h.64M347.7 26.2h.64M355.8 30.7h.64M352.6 25.7h.64M353.8 31.1h.64M355.5 19.8h.64M347.1 26.5h.64M356.1 26.0h.64M359.3 26.1h.64M351.9 30.5h.64M357.9 28.8h.64M351.4 27.3h.64M359.5 19.1h.64M353.7 29.0h.64M360.0 24.5h.64M358.8 26.3h.64M349.9 25.0h.64M355.1 28.9h.64M352.4 22.7h.64M356.1 23.8h.64M358.1 21.3h.64M359.3 26.0h.64M361.1 20.8h.64M359.1 27.2h.64M356.0 32.9h.64M347.1 27.3h.64M356.6 29.0h.64M352.6 22.0h.64M349.9 21.5h.64M353.6 27.1h.64M352.9 18.8h.64M356.2 29.6h.64M352.1 23.2h.64M353.2 28.4h.64M351.2 25.5h.64M348.9 28.7h.64M352.3 25.5h.64M356.1 27.8h.64M359.8 29.3h.64M350.0 21.4h.64M363.4 27.8h.64M353.5 21.8h.64M348.8 24.3h.64M349.9 25.4h.64M359.6 24.7h.64M350.8 31.9h.64M358.9 28.6h.64M357.8 28.9h.64M350.2 20.8h.64M350.3 27.6h.64M352.5 21.8h.64M353.4 26.8h.64M351.2 29.2h.64M352.1 21.2h.64M359.4 22.5h.64M351.8 29.9h.64M350.6 30.6h.64M355.1 27.9h.64M359.1 31.5h.64M360.7 24.6h.64M354.9 25.5h.64M350.6 23.4h.64M349.0 31.0h.64M349.0 22.4h.64M357.2 32.8h.64M349.9 25.8h.64M355.6 27.9h.64M355.0 30.7h.64M351.4 29.7h.64M352.6 25.9h.64M357.1 32.4h.64M351.2 30.7h.64M351.3 32.2h.64M357.5 31.7h.64M352.0 23.7h.64M348.6 29.4h.64M351.9 32.5h.64M353.4 24.4h.64M359.3 32.1h.64M355.2 29.9h.64M346.3 24.0h.64M352.3 19.9h.64M360.1 19.2h.64M349.0 26.3h.64M353.1 24.6h.64M358.4 24.3h.64M351.7 24.3h.64M355.0 22.6h.64M354.1 24.8h.64M349.6 19.7h.64M360.6 30.6h.64M350.3 26.4h.64M354.0 23.0h.64M350.0 24.3h.64M359.9 25.7h.64M354.8 30.3h.64M359.2 30.1h.64M361.3 26.3h.64M358.7 24.7h.64M356.5 26.0h.64M365.1 23.3h.64M355.5 21.6h.64M355.9 23.7h.64M360.9 23.4h.64M352.0 28.5h.64M356.9 27.4h.64M351.5 31.9h.64M351.9 22.2h.64M354.5 33.2h.64M360.7 26.1h.64M350.0 21.0h.64M360.6 21.6h.64M350.5 26.4h.64M358.5 25.0h.64M356.6 25.7h.64M355.0 29.5h.64M349.0 25.2h.64M359.9 28.2h.64M355.6 26.5h.64M353.9 23.1h.64M356.0 23.8h.64M360.0 23.2h.64M356.4 23.6h.64M355.8 24.9h.64M356.8 26.2h.64M354.6 26.4h.64M357.8 24.3h.64M351.4 32.0h.64M361.2 20.9h.64M348.2 23.1h.64M349.0 22.1h.64M347.7 28.0h.64M345.6 26.7h.64M353.6 27.9h.64M349.5 21.1h.64M360.8 22.8h.64M356.2 24.3h.64M358.4 27.0h.64M351.8 32.5h.64M353.3 25.0h.64M348.9 22.4h.64M356.1 33.4h.64M351.2 25.4h.64M360.6 27.4h.64M361.6 20.3h.64M358.2 24.1h.64M354.0 23.6h.64M357.6 23.8h.64M357.8 24.5h.64M357.8 28.8h.64M353.3 27.1h.64M357.0 27.9h.64M358.8 26.6h.64M358.6 28.9h.64M354.1 26.2h.64M355.1 27.3h.64M356.7 19.3h.64M356.2 21.3h.64M354.2 23.3h.64M361.7 29.0h.64M355.9 25.8h.64M349.5 24.3h.64M352.7 30.4h.64M349.1 30.4h.64M352.2 27.2h.64M357.8 28.9h.64M356.3 28.7h.64M354.1 26.2h.64M357.6 23.9h.64M361.0 24.6h.64M351.4 21.1h.64M354.9 26.7h.64M350.5 32.3h.64M353.9 22.5h.64M357.3 28.6h.64M357.9 26.3h.64M354.9 29.3h.64M356.2 17.9h.64M347.7 28.3h.64M353.0 28.4h.64M354.8 24.3h.64M350.4 30.3h.64M348.4 25.7h.64M355.8 29.7h.64M360.6 32.5h.64M357.0 26.2h.64M356.6 26.5h.64M353.1 29.8h.64M352.5 32.4h.64M357.8 29.6h.64M352.3 25.8h.64M357.0 27.4h.64M345.9 27.0h.64M363.3 29.5h.64M355.4 25.8h.64M353.8 25.0h.64M348.6 24.2h.64M357.6 23.2h.64M348.9 24.9h.64M351.2 28.3h.64M352.1 25.1h.64M357.7 28.5h.64M358.4 30.2h.64M355.9 25.0h.64M350.7 28.3h.64M358.5 24.8h.64M354.3 27.5h.64M361.5 21.9h.64M361.3 28.6h.64M353.8 27.4h.64M357.5 30.1h.64M356.4 25.2h.64M348.2 27.1h.64M354.0 26.4h.64M352.9 27.3h.64M360.0 31.4h.64M346.7 27.9h.64M363.3 26.7h.64M359.0 30.2h.64M352.2 29.1h.64M354.5 30.0h.64M357.4 31.2h.64M356.5 31.8h.64M358.9 23.3h.64M359.0 28.6h.64M358.7 30.3h.64M356.2 29.3h.64M351.1 23.9h.64M350.0 28.0h.64M351.3 20.5h.64M350.4 27.8h.64M358.1 21.2h.64M354.1 26.6h.64M352.3 20.3h.64M354.1 22.8h.64M352.7 30.3h.64M347.8 23.6h.64M361.6 22.6h.64M361.3 21.7h.64M354.0 24.4h.64M350.6 26.6h.64M354.8 29.7h.64M355.5 31.3h.64M349.9 19.9h.64M349.4 26.7h.64M358.7 27.7h.64M352.9 25.6h.64M346.9 25.9h.64M348.1 23.7h.64M351.7 21.8h.64M352.7 28.2h.64M348.3 25.9h.64M351.2 30.1h.64M358.0 26.3h.64M356.1 28.0h.64M360.7 21.8h.64M357.3 27.7h.64M359.6 29.4h.64M354.8 26.3h.64M359.5 21.9h.64M350.4 24.6h.64M350.4 22.2h.64M357.0 25.7h.64M357.0 30.4h.64" stroke="#000" stroke-width="0.64" stroke-opacity="0.42" fill="none" filter="url(#sb)"/>
<ellipse cx="345.7" cy="27.4" rx="2.2" ry="3.69" fill="#000" opacity="0.49" filter="url(#sb2)"/>
<ellipse cx="355.8" cy="25.4" rx="10.8" ry="8.2" fill="none" stroke="#000" stroke-width="1.2"/>
<rect x="344.2" y="9.5" width="53.1" height="35.1" fill="none" stroke="#333" stroke-width="0.7"/>
<text x="395.8" y="13.95" font-size="4.25" text-anchor="end" font-weight="bold" fill="#111" dominant-baseline="central" stroke="#111" stroke-width="0.18">AMD3100 + FTY720</text>
<text x="395.8" y="19.05" font-size="4.25" text-anchor="end" font-weight="bold" fill="#111" dominant-baseline="central" stroke="#111" stroke-width="0.18">1 month</text>
<text x="396" y="26.35" font-size="5.5" text-anchor="end" font-weight="bold" fill="#111" dominant-baseline="central" stroke="#111" stroke-width="0.18" textLength="10.01" lengthAdjust="spacingAndGlyphs">45%</text>
<text x="286.4" y="88.5" font-size="2.4" font-weight="bold" text-anchor="middle" dominant-baseline="central" fill="#222">10<tspan font-size="1.68" dy="-0.8">0</tspan></text>
<text x="299.5" y="88.5" font-size="2.4" font-weight="bold" text-anchor="middle" dominant-baseline="central" fill="#222">10<tspan font-size="1.68" dy="-0.8">1</tspan></text>
<text x="312.6" y="88.5" font-size="2.4" font-weight="bold" text-anchor="middle" dominant-baseline="central" fill="#222">10<tspan font-size="1.68" dy="-0.8">2</tspan></text>
<text x="325.7" y="88.5" font-size="2.4" font-weight="bold" text-anchor="middle" dominant-baseline="central" fill="#222">10<tspan font-size="1.68" dy="-0.8">3</tspan></text>
<text x="338.8" y="88.5" font-size="2.4" font-weight="bold" text-anchor="middle" dominant-baseline="central" fill="#222">10<tspan font-size="1.68" dy="-0.8">4</tspan></text>
<path d="M317.0 71.2h.60M309.6 62.8h.60M318.7 59.8h.60M315.0 64.7h.60M312.1 75.6h.60M314.6 60.7h.60M318.8 70.9h.60M310.3 62.4h.60M315.7 66.4h.60M307.4 66.4h.60M307.0 58.1h.60M318.5 71.6h.60M313.4 68.2h.60M317.5 68.8h.60M312.4 60.8h.60M319.4 69.4h.60M313.3 74.8h.60M316.4 62.1h.60M310.2 72.5h.60M311.2 64.5h.60M317.6 70.1h.60M313.1 71.2h.60M317.1 71.1h.60M307.7 67.0h.60M310.3 65.4h.60M306.4 58.8h.60M320.2 61.3h.60M316.4 60.1h.60M308.7 57.8h.60M316.6 68.5h.60M320.4 67.9h.60M309.9 67.5h.60M309.1 58.2h.60M311.1 68.5h.60M314.9 66.5h.60M312.7 70.6h.60M321.3 67.8h.60M310.3 71.7h.60M311.4 66.7h.60M306.5 63.3h.60M313.8 72.4h.60M313.3 71.9h.60M319.5 66.1h.60M319.3 70.7h.60M313.1 74.4h.60M314.0 73.2h.60M314.0 77.3h.60M313.5 65.1h.60M316.9 75.9h.60M304.6 63.4h.60M306.2 76.8h.60M312.7 71.0h.60M312.0 62.0h.60M308.7 68.2h.60M313.3 75.1h.60M319.3 64.9h.60M309.9 61.5h.60M309.4 68.6h.60M314.4 63.3h.60M313.4 72.9h.60M318.1 64.7h.60M309.5 56.6h.60M318.4 66.6h.60M313.6 69.0h.60M312.6 58.0h.60M321.6 76.5h.60M319.9 62.8h.60M313.8 62.5h.60M309.2 63.3h.60M313.7 71.7h.60M310.4 69.1h.60M309.3 80.4h.60M312.9 63.5h.60M315.0 70.8h.60M313.3 69.1h.60M308.7 69.3h.60M309.1 57.4h.60M314.1 79.3h.60M309.9 67.9h.60M319.0 68.5h.60M310.9 71.5h.60M315.8 72.7h.60M317.5 74.6h.60M316.9 59.2h.60M310.6 75.2h.60M311.3 61.8h.60M321.1 62.6h.60M317.4 63.4h.60M317.4 68.2h.60M315.7 61.9h.60M311.7 72.7h.60M317.8 61.7h.60M317.2 68.9h.60M313.7 67.3h.60M321.8 63.7h.60M306.1 71.1h.60M315.6 68.9h.60M311.0 68.2h.60M310.9 59.0h.60M319.1 66.5h.60M308.5 57.9h.60M315.5 67.6h.60M316.7 73.0h.60M317.9 73.8h.60M320.7 68.4h.60M315.2 63.6h.60M310.3 73.7h.60M313.4 60.9h.60M310.7 60.9h.60M313.5 69.0h.60M315.9 69.7h.60M310.4 69.4h.60M308.2 74.8h.60M313.9 68.9h.60M308.1 56.4h.60M315.6 61.5h.60M317.4 63.6h.60M308.3 67.5h.60M313.0 61.2h.60M316.9 67.6h.60M316.3 65.0h.60" stroke="#333" stroke-width="0.6" stroke-opacity="0.45" fill="none" filter="url(#sb)"/>
<path d="M295.7 85.0h.64M294.6 82.1h.64M315.7 74.6h.64M300.9 79.0h.64M308.0 77.1h.64M319.5 82.1h.64M302.2 84.1h.64M307.5 81.1h.64M298.0 79.9h.64M295.9 82.3h.64M294.9 82.1h.64M305.5 79.4h.64M304.5 75.8h.64M290.9 80.2h.64M286.6 78.3h.64M311.7 80.5h.64M314.6 85.6h.64M306.2 75.8h.64M303.1 85.4h.64M320.4 76.7h.64M295.9 85.8h.64M291.6 78.7h.64M286.9 76.5h.64M297.5 79.8h.64M305.7 82.7h.64M309.5 81.5h.64M288.2 72.0h.64M290.0 85.3h.64M305.8 71.5h.64M298.7 69.9h.64M294.5 80.9h.64M298.6 82.4h.64M289.5 85.5h.64M312.2 80.0h.64M302.4 84.2h.64M292.5 77.8h.64M313.7 85.4h.64M287.4 71.3h.64M307.4 85.1h.64M288.2 83.1h.64M289.5 79.4h.64M289.7 80.2h.64M312.4 79.5h.64M287.8 73.3h.64M288.8 76.0h.64M316.8 77.1h.64M294.5 85.5h.64M299.0 79.6h.64M309.3 81.8h.64M317.5 79.7h.64M290.3 82.1h.64M286.6 79.6h.64M287.6 83.8h.64M287.0 83.4h.64M299.8 86.1h.64M292.5 81.1h.64M316.8 79.0h.64M289.2 86.0h.64M287.0 76.8h.64M302.3 79.1h.64M290.3 70.4h.64M288.2 79.9h.64M309.7 74.5h.64M304.7 74.6h.64M294.7 76.1h.64M303.3 78.4h.64M295.0 70.5h.64M308.4 72.9h.64M295.1 70.7h.64M302.7 84.8h.64M293.3 79.8h.64M327.6 79.4h.64M296.5 84.3h.64M312.9 84.2h.64M317.5 80.1h.64M296.5 82.2h.64M287.5 71.4h.64M300.4 80.6h.64M288.3 80.8h.64M312.2 83.3h.64M294.4 84.3h.64M291.5 81.1h.64M292.4 73.9h.64M296.9 82.7h.64M289.3 76.7h.64M298.0 80.1h.64M315.1 81.0h.64M290.9 76.9h.64M288.5 80.2h.64M291.8 86.0h.64M289.2 80.0h.64M297.6 70.6h.64M293.9 81.8h.64M324.9 84.6h.64M313.3 82.6h.64M311.1 78.5h.64M308.8 72.2h.64M294.8 80.6h.64M289.5 82.1h.64M293.2 84.2h.64M294.8 73.6h.64M315.6 79.2h.64M298.4 81.6h.64M288.9 83.7h.64M292.5 80.5h.64M296.4 79.7h.64M287.1 78.3h.64M296.7 78.7h.64M302.0 84.9h.64M308.9 72.4h.64M290.5 82.9h.64M301.5 83.5h.64M306.0 82.8h.64M325.4 81.3h.64M319.5 84.2h.64M317.8 79.7h.64M304.1 77.1h.64M308.2 77.8h.64M298.0 82.6h.64M292.3 84.9h.64M306.1 81.7h.64M315.5 80.8h.64M293.9 84.3h.64M286.7 74.2h.64M291.4 72.5h.64M303.3 85.7h.64M293.0 85.8h.64M291.6 82.1h.64M288.4 75.1h.64M300.4 83.1h.64M303.8 77.6h.64M313.9 81.8h.64M289.0 84.9h.64M290.3 86.0h.64M302.9 82.1h.64M293.3 83.3h.64M298.1 81.6h.64M290.8 83.4h.64M311.7 84.4h.64M301.3 73.3h.64M297.7 85.6h.64M320.0 84.8h.64M289.1 83.1h.64M290.7 81.2h.64M287.1 78.2h.64M287.4 73.3h.64M304.5 81.8h.64M288.4 85.5h.64M293.6 79.1h.64M299.1 80.9h.64M305.4 83.9h.64M294.5 72.3h.64M303.4 76.6h.64M320.9 72.5h.64M293.5 85.8h.64M288.3 75.1h.64M292.9 83.9h.64M289.3 83.3h.64M299.8 83.7h.64M290.0 76.7h.64M290.6 81.7h.64M294.7 81.4h.64M294.4 84.2h.64M300.6 70.7h.64M296.5 79.3h.64M291.4 85.9h.64M289.2 76.5h.64M286.5 73.2h.64M316.6 86.1h.64M288.0 86.0h.64M292.4 75.1h.64M287.9 84.1h.64M297.9 85.2h.64M288.9 78.6h.64M308.7 75.3h.64M302.8 81.9h.64M296.0 84.7h.64M299.0 81.2h.64M328.2 81.0h.64M311.2 74.6h.64M307.7 85.7h.64M308.2 78.0h.64M287.6 83.3h.64M306.4 70.2h.64M311.9 83.6h.64M296.5 83.1h.64M296.8 77.8h.64M295.2 74.5h.64M297.2 70.3h.64M289.6 75.6h.64M289.2 85.6h.64M291.6 79.9h.64M301.2 74.3h.64M300.9 71.8h.64M312.9 85.0h.64M292.6 73.6h.64M302.6 82.4h.64M293.8 77.2h.64M298.1 72.3h.64M296.8 85.3h.64M294.6 82.5h.64M292.2 85.0h.64M290.0 77.9h.64M308.9 83.7h.64M287.3 82.8h.64M299.2 85.6h.64M288.7 79.8h.64M309.5 83.9h.64M294.8 81.2h.64M306.4 75.4h.64M298.8 79.4h.64M310.2 78.1h.64M288.9 74.3h.64M293.4 76.5h.64M292.3 75.1h.64M309.0 84.6h.64M288.8 82.3h.64M300.7 74.4h.64M292.1 85.3h.64M309.6 73.7h.64M306.1 74.6h.64M295.5 82.9h.64M315.7 71.8h.64M302.3 71.0h.64M311.5 85.6h.64M295.5 82.5h.64M288.5 83.9h.64M291.0 82.0h.64M300.1 85.4h.64M287.3 84.3h.64M292.2 84.2h.64M321.3 82.5h.64M291.4 79.0h.64M323.5 70.8h.64M291.3 76.3h.64M295.8 83.6h.64M290.2 75.8h.64M289.0 73.1h.64M321.9 83.7h.64M291.3 85.3h.64M290.0 79.0h.64M302.7 77.4h.64M286.8 71.3h.64M293.8 77.4h.64M292.1 75.0h.64M288.9 85.4h.64M300.9 70.7h.64M289.6 79.5h.64M287.3 85.3h.64M311.5 73.3h.64M288.8 73.4h.64M308.6 85.3h.64M289.5 74.6h.64M307.8 74.2h.64M297.6 83.6h.64M288.9 78.3h.64M287.0 77.8h.64M311.4 76.8h.64M313.1 77.4h.64M290.4 85.7h.64M290.1 79.5h.64M297.4 78.6h.64M298.1 85.6h.64M287.9 77.5h.64M287.2 80.0h.64M304.3 80.6h.64M306.5 75.6h.64M287.4 84.0h.64M289.3 83.0h.64M303.7 84.1h.64M299.7 71.5h.64M296.6 82.0h.64M310.9 78.8h.64M299.0 79.0h.64M304.6 79.7h.64M293.8 80.2h.64M293.5 77.2h.64M291.2 75.0h.64M307.3 85.0h.64M292.6 70.4h.64M291.0 75.5h.64M302.5 84.5h.64M297.0 81.9h.64M296.0 82.5h.64M304.6 85.7h.64M290.6 79.7h.64M316.5 79.1h.64M293.1 85.0h.64M291.9 75.3h.64M301.5 76.0h.64M305.1 85.7h.64M297.7 80.2h.64M293.0 77.1h.64M297.2 85.0h.64M286.5 77.5h.64M288.2 85.5h.64M303.7 78.7h.64M310.3 71.7h.64M291.6 84.8h.64M298.0 85.4h.64M288.0 84.4h.64M298.9 76.6h.64M293.7 82.4h.64M301.1 79.2h.64M318.8 83.2h.64M289.7 84.4h.64M297.6 82.9h.64M287.8 83.2h.64M315.0 72.5h.64M293.3 84.8h.64M300.9 79.2h.64M290.6 81.0h.64M311.7 78.6h.64M315.9 78.8h.64M293.3 84.1h.64M294.1 71.1h.64M305.4 74.2h.64M288.5 84.5h.64M305.7 80.0h.64M305.6 83.1h.64M304.9 82.5h.64M299.5 82.2h.64M296.7 80.5h.64M299.6 85.5h.64M309.2 77.3h.64M290.3 83.6h.64M308.3 80.3h.64M304.5 79.9h.64M296.7 76.9h.64M314.1 82.1h.64M295.1 74.8h.64M301.3 75.7h.64M292.4 81.2h.64M292.5 72.6h.64M303.3 81.5h.64M287.1 79.2h.64M312.6 85.6h.64M290.0 77.1h.64M306.8 83.1h.64M308.7 80.9h.64M299.3 79.9h.64M292.8 85.8h.64M302.3 77.3h.64M317.6 85.0h.64M320.5 77.3h.64M329.1 76.6h.64M288.7 84.4h.64M288.8 76.6h.64M290.9 82.1h.64M301.5 81.4h.64M286.9 77.4h.64M297.1 81.5h.64M306.5 76.4h.64M304.4 80.5h.64M302.4 85.1h.64M304.9 72.4h.64M291.2 82.8h.64M289.1 84.8h.64M302.5 71.0h.64M289.4 78.8h.64M304.8 78.0h.64M307.4 78.8h.64M294.6 79.0h.64M296.0 81.9h.64M294.7 83.9h.64M293.0 79.9h.64M325.4 85.0h.64M293.3 71.9h.64M301.6 80.7h.64M289.3 83.1h.64M308.7 83.4h.64M293.7 75.1h.64M289.6 77.7h.64M291.2 76.4h.64M287.7 79.4h.64M287.0 85.2h.64M287.1 81.5h.64M308.5 86.0h.64M301.1 83.4h.64M288.6 85.7h.64M318.5 82.5h.64M298.1 74.2h.64M317.2 70.7h.64M288.6 82.2h.64M296.9 80.6h.64M290.6 75.1h.64M299.2 77.9h.64M289.0 84.9h.64M289.9 83.6h.64M287.2 75.1h.64M309.1 85.2h.64M317.6 84.5h.64M299.9 77.4h.64M302.4 77.8h.64M302.7 82.1h.64M301.5 73.8h.64M294.1 84.1h.64M286.8 79.3h.64M291.9 74.0h.64M297.2 76.8h.64M312.0 80.6h.64M299.6 81.3h.64M306.0 76.8h.64M286.5 81.3h.64M288.9 77.7h.64M297.4 77.0h.64M305.9 80.3h.64M313.5 82.4h.64M293.5 84.0h.64M307.9 72.4h.64M300.2 75.2h.64M309.9 79.7h.64M292.2 80.4h.64M287.9 74.7h.64M292.9 84.2h.64M317.0 79.9h.64M291.0 71.1h.64M290.2 71.6h.64M304.9 82.1h.64M296.1 83.0h.64M298.9 79.1h.64M286.6 78.2h.64M310.1 73.0h.64M304.3 83.5h.64M316.5 85.6h.64M301.0 83.2h.64M294.0 83.3h.64M295.8 85.7h.64M301.4 78.4h.64M287.8 76.6h.64M290.9 78.1h.64M307.1 85.9h.64M286.9 81.9h.64M295.6 76.4h.64M306.2 83.6h.64M296.3 81.6h.64M292.4 76.6h.64M289.4 80.6h.64M288.3 85.1h.64M303.2 77.8h.64M289.5 70.9h.64M308.0 75.7h.64M286.7 75.1h.64M303.6 84.9h.64M290.7 77.9h.64M306.5 81.0h.64M296.9 83.4h.64M289.1 78.9h.64M293.7 73.3h.64M291.6 72.0h.64M307.2 78.2h.64" stroke="#000" stroke-width="0.64" stroke-opacity="0.6" fill="none" filter="url(#sb)"/>
<path d="M315.3 85.1h.64M309.4 74.5h.64M316.1 69.2h.64M312.3 84.8h.64M317.6 85.0h.64M311.8 83.6h.64M311.9 80.0h.64M313.5 82.5h.64M310.8 80.5h.64M312.6 78.5h.64M315.9 85.9h.64M312.0 67.9h.64M313.2 83.5h.64M312.3 74.6h.64M310.5 83.9h.64M316.3 82.7h.64M310.6 84.7h.64M309.4 78.8h.64M312.4 81.1h.64M313.6 78.5h.64M314.0 75.8h.64M312.9 85.8h.64M310.4 83.1h.64M308.5 81.7h.64M310.0 64.0h.64M311.7 76.8h.64M312.0 77.5h.64M315.5 77.0h.64M310.8 83.8h.64M315.2 83.3h.64M312.7 79.9h.64M310.9 75.9h.64M312.9 77.0h.64M311.5 77.9h.64M313.0 81.4h.64M317.8 77.1h.64M312.1 78.8h.64M312.4 81.1h.64M312.8 76.9h.64M315.4 85.6h.64M308.8 75.7h.64M311.0 80.7h.64M311.1 69.2h.64M314.8 67.9h.64M311.6 83.7h.64M310.3 83.6h.64M312.8 83.4h.64M313.9 79.2h.64M311.7 85.8h.64M311.9 69.6h.64M310.4 72.8h.64M313.6 76.6h.64M313.0 79.1h.64M312.4 79.0h.64M311.6 84.4h.64M311.7 80.6h.64M317.7 82.8h.64M313.1 64.7h.64M309.7 83.5h.64M313.0 76.4h.64M314.8 78.4h.64M310.4 81.6h.64M312.3 70.2h.64M312.9 77.3h.64M313.9 86.0h.64M314.3 85.7h.64M311.6 80.2h.64M308.5 83.0h.64M310.3 74.2h.64M311.9 83.3h.64M308.8 80.7h.64M318.0 85.1h.64M315.5 69.4h.64M312.1 85.0h.64M315.7 80.8h.64M312.0 81.1h.64M310.8 84.3h.64M311.9 75.6h.64M314.1 75.2h.64M316.4 78.4h.64M310.8 69.4h.64M316.0 85.1h.64M307.5 83.1h.64M309.1 84.2h.64M311.6 69.9h.64M312.5 81.0h.64M312.1 79.5h.64M310.9 81.9h.64" stroke="#000" stroke-width="0.64" stroke-opacity="0.6" fill="none" filter="url(#sb)"/>
<path d="M295.4 66.6h.64M303.4 65.8h.64M288.3 64.1h.64M287.9 66.5h.64M300.9 64.9h.64M302.2 68.9h.64M289.9 68.6h.64M294.7 68.7h.64M289.4 67.9h.64M299.7 71.5h.64M294.9 71.2h.64M300.7 70.9h.64M301.3 70.2h.64M295.5 66.9h.64M297.5 67.7h.64M294.4 69.0h.64M292.5 69.5h.64M291.0 62.9h.64M294.0 71.5h.64M287.4 68.7h.64M292.7 66.8h.64M295.9 71.3h.64M292.9 61.1h.64M298.3 64.8h.64M296.6 68.5h.64M291.5 65.7h.64M292.0 68.5h.64M294.3 68.9h.64M298.9 70.1h.64M301.8 72.9h.64M288.2 65.3h.64M304.8 72.9h.64M295.0 68.8h.64M295.1 67.8h.64M293.2 68.6h.64M293.1 68.6h.64M291.9 71.3h.64M299.3 69.3h.64M295.0 68.0h.64M295.0 69.3h.64M297.7 66.8h.64M301.1 70.5h.64M297.9 70.7h.64M294.5 65.6h.64M288.6 69.6h.64M305.9 68.7h.64M293.8 65.8h.64M303.5 70.8h.64M289.9 67.2h.64M298.1 63.8h.64M301.5 70.5h.64M296.1 68.7h.64M300.4 68.8h.64M291.4 72.7h.64M295.6 63.0h.64M297.4 63.1h.64M293.7 67.8h.64M295.8 62.0h.64M307.5 65.2h.64M302.6 66.8h.64M292.0 73.6h.64M300.7 69.7h.64M295.0 66.6h.64M298.2 68.3h.64M290.6 70.0h.64M300.5 71.5h.64M291.4 64.9h.64M295.2 72.1h.64M295.9 74.4h.64M299.6 67.2h.64M297.4 70.4h.64M294.5 69.3h.64M295.5 63.3h.64M301.7 67.3h.64M297.2 63.4h.64M294.0 67.5h.64M301.8 65.4h.64M301.8 69.1h.64M300.3 71.5h.64M297.7 71.3h.64M292.3 70.5h.64M294.1 68.8h.64M287.2 67.9h.64M302.8 64.9h.64M292.3 68.4h.64M295.2 62.7h.64M296.5 67.9h.64M303.3 73.8h.64M299.3 70.8h.64M295.4 69.9h.64M293.3 73.9h.64M297.9 70.5h.64M298.1 72.9h.64M296.5 65.2h.64M294.7 68.1h.64M290.3 68.0h.64M293.3 69.3h.64M296.1 71.7h.64M303.1 62.6h.64M296.5 68.0h.64M297.0 63.0h.64M293.4 69.9h.64M292.1 65.9h.64M301.6 70.8h.64M294.9 66.4h.64M300.9 71.9h.64M299.7 66.9h.64M291.6 68.1h.64M295.0 65.4h.64M292.6 69.6h.64M302.6 65.5h.64M296.2 74.5h.64M289.6 65.2h.64M291.1 69.9h.64M291.0 68.6h.64M300.2 65.4h.64M296.6 66.7h.64M290.5 71.9h.64M288.7 69.5h.64M297.8 65.4h.64M293.9 68.1h.64M293.1 71.0h.64M291.3 70.8h.64M294.7 66.9h.64M296.1 60.6h.64M295.0 72.6h.64M294.8 67.5h.64M295.0 72.2h.64M302.8 65.0h.64M292.3 66.7h.64M296.8 69.1h.64M296.8 67.7h.64M295.0 67.6h.64M300.0 65.7h.64M296.1 64.3h.64M289.9 66.2h.64M296.2 65.6h.64M299.3 70.9h.64M291.8 71.7h.64M292.3 73.1h.64M290.3 69.2h.64M292.4 64.4h.64M295.3 69.4h.64M290.5 62.1h.64M295.4 67.2h.64M298.0 70.9h.64M294.2 73.1h.64M294.2 70.6h.64M294.5 68.1h.64M288.4 66.1h.64M305.5 65.2h.64M298.6 71.9h.64M293.5 69.5h.64M295.6 70.5h.64M301.4 67.3h.64M293.9 67.1h.64M297.7 70.4h.64M303.0 64.8h.64M296.7 69.8h.64M291.5 64.4h.64M291.8 68.3h.64M296.3 72.3h.64M298.7 68.1h.64M300.6 61.6h.64M301.2 71.8h.64M294.6 64.0h.64M302.8 66.5h.64M295.8 69.7h.64M298.0 68.5h.64M302.2 73.6h.64M301.6 67.9h.64M303.4 69.8h.64M299.2 65.6h.64M288.9 66.9h.64M297.4 67.4h.64M289.4 68.4h.64M290.7 70.9h.64M301.5 71.9h.64M293.5 70.6h.64M289.4 64.6h.64M297.8 74.6h.64M294.7 70.4h.64M297.3 72.5h.64M301.9 65.2h.64M295.6 70.4h.64M300.0 67.9h.64M302.7 72.2h.64M306.5 62.9h.64M294.6 69.0h.64M295.2 68.1h.64M294.8 74.1h.64M301.6 69.3h.64M294.6 65.7h.64M303.7 65.5h.64M300.7 67.5h.64M293.7 65.4h.64M295.8 68.8h.64M291.6 62.1h.64M293.6 64.0h.64M298.3 66.1h.64M295.8 66.0h.64M301.2 63.1h.64M294.4 64.1h.64M298.2 67.5h.64M293.4 61.9h.64M294.5 63.4h.64M301.7 70.4h.64M297.3 67.2h.64M299.6 65.7h.64M292.1 70.3h.64M294.1 68.5h.64M290.6 68.7h.64M299.0 69.1h.64M292.2 65.0h.64M291.7 69.0h.64M297.7 65.3h.64M302.1 64.5h.64M290.6 68.6h.64M295.4 69.4h.64M300.1 66.7h.64M301.1 67.7h.64M292.9 64.2h.64M298.8 62.7h.64M292.3 69.6h.64M298.8 70.1h.64M298.7 70.1h.64M304.5 62.8h.64M294.5 67.3h.64M294.3 66.5h.64M295.4 64.0h.64M296.6 71.1h.64M291.1 64.5h.64M297.8 68.5h.64M300.9 63.6h.64M292.9 63.1h.64M307.1 68.3h.64M291.7 65.6h.64M296.1 71.8h.64M299.4 65.0h.64M289.1 65.4h.64M305.6 65.1h.64M297.5 67.6h.64M294.5 60.4h.64M289.5 69.3h.64M295.9 66.8h.64M291.8 73.7h.64M302.0 68.3h.64M304.2 62.0h.64M292.5 70.6h.64M297.7 64.9h.64M292.7 67.7h.64M298.5 68.9h.64M294.8 66.4h.64M296.2 67.2h.64M293.5 63.0h.64M297.0 70.8h.64M304.8 66.7h.64M298.4 66.2h.64M297.7 67.1h.64M293.1 72.4h.64M292.3 61.5h.64M301.1 63.6h.64M301.0 66.2h.64M302.2 67.4h.64M294.8 65.8h.64M289.6 72.3h.64M296.4 61.1h.64M303.6 70.9h.64M293.2 66.1h.64M303.6 67.3h.64M300.2 65.6h.64M299.7 69.9h.64M297.6 73.0h.64M298.7 63.3h.64M295.7 61.1h.64M296.0 71.1h.64M288.5 66.8h.64M294.0 67.3h.64M295.1 67.0h.64M302.1 70.9h.64M293.2 68.8h.64M296.8 72.1h.64M298.4 66.8h.64M295.9 72.6h.64M289.6 69.9h.64M297.9 64.5h.64M301.9 66.6h.64M294.2 71.1h.64M304.8 71.3h.64M298.7 65.1h.64M295.3 66.6h.64M295.1 71.6h.64M295.3 74.2h.64M297.6 59.9h.64M290.9 65.1h.64M304.0 63.2h.64M291.2 67.6h.64M299.3 62.8h.64M292.0 73.7h.64M292.4 68.6h.64M292.1 73.2h.64M294.6 66.6h.64M300.2 67.8h.64M289.4 63.8h.64M289.6 70.1h.64M299.9 70.2h.64M295.7 73.8h.64M304.5 72.3h.64M296.6 68.9h.64M297.4 70.5h.64M298.9 65.2h.64M302.0 70.0h.64M303.8 64.4h.64M298.7 65.3h.64M299.5 73.7h.64M297.0 67.8h.64M289.2 65.6h.64M298.7 62.0h.64M290.6 66.8h.64M295.7 72.0h.64M292.7 64.7h.64M303.2 69.1h.64M301.5 60.5h.64M303.4 70.4h.64M290.5 69.9h.64M290.0 69.0h.64M292.4 67.1h.64M293.0 67.8h.64M305.1 69.7h.64M294.2 66.1h.64M293.4 72.8h.64M293.6 68.0h.64M295.8 67.1h.64M300.3 74.7h.64M301.2 65.4h.64M297.3 65.8h.64M296.1 66.6h.64M304.2 64.6h.64M295.8 65.9h.64M292.1 66.1h.64M297.3 61.6h.64M300.8 72.5h.64M291.4 72.0h.64M296.9 65.5h.64M295.7 69.5h.64M298.8 70.2h.64M294.4 67.2h.64M295.4 64.8h.64M295.4 68.1h.64M298.8 62.1h.64M287.2 68.9h.64M299.9 64.6h.64M293.5 67.4h.64M297.1 66.0h.64M294.7 70.6h.64M299.4 72.3h.64M299.5 69.8h.64M299.6 71.3h.64M304.3 71.9h.64M300.5 72.3h.64M291.4 66.7h.64M295.1 71.0h.64M297.6 66.1h.64M299.4 65.5h.64M296.7 70.7h.64M291.3 63.7h.64M292.3 61.2h.64M296.0 70.1h.64M298.7 67.3h.64M295.7 64.9h.64M296.4 68.8h.64M306.7 66.9h.64M301.7 72.2h.64M304.5 67.9h.64M296.9 63.1h.64M300.7 60.1h.64M300.6 72.5h.64M292.8 70.6h.64M303.8 62.3h.64M291.6 66.4h.64M299.1 66.8h.64M293.9 62.2h.64M293.0 71.0h.64M290.1 67.7h.64M296.3 63.6h.64M302.2 64.9h.64M302.1 63.5h.64M295.4 66.8h.64M299.0 68.6h.64M292.2 71.2h.64M298.9 74.2h.64M302.6 67.4h.64M296.7 62.9h.64M294.1 61.2h.64M295.5 63.8h.64M302.1 68.8h.64M289.5 66.7h.64M302.4 73.1h.64M297.4 63.1h.64M297.2 71.0h.64M293.6 69.4h.64M304.4 63.6h.64M299.8 69.4h.64M287.3 68.1h.64M292.1 63.2h.64M294.0 70.1h.64M295.1 70.5h.64M300.5 65.7h.64M295.9 73.9h.64M291.1 62.8h.64M303.0 69.2h.64M297.5 71.6h.64M292.6 72.1h.64M294.2 69.7h.64M295.2 63.4h.64M290.1 68.7h.64M294.8 71.1h.64M298.9 70.5h.64M306.3 66.1h.64M295.4 73.1h.64M290.6 65.4h.64M305.1 71.4h.64M288.7 70.3h.64M299.0 63.7h.64M303.8 67.9h.64M296.2 67.4h.64M301.0 72.8h.64M292.5 66.6h.64M296.5 70.8h.64M292.0 67.4h.64M297.4 65.3h.64M293.4 72.1h.64M296.3 64.5h.64M292.6 66.4h.64M291.2 69.5h.64M292.1 72.8h.64M295.9 67.7h.64M295.5 61.8h.64M287.9 65.1h.64M291.1 72.0h.64M289.0 68.7h.64M292.9 70.6h.64M300.3 67.4h.64M293.0 60.8h.64M300.8 66.7h.64M291.7 72.9h.64M292.3 69.2h.64M295.5 67.7h.64M293.1 71.7h.64M292.5 68.7h.64M290.0 67.2h.64M291.3 73.3h.64M293.4 61.8h.64M292.2 73.7h.64M290.9 70.0h.64M293.8 70.0h.64M296.3 68.0h.64M289.0 65.9h.64M294.0 71.5h.64M296.8 63.0h.64M288.3 69.6h.64M292.8 69.5h.64M295.2 63.6h.64M299.5 66.3h.64M300.8 72.0h.64M295.9 66.6h.64M297.8 71.8h.64M300.7 69.4h.64M292.3 65.5h.64M297.9 74.4h.64M301.5 71.0h.64M290.1 69.3h.64M294.1 67.7h.64M293.6 67.8h.64M292.4 62.8h.64M295.4 61.5h.64M298.9 72.7h.64M287.2 68.1h.64M293.2 62.4h.64M288.9 71.1h.64M299.8 63.5h.64M294.0 71.1h.64M295.2 70.7h.64M297.4 65.1h.64M296.3 67.5h.64M299.1 70.0h.64M290.8 61.7h.64M294.1 68.0h.64M291.8 68.5h.64M298.5 71.2h.64M296.2 68.4h.64M292.5 71.4h.64M299.2 65.2h.64M303.7 69.3h.64M291.7 67.5h.64M298.1 67.7h.64M300.6 64.9h.64M300.4 70.3h.64M289.7 67.3h.64M299.2 69.0h.64M297.4 72.9h.64M296.7 69.1h.64M301.4 63.8h.64M297.7 68.9h.64M293.4 65.7h.64M295.2 70.6h.64M288.3 65.5h.64M301.8 71.9h.64M297.3 65.6h.64M291.6 70.3h.64M293.5 69.0h.64M296.0 67.3h.64M290.6 66.4h.64M300.9 64.0h.64M301.6 73.4h.64M296.9 66.3h.64M293.5 65.3h.64M300.9 74.1h.64M296.2 63.5h.64M287.3 67.6h.64M293.7 70.9h.64M294.1 62.8h.64M301.2 71.4h.64M291.7 68.1h.64M295.7 70.0h.64M302.0 67.3h.64M290.7 72.8h.64M299.7 70.4h.64M296.2 72.9h.64M293.9 71.5h.64M300.4 68.5h.64M302.7 67.7h.64M294.7 71.9h.64M292.0 68.5h.64M290.0 68.5h.64M301.8 61.8h.64M299.3 69.9h.64M289.3 64.1h.64M289.2 68.5h.64M296.4 72.0h.64M290.7 66.3h.64M302.4 67.9h.64M291.1 68.6h.64M290.8 66.5h.64M288.3 63.9h.64M290.8 67.0h.64M296.0 67.4h.64M294.8 68.4h.64M293.0 62.8h.64M289.8 69.4h.64M299.8 64.0h.64M298.3 69.0h.64M296.2 67.5h.64M294.4 71.0h.64M301.1 72.2h.64M293.3 61.4h.64M296.6 66.4h.64M294.9 70.4h.64M294.5 65.3h.64M295.4 69.5h.64M297.4 70.4h.64M297.8 67.3h.64M296.4 74.0h.64M298.5 66.8h.64M299.7 66.2h.64M295.4 71.1h.64M294.7 74.0h.64M293.9 61.5h.64M289.1 67.5h.64M294.5 61.8h.64M294.4 71.9h.64M294.7 64.1h.64M296.5 67.8h.64M299.2 65.1h.64M301.1 61.3h.64M297.2 68.5h.64M300.0 63.8h.64M298.3 74.9h.64M294.3 66.7h.64M299.1 69.9h.64M292.2 67.8h.64M298.2 64.6h.64M291.3 64.8h.64M291.2 66.6h.64M295.6 71.0h.64M287.6 68.4h.64M289.9 62.8h.64M298.6 68.8h.64M289.5 68.5h.64M289.5 68.5h.64M288.7 70.5h.64M295.5 68.9h.64M306.5 66.9h.64M302.9 70.4h.64M300.2 65.9h.64M297.5 64.2h.64M299.7 68.0h.64M300.7 68.6h.64M294.0 69.2h.64M302.0 62.7h.64M296.7 66.9h.64M303.3 68.4h.64M289.8 66.7h.64M287.9 66.0h.64M291.7 69.6h.64M299.0 66.1h.64M294.1 72.9h.64M304.0 67.5h.64M298.5 72.1h.64M296.1 64.3h.64M293.5 65.4h.64M304.5 67.0h.64M293.5 67.1h.64M295.2 65.9h.64M298.3 65.1h.64M297.7 63.2h.64M302.6 67.1h.64M290.6 70.3h.64M297.7 68.4h.64M292.2 72.7h.64M294.4 71.5h.64M302.1 64.4h.64M301.4 70.7h.64M291.5 63.2h.64M294.5 72.0h.64M289.9 67.2h.64M301.2 69.3h.64M304.2 69.9h.64M296.8 73.7h.64M296.5 62.9h.64M291.0 68.0h.64M293.4 70.8h.64M292.7 64.6h.64M299.7 67.6h.64M300.2 65.3h.64M298.2 66.7h.64M302.5 61.9h.64M291.3 62.8h.64M299.5 71.1h.64M300.2 72.5h.64M300.4 68.3h.64M291.2 69.7h.64M293.9 64.1h.64M294.2 64.1h.64M298.9 66.8h.64M293.2 72.8h.64M301.5 68.0h.64M293.2 65.9h.64M289.5 69.6h.64M293.5 73.1h.64M299.9 69.4h.64M290.7 70.0h.64M293.4 71.7h.64M297.2 63.8h.64M295.2 73.2h.64M295.7 70.0h.64M292.6 70.0h.64M287.6 66.3h.64M301.9 70.6h.64M290.9 68.2h.64M288.0 65.3h.64M299.0 74.7h.64M289.3 67.5h.64M303.1 71.2h.64M298.7 64.9h.64M295.7 68.4h.64M295.5 67.3h.64M301.1 69.4h.64M295.0 70.7h.64M300.8 72.9h.64M297.4 70.3h.64M290.5 70.2h.64M300.1 69.7h.64M290.9 69.3h.64M293.0 67.0h.64M294.3 69.3h.64M297.7 68.0h.64M294.8 64.0h.64M301.5 66.3h.64M306.8 66.9h.64M293.4 64.5h.64M294.1 72.5h.64M295.6 70.3h.64M304.9 68.1h.64M297.9 67.4h.64M299.6 64.0h.64M298.0 68.5h.64M297.8 69.0h.64M296.3 63.5h.64M295.8 64.7h.64M292.7 64.7h.64M299.9 67.8h.64M299.3 68.0h.64M294.0 73.3h.64M303.0 70.1h.64M292.2 68.4h.64M294.8 64.7h.64M300.7 66.8h.64M294.3 68.0h.64M292.3 69.7h.64M295.1 68.6h.64M296.5 70.0h.64M307.8 65.0h.64M294.9 66.5h.64M302.5 63.0h.64M296.0 70.7h.64M296.1 68.8h.64M287.9 65.7h.64M291.5 64.8h.64M293.2 65.5h.64M303.6 65.3h.64M290.0 71.0h.64M292.6 71.9h.64M301.7 69.1h.64M288.9 65.4h.64M296.5 69.9h.64M289.3 68.4h.64M293.0 66.6h.64M296.7 67.5h.64M299.3 70.3h.64M299.3 70.0h.64M299.1 66.2h.64M294.9 65.3h.64M294.0 65.3h.64M290.7 64.8h.64M289.9 66.5h.64M294.1 70.4h.64M296.9 64.5h.64M301.2 73.1h.64M299.1 70.9h.64M290.4 72.4h.64M299.8 70.3h.64M291.1 67.2h.64M294.2 72.2h.64M299.5 73.2h.64M299.1 60.3h.64M306.9 68.1h.64M293.3 71.5h.64M296.8 63.9h.64M295.2 62.4h.64M299.0 71.4h.64M303.9 64.6h.64M296.6 72.2h.64M299.8 70.1h.64M297.0 65.9h.64M296.3 67.3h.64M293.9 70.6h.64M290.1 64.6h.64M290.2 72.1h.64M304.1 66.8h.64M301.2 70.0h.64M292.2 64.9h.64M298.0 65.1h.64M297.0 63.2h.64M288.9 65.1h.64M296.4 62.1h.64M300.1 68.6h.64M289.1 66.1h.64M296.5 66.0h.64M303.5 63.0h.64M296.7 67.7h.64M299.5 67.0h.64M296.8 73.2h.64M301.7 69.5h.64M289.1 66.8h.64M294.0 69.1h.64M292.9 67.8h.64M297.6 69.8h.64M301.7 70.9h.64M305.2 64.9h.64M291.9 72.2h.64M294.3 68.1h.64M307.1 70.8h.64M302.8 63.9h.64M295.0 67.8h.64M300.4 69.8h.64M302.7 63.5h.64M294.1 62.9h.64M304.6 65.9h.64M293.0 73.6h.64M299.2 73.1h.64M287.5 67.8h.64M298.9 68.1h.64M301.8 69.3h.64M291.7 71.2h.64M296.9 68.1h.64M290.8 67.3h.64M296.3 73.9h.64M290.6 61.8h.64M294.0 63.6h.64M295.2 72.4h.64M301.2 71.6h.64M298.4 62.8h.64M298.4 67.5h.64M290.7 62.4h.64M295.7 66.1h.64M292.0 63.8h.64M292.5 65.5h.64M298.6 67.7h.64M292.0 66.8h.64M294.8 69.8h.64M295.2 62.4h.64M298.3 67.5h.64M288.6 69.6h.64M295.0 62.4h.64M296.8 66.3h.64M300.0 67.2h.64M294.3 65.6h.64M302.1 65.5h.64M293.5 64.4h.64M294.0 72.8h.64M295.6 70.5h.64M289.5 65.5h.64M294.4 65.0h.64M300.7 64.1h.64M302.9 70.0h.64M290.7 63.9h.64M289.7 69.7h.64M300.3 70.9h.64M295.7 67.1h.64M291.0 70.9h.64M291.4 63.4h.64M292.5 69.9h.64M294.8 67.3h.64M292.2 68.8h.64M294.7 67.8h.64M297.0 69.6h.64M295.6 68.9h.64M301.5 63.1h.64M288.9 64.4h.64M288.9 68.4h.64M298.6 65.5h.64M291.9 69.2h.64M296.0 67.7h.64M297.7 71.7h.64M292.7 63.8h.64M297.6 71.8h.64M300.2 64.9h.64M296.0 74.6h.64M292.2 66.7h.64M308.0 67.7h.64M300.5 68.9h.64M296.1 71.2h.64M291.3 70.7h.64M291.9 64.2h.64M294.4 64.9h.64M302.1 66.2h.64M299.6 69.1h.64M296.7 67.6h.64M291.9 67.3h.64M299.0 61.6h.64M299.3 67.4h.64M298.2 61.3h.64M296.8 70.5h.64M292.2 68.2h.64M292.3 73.3h.64M296.0 65.1h.64M296.3 61.9h.64M288.4 65.6h.64M295.3 62.1h.64M294.3 62.7h.64M297.3 67.7h.64M291.5 73.2h.64M292.1 72.5h.64M291.9 61.2h.64M302.8 67.7h.64M292.0 63.0h.64M300.9 65.1h.64M299.1 68.1h.64M298.8 70.3h.64M299.1 66.8h.64M292.3 61.2h.64M297.4 67.5h.64M295.0 69.9h.64M294.5 64.4h.64M298.4 74.5h.64M292.5 64.7h.64M296.7 74.4h.64M295.9 68.0h.64M292.0 67.4h.64M300.1 71.8h.64M306.7 67.8h.64M294.0 64.2h.64M301.1 61.2h.64M305.6 67.2h.64M297.5 61.4h.64M298.5 70.0h.64M291.4 64.9h.64M298.1 66.1h.64M299.7 62.0h.64M293.4 65.8h.64M291.2 72.3h.64M293.6 61.7h.64M294.6 62.6h.64M301.6 70.2h.64M296.3 72.5h.64M292.8 68.1h.64M297.6 71.0h.64M292.6 65.5h.64M302.7 65.2h.64M296.9 68.0h.64M300.9 67.6h.64M294.5 60.4h.64M299.8 66.5h.64M287.6 67.7h.64M296.7 65.3h.64M288.4 67.1h.64M300.6 64.9h.64M303.7 70.3h.64M296.9 74.4h.64M294.1 71.4h.64M291.7 64.2h.64M289.8 64.6h.64M299.2 73.1h.64M301.6 70.6h.64M300.0 66.3h.64M305.4 69.7h.64M301.6 67.6h.64M297.5 64.5h.64M292.7 69.0h.64M303.2 66.2h.64M300.1 67.2h.64M296.5 66.2h.64M292.9 68.5h.64M292.8 69.3h.64M296.4 73.6h.64M303.4 73.2h.64M300.3 64.7h.64M292.7 67.4h.64M306.1 65.3h.64M289.2 69.7h.64M301.3 70.9h.64M295.3 66.3h.64M294.0 66.1h.64M301.1 68.7h.64M293.6 66.5h.64M298.8 64.5h.64M295.3 62.1h.64M300.8 69.9h.64M298.6 67.1h.64M295.6 65.2h.64M293.8 66.7h.64M291.7 69.9h.64M295.2 70.3h.64M297.0 67.4h.64M300.7 71.1h.64M293.5 68.9h.64M301.4 64.2h.64M295.3 69.0h.64M297.0 67.7h.64M296.7 67.5h.64M294.4 73.1h.64M306.8 71.1h.64M302.0 68.7h.64M305.0 71.8h.64M296.0 73.3h.64M298.6 70.5h.64M296.7 69.5h.64M298.3 69.6h.64M303.1 64.1h.64M288.5 64.0h.64M304.4 71.0h.64M295.8 65.5h.64M295.3 62.2h.64M297.7 68.8h.64M299.3 73.8h.64M293.9 67.9h.64M288.8 67.1h.64M300.6 71.6h.64M293.9 67.2h.64M289.5 71.4h.64M294.8 69.0h.64M296.9 65.8h.64M292.5 67.3h.64M296.8 70.0h.64M296.8 68.2h.64M293.3 64.6h.64M296.4 68.1h.64M293.4 73.3h.64M297.3 65.5h.64M293.7 67.9h.64M293.6 71.1h.64M295.9 60.3h.64M293.2 67.1h.64M293.4 66.1h.64M296.0 68.6h.64M295.6 65.7h.64M297.8 62.6h.64M289.3 65.8h.64M298.5 72.2h.64M299.6 67.0h.64M301.9 61.5h.64M289.3 66.8h.64M292.8 73.4h.64M290.7 65.5h.64M299.1 72.0h.64M291.2 66.3h.64M296.5 69.0h.64M295.9 63.9h.64M292.9 64.6h.64" stroke="#000" stroke-width="0.64" stroke-opacity="0.7" fill="none" filter="url(#sb)"/>
<ellipse cx="287.3" cy="69.1" rx="2.2" ry="3.6" fill="#000" opacity="0.7" filter="url(#sb2)"/>
<ellipse cx="297.8" cy="67.1" rx="11.3" ry="8" fill="none" stroke="#000" stroke-width="1.2"/>
<rect x="285.8" y="51.5" width="52.4" height="35" fill="none" stroke="#333" stroke-width="0.7"/>
<text x="336.7" y="55.95" font-size="4.25" text-anchor="end" font-weight="bold" fill="#111" dominant-baseline="central" stroke="#111" stroke-width="0.18">AMD3100 4 months</text>
<text x="336.9" y="68.05" font-size="5.5" text-anchor="end" font-weight="bold" fill="#111" dominant-baseline="central" stroke="#111" stroke-width="0.18" textLength="10.01" lengthAdjust="spacingAndGlyphs">85%</text>
<text x="345.1" y="88.5" font-size="2.4" font-weight="bold" text-anchor="middle" dominant-baseline="central" fill="#222">10<tspan font-size="1.68" dy="-0.8">0</tspan></text>
<text x="358.3" y="88.5" font-size="2.4" font-weight="bold" text-anchor="middle" dominant-baseline="central" fill="#222">10<tspan font-size="1.68" dy="-0.8">1</tspan></text>
<text x="371.5" y="88.5" font-size="2.4" font-weight="bold" text-anchor="middle" dominant-baseline="central" fill="#222">10<tspan font-size="1.68" dy="-0.8">2</tspan></text>
<text x="384.7" y="88.5" font-size="2.4" font-weight="bold" text-anchor="middle" dominant-baseline="central" fill="#222">10<tspan font-size="1.68" dy="-0.8">3</tspan></text>
<text x="397.9" y="88.5" font-size="2.4" font-weight="bold" text-anchor="middle" dominant-baseline="central" fill="#222">10<tspan font-size="1.68" dy="-0.8">4</tspan></text>
<path d="M364.4 67.3h.60M370.8 65.6h.60M377.4 63.6h.60M371.6 67.9h.60M375.5 66.6h.60M368.0 57.8h.60M371.8 62.2h.60M376.2 68.6h.60M371.1 65.4h.60M374.9 60.6h.60M366.1 61.8h.60M371.9 63.0h.60M366.0 61.2h.60M368.6 60.5h.60M371.7 75.5h.60M377.6 67.8h.60M372.5 65.4h.60M369.0 74.1h.60M366.3 68.1h.60M369.1 71.6h.60M374.5 73.9h.60M377.4 66.2h.60M376.1 69.4h.60M373.2 74.3h.60M370.6 79.4h.60M378.0 65.8h.60M379.5 62.0h.60M377.1 73.2h.60M369.0 63.3h.60M368.6 68.5h.60M371.5 70.2h.60M363.0 70.3h.60M379.0 68.9h.60M375.4 71.1h.60M367.5 65.5h.60M368.8 64.9h.60M372.8 67.5h.60M373.8 61.9h.60M375.9 66.8h.60M370.7 69.8h.60M372.5 67.4h.60M378.3 63.1h.60M378.6 68.1h.60M373.0 73.7h.60M371.6 62.8h.60M370.7 56.9h.60M372.5 70.7h.60M375.9 76.9h.60M368.5 62.2h.60M369.6 60.2h.60M378.8 67.4h.60M366.6 72.0h.60M367.5 73.0h.60M368.7 74.6h.60M364.9 60.6h.60M375.7 65.5h.60M365.7 71.6h.60M365.9 63.4h.60M365.9 73.1h.60M375.7 71.9h.60M367.8 68.5h.60M363.0 71.0h.60M369.5 63.0h.60M367.8 56.3h.60M375.7 60.0h.60M374.7 63.0h.60M370.0 69.4h.60M372.2 70.7h.60M376.5 67.1h.60M370.5 63.0h.60M377.8 71.7h.60M369.6 69.3h.60M372.2 65.6h.60M369.4 66.0h.60M374.9 68.6h.60M370.4 62.3h.60M377.4 65.0h.60M367.6 62.4h.60M369.9 70.1h.60M379.7 65.9h.60M374.3 61.4h.60M367.8 66.7h.60M374.5 71.0h.60M374.2 70.5h.60M371.0 70.6h.60M379.8 59.2h.60M377.4 61.0h.60M377.1 68.8h.60M373.7 66.8h.60M365.5 66.6h.60M371.4 74.2h.60M369.4 62.1h.60M371.7 79.3h.60M373.7 73.1h.60M372.7 65.9h.60M364.4 57.1h.60M371.1 59.8h.60M378.2 64.6h.60M369.3 76.1h.60M375.5 80.5h.60M365.8 65.8h.60M376.3 69.6h.60M362.8 64.3h.60M368.5 64.1h.60M375.1 59.6h.60M378.6 68.0h.60M370.3 64.6h.60M373.1 73.8h.60M372.5 57.3h.60M374.5 57.9h.60M373.5 61.0h.60M376.2 71.1h.60M370.9 71.3h.60M370.5 63.7h.60M372.1 63.8h.60M367.6 62.5h.60M365.9 69.7h.60M370.3 63.4h.60M367.5 73.6h.60M367.9 55.9h.60M369.2 61.3h.60M379.2 70.2h.60M381.1 69.0h.60M371.7 70.2h.60M375.0 70.1h.60M373.3 77.2h.60M365.1 72.6h.60M365.5 79.1h.60M366.3 63.4h.60M372.2 68.9h.60M371.1 58.6h.60M377.0 67.5h.60M378.4 70.1h.60M371.4 70.4h.60M375.3 69.6h.60M370.2 67.6h.60M369.9 63.6h.60M376.9 62.2h.60M370.0 67.8h.60M366.1 67.3h.60M372.4 70.9h.60M374.1 70.2h.60M374.1 58.9h.60M374.0 66.6h.60M363.2 64.6h.60M367.3 74.3h.60M362.9 70.2h.60M372.7 67.8h.60M365.2 67.4h.60M369.5 67.5h.60M374.5 65.4h.60M368.5 63.6h.60M370.7 62.6h.60M369.6 70.4h.60M370.6 72.0h.60M375.3 81.9h.60M369.3 63.2h.60M377.9 62.3h.60M376.2 70.7h.60M371.3 58.6h.60M371.6 74.9h.60M365.6 61.4h.60M374.2 63.4h.60M371.6 69.1h.60M366.8 79.3h.60M373.8 78.0h.60M375.9 70.1h.60M370.9 64.9h.60" stroke="#333" stroke-width="0.6" stroke-opacity="0.45" fill="none" filter="url(#sb)"/>
<path d="M362.9 77.1h.64M383.3 81.3h.64M348.7 78.6h.64M359.1 81.1h.64M351.4 76.5h.64M355.2 78.4h.64M373.7 78.3h.64M364.0 76.8h.64M361.4 81.8h.64M351.7 85.5h.64M355.5 73.9h.64M348.6 82.3h.64M376.0 79.9h.64M347.8 85.2h.64M352.6 76.6h.64M373.8 77.2h.64M356.0 86.0h.64M352.7 83.7h.64M354.7 82.9h.64M356.7 79.2h.64M357.7 79.4h.64M361.0 85.9h.64M359.1 74.1h.64M359.0 76.1h.64M359.8 76.6h.64M356.1 82.5h.64M359.9 77.1h.64M360.1 79.7h.64M374.2 84.8h.64M352.9 77.1h.64M357.6 82.0h.64M362.1 84.4h.64M354.6 76.8h.64M355.0 73.6h.64M346.7 79.1h.64M349.9 81.6h.64M345.9 74.4h.64M359.7 84.2h.64M351.8 75.4h.64M350.2 77.3h.64M355.0 73.9h.64M348.6 82.8h.64M345.1 75.9h.64M366.3 72.5h.64M347.6 80.5h.64M358.1 78.6h.64M352.9 78.4h.64M356.5 82.8h.64M365.1 85.7h.64M355.8 71.8h.64M346.2 83.5h.64M347.3 83.0h.64M346.7 71.8h.64M359.5 77.6h.64M347.2 85.2h.64M347.3 86.1h.64M350.5 77.7h.64M361.0 82.9h.64M357.2 81.1h.64M348.8 74.4h.64M349.2 75.1h.64M350.0 82.7h.64M356.4 85.3h.64M369.2 70.7h.64M370.7 84.9h.64M347.9 76.6h.64M380.5 79.2h.64M382.4 82.2h.64M356.8 83.8h.64M350.6 84.8h.64M352.1 77.4h.64M366.9 78.1h.64M373.9 79.7h.64M345.7 82.8h.64M350.0 82.3h.64M368.0 79.2h.64M353.3 83.2h.64M348.7 84.2h.64M371.0 74.4h.64M350.4 82.1h.64M378.8 86.1h.64M347.1 76.5h.64M366.4 78.0h.64M364.6 84.1h.64M354.5 70.9h.64M356.2 76.5h.64M349.8 83.2h.64M345.7 73.8h.64M348.0 76.4h.64M347.4 73.9h.64M366.6 71.1h.64M353.0 85.3h.64M365.8 79.4h.64M353.6 76.7h.64M369.0 72.3h.64M381.6 74.3h.64M361.9 85.3h.64M352.2 82.0h.64M353.1 76.0h.64M373.6 85.2h.64M346.5 76.8h.64M365.2 70.5h.64M355.9 76.7h.64M361.1 74.6h.64M350.3 83.1h.64M368.4 72.0h.64M350.0 77.5h.64M361.2 75.7h.64M370.2 78.8h.64M350.3 83.4h.64M349.0 86.0h.64M354.6 82.7h.64M347.7 81.4h.64M345.6 80.0h.64M354.0 82.7h.64M353.6 77.5h.64M382.0 76.8h.64M351.7 70.8h.64M348.4 84.9h.64M352.4 82.1h.64M356.7 81.7h.64M351.8 82.1h.64M376.3 79.6h.64M356.8 84.5h.64M356.8 80.2h.64M352.9 81.4h.64M356.5 78.8h.64M345.5 79.3h.64M357.8 81.5h.64M351.7 81.9h.64M355.7 84.6h.64M347.5 84.7h.64M351.0 83.1h.64M360.7 74.9h.64M375.4 78.7h.64M352.7 83.8h.64M365.1 76.8h.64M361.7 80.0h.64M347.5 84.1h.64M355.5 72.0h.64M360.1 81.4h.64M347.7 80.0h.64M354.2 80.2h.64M367.3 71.2h.64M379.1 76.1h.64M370.7 77.6h.64M354.6 78.9h.64M358.2 80.5h.64M358.0 75.3h.64M361.4 75.4h.64M361.7 81.3h.64M377.0 78.6h.64M375.6 70.0h.64M355.6 82.8h.64M356.8 83.9h.64M356.3 84.1h.64M363.2 83.6h.64M359.8 76.0h.64M349.1 84.0h.64M358.6 85.5h.64M351.1 70.5h.64M367.9 74.6h.64M351.1 72.8h.64M352.9 76.9h.64M365.0 74.1h.64M362.5 77.5h.64M346.9 81.1h.64M345.8 78.6h.64M364.0 82.3h.64M364.9 85.0h.64M383.8 82.1h.64M351.3 85.2h.64M371.7 75.9h.64M359.0 74.5h.64M348.2 83.4h.64M359.0 84.6h.64M346.2 83.1h.64M350.8 76.5h.64M349.7 76.3h.64M356.6 79.1h.64M354.7 79.3h.64M360.8 82.0h.64M350.7 76.5h.64M351.0 76.2h.64M370.8 72.7h.64M362.9 85.9h.64M349.1 80.1h.64M355.3 80.8h.64M345.1 81.4h.64M369.5 71.6h.64M353.0 75.1h.64M371.9 80.5h.64M357.3 77.7h.64M377.1 80.6h.64M364.7 74.4h.64M371.0 81.8h.64M377.5 85.0h.64M355.3 78.0h.64M347.1 83.8h.64M352.6 70.8h.64M349.7 81.2h.64M346.1 80.0h.64M350.8 83.4h.64M374.7 80.6h.64M354.6 84.2h.64M363.6 75.5h.64M354.6 82.8h.64M348.9 71.2h.64M360.4 76.1h.64M369.7 80.5h.64M349.3 81.2h.64M358.6 77.1h.64M367.7 85.2h.64M355.5 84.1h.64M378.0 74.6h.64M360.1 85.3h.64M368.9 81.3h.64M345.7 74.8h.64M350.4 82.6h.64M350.6 84.0h.64M350.1 84.0h.64M382.3 74.6h.64M347.9 81.8h.64M351.8 76.1h.64M357.6 84.5h.64M347.1 76.6h.64M354.3 81.7h.64M362.5 77.7h.64M358.4 70.3h.64M348.9 77.0h.64M355.3 72.3h.64M354.9 80.4h.64M347.3 82.2h.64M350.8 84.1h.64M362.4 85.7h.64M353.4 75.1h.64M349.7 80.8h.64M352.1 71.4h.64M374.7 77.8h.64M354.5 73.7h.64M361.0 79.7h.64M353.3 84.4h.64M347.6 80.3h.64M380.7 78.4h.64M365.2 84.2h.64M362.4 85.9h.64M362.5 77.4h.64M356.4 78.1h.64M355.2 84.5h.64M348.1 75.8h.64M360.1 83.7h.64M362.7 78.6h.64M358.3 79.6h.64M353.0 82.8h.64M387.4 69.7h.64M349.2 84.8h.64M346.0 82.7h.64M360.7 77.6h.64M358.5 73.9h.64M356.8 76.2h.64M371.7 84.0h.64M348.0 79.3h.64M375.1 81.2h.64M366.6 83.2h.64M384.7 77.3h.64M352.2 69.7h.64M357.8 77.5h.64M364.9 81.4h.64M348.2 83.9h.64M351.9 79.0h.64M353.5 81.7h.64M349.2 71.4h.64M357.2 86.1h.64M358.2 77.6h.64M364.7 85.5h.64M364.5 83.9h.64M369.3 81.9h.64M348.0 84.2h.64M357.0 74.7h.64M353.3 79.1h.64M352.8 76.8h.64M380.4 78.4h.64M353.9 77.1h.64M361.8 85.3h.64M355.2 78.2h.64M351.2 75.6h.64M368.5 80.9h.64M358.7 81.3h.64M372.5 75.0h.64M359.6 85.2h.64M353.0 81.9h.64M371.8 86.0h.64M364.4 81.7h.64M355.7 78.1h.64M354.2 76.8h.64M349.1 85.5h.64M348.3 77.3h.64M350.4 80.6h.64M349.7 84.7h.64M360.1 73.6h.64M352.4 73.7h.64M366.7 76.1h.64M362.4 80.2h.64M355.0 78.0h.64M352.6 81.1h.64M365.9 83.7h.64M356.6 75.9h.64M365.1 70.5h.64M347.1 73.6h.64M361.7 81.9h.64M348.8 75.9h.64M370.9 84.8h.64M347.1 71.2h.64M347.0 82.5h.64M355.0 77.1h.64M377.2 82.1h.64M347.3 82.5h.64M366.9 76.2h.64M376.5 83.1h.64M348.1 73.1h.64M352.1 71.3h.64M359.4 78.2h.64M357.6 74.2h.64M351.6 75.1h.64M352.9 77.7h.64M372.7 80.1h.64M347.8 80.7h.64M363.1 79.6h.64M359.1 77.5h.64M357.5 69.9h.64M352.8 85.1h.64M353.5 77.9h.64M346.9 85.2h.64M347.4 77.7h.64M354.9 82.5h.64M360.6 84.1h.64M359.9 84.2h.64M373.0 76.4h.64M346.8 77.5h.64M350.4 79.0h.64M376.3 78.9h.64M375.7 75.2h.64M349.0 85.3h.64M356.8 82.3h.64M364.3 78.7h.64M346.5 82.5h.64M365.3 82.4h.64M375.3 77.4h.64M351.3 83.0h.64M351.5 82.1h.64M351.3 85.2h.64M357.0 79.9h.64M362.7 79.3h.64M346.0 83.9h.64M364.5 83.6h.64M370.7 84.6h.64M348.6 83.3h.64M351.5 76.7h.64M349.6 85.5h.64M350.9 83.7h.64M369.2 82.3h.64M348.0 80.0h.64M353.4 75.5h.64M371.2 83.2h.64M371.4 71.6h.64M355.2 84.2h.64M367.5 82.0h.64M352.7 79.6h.64M357.6 75.6h.64M350.8 82.3h.64M383.0 80.7h.64M370.9 78.0h.64M382.1 78.8h.64M347.0 77.8h.64M382.5 81.5h.64M357.6 83.0h.64M352.8 85.0h.64M377.0 73.5h.64M353.3 75.0h.64M359.2 75.7h.64M359.1 83.2h.64M357.9 72.7h.64M357.7 82.0h.64M352.9 72.5h.64M350.5 86.0h.64M366.1 74.7h.64M355.8 80.0h.64M350.7 73.7h.64M355.9 81.7h.64M368.3 80.9h.64M351.9 81.5h.64M351.8 76.8h.64M365.2 85.0h.64M372.9 80.4h.64M385.3 74.2h.64M349.4 74.1h.64M362.1 83.3h.64M348.8 82.0h.64M365.9 84.5h.64M354.3 79.7h.64M353.7 82.8h.64M356.4 79.7h.64M361.1 84.6h.64M363.3 82.1h.64M356.0 83.5h.64M364.5 81.3h.64M354.4 81.9h.64M350.5 80.5h.64M366.1 85.2h.64M357.2 79.1h.64M358.6 80.5h.64M370.8 81.0h.64M364.2 80.4h.64M348.4 83.4h.64M352.5 79.1h.64M353.4 83.5h.64M345.8 76.1h.64M364.0 83.7h.64M345.8 70.3h.64M347.1 74.3h.64M358.9 80.8h.64M372.1 81.1h.64M357.3 79.7h.64M350.2 76.8h.64M349.1 80.5h.64M350.9 84.3h.64M353.6 83.8h.64M352.4 85.9h.64M354.5 71.4h.64M371.6 85.0h.64M345.1 71.1h.64M361.8 84.2h.64M354.4 77.0h.64M353.3 79.3h.64M348.8 81.4h.64M357.9 78.4h.64M353.8 78.4h.64M360.9 79.0h.64M352.2 85.4h.64M346.3 84.1h.64M367.0 70.0h.64M369.6 81.8h.64M355.9 80.7h.64M354.8 80.9h.64M347.8 85.5h.64M356.6 76.4h.64M355.7 71.7h.64M347.0 81.7h.64M353.8 73.3h.64M369.8 81.5h.64M369.4 84.3h.64M359.3 77.7h.64M350.6 73.4h.64M351.3 79.6h.64M346.1 80.5h.64M352.2 81.3h.64M350.3 83.0h.64M348.9 72.8h.64M355.4 85.8h.64M346.6 83.0h.64M370.0 81.6h.64M348.1 84.5h.64M378.9 80.3h.64M357.2 83.9h.64M366.5 82.2h.64M349.9 79.4h.64M350.2 78.0h.64M350.2 79.0h.64M357.4 73.1h.64M348.9 85.7h.64M383.5 71.7h.64M364.8 77.1h.64M347.6 83.0h.64M351.5 84.9h.64M347.3 73.9h.64M353.9 83.3h.64M361.0 74.0h.64M363.4 80.5h.64M352.0 82.2h.64M358.6 69.9h.64M346.3 79.3h.64M357.3 70.7h.64M348.6 84.6h.64M384.4 70.5h.64M352.7 83.2h.64M359.5 84.6h.64M385.3 79.1h.64M347.5 80.6h.64M371.3 84.3h.64M364.2 74.7h.64M379.4 85.1h.64M347.6 71.1h.64M361.2 76.8h.64M355.7 72.2h.64M366.3 83.7h.64M367.6 81.6h.64M370.0 82.0h.64M379.1 72.7h.64M348.6 72.9h.64M349.8 84.1h.64M359.3 83.1h.64M361.9 85.1h.64M347.9 84.1h.64M375.4 76.0h.64M356.2 83.5h.64M363.0 74.8h.64M357.5 78.6h.64M365.6 82.0h.64M372.1 82.8h.64M359.3 72.3h.64M363.0 84.7h.64M368.3 82.2h.64M356.4 83.5h.64M348.9 74.6h.64M377.9 71.5h.64M358.4 84.4h.64M349.5 77.5h.64M349.7 84.1h.64M345.9 70.9h.64M380.4 84.7h.64M372.4 79.2h.64M346.4 83.1h.64M345.7 82.0h.64M357.9 79.8h.64M346.5 81.6h.64M375.1 75.0h.64M353.2 78.9h.64M352.8 82.5h.64M361.6 81.3h.64M357.6 80.6h.64M352.6 70.7h.64M372.4 82.6h.64M353.2 81.8h.64M369.3 79.9h.64M360.8 83.8h.64M348.2 70.1h.64M352.2 77.3h.64M353.8 83.0h.64M351.9 83.1h.64M359.6 82.1h.64M381.8 77.1h.64M379.7 85.7h.64M363.0 83.0h.64M379.8 71.6h.64M360.7 80.1h.64M354.5 78.4h.64M365.9 76.3h.64M382.9 81.1h.64M351.3 81.9h.64M372.8 81.5h.64M358.5 81.0h.64M367.4 85.7h.64M360.8 81.3h.64M368.2 81.5h.64M362.3 76.8h.64M361.9 72.8h.64M347.2 75.1h.64M378.5 80.4h.64M347.4 75.7h.64M382.8 78.2h.64M377.5 80.8h.64M348.5 74.2h.64M370.3 78.6h.64M355.0 74.9h.64M357.7 77.2h.64M361.6 80.5h.64M361.1 81.0h.64M364.2 82.4h.64M356.2 73.6h.64M347.1 80.6h.64M357.1 82.6h.64M353.3 80.9h.64M368.1 85.3h.64M371.0 81.4h.64M347.7 81.3h.64M374.9 84.0h.64M361.7 77.8h.64M355.9 84.4h.64M353.4 77.0h.64M350.2 84.9h.64M356.6 85.9h.64M364.4 84.3h.64M352.7 76.5h.64M357.1 83.5h.64M352.6 83.0h.64M352.7 70.4h.64M349.4 85.3h.64M358.3 81.3h.64M375.2 76.0h.64M372.1 79.1h.64M351.8 82.9h.64M346.5 80.4h.64M371.7 79.6h.64M352.7 78.3h.64M362.0 77.6h.64M356.5 73.2h.64M387.4 78.5h.64M353.4 84.5h.64M345.5 85.8h.64M355.5 84.3h.64M346.7 75.7h.64M345.2 81.8h.64M350.2 84.3h.64M359.6 77.2h.64M375.5 80.3h.64M361.7 85.1h.64M362.2 83.8h.64M355.7 82.7h.64M354.1 84.0h.64M349.8 82.3h.64M370.9 79.2h.64M367.4 72.2h.64M367.4 72.1h.64M346.4 72.0h.64" stroke="#000" stroke-width="0.64" stroke-opacity="0.6" fill="none" filter="url(#sb)"/>
<path d="M369.3 82.1h.64M374.7 82.7h.64M374.9 79.2h.64M375.4 78.1h.64M372.9 79.7h.64M370.4 74.4h.64M370.7 82.4h.64M368.9 78.9h.64M368.6 81.6h.64M368.7 79.6h.64M375.8 77.6h.64M373.2 84.5h.64M370.2 82.4h.64M369.1 74.0h.64M372.1 71.3h.64M370.7 82.3h.64M370.8 85.6h.64M374.6 85.7h.64M369.5 78.2h.64M370.0 72.7h.64M368.0 80.9h.64M373.7 78.7h.64M372.9 83.9h.64M368.4 82.5h.64M373.5 73.9h.64M370.2 85.9h.64M372.6 77.0h.64M372.2 68.3h.64M370.4 82.1h.64M376.6 71.2h.64M367.6 80.6h.64M370.4 85.7h.64M371.8 74.2h.64M374.5 80.3h.64M370.6 76.9h.64M369.8 78.8h.64M371.8 78.7h.64M371.2 77.4h.64M370.2 86.0h.64M369.5 83.8h.64M370.5 74.7h.64M367.8 80.6h.64M375.7 82.0h.64M370.4 84.9h.64M370.8 78.7h.64M372.4 82.5h.64M370.6 84.6h.64M372.5 83.2h.64M373.0 73.6h.64M371.6 82.5h.64M372.2 85.1h.64M369.6 84.8h.64M367.8 72.3h.64M371.6 75.2h.64M372.7 84.2h.64M372.9 80.8h.64M370.9 84.1h.64M371.9 75.3h.64M370.3 80.3h.64M371.8 78.6h.64M370.7 81.5h.64M375.3 84.8h.64M371.8 82.2h.64M368.8 83.8h.64M371.4 85.4h.64M374.1 82.1h.64M373.6 80.5h.64M369.2 85.1h.64M372.7 70.9h.64M366.8 84.1h.64M368.6 72.7h.64M368.3 75.3h.64M374.3 76.8h.64M373.6 79.1h.64M370.3 82.1h.64M372.1 75.7h.64M372.5 76.3h.64M371.9 84.5h.64M370.5 85.2h.64M372.7 80.7h.64M371.7 77.3h.64M371.5 85.6h.64M368.7 69.4h.64M370.3 76.0h.64M369.4 68.8h.64M366.2 85.3h.64M367.7 75.1h.64M369.7 86.1h.64M372.4 81.1h.64M371.8 73.4h.64M370.1 77.6h.64M368.6 84.3h.64M371.9 85.0h.64M370.2 72.0h.64M369.7 81.4h.64M371.8 84.2h.64M371.0 81.3h.64M370.3 83.1h.64M373.7 79.4h.64M375.2 82.8h.64M372.6 78.8h.64M370.4 75.6h.64M370.8 74.4h.64M372.2 80.9h.64M370.0 75.5h.64M367.8 65.0h.64M372.1 77.2h.64M372.1 78.3h.64M369.6 83.1h.64M369.7 80.0h.64M372.7 82.7h.64M372.5 78.7h.64M371.6 77.5h.64M370.4 79.3h.64M374.4 74.7h.64M373.1 84.2h.64M370.7 84.8h.64M370.9 82.4h.64M370.1 84.2h.64M372.8 83.4h.64M370.6 78.8h.64" stroke="#000" stroke-width="0.64" stroke-opacity="0.6" fill="none" filter="url(#sb)"/>
<path d="M374.0 84.1h.64M372.9 83.2h.64M372.0 82.4h.64M371.6 83.5h.64M373.9 85.4h.64M370.1 84.5h.64M370.2 82.5h.64M368.0 84.9h.64M370.1 83.9h.64M372.8 84.2h.64M369.6 83.5h.64M368.2 80.5h.64M373.5 82.7h.64M374.5 86.0h.64M369.4 84.1h.64M367.7 82.8h.64M367.1 82.2h.64M370.6 82.1h.64M370.1 85.5h.64M369.0 86.0h.64M370.6 85.1h.64M372.6 82.3h.64M369.2 82.3h.64M372.6 86.0h.64M374.7 84.4h.64M372.7 81.5h.64M370.8 82.5h.64M373.9 82.4h.64M369.1 86.0h.64M370.0 85.5h.64M371.9 76.0h.64M370.8 81.3h.64M374.0 85.5h.64M371.6 84.4h.64M371.7 82.8h.64M371.2 80.4h.64M375.1 81.4h.64M371.7 84.5h.64M368.9 83.7h.64M370.7 86.0h.64M367.2 83.5h.64M370.1 85.3h.64M374.0 83.2h.64M372.0 85.7h.64M371.8 82.0h.64M368.0 85.2h.64M369.0 85.3h.64M370.5 84.8h.64M372.9 82.9h.64M372.9 83.3h.64M369.6 82.1h.64M372.7 80.9h.64M367.2 84.0h.64M372.5 82.8h.64M373.2 81.9h.64M370.2 79.3h.64M372.6 81.0h.64M373.2 82.3h.64M371.2 79.1h.64M370.9 82.3h.64M371.2 85.6h.64M371.1 83.5h.64M367.2 83.6h.64M371.1 79.8h.64M371.2 81.4h.64M371.0 81.2h.64M372.8 84.2h.64M373.5 78.6h.64M371.6 81.7h.64M371.7 80.7h.64M368.4 85.5h.64M371.1 85.8h.64M371.6 84.9h.64M372.1 82.9h.64M369.1 84.8h.64M371.3 84.4h.64M371.7 83.7h.64M371.9 82.8h.64M368.3 84.6h.64M371.2 83.0h.64M371.6 82.7h.64M373.0 86.0h.64M370.2 82.1h.64M369.2 83.5h.64M369.4 84.0h.64M367.3 82.3h.64M371.8 84.0h.64M370.9 86.0h.64M370.1 82.6h.64M370.0 82.9h.64M372.2 83.9h.64M373.3 84.3h.64M369.1 84.3h.64M372.0 84.8h.64M369.9 81.2h.64M369.5 82.1h.64M371.3 85.7h.64M371.2 85.8h.64M370.5 80.0h.64M371.4 81.7h.64M369.1 83.9h.64M374.2 81.5h.64M371.0 81.4h.64M368.8 80.1h.64M372.4 83.8h.64M370.9 83.6h.64M376.3 85.8h.64M368.2 80.7h.64M371.2 82.7h.64M371.9 83.5h.64" stroke="#000" stroke-width="0.64" stroke-opacity="0.75" fill="none" filter="url(#sb)"/>
<path d="M353.3 65.9h.64M359.8 68.1h.64M351.3 63.2h.64M361.1 72.4h.64M357.2 72.5h.64M351.5 67.1h.64M350.0 66.8h.64M349.2 72.0h.64M348.0 68.0h.64M352.1 70.5h.64M348.5 69.7h.64M348.0 64.9h.64M351.9 72.6h.64M353.0 67.9h.64M352.8 65.7h.64M348.7 68.0h.64M353.4 68.6h.64M351.8 66.0h.64M361.6 69.6h.64M355.6 62.4h.64M352.3 72.6h.64M356.1 63.5h.64M350.2 64.2h.64M358.4 70.3h.64M352.1 65.9h.64M346.5 68.3h.64M350.7 66.6h.64M356.4 63.4h.64M353.3 71.0h.64M358.3 61.9h.64M357.8 72.8h.64M351.2 67.6h.64M357.0 70.0h.64M350.4 68.7h.64M351.7 69.2h.64M351.3 68.2h.64M354.7 73.5h.64M353.0 72.0h.64M350.2 69.7h.64M351.5 68.7h.64M355.6 67.5h.64M350.2 64.8h.64M360.4 70.9h.64M360.8 68.1h.64M362.6 62.4h.64M355.3 63.3h.64M361.0 64.0h.64M363.2 71.4h.64M357.7 69.8h.64M364.8 69.3h.64M349.8 70.0h.64M355.5 67.8h.64M354.5 67.7h.64M352.5 71.5h.64M356.7 64.1h.64M351.9 64.8h.64M350.8 65.2h.64M355.0 70.0h.64M347.1 64.9h.64M363.6 63.6h.64M351.8 68.4h.64M354.2 62.1h.64M354.3 64.6h.64M350.6 70.0h.64M354.4 66.1h.64M350.0 64.7h.64M354.6 68.2h.64M354.7 71.0h.64M354.3 70.9h.64M353.2 64.3h.64M351.2 67.7h.64M365.3 68.9h.64M354.4 63.5h.64M357.4 68.5h.64M351.0 70.6h.64M353.5 68.5h.64M348.5 71.9h.64M354.5 72.9h.64M351.3 63.8h.64M357.7 66.3h.64M347.5 66.2h.64M359.9 70.0h.64M355.6 67.5h.64M358.9 72.5h.64M346.9 65.7h.64M350.9 67.6h.64M361.6 70.1h.64M354.3 65.6h.64M359.4 72.1h.64M351.5 72.0h.64M353.5 62.4h.64M359.9 72.7h.64M350.0 72.7h.64M351.4 68.9h.64M358.0 66.7h.64M356.4 68.5h.64M355.9 68.3h.64M352.1 66.7h.64M353.4 74.6h.64M358.0 66.1h.64M356.8 68.6h.64M353.9 68.7h.64M353.3 67.7h.64M355.6 64.8h.64M353.1 63.1h.64M356.1 70.2h.64M350.1 66.4h.64M357.7 66.3h.64M352.2 63.9h.64M351.8 64.9h.64M352.4 71.2h.64M356.9 61.9h.64M348.9 68.0h.64M356.1 70.7h.64M351.7 65.4h.64M363.6 71.4h.64M349.3 61.7h.64M350.2 66.8h.64M351.5 66.0h.64M357.5 70.2h.64M351.3 62.5h.64M349.9 66.4h.64M357.6 62.3h.64M353.2 74.2h.64M348.0 68.7h.64M357.9 72.0h.64M349.8 69.5h.64M359.3 70.3h.64M350.7 66.2h.64M351.6 66.5h.64M356.3 60.4h.64M361.3 70.5h.64M349.6 69.3h.64M348.4 64.8h.64M352.5 63.9h.64M360.5 67.2h.64M359.4 65.7h.64M357.0 69.4h.64M351.9 65.6h.64M357.6 69.1h.64M349.9 70.9h.64M348.0 62.9h.64M357.1 71.2h.64M353.3 69.0h.64M354.9 65.8h.64M355.6 71.5h.64M362.9 70.6h.64M357.1 65.8h.64M350.5 67.2h.64M346.0 67.9h.64M349.0 67.3h.64M348.2 67.1h.64M346.2 69.3h.64M362.2 69.8h.64M353.2 69.5h.64M355.8 73.8h.64M359.7 69.1h.64M356.9 71.4h.64M365.5 64.9h.64M354.3 66.0h.64M348.4 72.3h.64M357.6 69.4h.64M348.6 69.3h.64M352.6 66.9h.64M358.5 70.2h.64M351.9 70.0h.64M354.2 70.0h.64M353.9 65.3h.64M358.1 65.7h.64M351.7 70.1h.64M355.1 70.9h.64M351.6 70.3h.64M352.5 72.3h.64M355.8 65.9h.64M362.2 62.0h.64M356.5 66.1h.64M346.7 67.5h.64M355.5 69.0h.64M353.5 63.6h.64M351.6 70.3h.64M350.8 64.6h.64M350.0 69.9h.64M359.0 72.5h.64M358.9 68.4h.64M362.3 65.8h.64M359.3 74.1h.64M357.5 64.9h.64M355.1 67.0h.64M361.3 65.6h.64M358.0 71.3h.64M357.1 73.5h.64M353.0 65.3h.64M357.8 69.5h.64M355.9 71.3h.64M352.3 61.0h.64M361.1 66.6h.64M357.2 69.2h.64M351.0 73.1h.64M363.3 67.8h.64M354.0 69.2h.64M349.4 67.4h.64M356.9 67.0h.64M352.9 65.0h.64M358.3 73.6h.64M352.9 67.4h.64M350.8 72.5h.64M353.5 65.8h.64M357.4 64.5h.64M355.6 71.2h.64M356.1 68.8h.64M350.8 69.3h.64M361.7 70.7h.64M364.2 63.5h.64M351.9 70.0h.64M348.8 69.3h.64M354.3 68.2h.64M350.5 64.9h.64M348.2 63.6h.64M347.5 67.3h.64M354.6 61.3h.64M355.5 69.6h.64M358.9 68.6h.64M352.9 70.5h.64M349.7 73.0h.64M355.5 67.1h.64M349.4 67.9h.64M352.0 72.5h.64M357.2 65.9h.64M357.4 69.0h.64M351.5 67.4h.64M354.1 66.9h.64M358.3 65.2h.64M356.2 69.5h.64M352.5 64.7h.64M352.9 68.0h.64M355.3 72.2h.64M361.2 68.2h.64M353.8 68.0h.64M359.6 64.5h.64M357.7 64.7h.64M355.8 71.7h.64M350.7 65.8h.64M352.8 64.6h.64M361.7 68.7h.64M359.8 62.4h.64M346.8 66.2h.64M358.0 70.8h.64M349.9 66.8h.64M347.7 63.9h.64M354.5 64.2h.64M354.1 67.5h.64M358.5 71.0h.64M356.7 63.8h.64M359.2 64.4h.64M351.4 63.7h.64M347.9 64.5h.64M358.0 74.6h.64M354.8 69.0h.64M350.4 69.9h.64M358.1 72.0h.64M357.3 65.2h.64M358.3 67.3h.64M354.1 71.7h.64M360.1 71.5h.64M355.7 71.4h.64M356.5 73.5h.64M351.0 66.0h.64M360.2 68.6h.64M362.2 64.1h.64M346.3 66.5h.64M348.3 66.9h.64M363.9 69.5h.64M350.0 67.4h.64M360.8 71.1h.64M353.0 69.7h.64M354.8 65.3h.64M349.6 67.4h.64M354.8 68.8h.64M360.9 68.4h.64M362.9 62.2h.64M354.0 72.2h.64M357.8 65.5h.64M351.2 69.4h.64M357.1 73.1h.64M354.7 62.8h.64M353.7 61.2h.64M351.4 69.2h.64M359.9 65.0h.64M356.6 64.8h.64M355.2 65.5h.64M354.4 69.1h.64M350.7 68.4h.64M357.3 62.6h.64M355.8 65.6h.64M351.6 66.6h.64M351.9 66.9h.64M361.3 67.7h.64M355.9 70.8h.64M348.5 70.9h.64M351.0 63.9h.64M347.4 65.7h.64M354.3 69.1h.64M348.5 70.8h.64M355.9 63.3h.64M352.3 67.7h.64M355.2 60.4h.64M358.3 66.6h.64M350.5 70.7h.64M354.4 68.9h.64M353.8 63.8h.64M349.2 66.6h.64M359.5 68.3h.64M352.6 70.9h.64M354.4 71.5h.64M360.7 67.0h.64M352.0 62.0h.64M355.6 68.6h.64M360.1 63.3h.64M351.5 67.2h.64M352.0 66.3h.64M359.3 72.8h.64M349.0 70.0h.64M359.1 69.8h.64M351.2 63.7h.64M355.2 64.0h.64M362.5 69.6h.64M363.6 67.7h.64M351.5 64.4h.64M350.3 66.2h.64M352.6 69.8h.64M352.7 70.5h.64M362.1 69.9h.64M351.0 67.9h.64M348.6 70.3h.64M355.4 68.3h.64M363.6 62.1h.64M354.0 72.7h.64M347.6 67.8h.64M355.0 70.1h.64M353.5 66.3h.64M354.3 70.9h.64M350.1 69.4h.64M350.7 68.8h.64M360.1 66.7h.64M346.7 65.5h.64M349.2 70.8h.64M356.0 70.1h.64M348.7 63.5h.64M347.6 63.2h.64M355.7 65.7h.64M357.1 70.3h.64M363.7 67.0h.64M354.0 69.5h.64M354.4 62.3h.64M359.5 73.8h.64M353.3 66.6h.64M353.9 64.3h.64M364.9 63.9h.64M359.6 72.4h.64M354.1 69.6h.64M350.2 68.0h.64M355.6 62.3h.64M356.4 66.6h.64M359.4 66.2h.64M353.1 69.0h.64M363.0 71.0h.64M362.0 65.1h.64M357.1 69.5h.64M361.6 66.7h.64M353.3 65.7h.64M354.2 72.1h.64M353.9 69.7h.64M353.1 70.0h.64M357.8 61.7h.64M348.4 65.7h.64M361.0 61.2h.64M355.4 69.6h.64M350.9 68.0h.64M353.6 67.0h.64M353.8 66.1h.64M357.1 65.5h.64M347.9 69.8h.64M358.7 69.4h.64M353.1 66.1h.64M352.7 71.0h.64M347.2 65.1h.64M352.2 73.3h.64M351.6 72.6h.64M359.5 71.8h.64M354.5 62.4h.64M358.4 63.8h.64M354.5 66.4h.64M349.8 72.9h.64M349.3 68.3h.64M352.9 70.6h.64M363.2 67.2h.64M360.2 68.7h.64M353.5 70.1h.64M356.1 63.1h.64M354.8 68.9h.64M349.3 65.2h.64M354.3 64.8h.64M353.3 66.8h.64M353.9 64.6h.64M353.0 64.8h.64M353.9 65.4h.64M349.5 62.9h.64M348.2 64.3h.64M353.9 71.7h.64M353.9 67.7h.64M346.8 69.8h.64M360.0 61.8h.64M360.1 69.3h.64M350.3 70.9h.64M349.2 62.9h.64M350.9 66.2h.64M354.4 67.9h.64M356.4 66.2h.64M361.5 65.6h.64M361.3 68.0h.64M352.0 61.0h.64M348.5 69.5h.64M347.9 63.3h.64M352.1 71.8h.64M356.4 68.1h.64M356.3 64.2h.64M355.2 62.6h.64M352.7 65.1h.64M348.7 70.1h.64M355.4 64.8h.64M350.3 66.3h.64M356.5 62.8h.64M350.7 63.3h.64M359.7 62.2h.64M347.3 67.6h.64M351.1 73.9h.64M354.7 70.3h.64M353.9 67.3h.64M356.6 68.0h.64M348.9 67.8h.64M348.1 66.2h.64M356.6 68.7h.64M349.0 68.5h.64M348.7 64.5h.64M356.9 67.1h.64M353.1 72.0h.64M360.1 69.1h.64M353.8 68.6h.64M348.6 64.1h.64M361.3 65.6h.64M346.1 68.0h.64M351.4 71.1h.64M356.3 63.2h.64M357.9 65.3h.64M354.7 67.8h.64M361.7 64.4h.64M354.0 64.7h.64M347.2 66.2h.64M352.3 67.4h.64M353.7 64.5h.64M354.2 67.8h.64M352.6 70.9h.64M357.6 74.3h.64M362.7 65.3h.64M349.4 62.7h.64M349.6 69.8h.64M353.8 74.4h.64M359.9 68.4h.64M359.3 67.4h.64M351.7 72.2h.64M347.5 65.6h.64M350.7 69.9h.64M347.6 66.8h.64M356.1 68.7h.64M353.4 64.0h.64M353.4 70.4h.64M352.7 63.9h.64M354.4 66.8h.64M348.2 65.6h.64M356.0 66.4h.64" stroke="#000" stroke-width="0.64" stroke-opacity="0.3" fill="none" filter="url(#sb)"/>
<ellipse cx="346" cy="69" rx="2.2" ry="3.56" fill="#000" opacity="0.35" filter="url(#sb2)"/>
<ellipse cx="356" cy="67" rx="11" ry="7.9" fill="none" stroke="#000" stroke-width="1.2"/>
<rect x="344.5" y="51.5" width="52.8" height="35" fill="none" stroke="#333" stroke-width="0.7"/>
<text x="395.8" y="55.95" font-size="4.25" text-anchor="end" font-weight="bold" fill="#111" dominant-baseline="central" stroke="#111" stroke-width="0.18">AMD3100 + FTY720</text>
<text x="395.8" y="61.05" font-size="4.25" text-anchor="end" font-weight="bold" fill="#111" dominant-baseline="central" stroke="#111" stroke-width="0.18">4 months</text>
<text x="396" y="67.95" font-size="5.5" text-anchor="end" font-weight="bold" fill="#111" dominant-baseline="central" stroke="#111" stroke-width="0.18" textLength="10.01" lengthAdjust="spacingAndGlyphs">28%</text>
</svg></body></html>
